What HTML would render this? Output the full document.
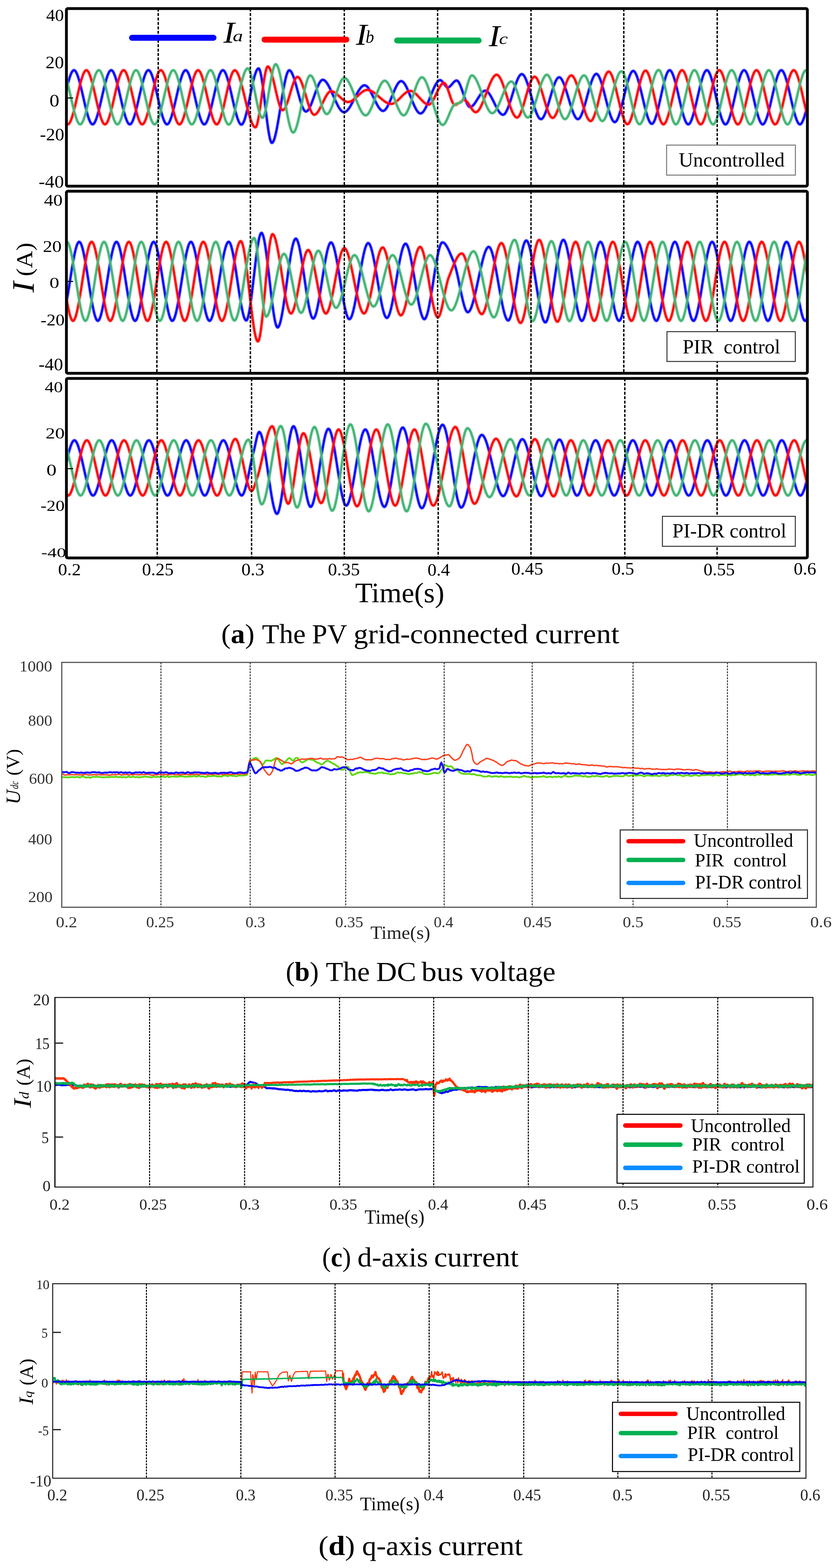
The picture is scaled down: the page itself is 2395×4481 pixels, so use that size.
<!DOCTYPE html>
<html><head><meta charset="utf-8"><title>PV grid-connected current, DC bus voltage, d/q-axis current</title>
<style>html,body{margin:0;padding:0;background:#fff;}svg{display:block;}text{white-space:pre;font-family:'Liberation Serif','Times New Roman',serif;}</style>
</head><body>
<svg xmlns="http://www.w3.org/2000/svg" width="2395" height="4481" viewBox="0 0 2395 4481">
<rect width="2395" height="4481" fill="#fff"/>
<filter id="soft" x="-2%" y="-10%" width="104%" height="120%"><feGaussianBlur stdDeviation="0.9"/></filter>
<clipPath id="ca0"><rect x="192.8" y="27.6" width="2111.7" height="501.4"/></clipPath>
<g clip-path="url(#ca0)"><g filter="url(#soft)">
<path d="M184.8 278 l1.5 -6.5 1.5 -6.6 1.5 -6.4 1.5 -6.3 1.5 -6.1 1.5 -5.9 1.5 -5.7 1.5 -5.4 1.5 -5 1.5 -4.7 1.5 -4.3 1.5 -3.8 1.5 -3.3 1.5 -2.7 1.5 -2.2 1.5 -1.5 1.5 -0.9 1.5 -0.2 1.5 0.6 1.5 1.2 1.5 1.9 1.5 2.5 1.5 3 1.5 3.6 1.5 4.1 1.5 4.4 1.5 4.9 1.5 5.2 1.5 5.6 1.5 5.8 1.5 6 1.5 6.3 1.5 6.3 1.5 6.5 1.5 6.5 1.5 6.6 1.5 6.5 1.5 6.5 1.5 6.4 1.5 6.2 1.5 6 1.5 5.8 1.5 5.5 1.5 5.2 1.5 4.9 1.5 4.4 1.5 4 1.5 3.6 1.5 3 1.5 2.4 1.5 1.9 1.5 1.2 1.5 0.5 1.5 -0.2 1.5 -1 1.5 -1.5 1.5 -2.3 1.5 -2.7 1.5 -3.4 1.5 -3.8 1.5 -4.3 1.5 -4.7 1.5 -5.1 1.5 -5.4 1.5 -5.7 1.5 -5.9 1.5 -6.1 1.5 -6.3 1.5 -6.5 1.5 -6.5 1.5 -6.5 1.5 -6.6 1.5 -6.5 1.5 -6.4 1.5 -6.3 1.5 -6.1 1.5 -5.9 1.5 -5.7 1.5 -5.3 1.5 -5.1 1.5 -4.6 1.5 -4.2 1.5 -3.8 1.5 -3.3 1.5 -2.7 1.5 -2.1 1.5 -1.5 1.5 -0.8 1.5 -0.2 1.5 0.6 1.5 1.3 1.5 2 1.5 2.5 1.5 3.1 1.5 3.6 1.5 4 1.5 4.6 1.5 4.9 1.5 5.2 1.5 5.6 1.5 5.8 1.5 6 1.5 6.3 1.5 6.4 1.5 6.4 1.5 6.6 1.5 6.5 1.5 6.6 1.5 6.4 1.5 6.4 1.5 6.2 1.5 6 1.5 5.8 1.5 5.5 1.5 5.2 1.5 4.8 1.5 4.4 1.5 4 1.5 3.5 1.5 3 1.5 2.4 1.5 1.8 1.5 1.1 1.5 0.5 1.5 -0.3 1.5 -0.9 1.5 -1.7 1.5 -2.2 1.5 -2.9 1.5 -3.3 1.5 -3.9 1.5 -4.3 1.5 -4.7 1.5 -5.1 1.5 -5.4 1.5 -5.7 1.5 -6 1.5 -6.2 1.5 -6.3 1.5 -6.4 1.5 -6.5 1.5 -6.6 1.5 -6.5 1.5 -6.5 1.5 -6.4 1.5 -6.3 1.5 -6.1 1.5 -5.9 1.5 -5.6 1.5 -5.4 1.5 -5 1.5 -4.6 1.5 -4.2 1.5 -3.7 1.5 -3.3 1.5 -2.6 1.5 -2.1 1.5 -1.5 1.5 -0.8 1.5 0 1.5 0.6 1.5 1.3 1.5 2 1.5 2.6 1.5 3.1 1.5 3.6 1.5 4.1 1.5 4.6 1.5 4.9 1.5 5.3 1.5 5.5 1.5 5.9 1.5 6.1 1.5 6.2 1.5 6.4 1.5 6.5 1.5 6.5 1.5 6.6 1.5 6.5 1.5 6.4 1.5 6.4 1.5 6.2 1.5 6 1.5 5.7 1.5 5.5 1.5 5.2 1.5 4.8 1.5 4.4 1.5 3.9 1.5 3.5 1.5 3 1.5 2.3 1.5 1.8 1.5 1.1 1.5 0.4 1.5 -0.3 1.5 -1 1.5 -1.7 1.5 -2.3 1.5 -2.9 1.5 -3.4 1.5 -3.9 1.5 -4.3 1.5 -4.7 1.5 -5.2 1.5 -5.4 1.5 -5.7 1.5 -6 1.5 -6.2 1.5 -6.3 1.5 -6.4 1.5 -6.6 1.5 -6.5 1.5 -6.6 1.5 -6.4 1.5 -6.4 1.5 -6.3 1.5 -6.1 1.5 -5.9 1.5 -5.6 1.5 -5.3 1.5 -5 1.5 -4.6 1.5 -4.2 1.5 -3.7 1.5 -3.2 1.5 -2.6 1.5 -2 1.5 -1.5 1.5 -0.7 1.5 0 1.5 0.7 1.5 1.3 1.5 2.1 1.5 2.6 1.5 3.1 1.5 3.7 1.5 4.1 1.5 4.6 1.5 4.9 1.5 5.3 1.5 5.6 1.5 5.9 1.5 6.1 1.5 6.2 1.5 6.4 1.5 6.5 1.5 6.6 1.5 6.5 1.5 6.5 1.5 6.5 1.5 6.3 1.5 6.2 1.5 6 1.5 5.7 1.5 5.5 1.5 5.1 1.5 4.8 1.5 4.4 1.5 3.9 1.5 3.4 1.5 2.9 1.5 2.4 1.5 1.7 1.5 1 1.5 0.4 1.5 -0.4 1.5 -1 1.5 -1.7 1.5 -2.4 1.5 -2.9 1.5 -3.4 1.5 -3.9 1.5 -4.4 1.5 -4.8 1.5 -5.1 1.5 -5.5 1.5 -5.7 1.5 -6 1.5 -6.2 1.5 -6.3 1.5 -6.5 1.5 -6.5 1.5 -6.5 1.5 -6.6 1.5 -6.5 1.5 -6.4 1.5 -6.2 1.5 -6.1 1.5 -5.9 1.5 -5.6 1.5 -5.3 1.5 -4.9 1.5 -4.6 1.5 -4.1 1.5 -3.7 1.5 -3.1 1.5 -2.6 1.5 -2.1 1.5 -1.3 1.5 -0.7 1.5 0 1.5 0.8 1.5 1.4 1.5 2.1 1.5 2.6 1.5 3.3 1.5 3.7 1.5 4.2 1.5 4.7 1.5 5 1.5 5.4 1.5 5.6 1.5 6 1.5 6.1 1.5 6.4 1.5 6.4 1.5 6.6 1.5 6.6 1.5 6.6 1.5 6.5 1.5 6.5 1.5 6.4 1.5 6.2 1.5 6 1.5 5.8 1.5 5.4 1.5 5.1 1.5 4.8 1.5 4.3 1.5 3.9 1.5 3.4 1.5 2.8 1.5 2.2 1.5 1.6 1.5 1 1.5 0.2 1.5 -0.6 1.5 -1.5 1.5 -2.2 1.5 -3 1.5 -3.6 1.5 -4.3 1.5 -4.8 1.5 -5.3 1.5 -5.8 1.5 -6.1 1.5 -6.5 1.5 -6.8 1.5 -7 1.5 -7.2 1.5 -7.3 1.5 -7.4 1.5 -7.4 1.5 -7.3 1.5 -7.2 1.5 -7.1 1.5 -6.9 1.5 -6.6 1.5 -6.2 1.5 -5.9 1.5 -5.4 1.5 -5 1.5 -4.4 1.5 -3.8 1.5 -3.2 1.5 -2.4 1.5 -1.7 1.5 -0.8 1.5 0.2 1.5 1.9 1.5 3.8 1.5 5.3 1.5 6.7 1.5 8.1 1.5 9.1 1.5 10.1 1.5 10.9 1.5 11.6 1.5 12.1 1.5 12.4 1.5 12.6 1.5 12.6 1.5 12.4 1.5 12.2 1.5 11.7 1.5 11.1 1.5 10.4 1.5 9.4 1.5 8.3 1.5 7.2 1.5 5.7 1.5 4.1 1.5 2.5 1.5 0.6 1.5 -0.8 1.5 -1.8 1.5 -2.8 1.5 -3.7 1.5 -4.6 1.5 -5.3 1.5 -6.1 1.5 -6.7 1.5 -7.2 1.5 -7.8 1.5 -8.2 1.5 -8.5 1.5 -8.9 1.5 -9.1 1.5 -9.2 1.5 -9.4 1.5 -9.4 1.5 -9.3 1.5 -9.2 1.5 -9.1 1.5 -8.8 1.5 -8.5 1.5 -8.1 1.5 -7.7 1.5 -7.1 1.5 -6.6 1.5 -5.9 1.5 -5.2 1.5 -4.4 1.5 -3.5 1.5 -2.6 1.5 -1.6 1.5 -0.6 1.5 0.3 1.5 1 1.5 1.7 1.5 2.2 1.5 2.7 1.5 3.2 1.5 3.6 1.5 4 1.5 4.4 1.5 4.7 1.5 4.9 1.5 5.2 1.5 5.3 1.5 5.4 1.5 5.6 1.5 5.5 1.5 5.6 1.5 5.5 1.5 5.4 1.5 5.3 1.5 5.1 1.5 4.9 1.5 4.6 1.5 4.3 1.5 3.9 1.5 3.5 1.5 3.1 1.5 2.6 1.5 2 1.5 1.5 1.5 0.8 1.5 0.2 1.5 -0.4 1.5 -0.9 1.5 -1.4 1.5 -1.7 1.5 -2.2 1.5 -2.5 1.5 -2.9 1.5 -3.1 1.5 -3.4 1.5 -3.6 1.5 -3.8 1.5 -4 1.5 -4.1 1.5 -4.2 1.5 -4.2 1.5 -4.3 1.5 -4.2 1.5 -4.2 1.5 -4.2 1.5 -4 1.5 -3.9 1.5 -3.7 1.5 -3.5 1.5 -3.2 1.5 -3 1.5 -2.6 1.5 -2.3 1.5 -2 1.5 -1.5 1.5 -1.1 1.5 -0.6 1.5 -0.1 1.5 0.3 1.5 0.6 1.5 0.9 1.5 1.1 1.5 1.5 1.5 1.6 1.5 2 1.5 2.1 1.5 2.3 1.5 2.5 1.5 2.7 1.5 2.8 1.5 3 1.5 3 1.5 3.2 1.5 3.2 1.5 3.4 1.5 3.3 1.5 3.4 1.5 3.4 1.5 3.5 1.5 3.4 1.5 3.3 1.5 3.4 1.5 3.2 1.5 3.2 1.5 3 1.5 3 1.5 2.8 1.5 2.7 1.5 2.5 1.5 2.3 1.5 2.1 1.5 2 1.5 1.6 1.5 1.5 1.5 1.1 1.5 0.9 1.5 0.6 1.5 0.3 1.5 -0.1 1.5 -0.3 1.5 -0.6 1.5 -0.9 1.5 -1.1 1.5 -1.4 1.5 -1.5 1.5 -1.8 1.5 -2 1.5 -2.1 1.5 -2.2 1.5 -2.5 1.5 -2.5 1.5 -2.6 1.5 -2.7 1.5 -2.8 1.5 -2.9 1.5 -2.9 1.5 -2.9 1.5 -3 1.5 -2.9 1.5 -3 1.5 -2.9 1.5 -2.8 1.5 -2.8 1.5 -2.7 1.5 -2.6 1.5 -2.5 1.5 -2.4 1.5 -2.3 1.5 -2 1.5 -2 1.5 -1.7 1.5 -1.5 1.5 -1.3 1.5 -1.1 1.5 -0.8 1.5 -0.6 1.5 -0.3 1.5 0 1.5 0.4 1.5 0.7 1.5 1 1.5 1.2 1.5 1.6 1.5 1.7 1.5 2 1.5 2.2 1.5 2.4 1.5 2.6 1.5 2.7 1.5 2.8 1.5 2.9 1.5 3 1.5 3 1.5 3.1 1.5 3.1 1.5 3.2 1.5 3.1 1.5 3 1.5 3 1.5 3 1.5 2.8 1.5 2.7 1.5 2.6 1.5 2.4 1.5 2.2 1.5 2 1.5 1.8 1.5 1.6 1.5 1.3 1.5 1 1.5 0.7 1.5 0.4 1.5 0.1 1.5 -0.4 1.5 -0.7 1.5 -1.1 1.5 -1.5 1.5 -1.8 1.5 -2.1 1.5 -2.3 1.5 -2.6 1.5 -2.9 1.5 -3 1.5 -3.2 1.5 -3.4 1.5 -3.4 1.5 -3.6 1.5 -3.6 1.5 -3.7 1.5 -3.7 1.5 -3.7 1.5 -3.7 1.5 -3.6 1.5 -3.6 1.5 -3.4 1.5 -3.3 1.5 -3.2 1.5 -3 1.5 -2.8 1.5 -2.6 1.5 -2.3 1.5 -2 1.5 -1.7 1.5 -1.4 1.5 -1.1 1.5 -0.6 1.5 -0.3 1.5 0.2 1.5 0.5 1.5 0.9 1.5 1.3 1.5 1.5 1.5 1.9 1.5 2.2 1.5 2.4 1.5 2.6 1.5 2.9 1.5 3.1 1.5 3.2 1.5 3.3 1.5 3.5 1.5 3.6 1.5 3.7 1.5 3.7 1.5 3.8 1.5 3.8 1.5 3.7 1.5 3.8 1.5 3.6 1.5 3.6 1.5 3.5 1.5 3.4 1.5 3.2 1.5 3.1 1.5 2.9 1.5 2.6 1.5 2.5 1.5 2.2 1.5 1.9 1.5 1.6 1.5 1.2 1.5 1 1.5 0.5 1.5 0.2 1.5 -0.2 1.5 -0.6 1.5 -1 1.5 -1.3 1.5 -1.6 1.5 -2 1.5 -2.2 1.5 -2.4 1.5 -2.7 1.5 -2.9 1.5 -3.1 1.5 -3.2 1.5 -3.4 1.5 -3.5 1.5 -3.6 1.5 -3.7 1.5 -3.8 1.5 -3.8 1.5 -3.8 1.5 -3.8 1.5 -3.8 1.5 -3.7 1.5 -3.6 1.5 -3.6 1.5 -3.4 1.5 -3.4 1.5 -3.1 1.5 -3 1.5 -2.7 1.5 -2.6 1.5 -2.3 1.5 -2 1.5 -1.8 1.5 -1.4 1.5 -1.1 1.5 -0.8 1.5 -0.4 1.5 0.1 1.5 0.6 1.5 1 1.5 1.4 1.5 1.8 1.5 1.9 1.5 2.1 1.5 2.2 1.5 2.1 1.5 2.1 1.5 1.8 1.5 1.6 1.5 1.2 1.5 0.8 1.5 0.2 1.5 -0.2 1.5 -0.6 1.5 -0.9 1.5 -1.2 1.5 -1.4 1.5 -1.6 1.5 -1.7 1.5 -1.7 1.5 -1.8 1.5 -1.7 1.5 -1.7 1.5 -1.5 1.5 -1.3 1.5 -1.1 1.5 -0.9 1.5 -0.5 1.5 -0.1 1.5 0.5 1.5 1.1 1.5 1.7 1.5 2.2 1.5 2.7 1.5 3.1 1.5 3.4 1.5 3.8 1.5 4 1.5 4.2 1.5 4.3 1.5 4.5 1.5 4.4 1.5 4.5 1.5 4.3 1.5 4.3 1.5 4 1.5 3.8 1.5 3.5 1.5 3.1 1.5 2.8 1.5 2.3 1.5 1.7 1.5 1.2 1.5 0.6 1.5 -0.1 1.5 -0.3 1.5 -0.7 1.5 -1 1.5 -1.1 1.5 -1.5 1.5 -1.6 1.5 -1.8 1.5 -1.9 1.5 -2.1 1.5 -2.2 1.5 -2.3 1.5 -2.4 1.5 -2.4 1.5 -2.4 1.5 -2.4 1.5 -2.4 1.5 -2.4 1.5 -2.3 1.5 -2.1 1.5 -2.1 1.5 -1.9 1.5 -1.8 1.5 -1.5 1.5 -1.4 1.5 -1.1 1.5 -0.9 1.5 -0.6 1.5 -0.3 1.5 0.1 1.5 0.3 1.5 0.8 1.5 1 1.5 1.3 1.5 1.5 1.5 1.8 1.5 2.1 1.5 2.2 1.5 2.4 1.5 2.5 1.5 2.7 1.5 2.8 1.5 2.9 1.5 3 1.5 3 1.5 3.1 1.5 3 1.5 3.1 1.5 3 1.5 2.9 1.5 2.9 1.5 2.8 1.5 2.6 1.5 2.5 1.5 2.4 1.5 2.1 1.5 2 1.5 1.7 1.5 1.5 1.5 1.2 1.5 0.9 1.5 0.6 1.5 0.3 1.5 -0.1 1.5 -0.7 1.5 -1.1 1.5 -1.6 1.5 -2.1 1.5 -2.4 1.5 -2.8 1.5 -3.1 1.5 -3.5 1.5 -3.7 1.5 -4 1.5 -4.2 1.5 -4.4 1.5 -4.5 1.5 -4.7 1.5 -4.7 1.5 -4.9 1.5 -4.8 1.5 -4.9 1.5 -4.9 1.5 -4.7 1.5 -4.7 1.5 -4.6 1.5 -4.5 1.5 -4.2 1.5 -4.1 1.5 -3.8 1.5 -3.5 1.5 -3.3 1.5 -2.9 1.5 -2.6 1.5 -2.1 1.5 -1.8 1.5 -1.3 1.5 -0.8 1.5 -0.3 1.5 0.2 1.5 0.9 1.5 1.3 1.5 1.8 1.5 2.3 1.5 2.7 1.5 3 1.5 3.5 1.5 3.8 1.5 4.1 1.5 4.3 1.5 4.6 1.5 4.8 1.5 4.9 1.5 5.1 1.5 5.2 1.5 5.2 1.5 5.3 1.5 5.3 1.5 5.3 1.5 5.3 1.5 5.1 1.5 5 1.5 4.9 1.5 4.7 1.5 4.5 1.5 4.2 1.5 3.9 1.5 3.7 1.5 3.2 1.5 3 1.5 2.5 1.5 2 1.5 1.6 1.5 1.1 1.5 0.5 1.5 0 1.5 -0.6 1.5 -1.1 1.5 -1.7 1.5 -2.1 1.5 -2.6 1.5 -3 1.5 -3.3 1.5 -3.7 1.5 -4 1.5 -4.3 1.5 -4.5 1.5 -4.7 1.5 -4.8 1.5 -5 1.5 -5.1 1.5 -5.2 1.5 -5.1 1.5 -5.2 1.5 -5.1 1.5 -5.1 1.5 -4.9 1.5 -4.8 1.5 -4.7 1.5 -4.4 1.5 -4.1 1.5 -3.9 1.5 -3.6 1.5 -3.2 1.5 -2.8 1.5 -2.4 1.5 -1.9 1.5 -1.5 1.5 -0.9 1.5 -0.4 1.5 0.2 1.5 0.7 1.5 1.3 1.5 1.7 1.5 2.1 1.5 2.6 1.5 2.9 1.5 3.3 1.5 3.6 1.5 3.9 1.5 4.1 1.5 4.4 1.5 4.5 1.5 4.7 1.5 4.8 1.5 4.9 1.5 5 1.5 5 1.5 5 1.5 5 1.5 5 1.5 4.8 1.5 4.7 1.5 4.5 1.5 4.4 1.5 4.1 1.5 3.9 1.5 3.7 1.5 3.3 1.5 2.9 1.5 2.6 1.5 2.2 1.5 1.7 1.5 1.3 1.5 0.8 1.5 0.2 1.5 -0.4 1.5 -0.9 1.5 -1.5 1.5 -2 1.5 -2.5 1.5 -3 1.5 -3.3 1.5 -3.8 1.5 -4 1.5 -4.4 1.5 -4.7 1.5 -4.9 1.5 -5 1.5 -5.3 1.5 -5.4 1.5 -5.4 1.5 -5.5 1.5 -5.6 1.5 -5.5 1.5 -5.4 1.5 -5.4 1.5 -5.3 1.5 -5 1.5 -4.9 1.5 -4.7 1.5 -4.4 1.5 -4 1.5 -3.8 1.5 -3.3 1.5 -3 1.5 -2.5 1.5 -2 1.5 -1.5 1.5 -0.9 1.5 -0.4 1.5 0.3 1.5 0.9 1.5 1.5 1.5 2.1 1.5 2.6 1.5 3.1 1.5 3.6 1.5 3.9 1.5 4.3 1.5 4.6 1.5 5 1.5 5.2 1.5 5.4 1.5 5.5 1.5 5.8 1.5 5.8 1.5 5.9 1.5 5.9 1.5 5.8 1.5 5.9 1.5 5.7 1.5 5.6 1.5 5.5 1.5 5.2 1.5 5 1.5 4.7 1.5 4.4 1.5 4 1.5 3.6 1.5 3.2 1.5 2.7 1.5 2.2 1.5 1.6 1.5 1.1 1.5 0.4 1.5 -0.3 1.5 -0.9 1.5 -1.6 1.5 -2.1 1.5 -2.7 1.5 -3.3 1.5 -3.7 1.5 -4.1 1.5 -4.6 1.5 -4.9 1.5 -5.2 1.5 -5.4 1.5 -5.7 1.5 -5.9 1.5 -6.1 1.5 -6.1 1.5 -6.2 1.5 -6.3 1.5 -6.2 1.5 -6.2 1.5 -6.1 1.5 -5.9 1.5 -5.8 1.5 -5.6 1.5 -5.3 1.5 -5 1.5 -4.7 1.5 -4.3 1.5 -3.9 1.5 -3.4 1.5 -2.9 1.5 -2.4 1.5 -1.9 1.5 -1.1 1.5 -0.6 1.5 0.2 1.5 0.8 1.5 1.5 1.5 2.2 1.5 2.6 1.5 3.3 1.5 3.6 1.5 4.2 1.5 4.5 1.5 5 1.5 5.2 1.5 5.5 1.5 5.8 1.5 6 1.5 6.1 1.5 6.3 1.5 6.3 1.5 6.4 1.5 6.4 1.5 6.3 1.5 6.3 1.5 6.1 1.5 6 1.5 5.8 1.5 5.5 1.5 5.3 1.5 4.9 1.5 4.6 1.5 4.2 1.5 3.7 1.5 3.3 1.5 2.7 1.5 2.1 1.5 1.6 1.5 0.9 1.5 0.2 1.5 -0.6 1.5 -1.3 1.5 -2 1.5 -2.6 1.5 -3.2 1.5 -3.8 1.5 -4.4 1.5 -4.7 1.5 -5.2 1.5 -5.6 1.5 -5.9 1.5 -6.1 1.5 -6.4 1.5 -6.5 1.5 -6.7 1.5 -6.8 1.5 -6.8 1.5 -6.7 1.5 -6.8 1.5 -6.6 1.5 -6.4 1.5 -6.3 1.5 -6 1.5 -5.7 1.5 -5.4 1.5 -5 1.5 -4.5 1.5 -4 1.5 -3.6 1.5 -2.9 1.5 -2.3 1.5 -1.6 1.5 -0.9 1.5 -0.2 1.5 0.6 1.5 1.3 1.5 2 1.5 2.5 1.5 3.1 1.5 3.6 1.5 4 1.5 4.6 1.5 4.9 1.5 5.2 1.5 5.6 1.5 5.8 1.5 6 1.5 6.3 1.5 6.4 1.5 6.4 1.5 6.6 1.5 6.5 1.5 6.6 1.5 6.4 1.5 6.4 1.5 6.2 1.5 6 1.5 5.8 1.5 5.5 1.5 5.2 1.5 4.8 1.5 4.4 1.5 4 1.5 3.5 1.5 3 1.5 2.4 1.5 1.8 1.5 1.1 1.5 0.5 1.5 -0.3 1.5 -0.9 1.5 -1.7 1.5 -2.2 1.5 -2.9 1.5 -3.3 1.5 -3.9 1.5 -4.3 1.5 -4.7 1.5 -5.1 1.5 -5.4 1.5 -5.7 1.5 -6 1.5 -6.2 1.5 -6.3 1.5 -6.4 1.5 -6.5 1.5 -6.6 1.5 -6.5 1.5 -6.5 1.5 -6.4 1.5 -6.3 1.5 -6.1 1.5 -5.9 1.5 -5.6 1.5 -5.4 1.5 -5 1.5 -4.6 1.5 -4.2 1.5 -3.7 1.5 -3.3 1.5 -2.6 1.5 -2.1 1.5 -1.5 1.5 -0.8 1.5 0 1.5 0.6 1.5 1.3 1.5 2 1.5 2.6 1.5 3.1 1.5 3.6 1.5 4.1 1.5 4.6 1.5 4.9 1.5 5.3 1.5 5.5 1.5 5.9 1.5 6.1 1.5 6.2 1.5 6.4 1.5 6.5 1.5 6.5 1.5 6.6 1.5 6.5 1.5 6.4 1.5 6.4 1.5 6.2 1.5 6 1.5 5.7 1.5 5.5 1.5 5.2 1.5 4.8 1.5 4.4 1.5 3.9 1.5 3.5 1.5 3 1.5 2.3 1.5 1.8 1.5 1.1 1.5 0.4 1.5 -0.3 1.5 -1 1.5 -1.7 1.5 -2.3 1.5 -2.9 1.5 -3.4 1.5 -3.9 1.5 -4.3 1.5 -4.7 1.5 -5.2 1.5 -5.4 1.5 -5.7 1.5 -6 1.5 -6.2 1.5 -6.3 1.5 -6.4 1.5 -6.6 1.5 -6.5 1.5 -6.6 1.5 -6.4 1.5 -6.4 1.5 -6.3 1.5 -6.1 1.5 -5.9 1.5 -5.6 1.5 -5.3 1.5 -5 1.5 -4.6 1.5 -4.2 1.5 -3.7 1.5 -3.2 1.5 -2.6 1.5 -2 1.5 -1.5 1.5 -0.7 1.5 0 1.5 0.7 1.5 1.3 1.5 2.1 1.5 2.6 1.5 3.1 1.5 3.7 1.5 4.1 1.5 4.6 1.5 4.9 1.5 5.3 1.5 5.6 1.5 5.9 1.5 6.1 1.5 6.2 1.5 6.4 1.5 6.5 1.5 6.6 1.5 6.5 1.5 6.5 1.5 6.5 1.5 6.3 1.5 6.2 1.5 6 1.5 5.7 1.5 5.5 1.5 5.1 1.5 4.8 1.5 4.4 1.5 3.9 1.5 3.4 1.5 2.9 1.5 2.4 1.5 1.7 1.5 1 1.5 0.4 1.5 -0.4 1.5 -1 1.5 -1.7 1.5 -2.4 1.5 -2.9 1.5 -3.4 1.5 -3.9 1.5 -4.4 1.5 -4.8 1.5 -5.1 1.5 -5.5 1.5 -5.7 1.5 -6 1.5 -6.2 1.5 -6.3 1.5 -6.5 1.5 -6.5 1.5 -6.5 1.5 -6.6 1.5 -6.5 1.5 -6.4 1.5 -6.2 1.5 -6.1 1.5 -5.9 1.5 -5.6 1.5 -5.3 1.5 -4.9 1.5 -4.6 1.5 -4.1 1.5 -3.7 1.5 -3.1 1.5 -2.6 1.5 -2.1 1.5 -1.3 1.5 -0.7 1.5 0 1.5 0.7 1.5 1.5 1.5 2 1.5 2.6 1.5 3.2 1.5 3.7 1.5 4.2 1.5 4.6 1.5 5 1.5 5.3 1.5 5.6 1.5 5.9 1.5 6.1 1.5 6.3 1.5 6.4 1.5 6.4 1.5 6.6 1.5 6.5 1.5 6.6 1.5 6.4 1.5 6.3 1.5 6.2 1.5 6 1.5 5.7 1.5 5.4 1.5 5.2 1.5 4.7 1.5 4.3 1.5 3.9 1.5 3.4 1.5 2.9 1.5 2.3 1.5 1.7 1.5 1 1.5 0.3 1.5 -0.4 1.5 -1.1 1.5 -1.8 1.5 -2.3 1.5 -3 1.5 -3.5 1.5 -3.9 1.5 -4.4 1.5 -4.8 1.5 -5.2 1.5 -5.5 1.5 -5.7 1.5 -6 1.5 -6.2 1.5 -6.4 1.5 -6.4 1.5 -6.5 1.5 -6.6" fill="none" stroke="#0000ff" stroke-width="7.00" stroke-linejoin="round" stroke-linecap="round"/>
<path d="M184.8 344 l1.5 3.4 1.5 2.9 1.5 2.2 1.5 1.7 1.5 1 1.5 0.3 1.5 -0.4 1.5 -1.1 1.5 -1.8 1.5 -2.4 1.5 -3 1.5 -3.4 1.5 -4 1.5 -4.4 1.5 -4.8 1.5 -5.2 1.5 -5.5 1.5 -5.7 1.5 -6 1.5 -6.2 1.5 -6.4 1.5 -6.5 1.5 -6.5 1.5 -6.5 1.5 -6.6 1.5 -6.5 1.5 -6.3 1.5 -6.3 1.5 -6 1.5 -5.9 1.5 -5.6 1.5 -5.2 1.5 -4.9 1.5 -4.6 1.5 -4.1 1.5 -3.6 1.5 -3.1 1.5 -2.6 1.5 -1.9 1.5 -1.3 1.5 -0.6 1.5 0 1.5 0.8 1.5 1.5 1.5 2.1 1.5 2.7 1.5 3.3 1.5 3.7 1.5 4.2 1.5 4.6 1.5 5 1.5 5.4 1.5 5.6 1.5 5.9 1.5 6.1 1.5 6.3 1.5 6.4 1.5 6.5 1.5 6.6 1.5 6.5 1.5 6.5 1.5 6.5 1.5 6.3 1.5 6.1 1.5 6 1.5 5.7 1.5 5.4 1.5 5.1 1.5 4.7 1.5 4.3 1.5 3.9 1.5 3.3 1.5 2.8 1.5 2.3 1.5 1.6 1.5 0.9 1.5 0.3 1.5 -0.5 1.5 -1.1 1.5 -1.9 1.5 -2.4 1.5 -3 1.5 -3.5 1.5 -4 1.5 -4.4 1.5 -4.9 1.5 -5.1 1.5 -5.6 1.5 -5.7 1.5 -6.1 1.5 -6.2 1.5 -6.3 1.5 -6.5 1.5 -6.5 1.5 -6.6 1.5 -6.5 1.5 -6.5 1.5 -6.4 1.5 -6.2 1.5 -6 1.5 -5.9 1.5 -5.5 1.5 -5.3 1.5 -4.9 1.5 -4.5 1.5 -4 1.5 -3.6 1.5 -3.1 1.5 -2.5 1.5 -1.9 1.5 -1.3 1.5 -0.6 1.5 0.2 1.5 0.8 1.5 1.5 1.5 2.2 1.5 2.7 1.5 3.3 1.5 3.8 1.5 4.2 1.5 4.7 1.5 5 1.5 5.3 1.5 5.7 1.5 5.9 1.5 6.1 1.5 6.3 1.5 6.5 1.5 6.5 1.5 6.5 1.5 6.6 1.5 6.5 1.5 6.4 1.5 6.3 1.5 6.1 1.5 6 1.5 5.7 1.5 5.4 1.5 5 1.5 4.7 1.5 4.3 1.5 3.8 1.5 3.3 1.5 2.8 1.5 2.2 1.5 1.6 1.5 0.9 1.5 0.2 1.5 -0.5 1.5 -1.2 1.5 -1.9 1.5 -2.5 1.5 -3 1.5 -3.5 1.5 -4.1 1.5 -4.4 1.5 -4.9 1.5 -5.2 1.5 -5.5 1.5 -5.8 1.5 -6.1 1.5 -6.2 1.5 -6.3 1.5 -6.5 1.5 -6.6 1.5 -6.5 1.5 -6.5 1.5 -6.5 1.5 -6.4 1.5 -6.2 1.5 -6 1.5 -5.8 1.5 -5.6 1.5 -5.2 1.5 -4.9 1.5 -4.4 1.5 -4.1 1.5 -3.5 1.5 -3.1 1.5 -2.4 1.5 -1.9 1.5 -1.2 1.5 -0.6 1.5 0.2 1.5 0.9 1.5 1.6 1.5 2.1 1.5 2.8 1.5 3.3 1.5 3.8 1.5 4.3 1.5 4.7 1.5 5 1.5 5.4 1.5 5.7 1.5 5.9 1.5 6.2 1.5 6.3 1.5 6.4 1.5 6.5 1.5 6.5 1.5 6.6 1.5 6.5 1.5 6.4 1.5 6.3 1.5 6.1 1.5 6 1.5 5.6 1.5 5.4 1.5 5 1.5 4.7 1.5 4.3 1.5 3.7 1.5 3.3 1.5 2.8 1.5 2.1 1.5 1.6 1.5 0.8 1.5 0.2 1.5 -0.6 1.5 -1.3 1.5 -1.9 1.5 -2.5 1.5 -3 1.5 -3.6 1.5 -4 1.5 -4.5 1.5 -4.9 1.5 -5.3 1.5 -5.5 1.5 -5.8 1.5 -6.1 1.5 -6.2 1.5 -6.4 1.5 -6.5 1.5 -6.5 1.5 -6.5 1.5 -6.6 1.5 -6.4 1.5 -6.4 1.5 -6.2 1.5 -6 1.5 -5.8 1.5 -5.5 1.5 -5.2 1.5 -4.9 1.5 -4.4 1.5 -4 1.5 -3.6 1.5 -3 1.5 -2.4 1.5 -1.8 1.5 -1.2 1.5 -0.5 1.5 0.2 1.5 1 1.5 1.6 1.5 2.2 1.5 2.8 1.5 3.4 1.5 3.8 1.5 4.3 1.5 4.7 1.5 5.1 1.5 5.4 1.5 5.7 1.5 5.9 1.5 6.2 1.5 6.3 1.5 6.4 1.5 6.5 1.5 6.6 1.5 6.5 1.5 6.5 1.5 6.4 1.5 6.3 1.5 6.1 1.5 5.9 1.5 5.7 1.5 5.3 1.5 5.1 1.5 4.6 1.5 4.2 1.5 3.8 1.5 3.2 1.5 2.7 1.5 2.1 1.5 1.5 1.5 0.8 1.5 0.2 1.5 -0.7 1.5 -1.4 1.5 -2 1.5 -2.7 1.5 -3.2 1.5 -3.8 1.5 -4.3 1.5 -4.7 1.5 -5.2 1.5 -5.5 1.5 -5.8 1.5 -6 1.5 -6.3 1.5 -6.5 1.5 -6.6 1.5 -6.7 1.5 -6.7 1.5 -6.7 1.5 -6.7 1.5 -6.6 1.5 -6.4 1.5 -6.2 1.5 -6 1.5 -5.8 1.5 -5.4 1.5 -5 1.5 -4.7 1.5 -4.2 1.5 -3.6 1.5 -3.2 1.5 -2.5 1.5 -1.9 1.5 -1.2 1.5 -0.5 1.5 0.2 1.5 0.9 1.5 1.4 1.5 1.9 1.5 2.5 1.5 2.9 1.5 3.4 1.5 3.8 1.5 4.1 1.5 4.6 1.5 4.8 1.5 5.1 1.5 5.4 1.5 5.5 1.5 5.8 1.5 5.9 1.5 6.1 1.5 6.1 1.5 6.2 1.5 6.2 1.5 6.3 1.5 6.1 1.5 6.1 1.5 6 1.5 5.9 1.5 5.7 1.5 5.5 1.5 5.3 1.5 5 1.5 4.7 1.5 4.4 1.5 4 1.5 3.6 1.5 3.2 1.5 2.8 1.5 2.2 1.5 1.8 1.5 1.1 1.5 0.6 1.5 -0.2 1.5 -1.8 1.5 -3.5 1.5 -4.9 1.5 -6.2 1.5 -7.4 1.5 -8.4 1.5 -9.2 1.5 -9.9 1.5 -10.4 1.5 -10.7 1.5 -11 1.5 -11 1.5 -10.9 1.5 -10.7 1.5 -10.2 1.5 -9.6 1.5 -8.9 1.5 -8 1.5 -6.9 1.5 -5.8 1.5 -4.3 1.5 -2.8 1.5 -1.2 1.5 0.3 1.5 1.3 1.5 2 1.5 2.7 1.5 3.5 1.5 4.1 1.5 4.6 1.5 5.1 1.5 5.5 1.5 5.8 1.5 6.2 1.5 6.3 1.5 6.5 1.5 6.6 1.5 6.6 1.5 6.6 1.5 6.5 1.5 6.2 1.5 6.1 1.5 5.7 1.5 5.3 1.5 4.9 1.5 4.4 1.5 3.9 1.5 3.1 1.5 2.5 1.5 1.7 1.5 0.9 1.5 0 1.5 -0.7 1.5 -1.4 1.5 -1.9 1.5 -2.5 1.5 -2.9 1.5 -3.4 1.5 -3.8 1.5 -4.1 1.5 -4.4 1.5 -4.6 1.5 -4.8 1.5 -5 1.5 -5 1.5 -5.1 1.5 -5 1.5 -5 1.5 -4.8 1.5 -4.7 1.5 -4.4 1.5 -4.2 1.5 -3.9 1.5 -3.4 1.5 -3.1 1.5 -2.6 1.5 -2 1.5 -1.5 1.5 -0.8 1.5 -0.2 1.5 0.5 1.5 1.1 1.5 1.6 1.5 2.1 1.5 2.7 1.5 3 1.5 3.4 1.5 3.8 1.5 4.1 1.5 4.4 1.5 4.6 1.5 4.7 1.5 5 1.5 5 1.5 5.1 1.5 5.1 1.5 5.1 1.5 5 1.5 5 1.5 4.8 1.5 4.6 1.5 4.4 1.5 4.2 1.5 3.8 1.5 3.5 1.5 3.2 1.5 2.7 1.5 2.2 1.5 1.7 1.5 1.2 1.5 0.6 1.5 0 1.5 -0.3 1.5 -0.8 1.5 -1.1 1.5 -1.4 1.5 -1.6 1.5 -2 1.5 -2.1 1.5 -2.4 1.5 -2.6 1.5 -2.7 1.5 -2.8 1.5 -3 1.5 -3 1.5 -3.1 1.5 -3.2 1.5 -3.1 1.5 -3.2 1.5 -3.1 1.5 -3 1.5 -3 1.5 -2.8 1.5 -2.7 1.5 -2.6 1.5 -2.3 1.5 -2.2 1.5 -1.9 1.5 -1.6 1.5 -1.4 1.5 -1.1 1.5 -0.7 1.5 -0.4 1.5 0 1.5 0.2 1.5 0.3 1.5 0.5 1.5 0.6 1.5 0.8 1.5 0.8 1.5 1 1.5 1 1.5 1.2 1.5 1.2 1.5 1.2 1.5 1.4 1.5 1.3 1.5 1.4 1.5 1.4 1.5 1.4 1.5 1.4 1.5 1.5 1.5 1.3 1.5 1.4 1.5 1.3 1.5 1.2 1.5 1.2 1.5 1.1 1.5 1 1.5 0.9 1.5 0.9 1.5 0.6 1.5 0.6 1.5 0.4 1.5 0.3 1.5 0.1 1.5 -0.1 1.5 -0.2 1.5 -0.3 1.5 -0.5 1.5 -0.6 1.5 -0.7 1.5 -0.9 1.5 -0.9 1.5 -1 1.5 -1.1 1.5 -1.2 1.5 -1.2 1.5 -1.3 1.5 -1.3 1.5 -1.4 1.5 -1.4 1.5 -1.4 1.5 -1.4 1.5 -1.4 1.5 -1.5 1.5 -1.4 1.5 -1.4 1.5 -1.3 1.5 -1.3 1.5 -1.3 1.5 -1.2 1.5 -1.1 1.5 -1.1 1.5 -1 1.5 -0.8 1.5 -0.8 1.5 -0.7 1.5 -0.5 1.5 -0.5 1.5 -0.2 1.5 -0.2 1.5 0 1.5 0.1 1.5 0.3 1.5 0.3 1.5 0.4 1.5 0.6 1.5 0.6 1.5 0.6 1.5 0.8 1.5 0.8 1.5 1 1.5 0.9 1.5 1 1.5 1.1 1.5 1.1 1.5 1.2 1.5 1.2 1.5 1.2 1.5 1.3 1.5 1.2 1.5 1.3 1.5 1.3 1.5 1.4 1.5 1.3 1.5 1.3 1.5 1.3 1.5 1.3 1.5 1.2 1.5 1.3 1.5 1.2 1.5 1.2 1.5 1.1 1.5 1.1 1.5 1 1.5 1 1.5 1 1.5 0.9 1.5 0.8 1.5 0.7 1.5 0.6 1.5 0.6 1.5 0.5 1.5 0.4 1.5 0.2 1.5 0.2 1.5 0.1 1.5 -0.1 1.5 -0.2 1.5 -0.4 1.5 -0.5 1.5 -0.6 1.5 -0.8 1.5 -0.9 1.5 -1 1.5 -1.1 1.5 -1.1 1.5 -1.3 1.5 -1.3 1.5 -1.4 1.5 -1.4 1.5 -1.5 1.5 -1.5 1.5 -1.5 1.5 -1.5 1.5 -1.6 1.5 -1.5 1.5 -1.5 1.5 -1.5 1.5 -1.5 1.5 -1.4 1.5 -1.3 1.5 -1.3 1.5 -1.3 1.5 -1.1 1.5 -1.1 1.5 -0.9 1.5 -0.9 1.5 -0.7 1.5 -0.6 1.5 -0.5 1.5 -0.3 1.5 -0.2 1.5 0 1.5 0.2 1.5 0.4 1.5 0.5 1.5 0.6 1.5 0.9 1.5 0.9 1.5 1.1 1.5 1.1 1.5 1.3 1.5 1.4 1.5 1.4 1.5 1.5 1.5 1.6 1.5 1.6 1.5 1.6 1.5 1.7 1.5 1.6 1.5 1.7 1.5 1.7 1.5 1.6 1.5 1.6 1.5 1.6 1.5 1.5 1.5 1.5 1.5 1.3 1.5 1.3 1.5 1.2 1.5 1.1 1.5 1 1.5 0.8 1.5 0.7 1.5 0.6 1.5 0.3 1.5 0.3 1.5 0 1.5 -0.4 1.5 -0.7 1.5 -1.2 1.5 -1.4 1.5 -1.8 1.5 -2.1 1.5 -2.3 1.5 -2.5 1.5 -2.7 1.5 -2.9 1.5 -3 1.5 -3.1 1.5 -3.1 1.5 -3.2 1.5 -3.2 1.5 -3.2 1.5 -3.1 1.5 -3 1.5 -3 1.5 -2.7 1.5 -2.6 1.5 -2.4 1.5 -2.1 1.5 -1.9 1.5 -1.6 1.5 -1.2 1.5 -0.9 1.5 -0.5 1.5 -0.1 1.5 0.7 1.5 1.5 1.5 2.1 1.5 2.8 1.5 3.2 1.5 3.7 1.5 4 1.5 4.2 1.5 4.5 1.5 4.5 1.5 4.5 1.5 4.5 1.5 4.3 1.5 4 1.5 3.7 1.5 3.3 1.5 2.8 1.5 2.3 1.5 1.5 1.5 0.8 1.5 0.1 1.5 -0.3 1.5 -0.5 1.5 -0.6 1.5 -0.8 1.5 -1 1.5 -1 1.5 -1.1 1.5 -1.2 1.5 -1.1 1.5 -1.2 1.5 -1.1 1.5 -1 1.5 -0.9 1.5 -0.8 1.5 -0.7 1.5 -0.4 1.5 -0.3 1.5 0.1 1.5 0.4 1.5 0.8 1.5 1.2 1.5 1.4 1.5 1.7 1.5 1.9 1.5 2.1 1.5 2.2 1.5 2.4 1.5 2.4 1.5 2.3 1.5 2.4 1.5 2.3 1.5 2.2 1.5 2 1.5 1.9 1.5 1.6 1.5 1.4 1.5 1 1.5 0.7 1.5 0.3 1.5 -0.1 1.5 -0.5 1.5 -0.9 1.5 -1.2 1.5 -1.6 1.5 -1.8 1.5 -2.2 1.5 -2.4 1.5 -2.6 1.5 -2.9 1.5 -3.1 1.5 -3.2 1.5 -3.5 1.5 -3.6 1.5 -3.7 1.5 -3.8 1.5 -3.9 1.5 -3.9 1.5 -4 1.5 -4 1.5 -4.1 1.5 -4 1.5 -3.9 1.5 -3.9 1.5 -3.9 1.5 -3.7 1.5 -3.6 1.5 -3.5 1.5 -3.3 1.5 -3.2 1.5 -2.9 1.5 -2.8 1.5 -2.5 1.5 -2.2 1.5 -1.9 1.5 -1.7 1.5 -1.3 1.5 -1 1.5 -0.6 1.5 -0.3 1.5 0.2 1.5 0.6 1.5 1.1 1.5 1.5 1.5 1.9 1.5 2.3 1.5 2.6 1.5 2.9 1.5 3.2 1.5 3.5 1.5 3.7 1.5 3.9 1.5 4.2 1.5 4.3 1.5 4.4 1.5 4.5 1.5 4.7 1.5 4.6 1.5 4.8 1.5 4.7 1.5 4.8 1.5 4.6 1.5 4.7 1.5 4.5 1.5 4.4 1.5 4.3 1.5 4.2 1.5 3.9 1.5 3.7 1.5 3.5 1.5 3.2 1.5 2.9 1.5 2.6 1.5 2.3 1.5 1.9 1.5 1.5 1.5 1.1 1.5 0.6 1.5 0.2 1.5 -0.4 1.5 -1 1.5 -1.5 1.5 -2 1.5 -2.5 1.5 -3 1.5 -3.3 1.5 -3.7 1.5 -4.1 1.5 -4.3 1.5 -4.5 1.5 -4.8 1.5 -4.9 1.5 -5.1 1.5 -5.2 1.5 -5.2 1.5 -5.3 1.5 -5.2 1.5 -5.2 1.5 -5.1 1.5 -4.9 1.5 -4.8 1.5 -4.6 1.5 -4.4 1.5 -4 1.5 -3.8 1.5 -3.4 1.5 -3 1.5 -2.6 1.5 -2.1 1.5 -1.6 1.5 -1 1.5 -0.5 1.5 0.2 1.5 0.7 1.5 1.2 1.5 1.8 1.5 2.2 1.5 2.6 1.5 3.1 1.5 3.4 1.5 3.8 1.5 4 1.5 4.3 1.5 4.5 1.5 4.7 1.5 4.9 1.5 5 1.5 5.1 1.5 5.1 1.5 5.1 1.5 5.2 1.5 5 1.5 5 1.5 4.9 1.5 4.7 1.5 4.5 1.5 4.3 1.5 4 1.5 3.7 1.5 3.4 1.5 3 1.5 2.7 1.5 2.2 1.5 1.7 1.5 1.2 1.5 0.7 1.5 0.1 1.5 -0.5 1.5 -1 1.5 -1.5 1.5 -1.9 1.5 -2.4 1.5 -2.8 1.5 -3.2 1.5 -3.5 1.5 -3.8 1.5 -4.1 1.5 -4.3 1.5 -4.6 1.5 -4.7 1.5 -4.8 1.5 -5 1.5 -5 1.5 -5.1 1.5 -5.2 1.5 -5.1 1.5 -5 1.5 -5 1.5 -4.8 1.5 -4.7 1.5 -4.6 1.5 -4.3 1.5 -4.1 1.5 -3.8 1.5 -3.5 1.5 -3.2 1.5 -2.8 1.5 -2.4 1.5 -1.9 1.5 -1.5 1.5 -1 1.5 -0.5 1.5 0.1 1.5 0.7 1.5 1.2 1.5 1.6 1.5 2.2 1.5 2.5 1.5 3 1.5 3.3 1.5 3.7 1.5 4 1.5 4.3 1.5 4.5 1.5 4.7 1.5 4.9 1.5 5 1.5 5.2 1.5 5.2 1.5 5.3 1.5 5.3 1.5 5.3 1.5 5.3 1.5 5.2 1.5 5.1 1.5 5 1.5 4.8 1.5 4.6 1.5 4.3 1.5 4.2 1.5 3.8 1.5 3.5 1.5 3.1 1.5 2.8 1.5 2.3 1.5 1.9 1.5 1.4 1.5 0.9 1.5 0.4 1.5 -0.3 1.5 -0.9 1.5 -1.6 1.5 -2.2 1.5 -2.7 1.5 -3.2 1.5 -3.8 1.5 -4.1 1.5 -4.6 1.5 -4.8 1.5 -5.2 1.5 -5.5 1.5 -5.7 1.5 -5.8 1.5 -6 1.5 -6.1 1.5 -6.2 1.5 -6.2 1.5 -6.1 1.5 -6.1 1.5 -5.9 1.5 -5.8 1.5 -5.6 1.5 -5.4 1.5 -5.1 1.5 -4.8 1.5 -4.4 1.5 -4 1.5 -3.6 1.5 -3.1 1.5 -2.5 1.5 -2 1.5 -1.4 1.5 -0.7 1.5 0 1.5 0.6 1.5 1.3 1.5 2 1.5 2.4 1.5 3.1 1.5 3.5 1.5 3.9 1.5 4.4 1.5 4.7 1.5 5.1 1.5 5.3 1.5 5.6 1.5 5.9 1.5 6 1.5 6.1 1.5 6.2 1.5 6.3 1.5 6.3 1.5 6.3 1.5 6.2 1.5 6.1 1.5 6 1.5 5.8 1.5 5.6 1.5 5.3 1.5 5 1.5 4.7 1.5 4.3 1.5 3.9 1.5 3.5 1.5 2.9 1.5 2.4 1.5 1.9 1.5 1.2 1.5 0.6 1.5 -0.2 1.5 -0.8 1.5 -1.6 1.5 -2.2 1.5 -2.9 1.5 -3.4 1.5 -3.9 1.5 -4.4 1.5 -4.8 1.5 -5.2 1.5 -5.6 1.5 -5.8 1.5 -6.1 1.5 -6.3 1.5 -6.5 1.5 -6.6 1.5 -6.6 1.5 -6.7 1.5 -6.6 1.5 -6.6 1.5 -6.5 1.5 -6.3 1.5 -6.2 1.5 -5.9 1.5 -5.5 1.5 -5.3 1.5 -4.9 1.5 -4.4 1.5 -4 1.5 -3.5 1.5 -2.9 1.5 -2.3 1.5 -1.7 1.5 -1 1.5 -0.2 1.5 0.6 1.5 1.2 1.5 2 1.5 2.6 1.5 3.3 1.5 3.8 1.5 4.2 1.5 4.8 1.5 5.1 1.5 5.6 1.5 5.8 1.5 6.1 1.5 6.4 1.5 6.5 1.5 6.6 1.5 6.8 1.5 6.8 1.5 6.7 1.5 6.7 1.5 6.6 1.5 6.5 1.5 6.3 1.5 6 1.5 5.7 1.5 5.4 1.5 5.1 1.5 4.5 1.5 4.2 1.5 3.5 1.5 3.1 1.5 2.4 1.5 1.7 1.5 1 1.5 0.3 1.5 -0.5 1.5 -1.1 1.5 -1.9 1.5 -2.4 1.5 -3 1.5 -3.5 1.5 -4 1.5 -4.4 1.5 -4.9 1.5 -5.1 1.5 -5.6 1.5 -5.7 1.5 -6.1 1.5 -6.2 1.5 -6.3 1.5 -6.5 1.5 -6.5 1.5 -6.6 1.5 -6.5 1.5 -6.5 1.5 -6.4 1.5 -6.2 1.5 -6 1.5 -5.9 1.5 -5.5 1.5 -5.3 1.5 -4.9 1.5 -4.5 1.5 -4 1.5 -3.6 1.5 -3.1 1.5 -2.5 1.5 -1.9 1.5 -1.3 1.5 -0.6 1.5 0.2 1.5 0.8 1.5 1.5 1.5 2.2 1.5 2.7 1.5 3.3 1.5 3.8 1.5 4.2 1.5 4.7 1.5 5 1.5 5.3 1.5 5.7 1.5 5.9 1.5 6.1 1.5 6.3 1.5 6.5 1.5 6.5 1.5 6.5 1.5 6.6 1.5 6.5 1.5 6.4 1.5 6.3 1.5 6.1 1.5 6 1.5 5.7 1.5 5.4 1.5 5 1.5 4.7 1.5 4.3 1.5 3.8 1.5 3.3 1.5 2.8 1.5 2.2 1.5 1.6 1.5 0.9 1.5 0.2 1.5 -0.5 1.5 -1.2 1.5 -1.9 1.5 -2.5 1.5 -3 1.5 -3.5 1.5 -4.1 1.5 -4.4 1.5 -4.9 1.5 -5.2 1.5 -5.5 1.5 -5.8 1.5 -6.1 1.5 -6.2 1.5 -6.3 1.5 -6.5 1.5 -6.6 1.5 -6.5 1.5 -6.5 1.5 -6.5 1.5 -6.4 1.5 -6.2 1.5 -6 1.5 -5.8 1.5 -5.6 1.5 -5.2 1.5 -4.9 1.5 -4.4 1.5 -4.1 1.5 -3.5 1.5 -3.1 1.5 -2.4 1.5 -1.9 1.5 -1.2 1.5 -0.6 1.5 0.2 1.5 0.9 1.5 1.6 1.5 2.1 1.5 2.8 1.5 3.3 1.5 3.8 1.5 4.3 1.5 4.7 1.5 5 1.5 5.4 1.5 5.7 1.5 5.9 1.5 6.2 1.5 6.3 1.5 6.4 1.5 6.5 1.5 6.5 1.5 6.6 1.5 6.5 1.5 6.4 1.5 6.3 1.5 6.1 1.5 6 1.5 5.6 1.5 5.4 1.5 5 1.5 4.7 1.5 4.3 1.5 3.7 1.5 3.3 1.5 2.8 1.5 2.1 1.5 1.6 1.5 0.8 1.5 0.2 1.5 -0.6 1.5 -1.3 1.5 -1.9 1.5 -2.5 1.5 -3 1.5 -3.6 1.5 -4 1.5 -4.5 1.5 -4.9 1.5 -5.3 1.5 -5.5 1.5 -5.8 1.5 -6.1 1.5 -6.2 1.5 -6.4 1.5 -6.5 1.5 -6.5 1.5 -6.5 1.5 -6.6 1.5 -6.4 1.5 -6.4 1.5 -6.2 1.5 -6 1.5 -5.8 1.5 -5.5 1.5 -5.2 1.5 -4.9 1.5 -4.4 1.5 -4 1.5 -3.6 1.5 -3 1.5 -2.4 1.5 -1.8 1.5 -1.2 1.5 -0.5 1.5 0.2 1.5 1 1.5 1.6 1.5 2.2 1.5 2.8 1.5 3.4 1.5 3.8 1.5 4.3 1.5 4.7 1.5 5.1 1.5 5.4 1.5 5.7 1.5 5.9 1.5 6.2 1.5 6.3 1.5 6.4 1.5 6.5 1.5 6.6 1.5 6.5 1.5 6.5 1.5 6.4 1.5 6.3 1.5 6.1 1.5 5.9 1.5 5.7 1.5 5.3 1.5 5.1 1.5 4.6 1.5 4.2 1.5 3.8 1.5 3.2 1.5 2.7 1.5 2.1 1.5 1.5 1.5 0.8 1.5 0.2 1.5 -0.7 1.5 -1.3 1.5 -1.9 1.5 -2.5 1.5 -3.1 1.5 -3.6 1.5 -4.1 1.5 -4.6 1.5 -4.9 1.5 -5.2 1.5 -5.6 1.5 -5.8 1.5 -6.1 1.5 -6.2 1.5 -6.4 1.5 -6.5 1.5 -6.5 1.5 -6.6 1.5 -6.5 1.5 -6.5 1.5 -6.3 1.5 -6.2 1.5 -6 1.5 -5.8 1.5 -5.5 1.5 -5.2 1.5 -4.8 1.5 -4.4 1.5 -4 1.5 -3.5 1.5 -2.9 1.5 -2.4 1.5 -1.8 1.5 -1.2 1.5 -0.4 1.5 0.3 1.5 1 1.5 1.6 1.5 2.3 1.5 2.8 1.5 3.4 1.5 3.9 1.5 4.3 1.5 4.7 1.5 5.1 1.5 5.5 1.5 5.7 1.5 5.9 1.5 6.2 1.5 6.3 1.5 6.5 1.5 6.5 1.5 6.5 1.5 6.6 1.5 6.5 1.5 6.4 1.5 6.2 1.5 6.1 1.5 5.9 1.5 5.7 1.5 5.3 1.5 5 1.5 4.6 1.5 4.2 1.5 3.7" fill="none" stroke="#ff0000" stroke-width="7.00" stroke-linejoin="round" stroke-linecap="round"/>
<path d="M184.8 212 l1.5 3.9 1.5 4.3 1.5 4.7 1.5 5.1 1.5 5.5 1.5 5.7 1.5 6 1.5 6.1 1.5 6.4 1.5 6.4 1.5 6.5 1.5 6.6 1.5 6.5 1.5 6.5 1.5 6.4 1.5 6.3 1.5 6.1 1.5 5.9 1.5 5.6 1.5 5.3 1.5 5 1.5 4.6 1.5 4.2 1.5 3.7 1.5 3.2 1.5 2.6 1.5 2.1 1.5 1.4 1.5 0.8 1.5 0 1.5 -0.7 1.5 -1.3 1.5 -2 1.5 -2.6 1.5 -3.1 1.5 -3.7 1.5 -4.1 1.5 -4.6 1.5 -4.9 1.5 -5.3 1.5 -5.6 1.5 -5.9 1.5 -6 1.5 -6.3 1.5 -6.4 1.5 -6.5 1.5 -6.5 1.5 -6.6 1.5 -6.5 1.5 -6.4 1.5 -6.4 1.5 -6.2 1.5 -5.9 1.5 -5.8 1.5 -5.5 1.5 -5.1 1.5 -4.8 1.5 -4.4 1.5 -3.9 1.5 -3.5 1.5 -2.9 1.5 -2.3 1.5 -1.7 1.5 -1.1 1.5 -0.4 1.5 0.3 1.5 1.1 1.5 1.7 1.5 2.3 1.5 2.9 1.5 3.4 1.5 3.9 1.5 4.4 1.5 4.8 1.5 5.1 1.5 5.5 1.5 5.7 1.5 6 1.5 6.1 1.5 6.4 1.5 6.4 1.5 6.5 1.5 6.6 1.5 6.5 1.5 6.5 1.5 6.4 1.5 6.3 1.5 6.1 1.5 5.8 1.5 5.6 1.5 5.4 1.5 4.9 1.5 4.6 1.5 4.1 1.5 3.7 1.5 3.2 1.5 2.6 1.5 2 1.5 1.4 1.5 0.7 1.5 0 1.5 -0.7 1.5 -1.4 1.5 -2.1 1.5 -2.6 1.5 -3.2 1.5 -3.7 1.5 -4.1 1.5 -4.6 1.5 -5 1.5 -5.3 1.5 -5.6 1.5 -5.9 1.5 -6 1.5 -6.3 1.5 -6.4 1.5 -6.5 1.5 -6.5 1.5 -6.6 1.5 -6.5 1.5 -6.5 1.5 -6.3 1.5 -6.2 1.5 -5.9 1.5 -5.8 1.5 -5.4 1.5 -5.1 1.5 -4.8 1.5 -4.4 1.5 -3.9 1.5 -3.4 1.5 -2.8 1.5 -2.4 1.5 -1.6 1.5 -1.1 1.5 -0.3 1.5 0.4 1.5 1.1 1.5 1.7 1.5 2.4 1.5 2.9 1.5 3.5 1.5 3.9 1.5 4.4 1.5 4.8 1.5 5.2 1.5 5.4 1.5 5.8 1.5 6 1.5 6.2 1.5 6.3 1.5 6.5 1.5 6.5 1.5 6.5 1.5 6.6 1.5 6.5 1.5 6.4 1.5 6.2 1.5 6.1 1.5 5.8 1.5 5.6 1.5 5.3 1.5 4.9 1.5 4.6 1.5 4.1 1.5 3.6 1.5 3.2 1.5 2.5 1.5 2 1.5 1.4 1.5 0.6 1.5 0 1.5 -0.8 1.5 -1.4 1.5 -2.1 1.5 -2.7 1.5 -3.2 1.5 -3.7 1.5 -4.2 1.5 -4.6 1.5 -5 1.5 -5.3 1.5 -5.7 1.5 -5.9 1.5 -6.1 1.5 -6.2 1.5 -6.4 1.5 -6.5 1.5 -6.6 1.5 -6.5 1.5 -6.5 1.5 -6.5 1.5 -6.3 1.5 -6.2 1.5 -5.9 1.5 -5.7 1.5 -5.5 1.5 -5.1 1.5 -4.7 1.5 -4.3 1.5 -3.9 1.5 -3.4 1.5 -2.8 1.5 -2.3 1.5 -1.6 1.5 -1 1.5 -0.3 1.5 0.4 1.5 1.2 1.5 1.8 1.5 2.4 1.5 2.9 1.5 3.5 1.5 4 1.5 4.4 1.5 4.8 1.5 5.2 1.5 5.5 1.5 5.8 1.5 6 1.5 6.2 1.5 6.3 1.5 6.5 1.5 6.5 1.5 6.6 1.5 6.5 1.5 6.5 1.5 6.4 1.5 6.2 1.5 6.1 1.5 5.8 1.5 5.6 1.5 5.2 1.5 4.9 1.5 4.6 1.5 4.1 1.5 3.6 1.5 3.1 1.5 2.5 1.5 1.9 1.5 1.3 1.5 0.7 1.5 -0.2 1.5 -0.8 1.5 -1.5 1.5 -2.1 1.5 -2.7 1.5 -3.2 1.5 -3.8 1.5 -4.2 1.5 -4.6 1.5 -5.1 1.5 -5.3 1.5 -5.7 1.5 -5.9 1.5 -6.1 1.5 -6.3 1.5 -6.4 1.5 -6.5 1.5 -6.5 1.5 -6.6 1.5 -6.5 1.5 -6.4 1.5 -6.3 1.5 -6.2 1.5 -5.9 1.5 -5.7 1.5 -5.4 1.5 -5.1 1.5 -4.7 1.5 -4.3 1.5 -3.8 1.5 -3.4 1.5 -2.8 1.5 -2.2 1.5 -1.6 1.5 -1 1.5 -0.2 1.5 0.5 1.5 1.3 1.5 1.9 1.5 2.5 1.5 3.1 1.5 3.7 1.5 4.2 1.5 4.6 1.5 5.1 1.5 5.4 1.5 5.7 1.5 6 1.5 6.2 1.5 6.4 1.5 6.6 1.5 6.6 1.5 6.8 1.5 6.7 1.5 6.6 1.5 6.6 1.5 6.5 1.5 6.3 1.5 6.1 1.5 5.8 1.5 5.6 1.5 5.1 1.5 4.8 1.5 4.3 1.5 3.9 1.5 3.3 1.5 2.8 1.5 2.1 1.5 1.5 1.5 0.8 1.5 0 1.5 -0.7 1.5 -1.3 1.5 -2 1.5 -2.6 1.5 -3.1 1.5 -3.7 1.5 -4.1 1.5 -4.6 1.5 -4.9 1.5 -5.3 1.5 -5.6 1.5 -5.9 1.5 -6.1 1.5 -6.3 1.5 -6.4 1.5 -6.6 1.5 -6.6 1.5 -6.6 1.5 -6.6 1.5 -6.6 1.5 -6.5 1.5 -6.3 1.5 -6.2 1.5 -6 1.5 -5.7 1.5 -5.4 1.5 -5 1.5 -4.7 1.5 -4.3 1.5 -3.8 1.5 -3.3 1.5 -2.8 1.5 -2.2 1.5 -1.6 1.5 -0.9 1.5 -0.2 1.5 0.8 1.5 1.7 1.5 2.6 1.5 3.5 1.5 4.3 1.5 4.9 1.5 5.6 1.5 6 1.5 6.6 1.5 6.9 1.5 7.1 1.5 7.4 1.5 7.6 1.5 7.6 1.5 7.6 1.5 7.4 1.5 7.3 1.5 7.1 1.5 6.7 1.5 6.4 1.5 5.8 1.5 5.3 1.5 4.6 1.5 3.9 1.5 3.1 1.5 2.2 1.5 1.3 1.5 0.2 1.5 -1 1.5 -2.4 1.5 -3.5 1.5 -4.5 1.5 -5.6 1.5 -6.3 1.5 -7.1 1.5 -7.7 1.5 -8.2 1.5 -8.6 1.5 -8.9 1.5 -9 1.5 -9 1.5 -9 1.5 -8.9 1.5 -8.5 1.5 -8.1 1.5 -7.7 1.5 -7 1.5 -6.2 1.5 -5.4 1.5 -4.5 1.5 -3.3 1.5 -2.2 1.5 -0.9 1.5 0.4 1.5 1.4 1.5 2.3 1.5 3.2 1.5 4 1.5 4.7 1.5 5.5 1.5 6 1.5 6.6 1.5 7.1 1.5 7.6 1.5 7.9 1.5 8.2 1.5 8.4 1.5 8.6 1.5 8.8 1.5 8.8 1.5 8.7 1.5 8.7 1.5 8.6 1.5 8.3 1.5 8.1 1.5 7.8 1.5 7.4 1.5 6.9 1.5 6.4 1.5 5.8 1.5 5.2 1.5 4.4 1.5 3.7 1.5 2.8 1.5 2 1.5 1 1.5 0 1.5 -1 1.5 -1.7 1.5 -2.6 1.5 -3.3 1.5 -3.9 1.5 -4.6 1.5 -5.1 1.5 -5.6 1.5 -6.1 1.5 -6.4 1.5 -6.8 1.5 -7.1 1.5 -7.2 1.5 -7.4 1.5 -7.5 1.5 -7.6 1.5 -7.5 1.5 -7.4 1.5 -7.4 1.5 -7.1 1.5 -6.9 1.5 -6.6 1.5 -6.2 1.5 -5.8 1.5 -5.3 1.5 -4.8 1.5 -4.2 1.5 -3.6 1.5 -2.8 1.5 -2.1 1.5 -1.3 1.5 -0.4 1.5 0.4 1.5 1 1.5 1.5 1.5 2.1 1.5 2.6 1.5 3.1 1.5 3.5 1.5 3.8 1.5 4.2 1.5 4.4 1.5 4.7 1.5 4.9 1.5 5 1.5 5.2 1.5 5.2 1.5 5.3 1.5 5.2 1.5 5.2 1.5 5.1 1.5 5 1.5 4.7 1.5 4.6 1.5 4.3 1.5 3.9 1.5 3.7 1.5 3.2 1.5 2.8 1.5 2.3 1.5 1.8 1.5 1.2 1.5 0.6 1.5 0 1.5 -0.5 1.5 -1.1 1.5 -1.5 1.5 -2 1.5 -2.4 1.5 -2.8 1.5 -3.1 1.5 -3.4 1.5 -3.6 1.5 -3.9 1.5 -4.2 1.5 -4.3 1.5 -4.4 1.5 -4.5 1.5 -4.6 1.5 -4.7 1.5 -4.6 1.5 -4.6 1.5 -4.6 1.5 -4.5 1.5 -4.3 1.5 -4.2 1.5 -3.9 1.5 -3.8 1.5 -3.5 1.5 -3.1 1.5 -2.9 1.5 -2.5 1.5 -2.1 1.5 -1.6 1.5 -1.2 1.5 -0.7 1.5 -0.2 1.5 0.3 1.5 0.6 1.5 1 1.5 1.3 1.5 1.6 1.5 1.9 1.5 2.2 1.5 2.4 1.5 2.7 1.5 2.8 1.5 3.1 1.5 3.2 1.5 3.4 1.5 3.6 1.5 3.6 1.5 3.7 1.5 3.9 1.5 3.9 1.5 3.9 1.5 3.9 1.5 4 1.5 3.9 1.5 3.9 1.5 3.8 1.5 3.8 1.5 3.7 1.5 3.5 1.5 3.5 1.5 3.3 1.5 3.1 1.5 2.9 1.5 2.7 1.5 2.5 1.5 2.2 1.5 2 1.5 1.7 1.5 1.4 1.5 1.1 1.5 0.7 1.5 0.4 1.5 -0.1 1.5 -0.4 1.5 -0.9 1.5 -1.2 1.5 -1.6 1.5 -2 1.5 -2.3 1.5 -2.5 1.5 -2.8 1.5 -3.1 1.5 -3.3 1.5 -3.4 1.5 -3.6 1.5 -3.8 1.5 -3.9 1.5 -4 1.5 -4 1.5 -4.1 1.5 -4 1.5 -4.1 1.5 -4.1 1.5 -4 1.5 -3.9 1.5 -3.8 1.5 -3.6 1.5 -3.5 1.5 -3.4 1.5 -3.1 1.5 -2.9 1.5 -2.6 1.5 -2.3 1.5 -2.1 1.5 -1.7 1.5 -1.3 1.5 -1 1.5 -0.6 1.5 -0.1 1.5 0.3 1.5 0.8 1.5 1.1 1.5 1.5 1.5 1.9 1.5 2.2 1.5 2.4 1.5 2.8 1.5 3 1.5 3.2 1.5 3.5 1.5 3.6 1.5 3.7 1.5 3.9 1.5 4 1.5 4 1.5 4.1 1.5 4.1 1.5 4.1 1.5 4.1 1.5 4 1.5 4 1.5 3.8 1.5 3.7 1.5 3.6 1.5 3.3 1.5 3.2 1.5 3 1.5 2.7 1.5 2.4 1.5 2.1 1.5 1.7 1.5 1.4 1.5 1.1 1.5 0.6 1.5 0.2 1.5 -0.3 1.5 -0.8 1.5 -1.3 1.5 -1.7 1.5 -2.1 1.5 -2.5 1.5 -2.9 1.5 -3.2 1.5 -3.5 1.5 -3.7 1.5 -3.9 1.5 -4.2 1.5 -4.3 1.5 -4.5 1.5 -4.5 1.5 -4.7 1.5 -4.6 1.5 -4.7 1.5 -4.7 1.5 -4.6 1.5 -4.5 1.5 -4.4 1.5 -4.3 1.5 -4.1 1.5 -3.9 1.5 -3.7 1.5 -3.4 1.5 -3.1 1.5 -2.8 1.5 -2.4 1.5 -2 1.5 -1.6 1.5 -1.2 1.5 -0.6 1.5 -0.2 1.5 0.4 1.5 0.8 1.5 1.3 1.5 1.8 1.5 2.2 1.5 2.5 1.5 2.9 1.5 3.3 1.5 3.6 1.5 3.8 1.5 4.1 1.5 4.3 1.5 4.5 1.5 4.7 1.5 4.8 1.5 5 1.5 5.1 1.5 5.1 1.5 5.1 1.5 5.2 1.5 5.2 1.5 5.1 1.5 5.1 1.5 4.9 1.5 4.9 1.5 4.7 1.5 4.5 1.5 4.3 1.5 4.1 1.5 3.9 1.5 3.6 1.5 3.2 1.5 3 1.5 2.6 1.5 2.2 1.5 1.8 1.5 1.3 1.5 0.9 1.5 0.4 1.5 -0.2 1.5 -0.6 1.5 -1.2 1.5 -1.7 1.5 -2.1 1.5 -2.4 1.5 -2.7 1.5 -3.1 1.5 -3.2 1.5 -3.4 1.5 -3.5 1.5 -3.6 1.5 -3.6 1.5 -3.7 1.5 -3.5 1.5 -3.4 1.5 -3.3 1.5 -3 1.5 -2.8 1.5 -2.5 1.5 -2.1 1.5 -1.7 1.5 -1.3 1.5 -0.8 1.5 -0.6 1.5 -0.6 1.5 -0.4 1.5 -0.4 1.5 -0.4 1.5 -0.3 1.5 -0.4 1.5 -0.4 1.5 -0.5 1.5 -0.5 1.5 -0.7 1.5 -1 1.5 -1.7 1.5 -2.5 1.5 -3.3 1.5 -3.8 1.5 -4.3 1.5 -4.7 1.5 -5.1 1.5 -5.2 1.5 -5.4 1.5 -5.4 1.5 -5.4 1.5 -5.2 1.5 -4.9 1.5 -4.5 1.5 -4.1 1.5 -3.6 1.5 -2.9 1.5 -2.2 1.5 -1.4 1.5 -0.4 1.5 0.2 1.5 0.7 1.5 1 1.5 1.4 1.5 1.8 1.5 2 1.5 2.4 1.5 2.6 1.5 2.9 1.5 3.1 1.5 3.4 1.5 3.5 1.5 3.6 1.5 3.8 1.5 4 1.5 4 1.5 4.1 1.5 4.2 1.5 4.1 1.5 4.2 1.5 4.2 1.5 4.1 1.5 4.1 1.5 4 1.5 3.9 1.5 3.8 1.5 3.6 1.5 3.4 1.5 3.2 1.5 3.1 1.5 2.8 1.5 2.5 1.5 2.2 1.5 2 1.5 1.6 1.5 1.2 1.5 0.9 1.5 0.5 1.5 0.1 1.5 -0.4 1.5 -0.7 1.5 -1.1 1.5 -1.4 1.5 -1.7 1.5 -2 1.5 -2.3 1.5 -2.5 1.5 -2.8 1.5 -3 1.5 -3.1 1.5 -3.3 1.5 -3.4 1.5 -3.5 1.5 -3.7 1.5 -3.7 1.5 -3.7 1.5 -3.7 1.5 -3.8 1.5 -3.7 1.5 -3.7 1.5 -3.5 1.5 -3.5 1.5 -3.4 1.5 -3.3 1.5 -3.1 1.5 -2.8 1.5 -2.7 1.5 -2.5 1.5 -2.2 1.5 -1.9 1.5 -1.6 1.5 -1.3 1.5 -1 1.5 -0.6 1.5 -0.2 1.5 0.3 1.5 0.9 1.5 1.4 1.5 2 1.5 2.4 1.5 2.8 1.5 3.2 1.5 3.6 1.5 3.9 1.5 4.1 1.5 4.4 1.5 4.6 1.5 4.7 1.5 4.8 1.5 4.9 1.5 4.9 1.5 4.9 1.5 4.9 1.5 4.7 1.5 4.7 1.5 4.4 1.5 4.3 1.5 4 1.5 3.7 1.5 3.4 1.5 3 1.5 2.7 1.5 2.1 1.5 1.7 1.5 1.1 1.5 0.6 1.5 0 1.5 -0.5 1.5 -1.1 1.5 -1.6 1.5 -1.9 1.5 -2.5 1.5 -2.8 1.5 -3.1 1.5 -3.5 1.5 -3.8 1.5 -4 1.5 -4.3 1.5 -4.5 1.5 -4.6 1.5 -4.8 1.5 -4.9 1.5 -5 1.5 -5 1.5 -5.1 1.5 -5 1.5 -5.1 1.5 -4.9 1.5 -4.8 1.5 -4.7 1.5 -4.5 1.5 -4.4 1.5 -4.1 1.5 -3.8 1.5 -3.6 1.5 -3.2 1.5 -2.9 1.5 -2.6 1.5 -2.1 1.5 -1.6 1.5 -1.2 1.5 -0.7 1.5 -0.2 1.5 0.5 1.5 1 1.5 1.6 1.5 2.1 1.5 2.6 1.5 3.1 1.5 3.4 1.5 3.9 1.5 4.1 1.5 4.5 1.5 4.7 1.5 5 1.5 5.1 1.5 5.3 1.5 5.5 1.5 5.4 1.5 5.6 1.5 5.5 1.5 5.5 1.5 5.4 1.5 5.3 1.5 5.2 1.5 4.9 1.5 4.8 1.5 4.5 1.5 4.2 1.5 3.8 1.5 3.5 1.5 3.1 1.5 2.6 1.5 2.2 1.5 1.6 1.5 1.1 1.5 0.5 1.5 -0.2 1.5 -0.6 1.5 -1.2 1.5 -1.7 1.5 -2.2 1.5 -2.5 1.5 -3 1.5 -3.3 1.5 -3.6 1.5 -4 1.5 -4.2 1.5 -4.4 1.5 -4.7 1.5 -4.8 1.5 -4.9 1.5 -5.1 1.5 -5.1 1.5 -5.2 1.5 -5.2 1.5 -5.2 1.5 -5.1 1.5 -5 1.5 -4.9 1.5 -4.8 1.5 -4.6 1.5 -4.4 1.5 -4.1 1.5 -3.9 1.5 -3.5 1.5 -3.2 1.5 -2.9 1.5 -2.5 1.5 -2 1.5 -1.5 1.5 -1.1 1.5 -0.5 1.5 0 1.5 0.6 1.5 1.3 1.5 1.7 1.5 2.3 1.5 2.8 1.5 3.2 1.5 3.6 1.5 4 1.5 4.3 1.5 4.6 1.5 4.8 1.5 5.1 1.5 5.2 1.5 5.4 1.5 5.5 1.5 5.6 1.5 5.6 1.5 5.6 1.5 5.5 1.5 5.5 1.5 5.4 1.5 5.2 1.5 5.1 1.5 4.8 1.5 4.5 1.5 4.3 1.5 3.9 1.5 3.6 1.5 3.1 1.5 2.7 1.5 2.2 1.5 1.7 1.5 1.2 1.5 0.5 1.5 0 1.5 -0.7 1.5 -1.3 1.5 -1.8 1.5 -2.3 1.5 -2.9 1.5 -3.2 1.5 -3.7 1.5 -4.1 1.5 -4.4 1.5 -4.7 1.5 -4.9 1.5 -5.2 1.5 -5.4 1.5 -5.6 1.5 -5.7 1.5 -5.8 1.5 -5.8 1.5 -5.9 1.5 -5.8 1.5 -5.8 1.5 -5.8 1.5 -5.5 1.5 -5.5 1.5 -5.2 1.5 -5.1 1.5 -4.7 1.5 -4.5 1.5 -4.1 1.5 -3.8 1.5 -3.3 1.5 -2.9 1.5 -2.5 1.5 -1.9 1.5 -1.4 1.5 -0.8 1.5 -0.2 1.5 0.5 1.5 1.3 1.5 1.9 1.5 2.5 1.5 3.1 1.5 3.6 1.5 4.1 1.5 4.5 1.5 5 1.5 5.3 1.5 5.6 1.5 5.9 1.5 6.1 1.5 6.3 1.5 6.4 1.5 6.5 1.5 6.6 1.5 6.6 1.5 6.5 1.5 6.4 1.5 6.4 1.5 6.1 1.5 5.9 1.5 5.7 1.5 5.3 1.5 5 1.5 4.6 1.5 4.2 1.5 3.7 1.5 3.2 1.5 2.5 1.5 2 1.5 1.3 1.5 0.7 1.5 -0.2 1.5 -0.7 1.5 -1.5 1.5 -2 1.5 -2.6 1.5 -3.1 1.5 -3.6 1.5 -4.1 1.5 -4.5 1.5 -4.8 1.5 -5.1 1.5 -5.5 1.5 -5.7 1.5 -5.9 1.5 -6.1 1.5 -6.2 1.5 -6.3 1.5 -6.4 1.5 -6.4 1.5 -6.4 1.5 -6.3 1.5 -6.2 1.5 -6.1 1.5 -5.9 1.5 -5.7 1.5 -5.5 1.5 -5.1 1.5 -4.8 1.5 -4.5 1.5 -4.1 1.5 -3.6 1.5 -3.1 1.5 -2.6 1.5 -2 1.5 -1.5 1.5 -0.7 1.5 -0.2 1.5 0.7 1.5 1.5 1.5 2.3 1.5 2.9 1.5 3.6 1.5 4.1 1.5 4.7 1.5 5.2 1.5 5.6 1.5 5.9 1.5 6.3 1.5 6.6 1.5 6.7 1.5 7 1.5 7 1.5 7.1 1.5 7.1 1.5 7 1.5 7 1.5 6.8 1.5 6.6 1.5 6.3 1.5 6 1.5 5.7 1.5 5.2 1.5 4.8 1.5 4.2 1.5 3.7 1.5 3 1.5 2.4 1.5 1.6 1.5 0.8 1.5 0 1.5 -0.7 1.5 -1.4 1.5 -2.1 1.5 -2.6 1.5 -3.2 1.5 -3.7 1.5 -4.1 1.5 -4.6 1.5 -5 1.5 -5.3 1.5 -5.6 1.5 -5.9 1.5 -6 1.5 -6.3 1.5 -6.4 1.5 -6.5 1.5 -6.5 1.5 -6.6 1.5 -6.5 1.5 -6.5 1.5 -6.3 1.5 -6.2 1.5 -5.9 1.5 -5.8 1.5 -5.4 1.5 -5.1 1.5 -4.8 1.5 -4.4 1.5 -3.9 1.5 -3.4 1.5 -2.8 1.5 -2.4 1.5 -1.6 1.5 -1.1 1.5 -0.3 1.5 0.4 1.5 1.1 1.5 1.7 1.5 2.4 1.5 2.9 1.5 3.5 1.5 3.9 1.5 4.4 1.5 4.8 1.5 5.2 1.5 5.4 1.5 5.8 1.5 6 1.5 6.2 1.5 6.3 1.5 6.5 1.5 6.5 1.5 6.5 1.5 6.6 1.5 6.5 1.5 6.4 1.5 6.2 1.5 6.1 1.5 5.8 1.5 5.6 1.5 5.3 1.5 4.9 1.5 4.6 1.5 4.1 1.5 3.6 1.5 3.2 1.5 2.5 1.5 2 1.5 1.4 1.5 0.6 1.5 0 1.5 -0.8 1.5 -1.4 1.5 -2.1 1.5 -2.7 1.5 -3.2 1.5 -3.7 1.5 -4.2 1.5 -4.6 1.5 -5 1.5 -5.3 1.5 -5.7 1.5 -5.9 1.5 -6.1 1.5 -6.2 1.5 -6.4 1.5 -6.5 1.5 -6.6 1.5 -6.5 1.5 -6.5 1.5 -6.5 1.5 -6.3 1.5 -6.2 1.5 -5.9 1.5 -5.7 1.5 -5.5 1.5 -5.1 1.5 -4.7 1.5 -4.3 1.5 -3.9 1.5 -3.4 1.5 -2.8 1.5 -2.3 1.5 -1.6 1.5 -1 1.5 -0.3 1.5 0.4 1.5 1.2 1.5 1.8 1.5 2.4 1.5 2.9 1.5 3.5 1.5 4 1.5 4.4 1.5 4.8 1.5 5.2 1.5 5.5 1.5 5.8 1.5 6 1.5 6.2 1.5 6.3 1.5 6.5 1.5 6.5 1.5 6.6 1.5 6.5 1.5 6.5 1.5 6.4 1.5 6.2 1.5 6.1 1.5 5.8 1.5 5.6 1.5 5.2 1.5 4.9 1.5 4.6 1.5 4.1 1.5 3.6 1.5 3.1 1.5 2.5 1.5 1.9 1.5 1.3 1.5 0.7 1.5 -0.2 1.5 -0.8 1.5 -1.5 1.5 -2.1 1.5 -2.7 1.5 -3.2 1.5 -3.8 1.5 -4.2 1.5 -4.6 1.5 -5.1 1.5 -5.3 1.5 -5.7 1.5 -5.9 1.5 -6.1 1.5 -6.3 1.5 -6.4 1.5 -6.5 1.5 -6.5 1.5 -6.6 1.5 -6.5 1.5 -6.4 1.5 -6.3 1.5 -6.2 1.5 -5.9 1.5 -5.7 1.5 -5.4 1.5 -5.1 1.5 -4.7 1.5 -4.3 1.5 -3.8 1.5 -3.4 1.5 -2.8 1.5 -2.2 1.5 -1.6 1.5 -1 1.5 -0.2 1.5 0.5 1.5 1.2 1.5 1.8 1.5 2.4 1.5 3 1.5 3.6 1.5 4 1.5 4.4 1.5 4.9 1.5 5.2 1.5 5.5 1.5 5.8 1.5 6 1.5 6.2 1.5 6.4 1.5 6.4 1.5 6.6 1.5 6.5 1.5 6.5 1.5 6.5 1.5 6.4 1.5 6.2 1.5 6.1 1.5 5.8 1.5 5.5 1.5 5.3 1.5 4.9 1.5 4.5 1.5 4 1.5 3.6 1.5 3 1.5 2.5 1.5 1.9 1.5 1.3 1.5 0.6 1.5 -0.2 1.5 -0.8 1.5 -1.6 1.5 -2.1 1.5 -2.8 1.5 -3.3 1.5 -3.7 1.5 -4.3 1.5 -4.7 1.5 -5 1.5 -5.4 1.5 -5.6 1.5 -6 1.5 -6.1 1.5 -6.3 1.5 -6.4 1.5 -6.5 1.5 -6.6 1.5 -6.5 1.5 -6.5 1.5 -6.4 1.5 -6.3 1.5 -6.2 1.5 -5.9 1.5 -5.7 1.5 -5.4 1.5 -5 1.5 -4.7 1.5 -4.3 1.5 -3.8 1.5 -3.3 1.5 -2.8 1.5 -2.1 1.5 -1.6 1.5 -0.9 1.5 -0.2 1.5 0.6 1.5 1.2 1.5 1.9 1.5 2.4 1.5 3.1 1.5 3.5" fill="none" stroke="#3cb371" stroke-width="7.00" stroke-linejoin="round" stroke-linecap="round"/>
</g></g>
<line x1="452.2" y1="24.6" x2="452.2" y2="532.0" stroke="#000" stroke-width="4" stroke-dasharray="8.5 4.2"/>
<line x1="715.6" y1="24.6" x2="715.6" y2="532.0" stroke="#000" stroke-width="4" stroke-dasharray="8.5 4.2"/>
<line x1="984.0" y1="24.6" x2="984.0" y2="532.0" stroke="#000" stroke-width="4" stroke-dasharray="8.5 4.2"/>
<line x1="1250.7" y1="24.6" x2="1250.7" y2="532.0" stroke="#000" stroke-width="4" stroke-dasharray="8.5 4.2"/>
<line x1="1517.6" y1="24.6" x2="1517.6" y2="532.0" stroke="#000" stroke-width="4" stroke-dasharray="8.5 4.2"/>
<line x1="1782.8" y1="24.6" x2="1782.8" y2="532.0" stroke="#000" stroke-width="4" stroke-dasharray="8.5 4.2"/>
<line x1="2049.8" y1="24.6" x2="2049.8" y2="532.0" stroke="#000" stroke-width="4" stroke-dasharray="8.5 4.2"/>
<line x1="189.8" y1="280.0" x2="209" y2="280.0" stroke="#000" stroke-width="3"/>
<rect x="189.8" y="24.6" width="2117.7" height="507.4" rx="4" fill="none" stroke="#000" stroke-width="8"/>
<clipPath id="ca1"><rect x="192.8" y="549.6" width="2111.7" height="514.2"/></clipPath>
<g clip-path="url(#ca1)"><g filter="url(#soft)">
<path d="M184.8 889.5 l1.5 -6.9 1.5 -7.3 1.5 -7.9 1.5 -8.2 1.5 -8.7 1.5 -8.9 1.5 -9.2 1.5 -9.4 1.5 -9.5 1.5 -9.5 1.5 -9.5 1.5 -9.5 1.5 -9.4 1.5 -9.2 1.5 -8.9 1.5 -8.7 1.5 -8.2 1.5 -7.9 1.5 -7.3 1.5 -6.9 1.5 -6.2 1.5 -5.5 1.5 -4.8 1.5 -4 1.5 -3.2 1.5 -2.2 1.5 -1.3 1.5 -0.3 1.5 0.8 1.5 1.9 1.5 2.7 1.5 3.6 1.5 4.5 1.5 5.2 1.5 5.9 1.5 6.5 1.5 7.1 1.5 7.6 1.5 8.1 1.5 8.5 1.5 8.8 1.5 9.1 1.5 9.3 1.5 9.4 1.5 9.5 1.5 9.6 1.5 9.5 1.5 9.4 1.5 9.3 1.5 9.1 1.5 8.8 1.5 8.4 1.5 8.1 1.5 7.6 1.5 7 1.5 6.5 1.5 5.9 1.5 5.2 1.5 4.3 1.5 3.6 1.5 2.7 1.5 1.7 1.5 0.8 1.5 -0.3 1.5 -1.4 1.5 -2.3 1.5 -3.2 1.5 -4.1 1.5 -4.9 1.5 -5.5 1.5 -6.3 1.5 -6.8 1.5 -7.4 1.5 -7.9 1.5 -8.3 1.5 -8.7 1.5 -8.9 1.5 -9.2 1.5 -9.4 1.5 -9.5 1.5 -9.5 1.5 -9.6 1.5 -9.5 1.5 -9.3 1.5 -9.2 1.5 -8.9 1.5 -8.6 1.5 -8.3 1.5 -7.8 1.5 -7.3 1.5 -6.8 1.5 -6.1 1.5 -5.5 1.5 -4.8 1.5 -4 1.5 -3.1 1.5 -2.1 1.5 -1.3 1.5 -0.1 1.5 0.8 1.5 1.9 1.5 2.8 1.5 3.7 1.5 4.5 1.5 5.2 1.5 6 1.5 6.6 1.5 7.1 1.5 7.7 1.5 8.1 1.5 8.5 1.5 8.8 1.5 9.1 1.5 9.3 1.5 9.4 1.5 9.6 1.5 9.5 1.5 9.6 1.5 9.4 1.5 9.2 1.5 9.1 1.5 8.7 1.5 8.5 1.5 8 1.5 7.6 1.5 7 1.5 6.5 1.5 5.8 1.5 5.1 1.5 4.3 1.5 3.5 1.5 2.6 1.5 1.7 1.5 0.7 1.5 -0.4 1.5 -1.4 1.5 -2.4 1.5 -3.3 1.5 -4.1 1.5 -4.9 1.5 -5.6 1.5 -6.3 1.5 -6.9 1.5 -7.4 1.5 -7.9 1.5 -8.4 1.5 -8.7 1.5 -8.9 1.5 -9.2 1.5 -9.4 1.5 -9.5 1.5 -9.6 1.5 -9.5 1.5 -9.5 1.5 -9.3 1.5 -9.2 1.5 -8.9 1.5 -8.6 1.5 -8.2 1.5 -7.8 1.5 -7.3 1.5 -6.7 1.5 -6.1 1.5 -5.5 1.5 -4.7 1.5 -3.9 1.5 -3 1.5 -2.2 1.5 -1.1 1.5 -0.1 1.5 0.9 1.5 2 1.5 2.8 1.5 3.8 1.5 4.5 1.5 5.3 1.5 6 1.5 6.6 1.5 7.2 1.5 7.7 1.5 8.1 1.5 8.6 1.5 8.8 1.5 9.1 1.5 9.3 1.5 9.5 1.5 9.5 1.5 9.6 1.5 9.5 1.5 9.4 1.5 9.2 1.5 9.1 1.5 8.7 1.5 8.4 1.5 8 1.5 7.5 1.5 7 1.5 6.5 1.5 5.7 1.5 5.1 1.5 4.3 1.5 3.4 1.5 2.6 1.5 1.6 1.5 0.6 1.5 -0.5 1.5 -1.4 1.5 -2.5 1.5 -3.3 1.5 -4.2 1.5 -5 1.5 -5.6 1.5 -6.4 1.5 -6.9 1.5 -7.5 1.5 -7.9 1.5 -8.3 1.5 -8.7 1.5 -9 1.5 -9.3 1.5 -9.4 1.5 -9.5 1.5 -9.5 1.5 -9.6 1.5 -9.4 1.5 -9.4 1.5 -9.1 1.5 -8.9 1.5 -8.5 1.5 -8.2 1.5 -7.8 1.5 -7.2 1.5 -6.7 1.5 -6.1 1.5 -5.4 1.5 -4.7 1.5 -3.8 1.5 -3 1.5 -2.1 1.5 -1 1.5 -0.1 1.5 1 1.5 2 1.5 3 1.5 3.8 1.5 4.6 1.5 5.3 1.5 6 1.5 6.7 1.5 7.2 1.5 7.7 1.5 8.2 1.5 8.5 1.5 8.9 1.5 9.1 1.5 9.4 1.5 9.4 1.5 9.6 1.5 9.5 1.5 9.5 1.5 9.4 1.5 9.3 1.5 9 1.5 8.7 1.5 8.4 1.5 7.9 1.5 7.5 1.5 7 1.5 6.4 1.5 5.7 1.5 5 1.5 4.2 1.5 3.4 1.5 2.5 1.5 1.6 1.5 0.5 1.5 -0.5 1.5 -1.5 1.5 -2.3 1.5 -3.2 1.5 -4.1 1.5 -4.7 1.5 -5.4 1.5 -6.1 1.5 -6.6 1.5 -7.2 1.5 -7.6 1.5 -8 1.5 -8.3 1.5 -8.7 1.5 -8.9 1.5 -9.1 1.5 -9.2 1.5 -9.2 1.5 -9.3 1.5 -9.2 1.5 -9.2 1.5 -9 1.5 -8.8 1.5 -8.5 1.5 -8.2 1.5 -7.8 1.5 -7.4 1.5 -6.9 1.5 -6.4 1.5 -5.8 1.5 -5.1 1.5 -4.4 1.5 -3.7 1.5 -2.8 1.5 -1.9 1.5 -1.1 1.5 0 1.5 1.2 1.5 2.2 1.5 3.3 1.5 4.2 1.5 5.1 1.5 6 1.5 6.6 1.5 7.4 1.5 7.9 1.5 8.5 1.5 8.9 1.5 9.3 1.5 9.6 1.5 9.8 1.5 10 1.5 10.1 1.5 10.1 1.5 10.1 1.5 9.9 1.5 9.7 1.5 9.5 1.5 9.1 1.5 8.7 1.5 8.2 1.5 7.6 1.5 7 1.5 6.3 1.5 5.5 1.5 4.7 1.5 3.7 1.5 2.7 1.5 1.7 1.5 0.5 1.5 -1 1.5 -2.6 1.5 -4.2 1.5 -5.5 1.5 -6.9 1.5 -8 1.5 -9 1.5 -10 1.5 -10.7 1.5 -11.5 1.5 -11.9 1.5 -12.4 1.5 -12.7 1.5 -12.9 1.5 -12.9 1.5 -12.9 1.5 -12.6 1.5 -12.4 1.5 -11.9 1.5 -11.4 1.5 -10.7 1.5 -9.9 1.5 -9 1.5 -7.9 1.5 -6.8 1.5 -5.4 1.5 -4.1 1.5 -2.5 1.5 -0.9 1.5 0.8 1.5 2.5 1.5 3.9 1.5 5.4 1.5 6.6 1.5 7.7 1.5 8.8 1.5 9.8 1.5 10.5 1.5 11.3 1.5 11.9 1.5 12.3 1.5 12.8 1.5 13 1.5 13.2 1.5 13.2 1.5 13.1 1.5 12.9 1.5 12.7 1.5 12.2 1.5 11.8 1.5 11.1 1.5 10.3 1.5 9.5 1.5 8.6 1.5 7.4 1.5 6.3 1.5 5 1.5 3.5 1.5 2 1.5 0.5 1.5 -1 1.5 -2.1 1.5 -3.2 1.5 -4.3 1.5 -5.2 1.5 -6.1 1.5 -6.9 1.5 -7.7 1.5 -8.3 1.5 -8.9 1.5 -9.4 1.5 -9.9 1.5 -10.2 1.5 -10.5 1.5 -10.8 1.5 -10.9 1.5 -11 1.5 -11 1.5 -10.9 1.5 -10.8 1.5 -10.5 1.5 -10.3 1.5 -9.9 1.5 -9.5 1.5 -9 1.5 -8.4 1.5 -7.7 1.5 -7 1.5 -6.2 1.5 -5.4 1.5 -4.3 1.5 -3.4 1.5 -2.3 1.5 -1.1 1.5 0.1 1.5 1.3 1.5 2.5 1.5 3.5 1.5 4.5 1.5 5.4 1.5 6.2 1.5 7 1.5 7.6 1.5 8.3 1.5 8.7 1.5 9.3 1.5 9.6 1.5 9.9 1.5 10.1 1.5 10.3 1.5 10.3 1.5 10.3 1.5 10.3 1.5 10.1 1.5 9.9 1.5 9.6 1.5 9.2 1.5 8.7 1.5 8.2 1.5 7.6 1.5 6.9 1.5 6.2 1.5 5.3 1.5 4.5 1.5 3.4 1.5 2.4 1.5 1.2 1.5 0.1 1.5 -1.1 1.5 -2.1 1.5 -3.1 1.5 -3.9 1.5 -4.8 1.5 -5.6 1.5 -6.3 1.5 -6.9 1.5 -7.5 1.5 -8 1.5 -8.4 1.5 -8.8 1.5 -9.1 1.5 -9.3 1.5 -9.5 1.5 -9.6 1.5 -9.7 1.5 -9.6 1.5 -9.5 1.5 -9.3 1.5 -9.1 1.5 -8.8 1.5 -8.4 1.5 -8 1.5 -7.5 1.5 -6.9 1.5 -6.3 1.5 -5.6 1.5 -4.8 1.5 -3.9 1.5 -3.1 1.5 -2.1 1.5 -1.1 1.5 0.1 1.5 1 1.5 2.1 1.5 2.9 1.5 3.9 1.5 4.6 1.5 5.3 1.5 6.1 1.5 6.6 1.5 7.2 1.5 7.7 1.5 8.1 1.5 8.4 1.5 8.8 1.5 9 1.5 9.2 1.5 9.4 1.5 9.3 1.5 9.4 1.5 9.4 1.5 9.2 1.5 9 1.5 8.8 1.5 8.4 1.5 8.1 1.5 7.7 1.5 7.2 1.5 6.6 1.5 6.1 1.5 5.3 1.5 4.6 1.5 3.9 1.5 2.9 1.5 2.1 1.5 1 1.5 0.1 1.5 -1 1.5 -1.9 1.5 -2.7 1.5 -3.6 1.5 -4.4 1.5 -5.1 1.5 -5.7 1.5 -6.3 1.5 -6.8 1.5 -7.4 1.5 -7.7 1.5 -8.1 1.5 -8.5 1.5 -8.7 1.5 -8.8 1.5 -9 1.5 -9.1 1.5 -9.2 1.5 -9.1 1.5 -9 1.5 -8.8 1.5 -8.7 1.5 -8.4 1.5 -8 1.5 -7.7 1.5 -7.3 1.5 -6.8 1.5 -6.2 1.5 -5.7 1.5 -4.9 1.5 -4.3 1.5 -3.5 1.5 -2.6 1.5 -1.8 1.5 -0.8 1.5 0.1 1.5 1.2 1.5 2 1.5 2.9 1.5 3.8 1.5 4.5 1.5 5.1 1.5 5.8 1.5 6.4 1.5 6.9 1.5 7.4 1.5 7.7 1.5 8.2 1.5 8.4 1.5 8.6 1.5 8.8 1.5 9 1.5 9 1.5 9 1.5 9 1.5 8.8 1.5 8.7 1.5 8.5 1.5 8.2 1.5 7.9 1.5 7.5 1.5 7 1.5 6.5 1.5 6 1.5 5.3 1.5 4.7 1.5 3.9 1.5 3.2 1.5 2.3 1.5 1.4 1.5 0.4 1.5 -0.6 1.5 -1.5 1.5 -2.4 1.5 -3.2 1.5 -4 1.5 -4.8 1.5 -5.4 1.5 -6 1.5 -6.5 1.5 -7.1 1.5 -7.5 1.5 -7.8 1.5 -8.2 1.5 -8.5 1.5 -8.7 1.5 -8.8 1.5 -8.9 1.5 -9 1.5 -8.9 1.5 -8.9 1.5 -8.7 1.5 -8.6 1.5 -8.3 1.5 -8 1.5 -7.7 1.5 -7.2 1.5 -6.8 1.5 -6.2 1.5 -5.7 1.5 -5 1.5 -4.3 1.5 -3.5 1.5 -2.8 1.5 -1.8 1.5 -1 1.5 0 1.5 1.1 1.5 1.9 1.5 2.8 1.5 3.6 1.5 4.3 1.5 5.1 1.5 5.7 1.5 6.3 1.5 6.8 1.5 7.2 1.5 7.7 1.5 8.1 1.5 8.4 1.5 8.6 1.5 8.7 1.5 9 1.5 9 1.5 9 1.5 9 1.5 8.9 1.5 8.8 1.5 8.5 1.5 8.3 1.5 8 1.5 7.6 1.5 7.2 1.5 6.7 1.5 6.2 1.5 5.6 1.5 4.9 1.5 4.2 1.5 3.4 1.5 2.7 1.5 1.7 1.5 0.8 1.5 -0.1 1.5 -1.3 1.5 -2.3 1.5 -3.2 1.5 -4 1.5 -4.9 1.5 -5.7 1.5 -6.3 1.5 -6.9 1.5 -7.5 1.5 -8 1.5 -8.4 1.5 -8.7 1.5 -9.1 1.5 -9.3 1.5 -9.4 1.5 -9.5 1.5 -9.6 1.5 -9.6 1.5 -9.4 1.5 -9.3 1.5 -9.1 1.5 -8.8 1.5 -8.4 1.5 -8 1.5 -7.5 1.5 -7 1.5 -6.3 1.5 -5.7 1.5 -5 1.5 -4.1 1.5 -3.3 1.5 -2.3 1.5 -1.3 1.5 -0.3 1.5 0.3 1.5 0.7 1.5 1 1.5 1.3 1.5 1.7 1.5 1.9 1.5 2.2 1.5 2.4 1.5 2.7 1.5 2.8 1.5 3 1.5 3.2 1.5 3.3 1.5 3.4 1.5 3.5 1.5 3.5 1.5 3.6 1.5 3.6 1.5 3.6 1.5 3.6 1.5 3.5 1.5 3.5 1.5 4.2 1.5 4.7 1.5 5.3 1.5 5.7 1.5 6.2 1.5 6.5 1.5 6.8 1.5 7 1.5 7.2 1.5 7.3 1.5 7.3 1.5 7.3 1.5 7.3 1.5 7.1 1.5 6.9 1.5 6.6 1.5 6.3 1.5 5.9 1.5 5.4 1.5 5 1.5 4.4 1.5 3.7 1.5 3 1.5 2.3 1.5 1.5 1.5 0.6 1.5 -0.3 1.5 -0.9 1.5 -1.6 1.5 -2.1 1.5 -2.8 1.5 -3.2 1.5 -3.8 1.5 -4.2 1.5 -4.7 1.5 -5 1.5 -5.4 1.5 -5.7 1.5 -6 1.5 -6.3 1.5 -6.5 1.5 -6.6 1.5 -6.8 1.5 -6.9 1.5 -7 1.5 -7 1.5 -7 1.5 -7 1.5 -6.9 1.5 -6.8 1.5 -6.7 1.5 -6.5 1.5 -6.3 1.5 -6.1 1.5 -5.8 1.5 -5.4 1.5 -5.2 1.5 -4.7 1.5 -4.3 1.5 -3.9 1.5 -3.3 1.5 -2.9 1.5 -2.3 1.5 -1.6 1.5 -1.1 1.5 -0.4 1.5 0.4 1.5 1.3 1.5 2.1 1.5 2.8 1.5 3.6 1.5 4.3 1.5 4.9 1.5 5.5 1.5 6 1.5 6.5 1.5 6.9 1.5 7.3 1.5 7.6 1.5 7.9 1.5 8.1 1.5 8.3 1.5 8.5 1.5 8.5 1.5 8.5 1.5 8.5 1.5 8.5 1.5 8.3 1.5 8.1 1.5 8 1.5 7.6 1.5 7.3 1.5 7 1.5 6.6 1.5 6 1.5 5.6 1.5 5 1.5 4.3 1.5 3.7 1.5 3 1.5 2.2 1.5 1.4 1.5 0.5 1.5 -0.5 1.5 -1.6 1.5 -2.6 1.5 -3.6 1.5 -4.5 1.5 -5.3 1.5 -6 1.5 -6.8 1.5 -7.4 1.5 -7.9 1.5 -8.4 1.5 -8.9 1.5 -9.2 1.5 -9.5 1.5 -9.7 1.5 -9.9 1.5 -9.9 1.5 -10 1.5 -9.9 1.5 -9.8 1.5 -9.7 1.5 -9.3 1.5 -9.1 1.5 -8.6 1.5 -8.3 1.5 -7.6 1.5 -7.1 1.5 -6.5 1.5 -5.7 1.5 -4.9 1.5 -4.1 1.5 -3.1 1.5 -2.2 1.5 -1.1 1.5 0 1.5 1.1 1.5 2.1 1.5 2.9 1.5 3.8 1.5 4.6 1.5 5.4 1.5 6 1.5 6.7 1.5 7.2 1.5 7.7 1.5 8.2 1.5 8.6 1.5 8.9 1.5 9.1 1.5 9.4 1.5 9.6 1.5 9.6 1.5 9.6 1.5 9.7 1.5 9.6 1.5 9.4 1.5 9.2 1.5 9 1.5 8.6 1.5 8.3 1.5 7.9 1.5 7.3 1.5 6.9 1.5 6.2 1.5 5.5 1.5 4.8 1.5 4.1 1.5 3.1 1.5 2.3 1.5 1.4 1.5 0.3 1.5 -0.8 1.5 -2 1.5 -3 1.5 -3.9 1.5 -4.9 1.5 -5.7 1.5 -6.5 1.5 -7.2 1.5 -7.8 1.5 -8.3 1.5 -8.9 1.5 -9.2 1.5 -9.6 1.5 -9.9 1.5 -10.1 1.5 -10.2 1.5 -10.3 1.5 -10.3 1.5 -10.3 1.5 -10.1 1.5 -9.8 1.5 -9.6 1.5 -9.2 1.5 -8.9 1.5 -8.3 1.5 -7.7 1.5 -7.2 1.5 -6.4 1.5 -5.7 1.5 -4.8 1.5 -3.9 1.5 -2.9 1.5 -1.8 1.5 -0.8 1.5 0.4 1.5 1.5 1.5 2.5 1.5 3.4 1.5 4.3 1.5 5.1 1.5 5.8 1.5 6.5 1.5 7.2 1.5 7.7 1.5 8.2 1.5 8.6 1.5 9 1.5 9.3 1.5 9.5 1.5 9.7 1.5 9.9 1.5 9.8 1.5 9.9 1.5 9.7 1.5 9.7 1.5 9.4 1.5 9.1 1.5 8.8 1.5 8.4 1.5 8 1.5 7.4 1.5 6.8 1.5 6.2 1.5 5.5 1.5 4.6 1.5 3.9 1.5 2.9 1.5 1.9 1.5 0.9 1.5 -0.1 1.5 -1.3 1.5 -2.1 1.5 -3.1 1.5 -4 1.5 -4.8 1.5 -5.5 1.5 -6.1 1.5 -6.8 1.5 -7.3 1.5 -7.8 1.5 -8.3 1.5 -8.6 1.5 -8.9 1.5 -9.2 1.5 -9.3 1.5 -9.5 1.5 -9.6 1.5 -9.5 1.5 -9.5 1.5 -9.4 1.5 -9.2 1.5 -8.9 1.5 -8.7 1.5 -8.3 1.5 -7.9 1.5 -7.4 1.5 -6.8 1.5 -6.3 1.5 -5.5 1.5 -4.9 1.5 -4.1 1.5 -3.2 1.5 -2.3 1.5 -1.4 1.5 -0.3 1.5 0.8 1.5 1.7 1.5 2.7 1.5 3.6 1.5 4.3 1.5 5.2 1.5 5.9 1.5 6.5 1.5 7 1.5 7.6 1.5 8.1 1.5 8.4 1.5 8.8 1.5 9.1 1.5 9.3 1.5 9.4 1.5 9.5 1.5 9.6 1.5 9.5 1.5 9.4 1.5 9.3 1.5 9.1 1.5 8.8 1.5 8.5 1.5 8.1 1.5 7.6 1.5 7.1 1.5 6.5 1.5 5.9 1.5 5.2 1.5 4.5 1.5 3.6 1.5 2.7 1.5 1.9 1.5 0.8 1.5 -0.3 1.5 -1.3 1.5 -2.2 1.5 -3.2 1.5 -4 1.5 -4.8 1.5 -5.5 1.5 -6.2 1.5 -6.9 1.5 -7.3 1.5 -7.9 1.5 -8.2 1.5 -8.7 1.5 -8.9 1.5 -9.2 1.5 -9.4 1.5 -9.5 1.5 -9.5 1.5 -9.5 1.5 -9.5 1.5 -9.4 1.5 -9.2 1.5 -8.9 1.5 -8.7 1.5 -8.2 1.5 -7.9 1.5 -7.3 1.5 -6.9 1.5 -6.2 1.5 -5.5 1.5 -4.8 1.5 -4 1.5 -3.2 1.5 -2.2 1.5 -1.3 1.5 -0.3 1.5 0.8 1.5 1.9 1.5 2.7 1.5 3.6 1.5 4.5 1.5 5.2 1.5 5.9 1.5 6.5 1.5 7.1 1.5 7.6 1.5 8.1 1.5 8.5 1.5 8.8 1.5 9.1 1.5 9.3 1.5 9.4 1.5 9.5 1.5 9.6 1.5 9.5 1.5 9.4 1.5 9.3 1.5 9.1 1.5 8.8 1.5 8.4 1.5 8.1 1.5 7.6 1.5 7 1.5 6.5 1.5 5.9 1.5 5.2 1.5 4.3 1.5 3.6 1.5 2.7 1.5 1.7 1.5 0.8 1.5 -0.3 1.5 -1.4 1.5 -2.3 1.5 -3.2 1.5 -4.1 1.5 -4.9 1.5 -5.5 1.5 -6.3 1.5 -6.8 1.5 -7.4 1.5 -7.9 1.5 -8.3 1.5 -8.7 1.5 -8.9 1.5 -9.2 1.5 -9.4 1.5 -9.5 1.5 -9.5 1.5 -9.6 1.5 -9.5 1.5 -9.3 1.5 -9.2 1.5 -8.9 1.5 -8.6 1.5 -8.3 1.5 -7.8 1.5 -7.3 1.5 -6.8 1.5 -6.1 1.5 -5.5 1.5 -4.8 1.5 -4 1.5 -3.1 1.5 -2.1 1.5 -1.3 1.5 -0.1 1.5 0.8 1.5 1.9 1.5 2.8 1.5 3.7 1.5 4.5 1.5 5.2 1.5 6 1.5 6.6 1.5 7.1 1.5 7.7 1.5 8.1 1.5 8.5 1.5 8.8 1.5 9.1 1.5 9.3 1.5 9.4 1.5 9.6 1.5 9.5 1.5 9.6 1.5 9.4 1.5 9.2 1.5 9.1 1.5 8.7 1.5 8.5 1.5 8 1.5 7.6 1.5 7 1.5 6.5 1.5 5.8 1.5 5.1 1.5 4.3 1.5 3.5 1.5 2.6 1.5 1.7 1.5 0.7 1.5 -0.4 1.5 -1.4 1.5 -2.4 1.5 -3.3 1.5 -4.1 1.5 -4.9 1.5 -5.6 1.5 -6.3 1.5 -6.9 1.5 -7.4 1.5 -7.9 1.5 -8.4 1.5 -8.7 1.5 -8.9 1.5 -9.2 1.5 -9.4 1.5 -9.5 1.5 -9.6 1.5 -9.5 1.5 -9.5 1.5 -9.3 1.5 -9.2 1.5 -8.9 1.5 -8.6 1.5 -8.2 1.5 -7.8 1.5 -7.3 1.5 -6.7 1.5 -6.1 1.5 -5.5 1.5 -4.7 1.5 -3.9 1.5 -3 1.5 -2.2 1.5 -1.1 1.5 -0.1 1.5 0.9 1.5 2 1.5 2.8 1.5 3.8 1.5 4.5 1.5 5.3 1.5 6 1.5 6.6 1.5 7.2 1.5 7.7 1.5 8.1 1.5 8.6 1.5 8.8 1.5 9.1 1.5 9.3 1.5 9.5 1.5 9.5 1.5 9.6 1.5 9.5 1.5 9.4 1.5 9.2 1.5 9.1 1.5 8.7 1.5 8.4 1.5 8 1.5 7.5 1.5 7 1.5 6.5 1.5 5.7 1.5 5.1 1.5 4.3 1.5 3.4 1.5 2.6 1.5 1.6 1.5 0.6 1.5 -0.5 1.5 -1.4 1.5 -2.5 1.5 -3.3 1.5 -4.2 1.5 -5 1.5 -5.6 1.5 -6.4 1.5 -6.9 1.5 -7.5 1.5 -7.9 1.5 -8.3 1.5 -8.7 1.5 -9 1.5 -9.3 1.5 -9.4 1.5 -9.5 1.5 -9.5 1.5 -9.6 1.5 -9.4 1.5 -9.4 1.5 -9.1 1.5 -8.9 1.5 -8.5 1.5 -8.2 1.5 -7.8 1.5 -7.2 1.5 -6.7 1.5 -6.1 1.5 -5.4 1.5 -4.7 1.5 -3.8 1.5 -3 1.5 -2.1 1.5 -1 1.5 -0.1 1.5 1 1.5 2 1.5 3 1.5 3.8 1.5 4.6 1.5 5.3 1.5 6 1.5 6.7 1.5 7.2 1.5 7.7 1.5 8.2 1.5 8.5 1.5 8.9 1.5 9.1 1.5 9.4 1.5 9.4 1.5 9.6 1.5 9.5 1.5 9.5 1.5 9.4 1.5 9.3 1.5 9 1.5 8.7 1.5 8.4 1.5 7.9 1.5 7.5 1.5 7 1.5 6.4 1.5 5.7 1.5 5 1.5 4.2 1.5 3.4 1.5 2.5 1.5 1.6 1.5 0.5 1.5 -0.5 1.5 -1.6 1.5 -2.5 1.5 -3.4 1.5 -4.2 1.5 -5 1.5 -5.7 1.5 -6.4 1.5 -7 1.5 -7.5 1.5 -7.9 1.5 -8.4 1.5 -8.7 1.5 -9 1.5 -9.3 1.5 -9.4 1.5 -9.5 1.5 -9.5 1.5 -9.6 1.5 -9.4 1.5 -9.4 1.5 -9.1 1.5 -8.9 1.5 -8.5 1.5 -8.2 1.5 -7.7 1.5 -7.2 1.5 -6.7 1.5 -6 1.5 -5.3 1.5 -4.6 1.5 -3.8 1.5 -3 1.5 -2 1.5 -1 1.5 0.1 1.5 1 1.5 2.1 1.5 3 1.5 3.8 1.5 4.7 1.5 5.4 1.5 6.1 1.5 6.7 1.5 7.2 1.5 7.8 1.5 8.2 1.5 8.5 1.5 8.9 1.5 9.1 1.5 9.4 1.5 9.4 1.5 9.6 1.5 9.5 1.5 9.5 1.5 9.4 1.5 9.3 1.5 9 1.5 8.7 1.5 8.3 1.5 7.9 1.5 7.5 1.5 6.9 1.5 6.4 1.5 5.6 1.5 5 1.5 4.2 1.5 3.3 1.5 2.5 1.5 1.4 1.5 0.5 1.5 -0.6 1.5 -1.6 1.5 -2.6 1.5 -3.4 1.5 -4.3 1.5 -5.1 1.5 -5.7 1.5 -6.5" fill="none" stroke="#0000ff" stroke-width="7.00" stroke-linejoin="round" stroke-linecap="round"/>
<path d="M184.8 821.4 l1.5 9.3 1.5 9.3 1.5 9 1.5 8.7 1.5 8.3 1.5 7.9 1.5 7.5 1.5 6.9 1.5 6.3 1.5 5.7 1.5 4.9 1.5 4.2 1.5 3.3 1.5 2.4 1.5 1.5 1.5 0.4 1.5 -0.6 1.5 -1.7 1.5 -2.5 1.5 -3.5 1.5 -4.3 1.5 -5.1 1.5 -5.8 1.5 -6.4 1.5 -7 1.5 -7.6 1.5 -8 1.5 -8.4 1.5 -8.7 1.5 -9.1 1.5 -9.2 1.5 -9.4 1.5 -9.5 1.5 -9.6 1.5 -9.5 1.5 -9.5 1.5 -9.3 1.5 -9.1 1.5 -8.8 1.5 -8.5 1.5 -8.2 1.5 -7.7 1.5 -7.1 1.5 -6.6 1.5 -6 1.5 -5.3 1.5 -4.5 1.5 -3.7 1.5 -2.9 1.5 -1.9 1.5 -0.9 1.5 0.1 1.5 1.2 1.5 2.1 1.5 3.1 1.5 3.9 1.5 4.7 1.5 5.5 1.5 6.1 1.5 6.8 1.5 7.3 1.5 7.8 1.5 8.2 1.5 8.6 1.5 8.9 1.5 9.2 1.5 9.3 1.5 9.5 1.5 9.5 1.5 9.6 1.5 9.5 1.5 9.4 1.5 9.2 1.5 8.9 1.5 8.7 1.5 8.3 1.5 7.9 1.5 7.4 1.5 6.9 1.5 6.3 1.5 5.6 1.5 4.9 1.5 4.1 1.5 3.3 1.5 2.3 1.5 1.4 1.5 0.4 1.5 -0.7 1.5 -1.7 1.5 -2.6 1.5 -3.6 1.5 -4.3 1.5 -5.2 1.5 -5.8 1.5 -6.5 1.5 -7 1.5 -7.6 1.5 -8 1.5 -8.4 1.5 -8.8 1.5 -9.1 1.5 -9.2 1.5 -9.5 1.5 -9.5 1.5 -9.5 1.5 -9.6 1.5 -9.4 1.5 -9.3 1.5 -9.1 1.5 -8.8 1.5 -8.5 1.5 -8.1 1.5 -7.6 1.5 -7.2 1.5 -6.5 1.5 -6 1.5 -5.2 1.5 -4.5 1.5 -3.7 1.5 -2.7 1.5 -1.9 1.5 -0.8 1.5 0.2 1.5 1.2 1.5 2.2 1.5 3.1 1.5 4 1.5 4.8 1.5 5.5 1.5 6.2 1.5 6.7 1.5 7.4 1.5 7.8 1.5 8.3 1.5 8.6 1.5 8.9 1.5 9.2 1.5 9.3 1.5 9.5 1.5 9.6 1.5 9.5 1.5 9.5 1.5 9.4 1.5 9.2 1.5 8.9 1.5 8.7 1.5 8.3 1.5 7.8 1.5 7.4 1.5 6.9 1.5 6.2 1.5 5.6 1.5 4.8 1.5 4.1 1.5 3.2 1.5 2.3 1.5 1.3 1.5 0.3 1.5 -0.8 1.5 -1.8 1.5 -2.7 1.5 -3.5 1.5 -4.5 1.5 -5.1 1.5 -5.9 1.5 -6.5 1.5 -7.1 1.5 -7.6 1.5 -8.1 1.5 -8.4 1.5 -8.8 1.5 -9.1 1.5 -9.3 1.5 -9.4 1.5 -9.5 1.5 -9.6 1.5 -9.5 1.5 -9.4 1.5 -9.3 1.5 -9.1 1.5 -8.8 1.5 -8.5 1.5 -8 1.5 -7.6 1.5 -7.1 1.5 -6.6 1.5 -5.8 1.5 -5.2 1.5 -4.5 1.5 -3.6 1.5 -2.7 1.5 -1.8 1.5 -0.8 1.5 0.3 1.5 1.3 1.5 2.3 1.5 3.2 1.5 4 1.5 4.8 1.5 5.6 1.5 6.2 1.5 6.8 1.5 7.4 1.5 7.8 1.5 8.3 1.5 8.7 1.5 8.9 1.5 9.2 1.5 9.4 1.5 9.5 1.5 9.5 1.5 9.6 1.5 9.4 1.5 9.4 1.5 9.2 1.5 8.9 1.5 8.6 1.5 8.3 1.5 7.8 1.5 7.4 1.5 6.8 1.5 6.2 1.5 5.5 1.5 4.8 1.5 4 1.5 3.1 1.5 2.3 1.5 1.2 1.5 0.3 1.5 -0.9 1.5 -1.8 1.5 -2.8 1.5 -3.6 1.5 -4.5 1.5 -5.2 1.5 -5.9 1.5 -6.6 1.5 -7.1 1.5 -7.6 1.5 -8.1 1.5 -8.5 1.5 -8.8 1.5 -9.1 1.5 -9.3 1.5 -9.4 1.5 -9.6 1.5 -9.5 1.5 -9.5 1.5 -9.5 1.5 -9.2 1.5 -9.1 1.5 -8.8 1.5 -8.4 1.5 -8 1.5 -7.6 1.5 -7.1 1.5 -6.5 1.5 -5.8 1.5 -5.2 1.5 -4.3 1.5 -3.6 1.5 -2.6 1.5 -1.8 1.5 -0.7 1.5 0.4 1.5 1.3 1.5 2.4 1.5 3.2 1.5 4.1 1.5 4.9 1.5 5.6 1.5 6.2 1.5 6.9 1.5 7.4 1.5 7.9 1.5 8.3 1.5 8.7 1.5 8.9 1.5 9.2 1.5 9.4 1.5 9.5 1.5 9.5 1.5 9.6 1.5 9.5 1.5 9.3 1.5 9.2 1.5 8.9 1.5 8.6 1.5 8.2 1.5 7.9 1.5 7.3 1.5 6.7 1.5 6.2 1.5 5.4 1.5 4.8 1.5 3.9 1.5 3.1 1.5 2.2 1.5 1.2 1.5 0.1 1.5 -0.9 1.5 -1.8 1.5 -2.8 1.5 -3.7 1.5 -4.5 1.5 -5.2 1.5 -5.9 1.5 -6.5 1.5 -7.1 1.5 -7.6 1.5 -8.1 1.5 -8.5 1.5 -8.7 1.5 -9.1 1.5 -9.3 1.5 -9.4 1.5 -9.5 1.5 -9.5 1.5 -9.6 1.5 -9.4 1.5 -9.3 1.5 -9.1 1.5 -8.8 1.5 -8.5 1.5 -8.1 1.5 -7.6 1.5 -7.2 1.5 -6.6 1.5 -6 1.5 -5.3 1.5 -4.5 1.5 -3.8 1.5 -2.9 1.5 -2 1.5 -1 1.5 0.1 1.5 1.6 1.5 3.1 1.5 4.4 1.5 5.7 1.5 6.8 1.5 7.9 1.5 8.9 1.5 9.7 1.5 10.5 1.5 11.2 1.5 11.8 1.5 12.2 1.5 12.6 1.5 12.8 1.5 13.1 1.5 13.1 1.5 13.2 1.5 13 1.5 12.8 1.5 12.4 1.5 12.1 1.5 11.6 1.5 10.9 1.5 10.3 1.5 9.5 1.5 8.5 1.5 7.6 1.5 6.4 1.5 5.3 1.5 4 1.5 2.6 1.5 1.1 1.5 -0.7 1.5 -3 1.5 -5 1.5 -6.9 1.5 -8.6 1.5 -10.2 1.5 -11.5 1.5 -12.8 1.5 -13.8 1.5 -14.7 1.5 -15.4 1.5 -15.9 1.5 -16.3 1.5 -16.4 1.5 -16.5 1.5 -16.4 1.5 -16 1.5 -15.6 1.5 -14.9 1.5 -14 1.5 -13.1 1.5 -11.9 1.5 -10.6 1.5 -9 1.5 -7.4 1.5 -5.5 1.5 -3.5 1.5 -1.3 1.5 0.5 1.5 1.5 1.5 2.5 1.5 3.4 1.5 4.3 1.5 5 1.5 5.8 1.5 6.5 1.5 7.1 1.5 7.6 1.5 8.1 1.5 8.5 1.5 8.8 1.5 9.2 1.5 9.4 1.5 9.5 1.5 9.7 1.5 9.7 1.5 9.6 1.5 9.6 1.5 9.4 1.5 9.2 1.5 9 1.5 8.6 1.5 8.2 1.5 7.8 1.5 7.2 1.5 6.6 1.5 6 1.5 5.3 1.5 4.4 1.5 3.7 1.5 2.7 1.5 1.8 1.5 0.8 1.5 -0.3 1.5 -1.3 1.5 -2.2 1.5 -3 1.5 -3.8 1.5 -4.5 1.5 -5.2 1.5 -5.8 1.5 -6.3 1.5 -6.8 1.5 -7.2 1.5 -7.6 1.5 -7.8 1.5 -8 1.5 -8.3 1.5 -8.3 1.5 -8.3 1.5 -8.3 1.5 -8.2 1.5 -8.1 1.5 -7.8 1.5 -7.6 1.5 -7.2 1.5 -6.8 1.5 -6.4 1.5 -5.8 1.5 -5.2 1.5 -4.6 1.5 -3.9 1.5 -3 1.5 -2.3 1.5 -1.3 1.5 -0.4 1.5 0.6 1.5 1.5 1.5 2.3 1.5 3.1 1.5 3.8 1.5 4.4 1.5 5.1 1.5 5.6 1.5 6.1 1.5 6.5 1.5 7 1.5 7.2 1.5 7.5 1.5 7.8 1.5 7.9 1.5 8 1.5 8 1.5 8 1.5 8 1.5 7.8 1.5 7.7 1.5 7.4 1.5 7.1 1.5 6.8 1.5 6.4 1.5 5.9 1.5 5.4 1.5 4.8 1.5 4.2 1.5 3.6 1.5 2.7 1.5 2 1.5 1.1 1.5 0.3 1.5 -0.7 1.5 -1.5 1.5 -2.4 1.5 -3 1.5 -3.8 1.5 -4.4 1.5 -5 1.5 -5.5 1.5 -6 1.5 -6.4 1.5 -6.8 1.5 -7.1 1.5 -7.4 1.5 -7.7 1.5 -7.8 1.5 -7.9 1.5 -8 1.5 -8 1.5 -7.9 1.5 -7.9 1.5 -7.7 1.5 -7.5 1.5 -7.3 1.5 -7 1.5 -6.6 1.5 -6.3 1.5 -5.8 1.5 -5.2 1.5 -4.7 1.5 -4.1 1.5 -3.5 1.5 -2.7 1.5 -2 1.5 -1.1 1.5 -0.3 1.5 0.6 1.5 1.3 1.5 1.9 1.5 2.7 1.5 3.3 1.5 3.8 1.5 4.4 1.5 4.9 1.5 5.3 1.5 5.7 1.5 6.1 1.5 6.4 1.5 6.7 1.5 6.9 1.5 7.2 1.5 7.2 1.5 7.4 1.5 7.5 1.5 7.4 1.5 7.5 1.5 7.4 1.5 7.3 1.5 7.1 1.5 7 1.5 6.7 1.5 6.4 1.5 6.2 1.5 5.8 1.5 5.3 1.5 5 1.5 4.4 1.5 3.9 1.5 3.4 1.5 2.7 1.5 2.1 1.5 1.4 1.5 0.7 1.5 -0.2 1.5 -1 1.5 -1.8 1.5 -2.6 1.5 -3.3 1.5 -3.9 1.5 -4.6 1.5 -5.1 1.5 -5.6 1.5 -6.1 1.5 -6.5 1.5 -6.9 1.5 -7.2 1.5 -7.4 1.5 -7.6 1.5 -7.8 1.5 -7.9 1.5 -7.9 1.5 -8 1.5 -7.9 1.5 -7.8 1.5 -7.7 1.5 -7.5 1.5 -7.2 1.5 -7 1.5 -6.6 1.5 -6.2 1.5 -5.7 1.5 -5.3 1.5 -4.7 1.5 -4.1 1.5 -3.5 1.5 -2.8 1.5 -2 1.5 -1.2 1.5 -0.4 1.5 0.5 1.5 1.5 1.5 2.3 1.5 3.1 1.5 3.9 1.5 4.5 1.5 5.2 1.5 5.8 1.5 6.3 1.5 6.7 1.5 7.1 1.5 7.5 1.5 7.8 1.5 8.1 1.5 8.2 1.5 8.3 1.5 8.4 1.5 8.5 1.5 8.3 1.5 8.3 1.5 8.1 1.5 8 1.5 7.6 1.5 7.3 1.5 7 1.5 6.5 1.5 6 1.5 5.4 1.5 4.9 1.5 4.2 1.5 3.4 1.5 2.7 1.5 1.9 1.5 1 1.5 0 1.5 -0.8 1.5 -1.6 1.5 -2.4 1.5 -3.1 1.5 -3.7 1.5 -4.3 1.5 -4.9 1.5 -5.5 1.5 -5.8 1.5 -6.3 1.5 -6.7 1.5 -7 1.5 -7.3 1.5 -7.6 1.5 -7.7 1.5 -7.8 1.5 -7.9 1.5 -8 1.5 -8 1.5 -7.9 1.5 -7.9 1.5 -7.7 1.5 -7.5 1.5 -7.2 1.5 -7 1.5 -6.6 1.5 -6.3 1.5 -5.8 1.5 -5.4 1.5 -4.8 1.5 -4.2 1.5 -3.7 1.5 -3 1.5 -2.2 1.5 -1.5 1.5 -0.8 1.5 0.2 1.5 1.2 1.5 2.2 1.5 3 1.5 3.8 1.5 4.6 1.5 5.4 1.5 5.9 1.5 6.5 1.5 7.1 1.5 7.5 1.5 7.9 1.5 8.2 1.5 8.5 1.5 8.6 1.5 8.9 1.5 8.9 1.5 8.9 1.5 8.9 1.5 8.7 1.5 8.6 1.5 8.4 1.5 8.1 1.5 7.7 1.5 7.3 1.5 6.8 1.5 6.3 1.5 5.6 1.5 5 1.5 4.3 1.5 3.4 1.5 2.7 1.5 1.7 1.5 0.7 1.5 -0.4 1.5 -1.5 1.5 -2.6 1.5 -3.6 1.5 -4.4 1.5 -5.2 1.5 -5.9 1.5 -6.3 1.5 -6.9 1.5 -7.1 1.5 -7.4 1.5 -7.5 1.5 -7.6 1.5 -7.4 1.5 -7.3 1.5 -7 1.5 -6.6 1.5 -6.1 1.5 -5.5 1.5 -4.8 1.5 -4 1.5 -3.8 1.5 -3.8 1.5 -3.9 1.5 -3.9 1.5 -3.8 1.5 -3.8 1.5 -3.8 1.5 -3.8 1.5 -3.6 1.5 -3.6 1.5 -3.4 1.5 -3.3 1.5 -3.2 1.5 -3 1.5 -2.8 1.5 -2.6 1.5 -2.4 1.5 -2.1 1.5 -1.9 1.5 -1.7 1.5 -1.3 1.5 -1 1.5 -0.7 1.5 -0.4 1.5 0.1 1.5 0.7 1.5 1.4 1.5 2 1.5 2.5 1.5 3.1 1.5 3.7 1.5 4 1.5 4.5 1.5 5 1.5 5.2 1.5 5.6 1.5 5.9 1.5 6.1 1.5 6.3 1.5 6.5 1.5 6.6 1.5 6.7 1.5 6.8 1.5 6.8 1.5 6.8 1.5 6.7 1.5 6.7 1.5 6.5 1.5 6.4 1.5 6.1 1.5 5.9 1.5 5.7 1.5 5.3 1.5 5 1.5 4.6 1.5 4.2 1.5 3.7 1.5 3.2 1.5 2.7 1.5 2.1 1.5 1.5 1.5 0.8 1.5 0.2 1.5 -0.7 1.5 -1.4 1.5 -2.3 1.5 -2.9 1.5 -3.6 1.5 -4.2 1.5 -4.8 1.5 -5.3 1.5 -5.9 1.5 -6.2 1.5 -6.7 1.5 -7 1.5 -7.2 1.5 -7.6 1.5 -7.7 1.5 -8 1.5 -8 1.5 -8.1 1.5 -8.1 1.5 -8.1 1.5 -8 1.5 -8 1.5 -7.7 1.5 -7.6 1.5 -7.2 1.5 -7 1.5 -6.7 1.5 -6.2 1.5 -5.9 1.5 -5.3 1.5 -4.8 1.5 -4.2 1.5 -3.6 1.5 -2.9 1.5 -2.3 1.5 -1.4 1.5 -0.7 1.5 0.3 1.5 1.2 1.5 2.2 1.5 3 1.5 3.9 1.5 4.7 1.5 5.4 1.5 6 1.5 6.6 1.5 7.1 1.5 7.7 1.5 8 1.5 8.5 1.5 8.7 1.5 9 1.5 9.2 1.5 9.3 1.5 9.5 1.5 9.4 1.5 9.4 1.5 9.3 1.5 9.2 1.5 9 1.5 8.7 1.5 8.4 1.5 8 1.5 7.5 1.5 7.1 1.5 6.6 1.5 5.9 1.5 5.3 1.5 4.5 1.5 3.8 1.5 3 1.5 2 1.5 1.1 1.5 0.1 1.5 -1 1.5 -2 1.5 -3 1.5 -3.9 1.5 -4.8 1.5 -5.6 1.5 -6.2 1.5 -7 1.5 -7.5 1.5 -8.1 1.5 -8.5 1.5 -9 1.5 -9.2 1.5 -9.6 1.5 -9.8 1.5 -9.9 1.5 -10 1.5 -10.1 1.5 -9.9 1.5 -9.9 1.5 -9.8 1.5 -9.5 1.5 -9.2 1.5 -8.8 1.5 -8.4 1.5 -7.9 1.5 -7.4 1.5 -6.8 1.5 -6.1 1.5 -5.3 1.5 -4.6 1.5 -3.7 1.5 -2.7 1.5 -1.8 1.5 -0.7 1.5 0.4 1.5 1.6 1.5 2.5 1.5 3.6 1.5 4.5 1.5 5.3 1.5 6 1.5 6.8 1.5 7.4 1.5 8 1.5 8.5 1.5 8.9 1.5 9.3 1.5 9.6 1.5 9.9 1.5 10 1.5 10.1 1.5 10.1 1.5 10.1 1.5 10 1.5 9.8 1.5 9.6 1.5 9.3 1.5 8.9 1.5 8.4 1.5 8 1.5 7.4 1.5 6.7 1.5 6 1.5 5.3 1.5 4.4 1.5 3.5 1.5 2.5 1.5 1.4 1.5 0.4 1.5 -0.8 1.5 -1.8 1.5 -2.9 1.5 -3.7 1.5 -4.7 1.5 -5.4 1.5 -6.1 1.5 -6.8 1.5 -7.5 1.5 -7.9 1.5 -8.4 1.5 -8.9 1.5 -9.1 1.5 -9.5 1.5 -9.6 1.5 -9.8 1.5 -9.9 1.5 -9.8 1.5 -9.9 1.5 -9.6 1.5 -9.6 1.5 -9.2 1.5 -9 1.5 -8.5 1.5 -8.1 1.5 -7.6 1.5 -7 1.5 -6.4 1.5 -5.6 1.5 -4.9 1.5 -4.1 1.5 -3.1 1.5 -2.1 1.5 -1.2 1.5 0 1.5 1.1 1.5 2 1.5 2.9 1.5 3.8 1.5 4.7 1.5 5.3 1.5 6.1 1.5 6.6 1.5 7.3 1.5 7.7 1.5 8.2 1.5 8.5 1.5 8.9 1.5 9.1 1.5 9.4 1.5 9.4 1.5 9.6 1.5 9.5 1.5 9.5 1.5 9.4 1.5 9.3 1.5 9 1.5 8.7 1.5 8.3 1.5 8 1.5 7.5 1.5 6.9 1.5 6.4 1.5 5.7 1.5 5 1.5 4.2 1.5 3.4 1.5 2.5 1.5 1.5 1.5 0.5 1.5 -0.6 1.5 -1.5 1.5 -2.5 1.5 -3.5 1.5 -4.2 1.5 -5 1.5 -5.8 1.5 -6.4 1.5 -6.9 1.5 -7.5 1.5 -8 1.5 -8.4 1.5 -8.7 1.5 -9 1.5 -9.3 1.5 -9.4 1.5 -9.5 1.5 -9.6 1.5 -9.5 1.5 -9.5 1.5 -9.3 1.5 -9.1 1.5 -8.9 1.5 -8.5 1.5 -8.1 1.5 -7.8 1.5 -7.2 1.5 -6.6 1.5 -6 1.5 -5.4 1.5 -4.5 1.5 -3.8 1.5 -2.9 1.5 -2 1.5 -1 1.5 0.1 1.5 1.1 1.5 2.1 1.5 3 1.5 3.8 1.5 4.7 1.5 5.4 1.5 6.1 1.5 6.7 1.5 7.3 1.5 7.7 1.5 8.2 1.5 8.6 1.5 8.9 1.5 9.2 1.5 9.3 1.5 9.5 1.5 9.5 1.5 9.6 1.5 9.5 1.5 9.3 1.5 9.3 1.5 9 1.5 8.7 1.5 8.3 1.5 7.9 1.5 7.5 1.5 6.9 1.5 6.3 1.5 5.7 1.5 4.9 1.5 4.2 1.5 3.3 1.5 2.4 1.5 1.5 1.5 0.4 1.5 -0.6 1.5 -1.7 1.5 -2.5 1.5 -3.5 1.5 -4.3 1.5 -5.1 1.5 -5.8 1.5 -6.4 1.5 -7 1.5 -7.6 1.5 -8 1.5 -8.4 1.5 -8.7 1.5 -9.1 1.5 -9.2 1.5 -9.4 1.5 -9.5 1.5 -9.6 1.5 -9.5 1.5 -9.5 1.5 -9.3 1.5 -9.1 1.5 -8.8 1.5 -8.5 1.5 -8.2 1.5 -7.7 1.5 -7.1 1.5 -6.6 1.5 -6 1.5 -5.3 1.5 -4.5 1.5 -3.7 1.5 -2.9 1.5 -1.9 1.5 -0.9 1.5 0.1 1.5 1.2 1.5 2.1 1.5 3.1 1.5 3.9 1.5 4.7 1.5 5.5 1.5 6.1 1.5 6.8 1.5 7.3 1.5 7.8 1.5 8.2 1.5 8.6 1.5 8.9 1.5 9.2 1.5 9.3 1.5 9.5 1.5 9.5 1.5 9.6 1.5 9.5 1.5 9.4 1.5 9.2 1.5 8.9 1.5 8.7 1.5 8.3 1.5 7.9 1.5 7.4 1.5 6.9 1.5 6.3 1.5 5.6 1.5 4.9 1.5 4.1 1.5 3.3 1.5 2.3 1.5 1.4 1.5 0.4 1.5 -0.7 1.5 -1.7 1.5 -2.6 1.5 -3.6 1.5 -4.3 1.5 -5.2 1.5 -5.8 1.5 -6.5 1.5 -7 1.5 -7.6 1.5 -8 1.5 -8.4 1.5 -8.8 1.5 -9.1 1.5 -9.2 1.5 -9.5 1.5 -9.5 1.5 -9.5 1.5 -9.6 1.5 -9.4 1.5 -9.3 1.5 -9.1 1.5 -8.8 1.5 -8.5 1.5 -8.1 1.5 -7.6 1.5 -7.2 1.5 -6.5 1.5 -6 1.5 -5.2 1.5 -4.5 1.5 -3.7 1.5 -2.7 1.5 -1.9 1.5 -0.8 1.5 0.2 1.5 1.2 1.5 2.2 1.5 3.1 1.5 4 1.5 4.8 1.5 5.5 1.5 6.2 1.5 6.7 1.5 7.4 1.5 7.8 1.5 8.3 1.5 8.6 1.5 8.9 1.5 9.2 1.5 9.3 1.5 9.5 1.5 9.6 1.5 9.5 1.5 9.5 1.5 9.4 1.5 9.2 1.5 8.9 1.5 8.7 1.5 8.3 1.5 7.8 1.5 7.4 1.5 6.9 1.5 6.2 1.5 5.6 1.5 4.8 1.5 4.1 1.5 3.2 1.5 2.3 1.5 1.3 1.5 0.3 1.5 -0.8 1.5 -1.8 1.5 -2.7 1.5 -3.5 1.5 -4.5 1.5 -5.1 1.5 -5.9 1.5 -6.5 1.5 -7.1 1.5 -7.6 1.5 -8.1 1.5 -8.4 1.5 -8.8 1.5 -9.1 1.5 -9.3 1.5 -9.4 1.5 -9.5 1.5 -9.6 1.5 -9.5 1.5 -9.4 1.5 -9.3 1.5 -9.1 1.5 -8.8 1.5 -8.5 1.5 -8 1.5 -7.6 1.5 -7.1 1.5 -6.6 1.5 -5.8 1.5 -5.2 1.5 -4.5 1.5 -3.6 1.5 -2.7 1.5 -1.8 1.5 -0.8 1.5 0.3 1.5 1.3 1.5 2.3 1.5 3.2 1.5 4 1.5 4.8 1.5 5.6 1.5 6.2 1.5 6.8 1.5 7.4 1.5 7.8 1.5 8.3 1.5 8.7 1.5 8.9 1.5 9.2 1.5 9.4 1.5 9.5 1.5 9.5 1.5 9.6 1.5 9.4 1.5 9.4 1.5 9.2 1.5 8.9 1.5 8.6 1.5 8.3 1.5 7.8 1.5 7.4 1.5 6.8 1.5 6.2 1.5 5.5 1.5 4.8 1.5 4 1.5 3.1 1.5 2.3 1.5 1.2 1.5 0.3 1.5 -0.9 1.5 -1.8 1.5 -2.8 1.5 -3.6 1.5 -4.5 1.5 -5.2 1.5 -5.9 1.5 -6.6 1.5 -7.1 1.5 -7.6 1.5 -8.1 1.5 -8.5 1.5 -8.8 1.5 -9.1 1.5 -9.3 1.5 -9.4 1.5 -9.6 1.5 -9.5 1.5 -9.5 1.5 -9.5 1.5 -9.2 1.5 -9.1 1.5 -8.8 1.5 -8.4 1.5 -8 1.5 -7.6 1.5 -7.1 1.5 -6.5 1.5 -5.8 1.5 -5.2 1.5 -4.3 1.5 -3.6 1.5 -2.6 1.5 -1.8 1.5 -0.7 1.5 0.4 1.5 1.3 1.5 2.4 1.5 3.2 1.5 4.1 1.5 4.9 1.5 5.6 1.5 6.2 1.5 6.9 1.5 7.4 1.5 7.9 1.5 8.3 1.5 8.7 1.5 8.9 1.5 9.2 1.5 9.4 1.5 9.5 1.5 9.5 1.5 9.6 1.5 9.5 1.5 9.3 1.5 9.2 1.5 8.9 1.5 8.6 1.5 8.2 1.5 7.9 1.5 7.3 1.5 6.7 1.5 6.2 1.5 5.4 1.5 4.8 1.5 3.9 1.5 3.1 1.5 2.2 1.5 1.2 1.5 0.1 1.5 -0.9 1.5 -1.9 1.5 -2.8 1.5 -3.7 1.5 -4.5 1.5 -5.3 1.5 -5.9 1.5 -6.6 1.5 -7.2 1.5 -7.6 1.5 -8.2 1.5 -8.5 1.5 -8.8 1.5 -9.1 1.5 -9.3 1.5 -9.5 1.5 -9.5 1.5 -9.5 1.5 -9.6 1.5 -9.4 1.5 -9.2 1.5 -9.1 1.5 -8.7 1.5 -8.5 1.5 -8 1.5 -7.5 1.5 -7 1.5 -6.5 1.5 -5.8 1.5 -5.1 1.5 -4.3 1.5 -3.5 1.5 -2.6 1.5 -1.6 1.5 -0.7 1.5 0.4 1.5 1.5 1.5 2.4 1.5 3.3 1.5 4.1 1.5 4.9 1.5 5.7 1.5 6.3 1.5 6.9 1.5 7.4 1.5 7.9 1.5 8.4 1.5 8.6 1.5 9 1.5 9.2 1.5 9.4 1.5 9.5 1.5 9.6 1.5 9.5 1.5 9.5" fill="none" stroke="#ff0000" stroke-width="7.00" stroke-linejoin="round" stroke-linecap="round"/>
<path d="M184.8 699.3 l1.5 -3.5 1.5 -2.5 1.5 -1.7 1.5 -0.6 1.5 0.4 1.5 1.5 1.5 2.4 1.5 3.3 1.5 4.2 1.5 4.9 1.5 5.7 1.5 6.3 1.5 6.9 1.5 7.5 1.5 7.9 1.5 8.3 1.5 8.7 1.5 9 1.5 9.3 1.5 9.3 1.5 9.5 1.5 9.6 1.5 9.5 1.5 9.5 1.5 9.3 1.5 9.2 1.5 8.9 1.5 8.6 1.5 8.2 1.5 7.7 1.5 7.3 1.5 6.7 1.5 6.1 1.5 5.4 1.5 4.7 1.5 3.8 1.5 3 1.5 2.1 1.5 1.1 1.5 0.1 1.5 -1 1.5 -2 1.5 -2.9 1.5 -3.8 1.5 -4.5 1.5 -5.4 1.5 -6 1.5 -6.6 1.5 -7.2 1.5 -7.8 1.5 -8.1 1.5 -8.5 1.5 -8.9 1.5 -9.1 1.5 -9.3 1.5 -9.5 1.5 -9.5 1.5 -9.6 1.5 -9.5 1.5 -9.4 1.5 -9.3 1.5 -9 1.5 -8.7 1.5 -8.4 1.5 -8 1.5 -7.5 1.5 -6.9 1.5 -6.4 1.5 -5.8 1.5 -5 1.5 -4.2 1.5 -3.5 1.5 -2.5 1.5 -1.5 1.5 -0.6 1.5 0.5 1.5 1.5 1.5 2.5 1.5 3.4 1.5 4.2 1.5 5 1.5 5.7 1.5 6.4 1.5 6.9 1.5 7.5 1.5 8 1.5 8.3 1.5 8.7 1.5 9 1.5 9.3 1.5 9.4 1.5 9.5 1.5 9.5 1.5 9.6 1.5 9.4 1.5 9.4 1.5 9.1 1.5 8.9 1.5 8.5 1.5 8.2 1.5 7.7 1.5 7.3 1.5 6.6 1.5 6.1 1.5 5.3 1.5 4.7 1.5 3.8 1.5 2.9 1.5 2 1.5 1.1 1.5 0 1.5 -1.1 1.5 -2 1.5 -3 1.5 -3.8 1.5 -4.7 1.5 -5.4 1.5 -6 1.5 -6.7 1.5 -7.2 1.5 -7.8 1.5 -8.2 1.5 -8.5 1.5 -8.9 1.5 -9.1 1.5 -9.4 1.5 -9.4 1.5 -9.6 1.5 -9.5 1.5 -9.5 1.5 -9.4 1.5 -9.3 1.5 -9 1.5 -8.7 1.5 -8.3 1.5 -8 1.5 -7.4 1.5 -7 1.5 -6.3 1.5 -5.7 1.5 -5 1.5 -4.2 1.5 -3.4 1.5 -2.4 1.5 -1.5 1.5 -0.5 1.5 0.6 1.5 1.6 1.5 2.5 1.5 3.4 1.5 4.3 1.5 5.1 1.5 5.7 1.5 6.4 1.5 7 1.5 7.5 1.5 8 1.5 8.4 1.5 8.7 1.5 9 1.5 9.3 1.5 9.4 1.5 9.5 1.5 9.6 1.5 9.5 1.5 9.5 1.5 9.3 1.5 9.1 1.5 8.8 1.5 8.6 1.5 8.1 1.5 7.7 1.5 7.2 1.5 6.6 1.5 6.1 1.5 5.3 1.5 4.5 1.5 3.8 1.5 2.9 1.5 1.9 1.5 1 1.5 -0.1 1.5 -1.1 1.5 -2.1 1.5 -3 1.5 -3.9 1.5 -4.7 1.5 -5.4 1.5 -6.1 1.5 -6.8 1.5 -7.2 1.5 -7.8 1.5 -8.2 1.5 -8.6 1.5 -8.9 1.5 -9.2 1.5 -9.3 1.5 -9.5 1.5 -9.5 1.5 -9.6 1.5 -9.5 1.5 -9.4 1.5 -9.2 1.5 -9 1.5 -8.6 1.5 -8.4 1.5 -7.9 1.5 -7.4 1.5 -6.9 1.5 -6.3 1.5 -5.7 1.5 -4.9 1.5 -4.1 1.5 -3.3 1.5 -2.4 1.5 -1.5 1.5 -0.4 1.5 0.7 1.5 1.6 1.5 2.6 1.5 3.5 1.5 4.3 1.5 5.1 1.5 5.8 1.5 6.5 1.5 7 1.5 7.5 1.5 8 1.5 8.5 1.5 8.7 1.5 9.1 1.5 9.2 1.5 9.4 1.5 9.6 1.5 9.5 1.5 9.5 1.5 9.5 1.5 9.3 1.5 9.1 1.5 8.8 1.5 8.5 1.5 8.2 1.5 7.6 1.5 7.2 1.5 6.6 1.5 5.9 1.5 5.3 1.5 4.5 1.5 3.7 1.5 2.8 1.5 1.9 1.5 0.9 1.5 -0.1 1.5 -1.2 1.5 -2.2 1.5 -3.1 1.5 -3.9 1.5 -4.8 1.5 -5.4 1.5 -6.2 1.5 -6.7 1.5 -7.3 1.5 -7.9 1.5 -8.2 1.5 -8.6 1.5 -8.9 1.5 -9.2 1.5 -9.3 1.5 -9.5 1.5 -9.6 1.5 -9.5 1.5 -9.5 1.5 -9.4 1.5 -9.2 1.5 -8.9 1.5 -8.7 1.5 -8.3 1.5 -7.9 1.5 -7.4 1.5 -6.9 1.5 -6.2 1.5 -5.6 1.5 -4.9 1.5 -4.1 1.5 -3.2 1.5 -2.4 1.5 -1.3 1.5 -0.4 1.5 0.7 1.5 1.7 1.5 2.6 1.5 3.5 1.5 4.4 1.5 5 1.5 5.8 1.5 6.4 1.5 7 1.5 7.5 1.5 7.9 1.5 8.3 1.5 8.7 1.5 9 1.5 9.1 1.5 9.4 1.5 9.4 1.5 9.5 1.5 9.4 1.5 9.4 1.5 9.2 1.5 9 1.5 8.8 1.5 8.4 1.5 8.1 1.5 7.6 1.5 7.1 1.5 6.6 1.5 6 1.5 5.2 1.5 4.6 1.5 3.7 1.5 2.9 1.5 2 1.5 1 1.5 0 1.5 -1 1.5 -2 1.5 -2.8 1.5 -3.6 1.5 -4.4 1.5 -5.1 1.5 -5.7 1.5 -6.3 1.5 -6.9 1.5 -7.4 1.5 -7.9 1.5 -8.2 1.5 -8.5 1.5 -8.9 1.5 -9 1.5 -9.2 1.5 -9.4 1.5 -9.4 1.5 -9.4 1.5 -9.4 1.5 -9.3 1.5 -9.1 1.5 -9 1.5 -8.7 1.5 -8.4 1.5 -8 1.5 -7.6 1.5 -7.1 1.5 -6.6 1.5 -6 1.5 -5.4 1.5 -4.8 1.5 -3.9 1.5 -3.2 1.5 -2.4 1.5 -1.4 1.5 -0.5 1.5 1.2 1.5 3.6 1.5 5.7 1.5 7.6 1.5 9.3 1.5 10.7 1.5 12 1.5 12.9 1.5 13.8 1.5 14.2 1.5 14.6 1.5 14.7 1.5 14.6 1.5 14.3 1.5 13.7 1.5 12.8 1.5 11.9 1.5 10.6 1.5 9.2 1.5 7.5 1.5 5.6 1.5 3.4 1.5 1.1 1.5 -0.5 1.5 -1.4 1.5 -2.2 1.5 -3 1.5 -3.7 1.5 -4.4 1.5 -4.9 1.5 -5.5 1.5 -6 1.5 -6.5 1.5 -6.8 1.5 -7.1 1.5 -7.4 1.5 -7.6 1.5 -7.8 1.5 -7.9 1.5 -7.9 1.5 -8 1.5 -7.8 1.5 -7.8 1.5 -7.6 1.5 -7.3 1.5 -7.1 1.5 -6.8 1.5 -6.3 1.5 -5.9 1.5 -5.4 1.5 -4.8 1.5 -4.3 1.5 -3.5 1.5 -2.9 1.5 -2 1.5 -1.3 1.5 -0.3 1.5 0.6 1.5 1.5 1.5 2.3 1.5 3 1.5 3.8 1.5 4.4 1.5 5 1.5 5.6 1.5 6 1.5 6.5 1.5 6.8 1.5 7.1 1.5 7.3 1.5 7.6 1.5 7.7 1.5 7.7 1.5 7.7 1.5 7.8 1.5 7.6 1.5 7.4 1.5 7.2 1.5 6.9 1.5 6.6 1.5 6.2 1.5 5.8 1.5 5.2 1.5 4.7 1.5 4 1.5 3.4 1.5 2.6 1.5 1.8 1.5 1 1.5 0 1.5 -0.9 1.5 -1.9 1.5 -2.7 1.5 -3.5 1.5 -4.2 1.5 -4.9 1.5 -5.4 1.5 -6.1 1.5 -6.5 1.5 -6.9 1.5 -7.3 1.5 -7.6 1.5 -7.8 1.5 -8 1.5 -8.1 1.5 -8.1 1.5 -8.2 1.5 -8.1 1.5 -7.9 1.5 -7.8 1.5 -7.5 1.5 -7.2 1.5 -6.8 1.5 -6.4 1.5 -5.9 1.5 -5.3 1.5 -4.7 1.5 -4 1.5 -3.3 1.5 -2.5 1.5 -1.6 1.5 -0.7 1.5 0.3 1.5 1 1.5 1.9 1.5 2.5 1.5 3.2 1.5 3.8 1.5 4.4 1.5 4.8 1.5 5.4 1.5 5.7 1.5 6.1 1.5 6.4 1.5 6.7 1.5 6.9 1.5 7 1.5 7.2 1.5 7.2 1.5 7.2 1.5 7.2 1.5 7.1 1.5 6.9 1.5 6.8 1.5 6.5 1.5 6.2 1.5 5.9 1.5 5.4 1.5 5.1 1.5 4.5 1.5 4 1.5 3.4 1.5 2.8 1.5 2 1.5 1.4 1.5 0.5 1.5 -0.3 1.5 -0.9 1.5 -1.7 1.5 -2.2 1.5 -2.8 1.5 -3.4 1.5 -3.8 1.5 -4.3 1.5 -4.7 1.5 -5.1 1.5 -5.4 1.5 -5.6 1.5 -5.9 1.5 -6.1 1.5 -6.3 1.5 -6.3 1.5 -6.5 1.5 -6.4 1.5 -6.5 1.5 -6.3 1.5 -6.3 1.5 -6.2 1.5 -5.9 1.5 -5.8 1.5 -5.4 1.5 -5.2 1.5 -4.8 1.5 -4.4 1.5 -3.9 1.5 -3.5 1.5 -3 1.5 -2.4 1.5 -1.8 1.5 -1.1 1.5 -0.5 1.5 0.2 1.5 0.9 1.5 1.5 1.5 2 1.5 2.6 1.5 3 1.5 3.5 1.5 3.9 1.5 4.3 1.5 4.6 1.5 5 1.5 5.2 1.5 5.4 1.5 5.6 1.5 5.8 1.5 5.9 1.5 6 1.5 6.1 1.5 6 1.5 6.1 1.5 5.9 1.5 5.9 1.5 5.7 1.5 5.6 1.5 5.4 1.5 5.1 1.5 4.8 1.5 4.6 1.5 4.1 1.5 3.8 1.5 3.3 1.5 2.9 1.5 2.4 1.5 1.9 1.5 1.2 1.5 0.7 1.5 0 1.5 -0.6 1.5 -1.2 1.5 -1.9 1.5 -2.3 1.5 -2.9 1.5 -3.4 1.5 -3.7 1.5 -4.2 1.5 -4.5 1.5 -4.9 1.5 -5.1 1.5 -5.4 1.5 -5.6 1.5 -5.7 1.5 -5.9 1.5 -6 1.5 -6 1.5 -6.1 1.5 -6.1 1.5 -6 1.5 -5.9 1.5 -5.8 1.5 -5.7 1.5 -5.4 1.5 -5.3 1.5 -4.9 1.5 -4.6 1.5 -4.3 1.5 -3.9 1.5 -3.5 1.5 -3.1 1.5 -2.5 1.5 -2 1.5 -1.4 1.5 -0.9 1.5 -0.2 1.5 0.5 1.5 1.1 1.5 1.6 1.5 2.2 1.5 2.8 1.5 3.2 1.5 3.6 1.5 4.1 1.5 4.4 1.5 4.7 1.5 5 1.5 5.3 1.5 5.5 1.5 5.6 1.5 5.8 1.5 5.9 1.5 5.9 1.5 6 1.5 5.9 1.5 5.9 1.5 5.8 1.5 5.7 1.5 5.5 1.5 5.3 1.5 5.1 1.5 4.8 1.5 4.5 1.5 4.1 1.5 3.7 1.5 3.3 1.5 2.8 1.5 2.4 1.5 1.8 1.5 1.2 1.5 0.5 1.5 0 1.5 -0.7 1.5 -1.4 1.5 -1.9 1.5 -2.4 1.5 -2.9 1.5 -3.4 1.5 -3.8 1.5 -4.2 1.5 -4.5 1.5 -4.9 1.5 -5.1 1.5 -5.4 1.5 -5.5 1.5 -5.7 1.5 -5.8 1.5 -6 1.5 -5.9 1.5 -6 1.5 -5.9 1.5 -5.9 1.5 -5.7 1.5 -5.6 1.5 -5.5 1.5 -5.2 1.5 -5 1.5 -4.6 1.5 -4.4 1.5 -3.9 1.5 -3.6 1.5 -3.1 1.5 -2.6 1.5 -2.2 1.5 -1.5 1.5 -1 1.5 -0.3 1.5 0.3 1.5 0.8 1.5 1.4 1.5 1.8 1.5 2.3 1.5 2.7 1.5 3.1 1.5 3.5 1.5 3.9 1.5 4.2 1.5 4.4 1.5 4.8 1.5 4.9 1.5 5.2 1.5 5.3 1.5 5.5 1.5 5.6 1.5 5.8 1.5 5.7 1.5 5.9 1.5 5.8 1.5 5.8 1.5 5.8 1.5 5.6 1.5 5.6 1.5 5.5 1.5 5.3 1.5 5.1 1.5 4.8 1.5 4.7 1.5 4.4 1.5 4 1.5 3.8 1.5 3.4 1.5 3 1.5 2.5 1.5 2.2 1.5 1.7 1.5 1.1 1.5 0.7 1.5 0.1 1.5 -0.5 1.5 -1 1.5 -1.5 1.5 -1.9 1.5 -2.5 1.5 -2.8 1.5 -3.3 1.5 -3.6 1.5 -3.9 1.5 -4.3 1.5 -4.6 1.5 -4.8 1.5 -5 1.5 -5.3 1.5 -5.5 1.5 -5.6 1.5 -5.7 1.5 -5.8 1.5 -5.9 1.5 -6 1.5 -6 1.5 -6 1.5 -5.9 1.5 -5.9 1.5 -5.8 1.5 -5.7 1.5 -5.6 1.5 -5.4 1.5 -5.2 1.5 -5 1.5 -4.7 1.5 -4.5 1.5 -4.1 1.5 -3.9 1.5 -3.5 1.5 -3.1 1.5 -2.7 1.5 -2.3 1.5 -1.8 1.5 -1.3 1.5 -0.8 1.5 -0.3 1.5 0.4 1.5 1.1 1.5 1.7 1.5 2.4 1.5 3 1.5 3.6 1.5 4.1 1.5 4.6 1.5 5 1.5 5.4 1.5 5.8 1.5 6.1 1.5 6.4 1.5 6.6 1.5 6.9 1.5 7 1.5 7.2 1.5 7.2 1.5 7.3 1.5 7.3 1.5 7.3 1.5 7.3 1.5 7.1 1.5 7 1.5 6.8 1.5 6.6 1.5 6.3 1.5 6 1.5 5.7 1.5 5.3 1.5 4.9 1.5 4.5 1.5 3.9 1.5 3.4 1.5 2.9 1.5 2.2 1.5 1.6 1.5 0.9 1.5 0.2 1.5 -0.7 1.5 -1.4 1.5 -2.2 1.5 -2.9 1.5 -3.6 1.5 -4.2 1.5 -4.8 1.5 -5.3 1.5 -5.8 1.5 -6.3 1.5 -6.7 1.5 -7 1.5 -7.4 1.5 -7.6 1.5 -7.9 1.5 -8.1 1.5 -8.2 1.5 -8.4 1.5 -8.4 1.5 -8.4 1.5 -8.4 1.5 -8.3 1.5 -8.2 1.5 -8.1 1.5 -7.9 1.5 -7.6 1.5 -7.4 1.5 -7 1.5 -6.6 1.5 -6.3 1.5 -5.8 1.5 -5.3 1.5 -4.7 1.5 -4.2 1.5 -3.5 1.5 -2.9 1.5 -2.1 1.5 -1.4 1.5 -0.6 1.5 0.4 1.5 1.4 1.5 2.6 1.5 3.5 1.5 4.4 1.5 5.3 1.5 6.1 1.5 6.7 1.5 7.4 1.5 8 1.5 8.5 1.5 9 1.5 9.3 1.5 9.6 1.5 9.8 1.5 10 1.5 10.1 1.5 10.2 1.5 10.1 1.5 9.9 1.5 9.8 1.5 9.6 1.5 9.2 1.5 8.9 1.5 8.4 1.5 7.9 1.5 7.3 1.5 6.6 1.5 5.9 1.5 5.1 1.5 4.3 1.5 3.3 1.5 2.3 1.5 1.3 1.5 0.1 1.5 -0.9 1.5 -1.9 1.5 -2.9 1.5 -3.7 1.5 -4.5 1.5 -5.3 1.5 -5.9 1.5 -6.6 1.5 -7.1 1.5 -7.7 1.5 -8 1.5 -8.5 1.5 -8.8 1.5 -9.1 1.5 -9.3 1.5 -9.5 1.5 -9.5 1.5 -9.6 1.5 -9.5 1.5 -9.5 1.5 -9.3 1.5 -9.1 1.5 -8.8 1.5 -8.5 1.5 -8.1 1.5 -7.7 1.5 -7.2 1.5 -6.6 1.5 -6 1.5 -5.3 1.5 -4.5 1.5 -3.8 1.5 -2.9 1.5 -2 1.5 -1 1.5 0.1 1.5 1.1 1.5 2.3 1.5 3.2 1.5 4.1 1.5 5 1.5 5.8 1.5 6.5 1.5 7.2 1.5 7.7 1.5 8.3 1.5 8.7 1.5 9.1 1.5 9.4 1.5 9.7 1.5 9.8 1.5 10 1.5 10 1.5 9.9 1.5 9.9 1.5 9.7 1.5 9.5 1.5 9.2 1.5 8.8 1.5 8.4 1.5 7.9 1.5 7.3 1.5 6.7 1.5 6 1.5 5.2 1.5 4.4 1.5 3.5 1.5 2.5 1.5 1.4 1.5 0.4 1.5 -0.8 1.5 -1.7 1.5 -2.7 1.5 -3.6 1.5 -4.5 1.5 -5.2 1.5 -5.9 1.5 -6.5 1.5 -7.2 1.5 -7.6 1.5 -8.2 1.5 -8.5 1.5 -8.8 1.5 -9.2 1.5 -9.3 1.5 -9.5 1.5 -9.6 1.5 -9.6 1.5 -9.6 1.5 -9.5 1.5 -9.3 1.5 -9.2 1.5 -8.8 1.5 -8.5 1.5 -8.1 1.5 -7.7 1.5 -7.1 1.5 -6.5 1.5 -5.9 1.5 -5.1 1.5 -4.4 1.5 -3.6 1.5 -2.7 1.5 -1.7 1.5 -0.7 1.5 0.4 1.5 1.4 1.5 2.3 1.5 3.3 1.5 4.1 1.5 4.9 1.5 5.6 1.5 6.3 1.5 6.9 1.5 7.4 1.5 7.9 1.5 8.3 1.5 8.7 1.5 8.9 1.5 9.2 1.5 9.4 1.5 9.5 1.5 9.6 1.5 9.5 1.5 9.5 1.5 9.3 1.5 9.2 1.5 8.9 1.5 8.6 1.5 8.2 1.5 7.8 1.5 7.3 1.5 6.8 1.5 6.1 1.5 5.5 1.5 4.7 1.5 3.9 1.5 3.1 1.5 2.1 1.5 1.2 1.5 0.1 1.5 -0.9 1.5 -1.9 1.5 -2.9 1.5 -3.7 1.5 -4.5 1.5 -5.3 1.5 -6 1.5 -6.6 1.5 -7.1 1.5 -7.7 1.5 -8.2 1.5 -8.5 1.5 -8.8 1.5 -9.1 1.5 -9.3 1.5 -9.5 1.5 -9.5 1.5 -9.6 1.5 -9.5 1.5 -9.4 1.5 -9.2 1.5 -9.1 1.5 -8.7 1.5 -8.4 1.5 -8 1.5 -7.6 1.5 -7 1.5 -6.4 1.5 -5.8 1.5 -5.1 1.5 -4.3 1.5 -3.5 1.5 -2.5 1.5 -1.7 1.5 -0.6 1.5 0.4 1.5 1.5 1.5 2.4 1.5 3.3 1.5 4.2 1.5 4.9 1.5 5.7 1.5 6.3 1.5 6.9 1.5 7.5 1.5 7.9 1.5 8.3 1.5 8.7 1.5 9 1.5 9.3 1.5 9.3 1.5 9.5 1.5 9.6 1.5 9.5 1.5 9.5 1.5 9.3 1.5 9.2 1.5 8.9 1.5 8.6 1.5 8.2 1.5 7.7 1.5 7.3 1.5 6.7 1.5 6.1 1.5 5.4 1.5 4.7 1.5 3.8 1.5 3 1.5 2.1 1.5 1.1 1.5 0.1 1.5 -1 1.5 -2 1.5 -2.9 1.5 -3.8 1.5 -4.5 1.5 -5.4 1.5 -6 1.5 -6.6 1.5 -7.2 1.5 -7.8 1.5 -8.1 1.5 -8.5 1.5 -8.9 1.5 -9.1 1.5 -9.3 1.5 -9.5 1.5 -9.5 1.5 -9.6 1.5 -9.5 1.5 -9.4 1.5 -9.3 1.5 -9 1.5 -8.7 1.5 -8.4 1.5 -8 1.5 -7.5 1.5 -6.9 1.5 -6.4 1.5 -5.8 1.5 -5 1.5 -4.2 1.5 -3.5 1.5 -2.5 1.5 -1.5 1.5 -0.6 1.5 0.5 1.5 1.5 1.5 2.5 1.5 3.4 1.5 4.2 1.5 5 1.5 5.7 1.5 6.4 1.5 6.9 1.5 7.5 1.5 8 1.5 8.3 1.5 8.7 1.5 9 1.5 9.3 1.5 9.4 1.5 9.5 1.5 9.5 1.5 9.6 1.5 9.4 1.5 9.4 1.5 9.1 1.5 8.9 1.5 8.5 1.5 8.2 1.5 7.7 1.5 7.3 1.5 6.6 1.5 6.1 1.5 5.3 1.5 4.7 1.5 3.8 1.5 2.9 1.5 2 1.5 1.1 1.5 0 1.5 -1.1 1.5 -2 1.5 -3 1.5 -3.8 1.5 -4.7 1.5 -5.4 1.5 -6 1.5 -6.7 1.5 -7.2 1.5 -7.8 1.5 -8.2 1.5 -8.5 1.5 -8.9 1.5 -9.1 1.5 -9.4 1.5 -9.4 1.5 -9.6 1.5 -9.5 1.5 -9.5 1.5 -9.4 1.5 -9.3 1.5 -9 1.5 -8.7 1.5 -8.3 1.5 -8 1.5 -7.4 1.5 -7 1.5 -6.3 1.5 -5.7 1.5 -5 1.5 -4.2 1.5 -3.4 1.5 -2.4 1.5 -1.5 1.5 -0.5 1.5 0.6 1.5 1.6 1.5 2.5 1.5 3.4 1.5 4.3 1.5 5.1 1.5 5.7 1.5 6.4 1.5 7 1.5 7.5 1.5 8 1.5 8.4 1.5 8.7 1.5 9 1.5 9.3 1.5 9.4 1.5 9.5 1.5 9.6 1.5 9.5 1.5 9.5 1.5 9.3 1.5 9.1 1.5 8.8 1.5 8.6 1.5 8.1 1.5 7.7 1.5 7.2 1.5 6.6 1.5 6.1 1.5 5.3 1.5 4.5 1.5 3.8 1.5 2.9 1.5 1.9 1.5 1 1.5 -0.1 1.5 -1.1 1.5 -2.1 1.5 -3 1.5 -3.9 1.5 -4.7 1.5 -5.4 1.5 -6.1 1.5 -6.8 1.5 -7.2 1.5 -7.8 1.5 -8.2 1.5 -8.6 1.5 -8.9 1.5 -9.2 1.5 -9.3 1.5 -9.5 1.5 -9.5 1.5 -9.6 1.5 -9.5 1.5 -9.4 1.5 -9.2 1.5 -9 1.5 -8.6 1.5 -8.4 1.5 -7.9 1.5 -7.4 1.5 -6.9 1.5 -6.3 1.5 -5.7 1.5 -4.9 1.5 -4.1 1.5 -3.3 1.5 -2.4 1.5 -1.5 1.5 -0.4 1.5 0.7 1.5 1.6 1.5 2.6 1.5 3.5 1.5 4.3 1.5 5.1 1.5 5.8 1.5 6.5 1.5 7 1.5 7.5 1.5 8 1.5 8.5 1.5 8.7 1.5 9.1 1.5 9.2 1.5 9.4 1.5 9.6 1.5 9.5 1.5 9.5 1.5 9.5 1.5 9.3 1.5 9.1 1.5 8.8 1.5 8.5 1.5 8.2 1.5 7.6 1.5 7.2 1.5 6.6 1.5 5.9 1.5 5.3 1.5 4.5 1.5 3.7 1.5 2.8 1.5 1.9 1.5 0.9 1.5 -0.1 1.5 -1.2 1.5 -2.2 1.5 -3.1 1.5 -3.9 1.5 -4.8 1.5 -5.4 1.5 -6.2 1.5 -6.7 1.5 -7.3 1.5 -7.9 1.5 -8.2 1.5 -8.6 1.5 -8.9 1.5 -9.2 1.5 -9.3 1.5 -9.5 1.5 -9.6 1.5 -9.5 1.5 -9.5 1.5 -9.4 1.5 -9.2 1.5 -8.9 1.5 -8.7 1.5 -8.3 1.5 -7.9 1.5 -7.4 1.5 -6.9 1.5 -6.2 1.5 -5.6 1.5 -4.9 1.5 -4.1 1.5 -3.2 1.5 -2.4 1.5 -1.3 1.5 -0.4 1.5 0.7 1.5 1.8 1.5 2.6 1.5 3.6 1.5 4.3 1.5 5.2 1.5 5.8 1.5 6.5 1.5 7.1 1.5 7.6 1.5 8 1.5 8.4 1.5 8.8 1.5 9.1 1.5 9.2 1.5 9.5 1.5 9.5 1.5 9.5 1.5 9.6 1.5 9.4 1.5 9.3 1.5 9.1 1.5 8.8 1.5 8.5 1.5 8.1 1.5 7.6 1.5 7.1 1.5 6.6 1.5 5.9 1.5 5.2 1.5 4.5 1.5 3.6 1.5 2.8 1.5 1.8 1.5 0.9 1.5 -0.3 1.5 -1.2 1.5 -2.3 1.5 -3.1 1.5 -4 1.5 -4.8 1.5 -5.5 1.5 -6.2 1.5 -6.8 1.5 -7.4 1.5 -7.8 1.5 -8.3 1.5 -8.6 1.5 -8.9 1.5 -9.2 1.5 -9.4 1.5 -9.4 1.5 -9.6 1.5 -9.5 1.5 -9.5 1.5 -9.4 1.5 -9.2 1.5 -8.9 1.5 -8.7 1.5 -8.3 1.5 -7.8 1.5 -7.4 1.5 -6.8 1.5 -6.2 1.5 -5.6 1.5 -4.8 1.5 -4" fill="none" stroke="#3cb371" stroke-width="7.00" stroke-linejoin="round" stroke-linecap="round"/>
</g></g>
<line x1="448.4" y1="546.6" x2="448.4" y2="1066.8" stroke="#000" stroke-width="4" stroke-dasharray="8.5 4.2"/>
<line x1="715.6" y1="546.6" x2="715.6" y2="1066.8" stroke="#000" stroke-width="4" stroke-dasharray="8.5 4.2"/>
<line x1="984.0" y1="546.6" x2="984.0" y2="1066.8" stroke="#000" stroke-width="4" stroke-dasharray="8.5 4.2"/>
<line x1="1250.7" y1="546.6" x2="1250.7" y2="1066.8" stroke="#000" stroke-width="4" stroke-dasharray="8.5 4.2"/>
<line x1="1517.6" y1="546.6" x2="1517.6" y2="1066.8" stroke="#000" stroke-width="4" stroke-dasharray="8.5 4.2"/>
<line x1="1782.8" y1="546.6" x2="1782.8" y2="1066.8" stroke="#000" stroke-width="4" stroke-dasharray="8.5 4.2"/>
<line x1="2049.8" y1="546.6" x2="2049.8" y2="1066.8" stroke="#000" stroke-width="4" stroke-dasharray="8.5 4.2"/>
<line x1="189.8" y1="804.3" x2="209" y2="804.3" stroke="#000" stroke-width="3"/>
<rect x="189.8" y="546.6" width="2117.7" height="520.2" rx="4" fill="none" stroke="#000" stroke-width="8"/>
<clipPath id="ca2"><rect x="192.8" y="1084.4" width="2111.7" height="507.1"/></clipPath>
<g clip-path="url(#ca2)"><g filter="url(#soft)">
<path d="M184.8 1343 l1.5 -6.7 1.5 -6.7 1.5 -6.6 1.5 -6.5 1.5 -6.4 1.5 -6.2 1.5 -6.1 1.5 -5.7 1.5 -5.4 1.5 -5.1 1.5 -4.7 1.5 -4.3 1.5 -3.8 1.5 -3.3 1.5 -2.7 1.5 -2.2 1.5 -1.5 1.5 -0.8 1.5 0 1.5 0.6 1.5 1.4 1.5 2 1.5 2.6 1.5 3.2 1.5 3.7 1.5 4.2 1.5 4.6 1.5 5 1.5 5.4 1.5 5.7 1.5 5.9 1.5 6.2 1.5 6.4 1.5 6.5 1.5 6.6 1.5 6.7 1.5 6.7 1.5 6.6 1.5 6.6 1.5 6.5 1.5 6.3 1.5 6.1 1.5 5.9 1.5 5.5 1.5 5.3 1.5 4.9 1.5 4.5 1.5 4 1.5 3.5 1.5 3 1.5 2.5 1.5 1.8 1.5 1.1 1.5 0.4 1.5 -0.3 1.5 -1.1 1.5 -1.7 1.5 -2.3 1.5 -2.9 1.5 -3.5 1.5 -4 1.5 -4.4 1.5 -4.8 1.5 -5.2 1.5 -5.6 1.5 -5.8 1.5 -6.1 1.5 -6.3 1.5 -6.4 1.5 -6.6 1.5 -6.7 1.5 -6.6 1.5 -6.7 1.5 -6.6 1.5 -6.6 1.5 -6.3 1.5 -6.3 1.5 -5.9 1.5 -5.8 1.5 -5.4 1.5 -5.1 1.5 -4.6 1.5 -4.3 1.5 -3.8 1.5 -3.2 1.5 -2.7 1.5 -2.1 1.5 -1.4 1.5 -0.8 1.5 0 1.5 0.7 1.5 1.4 1.5 2 1.5 2.7 1.5 3.2 1.5 3.7 1.5 4.3 1.5 4.6 1.5 5.1 1.5 5.4 1.5 5.7 1.5 5.9 1.5 6.2 1.5 6.4 1.5 6.5 1.5 6.7 1.5 6.6 1.5 6.7 1.5 6.6 1.5 6.6 1.5 6.5 1.5 6.3 1.5 6.1 1.5 5.8 1.5 5.6 1.5 5.2 1.5 4.9 1.5 4.5 1.5 4 1.5 3.5 1.5 2.9 1.5 2.4 1.5 1.7 1.5 1.1 1.5 0.4 1.5 -0.4 1.5 -1.1 1.5 -1.7 1.5 -2.4 1.5 -2.9 1.5 -3.5 1.5 -4 1.5 -4.5 1.5 -4.9 1.5 -5.2 1.5 -5.6 1.5 -5.8 1.5 -6.1 1.5 -6.3 1.5 -6.5 1.5 -6.6 1.5 -6.6 1.5 -6.7 1.5 -6.6 1.5 -6.7 1.5 -6.5 1.5 -6.4 1.5 -6.2 1.5 -5.9 1.5 -5.7 1.5 -5.4 1.5 -5.1 1.5 -4.6 1.5 -4.3 1.5 -3.7 1.5 -3.2 1.5 -2.7 1.5 -2 1.5 -1.4 1.5 -0.7 1.5 0 1.5 0.8 1.5 1.4 1.5 2.1 1.5 2.7 1.5 3.2 1.5 3.8 1.5 4.3 1.5 4.6 1.5 5.1 1.5 5.4 1.5 5.8 1.5 5.9 1.5 6.3 1.5 6.3 1.5 6.6 1.5 6.6 1.5 6.7 1.5 6.6 1.5 6.7 1.5 6.6 1.5 6.4 1.5 6.3 1.5 6.1 1.5 5.8 1.5 5.6 1.5 5.2 1.5 4.8 1.5 4.4 1.5 4 1.5 3.5 1.5 2.9 1.5 2.3 1.5 1.7 1.5 1.1 1.5 0.3 1.5 -0.4 1.5 -1.1 1.5 -1.8 1.5 -2.5 1.5 -3 1.5 -3.5 1.5 -4 1.5 -4.5 1.5 -4.9 1.5 -5.3 1.5 -5.5 1.5 -5.9 1.5 -6.1 1.5 -6.3 1.5 -6.5 1.5 -6.6 1.5 -6.6 1.5 -6.7 1.5 -6.7 1.5 -6.6 1.5 -6.5 1.5 -6.4 1.5 -6.2 1.5 -5.9 1.5 -5.7 1.5 -5.4 1.5 -5 1.5 -4.6 1.5 -4.2 1.5 -3.7 1.5 -3.2 1.5 -2.6 1.5 -2 1.5 -1.4 1.5 -0.6 1.5 0 1.5 0.8 1.5 1.5 1.5 2.2 1.5 2.7 1.5 3.3 1.5 3.8 1.5 4.3 1.5 4.7 1.5 5.1 1.5 5.4 1.5 5.7 1.5 6.1 1.5 6.2 1.5 6.4 1.5 6.5 1.5 6.6 1.5 6.7 1.5 6.7 1.5 6.6 1.5 6.6 1.5 6.4 1.5 6.3 1.5 6.1 1.5 5.8 1.5 5.5 1.5 5.2 1.5 4.8 1.5 4.4 1.5 4 1.5 3.4 1.5 2.9 1.5 2.3 1.5 1.6 1.5 1 1.5 0.3 1.5 -0.5 1.5 -1.1 1.5 -1.9 1.5 -2.4 1.5 -3.1 1.5 -3.5 1.5 -4.1 1.5 -4.5 1.5 -4.9 1.5 -5.3 1.5 -5.6 1.5 -5.9 1.5 -6.2 1.5 -6.3 1.5 -6.5 1.5 -6.5 1.5 -6.7 1.5 -6.7 1.5 -6.6 1.5 -6.6 1.5 -6.5 1.5 -6.4 1.5 -6.2 1.5 -5.9 1.5 -5.7 1.5 -5.3 1.5 -5 1.5 -4.6 1.5 -4.2 1.5 -3.7 1.5 -3.1 1.5 -2.6 1.5 -1.9 1.5 -1.3 1.5 -0.7 1.5 0.2 1.5 0.8 1.5 1.6 1.5 2.3 1.5 2.8 1.5 3.4 1.5 3.9 1.5 4.5 1.5 4.8 1.5 5.3 1.5 5.6 1.5 5.8 1.5 6.2 1.5 6.4 1.5 6.5 1.5 6.6 1.5 6.8 1.5 6.8 1.5 6.7 1.5 6.7 1.5 6.6 1.5 6.5 1.5 6.3 1.5 6 1.5 5.8 1.5 5.5 1.5 5.1 1.5 4.7 1.5 4.2 1.5 3.7 1.5 3.2 1.5 2.6 1.5 2 1.5 1.3 1.5 0.6 1.5 -0.3 1.5 -1.1 1.5 -2 1.5 -2.8 1.5 -3.6 1.5 -4.2 1.5 -4.8 1.5 -5.4 1.5 -5.8 1.5 -6.3 1.5 -6.5 1.5 -6.9 1.5 -7.1 1.5 -7.2 1.5 -7.4 1.5 -7.3 1.5 -7.3 1.5 -7.2 1.5 -7 1.5 -6.8 1.5 -6.5 1.5 -6.1 1.5 -5.7 1.5 -5.7 1.5 -6.4 1.5 -6.9 1.5 -7 1.5 -6.9 1.5 -6.5 1.5 -5.9 1.5 -4.8 1.5 -3.7 1.5 -2.1 1.5 -0.3 1.5 1 1.5 2.1 1.5 3.2 1.5 4.1 1.5 5.1 1.5 5.9 1.5 6.7 1.5 7.4 1.5 8 1.5 8.5 1.5 9 1.5 9.5 1.5 9.7 1.5 10 1.5 10.3 1.5 10.3 1.5 10.3 1.5 10.4 1.5 10.2 1.5 10.1 1.5 9.8 1.5 9.5 1.5 9.1 1.5 8.7 1.5 8.1 1.5 7.5 1.5 6.8 1.5 6.1 1.5 5.2 1.5 4.4 1.5 3.4 1.5 2.3 1.5 1.2 1.5 0 1.5 -1.4 1.5 -2.8 1.5 -4.1 1.5 -5.2 1.5 -6.4 1.5 -7.3 1.5 -8.2 1.5 -9.1 1.5 -9.7 1.5 -10.3 1.5 -10.9 1.5 -11.2 1.5 -11.6 1.5 -11.8 1.5 -11.9 1.5 -12 1.5 -11.8 1.5 -11.7 1.5 -11.5 1.5 -11 1.5 -10.7 1.5 -10 1.5 -9.4 1.5 -8.7 1.5 -7.8 1.5 -6.9 1.5 -5.9 1.5 -4.7 1.5 -3.5 1.5 -2.2 1.5 -0.7 1.5 0.6 1.5 1.9 1.5 3 1.5 4 1.5 5.1 1.5 5.9 1.5 6.7 1.5 7.5 1.5 8.2 1.5 8.7 1.5 9.3 1.5 9.6 1.5 10 1.5 10.3 1.5 10.5 1.5 10.5 1.5 10.6 1.5 10.5 1.5 10.4 1.5 10.2 1.5 9.9 1.5 9.6 1.5 9.1 1.5 8.5 1.5 7.9 1.5 7.3 1.5 6.5 1.5 5.6 1.5 4.7 1.5 3.7 1.5 2.7 1.5 1.4 1.5 0.2 1.5 -0.9 1.5 -2 1.5 -3 1.5 -4 1.5 -4.8 1.5 -5.6 1.5 -6.4 1.5 -7 1.5 -7.6 1.5 -8.1 1.5 -8.6 1.5 -9 1.5 -9.2 1.5 -9.6 1.5 -9.7 1.5 -9.8 1.5 -9.9 1.5 -9.8 1.5 -9.8 1.5 -9.5 1.5 -9.4 1.5 -9.1 1.5 -8.6 1.5 -8.3 1.5 -7.7 1.5 -7.2 1.5 -6.5 1.5 -5.9 1.5 -5 1.5 -4.2 1.5 -3.3 1.5 -2.3 1.5 -1.2 1.5 -0.1 1.5 1 1.5 2.1 1.5 3 1.5 4 1.5 4.8 1.5 5.6 1.5 6.3 1.5 6.9 1.5 7.6 1.5 8 1.5 8.5 1.5 8.9 1.5 9.1 1.5 9.4 1.5 9.6 1.5 9.7 1.5 9.7 1.5 9.7 1.5 9.6 1.5 9.4 1.5 9.2 1.5 8.9 1.5 8.5 1.5 8.1 1.5 7.6 1.5 7 1.5 6.3 1.5 5.7 1.5 4.8 1.5 4.1 1.5 3.1 1.5 2.1 1.5 1.1 1.5 0 1.5 -1 1.5 -1.9 1.5 -2.8 1.5 -3.5 1.5 -4.3 1.5 -5 1.5 -5.6 1.5 -6.2 1.5 -6.7 1.5 -7.2 1.5 -7.6 1.5 -8 1.5 -8.2 1.5 -8.6 1.5 -8.7 1.5 -8.9 1.5 -8.9 1.5 -9 1.5 -9 1.5 -8.9 1.5 -8.7 1.5 -8.6 1.5 -8.4 1.5 -8 1.5 -7.7 1.5 -7.3 1.5 -6.9 1.5 -6.3 1.5 -5.8 1.5 -5.1 1.5 -4.5 1.5 -3.8 1.5 -2.9 1.5 -2.1 1.5 -1.3 1.5 -0.3 1.5 0.7 1.5 1.6 1.5 2.6 1.5 3.3 1.5 4.2 1.5 4.8 1.5 5.5 1.5 6.2 1.5 6.6 1.5 7.2 1.5 7.6 1.5 8 1.5 8.4 1.5 8.6 1.5 8.8 1.5 9 1.5 9.1 1.5 9.2 1.5 9.1 1.5 9.1 1.5 9 1.5 8.8 1.5 8.6 1.5 8.3 1.5 7.9 1.5 7.6 1.5 7.1 1.5 6.6 1.5 6 1.5 5.5 1.5 4.7 1.5 4.1 1.5 3.2 1.5 2.4 1.5 1.5 1.5 0.6 1.5 -0.5 1.5 -1.5 1.5 -2.5 1.5 -3.4 1.5 -4.3 1.5 -5.1 1.5 -5.8 1.5 -6.5 1.5 -7.1 1.5 -7.6 1.5 -8.1 1.5 -8.6 1.5 -8.9 1.5 -9.1 1.5 -9.4 1.5 -9.6 1.5 -9.7 1.5 -9.7 1.5 -9.7 1.5 -9.6 1.5 -9.4 1.5 -9.2 1.5 -9 1.5 -8.6 1.5 -8.2 1.5 -7.7 1.5 -7.2 1.5 -6.6 1.5 -6 1.5 -5.2 1.5 -4.5 1.5 -3.6 1.5 -2.7 1.5 -1.7 1.5 -0.7 1.5 0.4 1.5 1.4 1.5 2.3 1.5 3.2 1.5 4 1.5 4.8 1.5 5.5 1.5 6.1 1.5 6.8 1.5 7.3 1.5 7.7 1.5 8.2 1.5 8.6 1.5 8.8 1.5 9.1 1.5 9.3 1.5 9.4 1.5 9.5 1.5 9.6 1.5 9.4 1.5 9.4 1.5 9.2 1.5 9 1.5 8.8 1.5 8.4 1.5 8 1.5 7.6 1.5 7.1 1.5 6.5 1.5 5.9 1.5 5.2 1.5 4.5 1.5 3.7 1.5 2.9 1.5 1.9 1.5 1 1.5 0 1.5 -0.9 1.5 -1.8 1.5 -2.5 1.5 -3.3 1.5 -4 1.5 -4.7 1.5 -5.2 1.5 -5.9 1.5 -6.3 1.5 -6.8 1.5 -7.3 1.5 -7.6 1.5 -8 1.5 -8.2 1.5 -8.5 1.5 -8.7 1.5 -8.8 1.5 -9 1.5 -9 1.5 -9 1.5 -9 1.5 -8.9 1.5 -8.8 1.5 -8.6 1.5 -8.4 1.5 -8.2 1.5 -7.8 1.5 -7.5 1.5 -7 1.5 -6.7 1.5 -6.1 1.5 -5.6 1.5 -5.1 1.5 -4.3 1.5 -3.8 1.5 -3 1.5 -2.2 1.5 -1.4 1.5 -0.6 1.5 0.4 1.5 1.5 1.5 2.5 1.5 3.5 1.5 4.3 1.5 5.2 1.5 6 1.5 6.6 1.5 7.3 1.5 7.8 1.5 8.3 1.5 8.8 1.5 9.1 1.5 9.5 1.5 9.7 1.5 9.9 1.5 10 1.5 10 1.5 10 1.5 10 1.5 9.8 1.5 9.6 1.5 9.4 1.5 9 1.5 8.6 1.5 8.1 1.5 7.6 1.5 7 1.5 6.4 1.5 5.6 1.5 4.9 1.5 4 1.5 3.1 1.5 2.1 1.5 1.1 1.5 0 1.5 -0.8 1.5 -1.6 1.5 -2.2 1.5 -2.9 1.5 -3.6 1.5 -4.1 1.5 -4.6 1.5 -5.2 1.5 -5.6 1.5 -6 1.5 -6.4 1.5 -6.7 1.5 -7 1.5 -7.3 1.5 -7.5 1.5 -7.6 1.5 -7.8 1.5 -7.9 1.5 -7.9 1.5 -7.9 1.5 -7.9 1.5 -7.8 1.5 -7.7 1.5 -7.5 1.5 -7.3 1.5 -7.1 1.5 -6.8 1.5 -6.5 1.5 -6.1 1.5 -5.8 1.5 -5.2 1.5 -4.8 1.5 -4.3 1.5 -3.7 1.5 -3.1 1.5 -2.4 1.5 -1.7 1.5 -1 1.5 -0.3 1.5 0.4 1.5 1.1 1.5 1.6 1.5 2.1 1.5 2.7 1.5 3.1 1.5 3.5 1.5 4 1.5 4.3 1.5 4.7 1.5 5 1.5 5.3 1.5 5.5 1.5 5.8 1.5 6 1.5 6.1 1.5 6.2 1.5 6.4 1.5 6.4 1.5 6.4 1.5 6.5 1.5 6.4 1.5 6.4 1.5 6.3 1.5 6.1 1.5 6 1.5 5.8 1.5 5.6 1.5 5.4 1.5 5.1 1.5 4.8 1.5 4.4 1.5 4.1 1.5 3.6 1.5 3.3 1.5 2.7 1.5 2.3 1.5 1.7 1.5 1.2 1.5 0.6 1.5 0 1.5 -0.7 1.5 -1.4 1.5 -2 1.5 -2.7 1.5 -3.1 1.5 -3.7 1.5 -4.1 1.5 -4.5 1.5 -5 1.5 -5.3 1.5 -5.6 1.5 -5.9 1.5 -6.1 1.5 -6.3 1.5 -6.4 1.5 -6.6 1.5 -6.6 1.5 -6.6 1.5 -6.7 1.5 -6.6 1.5 -6.5 1.5 -6.4 1.5 -6.2 1.5 -6 1.5 -5.8 1.5 -5.5 1.5 -5.1 1.5 -4.8 1.5 -4.4 1.5 -4 1.5 -3.4 1.5 -3 1.5 -2.3 1.5 -1.8 1.5 -1.1 1.5 -0.5 1.5 0.3 1.5 1 1.5 1.6 1.5 2.3 1.5 2.9 1.5 3.5 1.5 4 1.5 4.4 1.5 4.8 1.5 5.3 1.5 5.6 1.5 5.8 1.5 6.2 1.5 6.3 1.5 6.5 1.5 6.7 1.5 6.7 1.5 6.8 1.5 6.8 1.5 6.8 1.5 6.6 1.5 6.6 1.5 6.4 1.5 6.2 1.5 5.9 1.5 5.6 1.5 5.3 1.5 5 1.5 4.5 1.5 4 1.5 3.6 1.5 3 1.5 2.4 1.5 1.8 1.5 1.2 1.5 0.4 1.5 -0.3 1.5 -1.1 1.5 -1.9 1.5 -2.4 1.5 -3.2 1.5 -3.6 1.5 -4.2 1.5 -4.7 1.5 -5.2 1.5 -5.5 1.5 -5.9 1.5 -6.1 1.5 -6.4 1.5 -6.7 1.5 -6.7 1.5 -6.9 1.5 -7 1.5 -7 1.5 -6.9 1.5 -6.9 1.5 -6.7 1.5 -6.6 1.5 -6.4 1.5 -6.1 1.5 -5.9 1.5 -5.4 1.5 -5.1 1.5 -4.6 1.5 -4.2 1.5 -3.6 1.5 -3 1.5 -2.4 1.5 -1.7 1.5 -1 1.5 -0.3 1.5 0.6 1.5 1.4 1.5 2.1 1.5 2.9 1.5 3.4 1.5 4.1 1.5 4.6 1.5 5.1 1.5 5.5 1.5 6 1.5 6.2 1.5 6.5 1.5 6.8 1.5 7 1.5 7.1 1.5 7.1 1.5 7.2 1.5 7.1 1.5 7.1 1.5 7 1.5 6.8 1.5 6.5 1.5 6.2 1.5 6 1.5 5.5 1.5 5.1 1.5 4.6 1.5 4.1 1.5 3.4 1.5 2.9 1.5 2.1 1.5 1.4 1.5 0.6 1.5 -0.2 1.5 -1 1.5 -1.6 1.5 -2.3 1.5 -2.8 1.5 -3.4 1.5 -3.9 1.5 -4.4 1.5 -4.8 1.5 -5.1 1.5 -5.5 1.5 -5.8 1.5 -6.1 1.5 -6.2 1.5 -6.5 1.5 -6.5 1.5 -6.7 1.5 -6.6 1.5 -6.7 1.5 -6.6 1.5 -6.6 1.5 -6.4 1.5 -6.2 1.5 -6.1 1.5 -5.7 1.5 -5.5 1.5 -5.1 1.5 -4.7 1.5 -4.4 1.5 -3.8 1.5 -3.3 1.5 -2.8 1.5 -2.2 1.5 -1.5 1.5 -0.8 1.5 -0.2 1.5 0.7 1.5 1.3 1.5 1.9 1.5 2.6 1.5 3.1 1.5 3.7 1.5 4.2 1.5 4.6 1.5 5 1.5 5.3 1.5 5.7 1.5 5.9 1.5 6.2 1.5 6.4 1.5 6.5 1.5 6.6 1.5 6.6 1.5 6.7 1.5 6.7 1.5 6.5 1.5 6.5 1.5 6.3 1.5 6.2 1.5 5.9 1.5 5.6 1.5 5.3 1.5 4.9 1.5 4.5 1.5 4.1 1.5 3.5 1.5 3.1 1.5 2.4 1.5 1.9 1.5 1.1 1.5 0.5 1.5 -0.3 1.5 -1 1.5 -1.6 1.5 -2.3 1.5 -2.9 1.5 -3.4 1.5 -4 1.5 -4.4 1.5 -4.8 1.5 -5.2 1.5 -5.5 1.5 -5.8 1.5 -6.1 1.5 -6.3 1.5 -6.4 1.5 -6.6 1.5 -6.6 1.5 -6.7 1.5 -6.7 1.5 -6.6 1.5 -6.5 1.5 -6.4 1.5 -6.2 1.5 -6.1 1.5 -5.7 1.5 -5.4 1.5 -5.1 1.5 -4.7 1.5 -4.3 1.5 -3.8 1.5 -3.3 1.5 -2.7 1.5 -2.2 1.5 -1.5 1.5 -0.8 1.5 0 1.5 0.6 1.5 1.4 1.5 2 1.5 2.6 1.5 3.2 1.5 3.7 1.5 4.2 1.5 4.6 1.5 5 1.5 5.4 1.5 5.7 1.5 5.9 1.5 6.2 1.5 6.4 1.5 6.5 1.5 6.6 1.5 6.7 1.5 6.7 1.5 6.6 1.5 6.6 1.5 6.5 1.5 6.3 1.5 6.1 1.5 5.9 1.5 5.5 1.5 5.3 1.5 4.9 1.5 4.5 1.5 4 1.5 3.5 1.5 3 1.5 2.5 1.5 1.8 1.5 1.1 1.5 0.4 1.5 -0.3 1.5 -1.1 1.5 -1.7 1.5 -2.3 1.5 -2.9 1.5 -3.5 1.5 -4 1.5 -4.4 1.5 -4.8 1.5 -5.2 1.5 -5.6 1.5 -5.8 1.5 -6.1 1.5 -6.3 1.5 -6.4 1.5 -6.6 1.5 -6.7 1.5 -6.6 1.5 -6.7 1.5 -6.6 1.5 -6.6 1.5 -6.3 1.5 -6.3 1.5 -5.9 1.5 -5.8 1.5 -5.4 1.5 -5.1 1.5 -4.6 1.5 -4.3 1.5 -3.8 1.5 -3.2 1.5 -2.7 1.5 -2.1 1.5 -1.4 1.5 -0.8 1.5 0 1.5 0.7 1.5 1.4 1.5 2 1.5 2.7 1.5 3.2 1.5 3.7 1.5 4.3 1.5 4.6 1.5 5.1 1.5 5.4 1.5 5.7 1.5 5.9 1.5 6.2 1.5 6.4 1.5 6.5 1.5 6.7 1.5 6.6 1.5 6.7 1.5 6.6 1.5 6.6 1.5 6.5 1.5 6.3 1.5 6.1 1.5 5.8 1.5 5.6 1.5 5.2 1.5 4.9 1.5 4.5 1.5 4 1.5 3.5 1.5 2.9 1.5 2.4 1.5 1.7 1.5 1.1 1.5 0.4 1.5 -0.4 1.5 -1.1 1.5 -1.7 1.5 -2.4 1.5 -2.9 1.5 -3.5 1.5 -4 1.5 -4.5 1.5 -4.9 1.5 -5.2 1.5 -5.6 1.5 -5.8 1.5 -6.1 1.5 -6.3 1.5 -6.5 1.5 -6.6 1.5 -6.6 1.5 -6.7 1.5 -6.6 1.5 -6.7 1.5 -6.5 1.5 -6.4 1.5 -6.2 1.5 -5.9 1.5 -5.7 1.5 -5.4 1.5 -5.1 1.5 -4.6 1.5 -4.3 1.5 -3.7 1.5 -3.2 1.5 -2.7 1.5 -2 1.5 -1.4 1.5 -0.7 1.5 0 1.5 0.8 1.5 1.4 1.5 2.1 1.5 2.7 1.5 3.2 1.5 3.8 1.5 4.3 1.5 4.6 1.5 5.1 1.5 5.4 1.5 5.8 1.5 5.9 1.5 6.3 1.5 6.3 1.5 6.6 1.5 6.6 1.5 6.7 1.5 6.6 1.5 6.7 1.5 6.6 1.5 6.4 1.5 6.3 1.5 6.1 1.5 5.8 1.5 5.6 1.5 5.2 1.5 4.8 1.5 4.4 1.5 4 1.5 3.5 1.5 2.9 1.5 2.3 1.5 1.7 1.5 1.1 1.5 0.3 1.5 -0.4 1.5 -1.1 1.5 -1.8 1.5 -2.5 1.5 -3 1.5 -3.5 1.5 -4 1.5 -4.5 1.5 -4.9 1.5 -5.3 1.5 -5.5 1.5 -5.9 1.5 -6.1 1.5 -6.3 1.5 -6.5 1.5 -6.6 1.5 -6.6 1.5 -6.7 1.5 -6.7 1.5 -6.6 1.5 -6.5 1.5 -6.4 1.5 -6.2 1.5 -5.9 1.5 -5.7 1.5 -5.4 1.5 -5 1.5 -4.6 1.5 -4.2 1.5 -3.7 1.5 -3.2 1.5 -2.6 1.5 -2 1.5 -1.4 1.5 -0.6 1.5 0 1.5 0.8 1.5 1.5 1.5 2.2 1.5 2.7 1.5 3.3 1.5 3.8 1.5 4.3 1.5 4.7 1.5 5.1 1.5 5.4 1.5 5.7 1.5 6.1 1.5 6.2 1.5 6.4 1.5 6.5 1.5 6.6 1.5 6.7 1.5 6.7 1.5 6.6 1.5 6.6 1.5 6.4 1.5 6.3 1.5 6.1 1.5 5.8 1.5 5.5 1.5 5.2 1.5 4.8 1.5 4.4 1.5 4 1.5 3.4 1.5 2.9 1.5 2.3 1.5 1.6 1.5 1 1.5 0.3 1.5 -0.5 1.5 -1.1 1.5 -1.9 1.5 -2.4 1.5 -3.1 1.5 -3.5 1.5 -4.1 1.5 -4.5 1.5 -4.9 1.5 -5.3 1.5 -5.6 1.5 -5.9 1.5 -6.2 1.5 -6.3 1.5 -6.5 1.5 -6.5 1.5 -6.7 1.5 -6.7 1.5 -6.6 1.5 -6.6 1.5 -6.5 1.5 -6.4 1.5 -6.2 1.5 -5.9 1.5 -5.7 1.5 -5.3 1.5 -5 1.5 -4.6 1.5 -4.2 1.5 -3.7 1.5 -3.1 1.5 -2.6 1.5 -1.9 1.5 -1.3 1.5 -0.7 1.5 0.2 1.5 0.8 1.5 1.5 1.5 2.2 1.5 2.8 1.5 3.3 1.5 3.8 1.5 4.4 1.5 4.7 1.5 5.1 1.5 5.5 1.5 5.7 1.5 6.1 1.5 6.2 1.5 6.4 1.5 6.6 1.5 6.6 1.5 6.7 1.5 6.6 1.5 6.7 1.5 6.5 1.5 6.5 1.5 6.2 1.5 6.1 1.5 5.8 1.5 5.5 1.5 5.1 1.5 4.8 1.5 4.4 1.5 3.9 1.5 3.4 1.5 2.8 1.5 2.3 1.5 1.6 1.5 1 1.5 0.2 1.5 -0.5 1.5 -1.2 1.5 -1.9 1.5 -2.5 1.5 -3.1 1.5 -3.6 1.5 -4.1 1.5 -4.5 1.5 -5 1.5 -5.3 1.5 -5.6 1.5 -5.9 1.5 -6.2 1.5 -6.3 1.5 -6.5 1.5 -6.6 1.5 -6.6" fill="none" stroke="#0000ff" stroke-width="7.00" stroke-linejoin="round" stroke-linecap="round"/>
<path d="M184.8 1401.1 l1.5 3.9 1.5 3.4 1.5 2.8 1.5 2.2 1.5 1.6 1.5 1 1.5 0.2 1.5 -0.5 1.5 -1.3 1.5 -1.9 1.5 -2.5 1.5 -3.1 1.5 -3.6 1.5 -4.1 1.5 -4.5 1.5 -5 1.5 -5.3 1.5 -5.6 1.5 -6 1.5 -6.1 1.5 -6.3 1.5 -6.5 1.5 -6.6 1.5 -6.7 1.5 -6.7 1.5 -6.6 1.5 -6.6 1.5 -6.5 1.5 -6.4 1.5 -6.1 1.5 -5.9 1.5 -5.7 1.5 -5.3 1.5 -5 1.5 -4.5 1.5 -4.1 1.5 -3.7 1.5 -3.1 1.5 -2.5 1.5 -1.9 1.5 -1.2 1.5 -0.6 1.5 0.2 1.5 0.9 1.5 1.6 1.5 2.2 1.5 2.9 1.5 3.3 1.5 3.9 1.5 4.4 1.5 4.7 1.5 5.2 1.5 5.5 1.5 5.8 1.5 6 1.5 6.3 1.5 6.4 1.5 6.5 1.5 6.7 1.5 6.6 1.5 6.7 1.5 6.7 1.5 6.5 1.5 6.4 1.5 6.3 1.5 6 1.5 5.8 1.5 5.5 1.5 5.1 1.5 4.7 1.5 4.4 1.5 3.8 1.5 3.4 1.5 2.8 1.5 2.2 1.5 1.5 1.5 0.9 1.5 0.2 1.5 -0.6 1.5 -1.3 1.5 -1.9 1.5 -2.6 1.5 -3.1 1.5 -3.6 1.5 -4.2 1.5 -4.6 1.5 -4.9 1.5 -5.4 1.5 -5.6 1.5 -6 1.5 -6.1 1.5 -6.4 1.5 -6.5 1.5 -6.6 1.5 -6.6 1.5 -6.7 1.5 -6.7 1.5 -6.6 1.5 -6.4 1.5 -6.4 1.5 -6.1 1.5 -5.9 1.5 -5.6 1.5 -5.3 1.5 -5 1.5 -4.5 1.5 -4.1 1.5 -3.6 1.5 -3 1.5 -2.5 1.5 -1.9 1.5 -1.2 1.5 -0.5 1.5 0.3 1.5 0.9 1.5 1.6 1.5 2.3 1.5 2.9 1.5 3.4 1.5 3.9 1.5 4.4 1.5 4.8 1.5 5.1 1.5 5.6 1.5 5.8 1.5 6 1.5 6.3 1.5 6.4 1.5 6.6 1.5 6.6 1.5 6.7 1.5 6.7 1.5 6.6 1.5 6.5 1.5 6.4 1.5 6.3 1.5 6 1.5 5.7 1.5 5.5 1.5 5.1 1.5 4.7 1.5 4.3 1.5 3.9 1.5 3.3 1.5 2.7 1.5 2.2 1.5 1.5 1.5 0.8 1.5 0.2 1.5 -0.7 1.5 -1.3 1.5 -2 1.5 -2.6 1.5 -3.1 1.5 -3.7 1.5 -4.2 1.5 -4.6 1.5 -5 1.5 -5.3 1.5 -5.7 1.5 -6 1.5 -6.1 1.5 -6.4 1.5 -6.5 1.5 -6.6 1.5 -6.7 1.5 -6.7 1.5 -6.6 1.5 -6.6 1.5 -6.5 1.5 -6.3 1.5 -6.1 1.5 -5.9 1.5 -5.6 1.5 -5.3 1.5 -4.9 1.5 -4.5 1.5 -4 1.5 -3.6 1.5 -3 1.5 -2.5 1.5 -1.8 1.5 -1.1 1.5 -0.5 1.5 0.3 1.5 1 1.5 1.7 1.5 2.3 1.5 2.9 1.5 3.4 1.5 4 1.5 4.4 1.5 4.8 1.5 5.2 1.5 5.5 1.5 5.9 1.5 6 1.5 6.3 1.5 6.5 1.5 6.5 1.5 6.7 1.5 6.6 1.5 6.7 1.5 6.6 1.5 6.6 1.5 6.4 1.5 6.2 1.5 6 1.5 5.7 1.5 5.5 1.5 5 1.5 4.7 1.5 4.3 1.5 3.8 1.5 3.3 1.5 2.7 1.5 2.1 1.5 1.5 1.5 0.8 1.5 0 1.5 -0.6 1.5 -1.4 1.5 -2 1.5 -2.7 1.5 -3.1 1.5 -3.8 1.5 -4.2 1.5 -4.6 1.5 -5 1.5 -5.4 1.5 -5.7 1.5 -6 1.5 -6.2 1.5 -6.3 1.5 -6.5 1.5 -6.7 1.5 -6.6 1.5 -6.7 1.5 -6.7 1.5 -6.5 1.5 -6.5 1.5 -6.3 1.5 -6.1 1.5 -5.9 1.5 -5.6 1.5 -5.2 1.5 -4.9 1.5 -4.5 1.5 -4 1.5 -3.5 1.5 -3 1.5 -2.4 1.5 -1.8 1.5 -1.1 1.5 -0.4 1.5 0.3 1.5 1.1 1.5 1.7 1.5 2.4 1.5 2.9 1.5 3.5 1.5 3.9 1.5 4.5 1.5 4.8 1.5 5.3 1.5 5.5 1.5 5.9 1.5 6 1.5 6.3 1.5 6.5 1.5 6.6 1.5 6.6 1.5 6.7 1.5 6.7 1.5 6.6 1.5 6.5 1.5 6.4 1.5 6.2 1.5 6 1.5 5.7 1.5 5.4 1.5 5.1 1.5 4.6 1.5 4.3 1.5 3.7 1.5 3.3 1.5 2.7 1.5 2 1.5 1.5 1.5 0.7 1.5 0 1.5 -0.8 1.5 -1.5 1.5 -2.2 1.5 -2.9 1.5 -3.4 1.5 -4 1.5 -4.5 1.5 -5 1.5 -5.4 1.5 -5.8 1.5 -6 1.5 -6.4 1.5 -6.5 1.5 -6.8 1.5 -6.9 1.5 -6.9 1.5 -7 1.5 -7 1.5 -7 1.5 -6.8 1.5 -6.7 1.5 -6.5 1.5 -6.3 1.5 -5.9 1.5 -5.7 1.5 -5.2 1.5 -4.8 1.5 -4.4 1.5 -3.8 1.5 -3.2 1.5 -2.7 1.5 -1.9 1.5 -1.3 1.5 -0.5 1.5 0.3 1.5 1.3 1.5 2 1.5 2.8 1.5 3.5 1.5 4.1 1.5 4.7 1.5 5.2 1.5 5.7 1.5 6 1.5 6.5 1.5 6.7 1.5 6.9 1.5 7 1.5 7.2 1.5 7.2 1.5 7.2 1.5 7.1 1.5 6.9 1.5 6.8 1.5 6.5 1.5 6.1 1.5 5.8 1.5 5.4 1.5 4.8 1.5 4.3 1.5 3.7 1.5 2.9 1.5 2.3 1.5 1.4 1.5 0.6 1.5 -0.5 1.5 -1.5 1.5 -2.5 1.5 -3.3 1.5 -3.9 1.5 -4.3 1.5 -4.7 1.5 -4.8 1.5 -4.8 1.5 -4.6 1.5 -4.2 1.5 -4.5 1.5 -4.9 1.5 -5.3 1.5 -5.7 1.5 -6 1.5 -6.3 1.5 -6.4 1.5 -6.7 1.5 -6.8 1.5 -6.9 1.5 -6.9 1.5 -6.9 1.5 -6.9 1.5 -6.7 1.5 -6.7 1.5 -6.4 1.5 -6.2 1.5 -6 1.5 -5.6 1.5 -5.2 1.5 -4.8 1.5 -4.4 1.5 -3.9 1.5 -3.3 1.5 -2.7 1.5 -2 1.5 -1.4 1.5 -0.7 1.5 0.3 1.5 1.6 1.5 2.9 1.5 4 1.5 5.1 1.5 6.2 1.5 7 1.5 7.8 1.5 8.5 1.5 9.2 1.5 9.6 1.5 10.1 1.5 10.5 1.5 10.6 1.5 10.9 1.5 10.9 1.5 10.8 1.5 10.7 1.5 10.5 1.5 10.2 1.5 9.7 1.5 9.3 1.5 8.7 1.5 7.9 1.5 7.2 1.5 6.3 1.5 5.3 1.5 4.3 1.5 3.1 1.5 1.9 1.5 0.5 1.5 -0.9 1.5 -2.2 1.5 -3.5 1.5 -4.5 1.5 -5.6 1.5 -6.5 1.5 -7.4 1.5 -8.1 1.5 -8.7 1.5 -9.2 1.5 -9.7 1.5 -10 1.5 -10.3 1.5 -10.4 1.5 -10.4 1.5 -10.4 1.5 -10.2 1.5 -9.9 1.5 -9.6 1.5 -9.1 1.5 -8.5 1.5 -7.9 1.5 -7.2 1.5 -6.3 1.5 -5.3 1.5 -4.3 1.5 -3.1 1.5 -1.9 1.5 -0.5 1.5 0.7 1.5 1.6 1.5 2.5 1.5 3.4 1.5 4.1 1.5 4.9 1.5 5.6 1.5 6.1 1.5 6.7 1.5 7.2 1.5 7.6 1.5 8 1.5 8.2 1.5 8.5 1.5 8.7 1.5 8.7 1.5 8.9 1.5 8.8 1.5 8.7 1.5 8.6 1.5 8.5 1.5 8.1 1.5 7.9 1.5 7.4 1.5 7.1 1.5 6.5 1.5 5.9 1.5 5.4 1.5 4.6 1.5 3.9 1.5 3.1 1.5 2.3 1.5 1.3 1.5 0.3 1.5 -0.8 1.5 -1.9 1.5 -2.8 1.5 -3.8 1.5 -4.6 1.5 -5.5 1.5 -6.1 1.5 -6.8 1.5 -7.4 1.5 -7.9 1.5 -8.3 1.5 -8.7 1.5 -9 1.5 -9.3 1.5 -9.4 1.5 -9.5 1.5 -9.5 1.5 -9.5 1.5 -9.4 1.5 -9.2 1.5 -8.9 1.5 -8.6 1.5 -8.3 1.5 -7.7 1.5 -7.3 1.5 -6.6 1.5 -6 1.5 -5.2 1.5 -4.4 1.5 -3.5 1.5 -2.6 1.5 -1.6 1.5 -0.5 1.5 0.6 1.5 1.6 1.5 2.5 1.5 3.4 1.5 4.3 1.5 5 1.5 5.7 1.5 6.3 1.5 6.9 1.5 7.5 1.5 7.9 1.5 8.2 1.5 8.7 1.5 8.9 1.5 9.1 1.5 9.2 1.5 9.4 1.5 9.3 1.5 9.4 1.5 9.2 1.5 9.1 1.5 8.9 1.5 8.7 1.5 8.2 1.5 7.9 1.5 7.5 1.5 6.9 1.5 6.3 1.5 5.7 1.5 5 1.5 4.3 1.5 3.4 1.5 2.5 1.5 1.6 1.5 0.6 1.5 -0.4 1.5 -1.4 1.5 -2.2 1.5 -3 1.5 -3.8 1.5 -4.5 1.5 -5.2 1.5 -5.7 1.5 -6.4 1.5 -6.8 1.5 -7.3 1.5 -7.6 1.5 -8 1.5 -8.3 1.5 -8.6 1.5 -8.7 1.5 -8.8 1.5 -9 1.5 -8.9 1.5 -8.9 1.5 -8.9 1.5 -8.7 1.5 -8.5 1.5 -8.3 1.5 -8 1.5 -7.6 1.5 -7.3 1.5 -6.8 1.5 -6.3 1.5 -5.7 1.5 -5.1 1.5 -4.5 1.5 -3.7 1.5 -3 1.5 -2.2 1.5 -1.2 1.5 -0.4 1.5 0.6 1.5 1.6 1.5 2.5 1.5 3.3 1.5 4.1 1.5 4.9 1.5 5.5 1.5 6.1 1.5 6.7 1.5 7.2 1.5 7.6 1.5 8 1.5 8.3 1.5 8.6 1.5 8.9 1.5 8.9 1.5 9.1 1.5 9.1 1.5 9.1 1.5 9.1 1.5 8.9 1.5 8.7 1.5 8.5 1.5 8.2 1.5 7.8 1.5 7.4 1.5 7 1.5 6.4 1.5 5.9 1.5 5.2 1.5 4.5 1.5 3.7 1.5 3 1.5 2 1.5 1.2 1.5 0.1 1.5 -0.7 1.5 -1.7 1.5 -2.5 1.5 -3.3 1.5 -4.1 1.5 -4.7 1.5 -5.4 1.5 -5.9 1.5 -6.5 1.5 -7 1.5 -7.3 1.5 -7.8 1.5 -8.1 1.5 -8.3 1.5 -8.5 1.5 -8.7 1.5 -8.8 1.5 -8.9 1.5 -8.9 1.5 -8.8 1.5 -8.7 1.5 -8.6 1.5 -8.3 1.5 -8.1 1.5 -7.8 1.5 -7.5 1.5 -7 1.5 -6.5 1.5 -6 1.5 -5.5 1.5 -4.8 1.5 -4.2 1.5 -3.4 1.5 -2.6 1.5 -1.8 1.5 -0.9 1.5 0 1.5 1.1 1.5 1.9 1.5 2.8 1.5 3.7 1.5 4.4 1.5 5.1 1.5 5.8 1.5 6.3 1.5 6.9 1.5 7.4 1.5 7.7 1.5 8.2 1.5 8.4 1.5 8.7 1.5 8.9 1.5 9.1 1.5 9.1 1.5 9.1 1.5 9.1 1.5 9 1.5 8.8 1.5 8.6 1.5 8.4 1.5 8.1 1.5 7.6 1.5 7.3 1.5 6.7 1.5 6.2 1.5 5.6 1.5 4.9 1.5 4.3 1.5 3.4 1.5 2.6 1.5 1.7 1.5 0.8 1.5 -0.2 1.5 -0.9 1.5 -1.6 1.5 -2.3 1.5 -2.9 1.5 -3.5 1.5 -4 1.5 -4.6 1.5 -5 1.5 -5.5 1.5 -5.9 1.5 -6.2 1.5 -6.6 1.5 -6.9 1.5 -7.2 1.5 -7.4 1.5 -7.6 1.5 -7.7 1.5 -7.9 1.5 -7.9 1.5 -8 1.5 -8 1.5 -8 1.5 -7.9 1.5 -7.9 1.5 -7.7 1.5 -7.5 1.5 -7.3 1.5 -7.1 1.5 -6.8 1.5 -6.5 1.5 -6.1 1.5 -5.8 1.5 -5.3 1.5 -4.9 1.5 -4.4 1.5 -3.9 1.5 -3.3 1.5 -2.6 1.5 -2.1 1.5 -1.4 1.5 -0.6 1.5 0.1 1.5 1 1.5 2 1.5 2.8 1.5 3.7 1.5 4.3 1.5 5.1 1.5 5.7 1.5 6.3 1.5 6.8 1.5 7.3 1.5 7.7 1.5 8 1.5 8.4 1.5 8.6 1.5 8.8 1.5 8.9 1.5 9.1 1.5 9 1.5 9.1 1.5 8.9 1.5 8.9 1.5 8.6 1.5 8.4 1.5 8.1 1.5 7.7 1.5 7.4 1.5 6.8 1.5 6.4 1.5 5.8 1.5 5.1 1.5 4.5 1.5 3.7 1.5 3 1.5 2 1.5 1.2 1.5 0.3 1.5 -0.5 1.5 -1.1 1.5 -1.7 1.5 -2.3 1.5 -2.8 1.5 -3.2 1.5 -3.8 1.5 -4.1 1.5 -4.6 1.5 -4.9 1.5 -5.2 1.5 -5.5 1.5 -5.8 1.5 -6.1 1.5 -6.2 1.5 -6.4 1.5 -6.6 1.5 -6.6 1.5 -6.7 1.5 -6.8 1.5 -6.8 1.5 -6.7 1.5 -6.7 1.5 -6.7 1.5 -6.5 1.5 -6.3 1.5 -6.2 1.5 -5.9 1.5 -5.7 1.5 -5.4 1.5 -5.1 1.5 -4.8 1.5 -4.4 1.5 -4 1.5 -3.5 1.5 -3.1 1.5 -2.6 1.5 -2 1.5 -1.5 1.5 -0.9 1.5 -0.2 1.5 0.4 1.5 1 1.5 1.7 1.5 2.1 1.5 2.7 1.5 3.2 1.5 3.6 1.5 4 1.5 4.5 1.5 4.7 1.5 5.1 1.5 5.4 1.5 5.6 1.5 5.8 1.5 6 1.5 6.2 1.5 6.2 1.5 6.3 1.5 6.4 1.5 6.4 1.5 6.3 1.5 6.3 1.5 6.2 1.5 6.1 1.5 5.9 1.5 5.7 1.5 5.5 1.5 5.2 1.5 4.9 1.5 4.6 1.5 4.3 1.5 3.8 1.5 3.4 1.5 2.9 1.5 2.4 1.5 1.9 1.5 1.3 1.5 0.7 1.5 0 1.5 -0.6 1.5 -1.5 1.5 -2.1 1.5 -2.7 1.5 -3.3 1.5 -3.8 1.5 -4.4 1.5 -4.8 1.5 -5.3 1.5 -5.6 1.5 -5.9 1.5 -6.2 1.5 -6.4 1.5 -6.6 1.5 -6.8 1.5 -6.9 1.5 -6.9 1.5 -6.9 1.5 -6.9 1.5 -6.9 1.5 -6.7 1.5 -6.5 1.5 -6.3 1.5 -6.1 1.5 -5.8 1.5 -5.4 1.5 -5.1 1.5 -4.6 1.5 -4.1 1.5 -3.6 1.5 -3.1 1.5 -2.4 1.5 -1.8 1.5 -1.1 1.5 -0.3 1.5 0.4 1.5 1.2 1.5 1.8 1.5 2.5 1.5 3.1 1.5 3.7 1.5 4.1 1.5 4.7 1.5 5 1.5 5.4 1.5 5.8 1.5 6.1 1.5 6.3 1.5 6.5 1.5 6.7 1.5 6.8 1.5 6.8 1.5 6.9 1.5 6.9 1.5 6.8 1.5 6.8 1.5 6.5 1.5 6.4 1.5 6.2 1.5 5.9 1.5 5.6 1.5 5.2 1.5 4.8 1.5 4.3 1.5 3.9 1.5 3.3 1.5 2.7 1.5 2.1 1.5 1.5 1.5 0.7 1.5 0 1.5 -0.9 1.5 -1.7 1.5 -2.4 1.5 -3.2 1.5 -3.8 1.5 -4.3 1.5 -5 1.5 -5.3 1.5 -5.9 1.5 -6.2 1.5 -6.5 1.5 -6.7 1.5 -7 1.5 -7.2 1.5 -7.2 1.5 -7.3 1.5 -7.3 1.5 -7.2 1.5 -7.2 1.5 -6.9 1.5 -6.8 1.5 -6.4 1.5 -6.2 1.5 -5.7 1.5 -5.3 1.5 -4.9 1.5 -4.3 1.5 -3.6 1.5 -3.1 1.5 -2.3 1.5 -1.6 1.5 -0.7 1.5 0 1.5 0.9 1.5 1.5 1.5 2.1 1.5 2.8 1.5 3.3 1.5 3.8 1.5 4.3 1.5 4.7 1.5 5.1 1.5 5.4 1.5 5.8 1.5 6 1.5 6.2 1.5 6.4 1.5 6.6 1.5 6.6 1.5 6.7 1.5 6.6 1.5 6.7 1.5 6.5 1.5 6.5 1.5 6.2 1.5 6.1 1.5 5.8 1.5 5.5 1.5 5.2 1.5 4.8 1.5 4.4 1.5 3.9 1.5 3.5 1.5 2.8 1.5 2.3 1.5 1.7 1.5 0.9 1.5 0.3 1.5 -0.5 1.5 -1.2 1.5 -1.8 1.5 -2.5 1.5 -3 1.5 -3.6 1.5 -4.1 1.5 -4.5 1.5 -5 1.5 -5.2 1.5 -5.7 1.5 -5.9 1.5 -6.1 1.5 -6.3 1.5 -6.5 1.5 -6.6 1.5 -6.6 1.5 -6.7 1.5 -6.7 1.5 -6.6 1.5 -6.5 1.5 -6.3 1.5 -6.2 1.5 -5.9 1.5 -5.7 1.5 -5.3 1.5 -5 1.5 -4.6 1.5 -4.2 1.5 -3.6 1.5 -3.2 1.5 -2.5 1.5 -2 1.5 -1.3 1.5 -0.6 1.5 0.2 1.5 0.8 1.5 1.6 1.5 2.2 1.5 2.8 1.5 3.3 1.5 3.8 1.5 4.4 1.5 4.7 1.5 5.1 1.5 5.5 1.5 5.8 1.5 6 1.5 6.2 1.5 6.5 1.5 6.5 1.5 6.6 1.5 6.7 1.5 6.7 1.5 6.6 1.5 6.6 1.5 6.4 1.5 6.3 1.5 6 1.5 5.8 1.5 5.5 1.5 5.2 1.5 4.7 1.5 4.4 1.5 3.9 1.5 3.4 1.5 2.8 1.5 2.2 1.5 1.6 1.5 1 1.5 0.2 1.5 -0.5 1.5 -1.3 1.5 -1.9 1.5 -2.5 1.5 -3.1 1.5 -3.6 1.5 -4.1 1.5 -4.5 1.5 -5 1.5 -5.3 1.5 -5.6 1.5 -6 1.5 -6.1 1.5 -6.3 1.5 -6.5 1.5 -6.6 1.5 -6.7 1.5 -6.7 1.5 -6.6 1.5 -6.6 1.5 -6.5 1.5 -6.4 1.5 -6.1 1.5 -5.9 1.5 -5.7 1.5 -5.3 1.5 -5 1.5 -4.5 1.5 -4.1 1.5 -3.7 1.5 -3.1 1.5 -2.5 1.5 -1.9 1.5 -1.2 1.5 -0.6 1.5 0.2 1.5 0.9 1.5 1.6 1.5 2.2 1.5 2.9 1.5 3.3 1.5 3.9 1.5 4.4 1.5 4.7 1.5 5.2 1.5 5.5 1.5 5.8 1.5 6 1.5 6.3 1.5 6.4 1.5 6.5 1.5 6.7 1.5 6.6 1.5 6.7 1.5 6.7 1.5 6.5 1.5 6.4 1.5 6.3 1.5 6 1.5 5.8 1.5 5.5 1.5 5.1 1.5 4.7 1.5 4.4 1.5 3.8 1.5 3.4 1.5 2.8 1.5 2.2 1.5 1.5 1.5 0.9 1.5 0.2 1.5 -0.6 1.5 -1.3 1.5 -1.9 1.5 -2.6 1.5 -3.1 1.5 -3.6 1.5 -4.2 1.5 -4.6 1.5 -4.9 1.5 -5.4 1.5 -5.6 1.5 -6 1.5 -6.1 1.5 -6.4 1.5 -6.5 1.5 -6.6 1.5 -6.6 1.5 -6.7 1.5 -6.7 1.5 -6.6 1.5 -6.4 1.5 -6.4 1.5 -6.1 1.5 -5.9 1.5 -5.6 1.5 -5.3 1.5 -5 1.5 -4.5 1.5 -4.1 1.5 -3.6 1.5 -3 1.5 -2.5 1.5 -1.9 1.5 -1.2 1.5 -0.5 1.5 0.3 1.5 0.9 1.5 1.6 1.5 2.3 1.5 2.9 1.5 3.4 1.5 3.9 1.5 4.4 1.5 4.8 1.5 5.1 1.5 5.6 1.5 5.8 1.5 6 1.5 6.3 1.5 6.4 1.5 6.6 1.5 6.6 1.5 6.7 1.5 6.7 1.5 6.6 1.5 6.5 1.5 6.4 1.5 6.3 1.5 6 1.5 5.7 1.5 5.5 1.5 5.1 1.5 4.7 1.5 4.3 1.5 3.9 1.5 3.3 1.5 2.7 1.5 2.2 1.5 1.5 1.5 0.8 1.5 0.2 1.5 -0.7 1.5 -1.3 1.5 -2 1.5 -2.6 1.5 -3.1 1.5 -3.7 1.5 -4.2 1.5 -4.6 1.5 -5 1.5 -5.3 1.5 -5.7 1.5 -6 1.5 -6.1 1.5 -6.4 1.5 -6.5 1.5 -6.6 1.5 -6.7 1.5 -6.7 1.5 -6.6 1.5 -6.6 1.5 -6.5 1.5 -6.3 1.5 -6.1 1.5 -5.9 1.5 -5.6 1.5 -5.3 1.5 -4.9 1.5 -4.5 1.5 -4 1.5 -3.6 1.5 -3 1.5 -2.5 1.5 -1.8 1.5 -1.1 1.5 -0.5 1.5 0.3 1.5 1 1.5 1.7 1.5 2.3 1.5 2.9 1.5 3.4 1.5 4 1.5 4.4 1.5 4.8 1.5 5.2 1.5 5.5 1.5 5.9 1.5 6 1.5 6.3 1.5 6.5 1.5 6.5 1.5 6.7 1.5 6.6 1.5 6.7 1.5 6.6 1.5 6.6 1.5 6.4 1.5 6.2 1.5 6 1.5 5.7 1.5 5.5 1.5 5 1.5 4.7 1.5 4.3 1.5 3.8 1.5 3.3 1.5 2.7 1.5 2.1 1.5 1.5 1.5 0.8 1.5 0 1.5 -0.6 1.5 -1.4 1.5 -2 1.5 -2.7 1.5 -3.1 1.5 -3.8 1.5 -4.2 1.5 -4.6 1.5 -5 1.5 -5.4 1.5 -5.7 1.5 -6 1.5 -6.2 1.5 -6.3 1.5 -6.5 1.5 -6.7 1.5 -6.6 1.5 -6.7 1.5 -6.7 1.5 -6.5 1.5 -6.5 1.5 -6.3 1.5 -6.1 1.5 -5.9 1.5 -5.6 1.5 -5.2 1.5 -4.9 1.5 -4.5 1.5 -4 1.5 -3.5 1.5 -3 1.5 -2.4 1.5 -1.8 1.5 -1.1 1.5 -0.4 1.5 0.3 1.5 1.1 1.5 1.7 1.5 2.4 1.5 2.9 1.5 3.5 1.5 3.9 1.5 4.5 1.5 4.8 1.5 5.3 1.5 5.5 1.5 5.9 1.5 6 1.5 6.3 1.5 6.5 1.5 6.6 1.5 6.6 1.5 6.7 1.5 6.7 1.5 6.6 1.5 6.5 1.5 6.4 1.5 6.2 1.5 6 1.5 5.7 1.5 5.4 1.5 5.1 1.5 4.6 1.5 4.3 1.5 3.7 1.5 3.3 1.5 2.7 1.5 2 1.5 1.5 1.5 0.7 1.5 0 1.5 -0.7 1.5 -1.4 1.5 -2.1 1.5 -2.7 1.5 -3.2 1.5 -3.7 1.5 -4.3 1.5 -4.6 1.5 -5.1 1.5 -5.4 1.5 -5.7 1.5 -6 1.5 -6.2 1.5 -6.4 1.5 -6.5 1.5 -6.6 1.5 -6.7 1.5 -6.6 1.5 -6.7 1.5 -6.6 1.5 -6.4 1.5 -6.3 1.5 -6.1 1.5 -5.9 1.5 -5.5 1.5 -5.3 1.5 -4.8 1.5 -4.5 1.5 -3.9 1.5 -3.5 1.5 -3 1.5 -2.3 1.5 -1.8 1.5 -1 1.5 -0.4 1.5 0.4 1.5 1.1 1.5 1.7 1.5 2.4 1.5 3 1.5 3.5 1.5 4 1.5 4.5 1.5 4.9 1.5 5.2 1.5 5.6 1.5 5.9 1.5 6.1 1.5 6.3 1.5 6.4 1.5 6.6 1.5 6.7 1.5 6.6 1.5 6.7 1.5 6.6 1.5 6.5 1.5 6.4 1.5 6.2 1.5 6 1.5 5.7 1.5 5.4 1.5 5 1.5 4.6 1.5 4.2" fill="none" stroke="#ff0000" stroke-width="7.00" stroke-linejoin="round" stroke-linecap="round"/>
<path d="M184.8 1266.9 l1.5 3.5 1.5 4 1.5 4.5 1.5 4.9 1.5 5.2 1.5 5.6 1.5 5.9 1.5 6.1 1.5 6.3 1.5 6.5 1.5 6.5 1.5 6.7 1.5 6.7 1.5 6.6 1.5 6.7 1.5 6.5 1.5 6.3 1.5 6.2 1.5 6 1.5 5.7 1.5 5.4 1.5 5 1.5 4.6 1.5 4.2 1.5 3.8 1.5 3.1 1.5 2.7 1.5 2 1.5 1.4 1.5 0.6 1.5 0 1.5 -0.8 1.5 -1.5 1.5 -2.1 1.5 -2.7 1.5 -3.3 1.5 -3.8 1.5 -4.3 1.5 -4.7 1.5 -5 1.5 -5.5 1.5 -5.7 1.5 -6 1.5 -6.2 1.5 -6.4 1.5 -6.6 1.5 -6.6 1.5 -6.7 1.5 -6.6 1.5 -6.7 1.5 -6.5 1.5 -6.5 1.5 -6.3 1.5 -6 1.5 -5.9 1.5 -5.5 1.5 -5.2 1.5 -4.8 1.5 -4.4 1.5 -4 1.5 -3.4 1.5 -2.9 1.5 -2.3 1.5 -1.7 1.5 -1 1.5 -0.3 1.5 0.5 1.5 1.1 1.5 1.8 1.5 2.5 1.5 3 1.5 3.6 1.5 4 1.5 4.5 1.5 4.9 1.5 5.3 1.5 5.6 1.5 5.9 1.5 6.1 1.5 6.3 1.5 6.5 1.5 6.6 1.5 6.6 1.5 6.7 1.5 6.7 1.5 6.6 1.5 6.5 1.5 6.4 1.5 6.1 1.5 6 1.5 5.7 1.5 5.3 1.5 5 1.5 4.6 1.5 4.2 1.5 3.7 1.5 3.1 1.5 2.6 1.5 2 1.5 1.3 1.5 0.7 1.5 -0.2 1.5 -0.8 1.5 -1.5 1.5 -2.2 1.5 -2.7 1.5 -3.3 1.5 -3.9 1.5 -4.3 1.5 -4.7 1.5 -5.1 1.5 -5.5 1.5 -5.7 1.5 -6 1.5 -6.3 1.5 -6.4 1.5 -6.5 1.5 -6.6 1.5 -6.7 1.5 -6.7 1.5 -6.6 1.5 -6.6 1.5 -6.4 1.5 -6.3 1.5 -6 1.5 -5.8 1.5 -5.6 1.5 -5.1 1.5 -4.8 1.5 -4.4 1.5 -3.9 1.5 -3.4 1.5 -2.9 1.5 -2.3 1.5 -1.6 1.5 -0.9 1.5 -0.3 1.5 0.5 1.5 1.2 1.5 1.9 1.5 2.5 1.5 3 1.5 3.6 1.5 4.1 1.5 4.5 1.5 5 1.5 5.3 1.5 5.6 1.5 5.9 1.5 6.1 1.5 6.4 1.5 6.4 1.5 6.6 1.5 6.7 1.5 6.7 1.5 6.6 1.5 6.6 1.5 6.5 1.5 6.4 1.5 6.1 1.5 6 1.5 5.6 1.5 5.4 1.5 4.9 1.5 4.6 1.5 4.2 1.5 3.6 1.5 3.1 1.5 2.6 1.5 1.9 1.5 1.3 1.5 0.6 1.5 -0.2 1.5 -0.9 1.5 -1.5 1.5 -2.2 1.5 -2.8 1.5 -3.4 1.5 -3.8 1.5 -4.4 1.5 -4.7 1.5 -5.1 1.5 -5.5 1.5 -5.8 1.5 -6 1.5 -6.3 1.5 -6.4 1.5 -6.5 1.5 -6.7 1.5 -6.7 1.5 -6.6 1.5 -6.7 1.5 -6.5 1.5 -6.4 1.5 -6.3 1.5 -6 1.5 -5.8 1.5 -5.5 1.5 -5.2 1.5 -4.7 1.5 -4.4 1.5 -3.9 1.5 -3.3 1.5 -2.9 1.5 -2.2 1.5 -1.6 1.5 -0.9 1.5 -0.2 1.5 0.6 1.5 1.2 1.5 1.9 1.5 2.5 1.5 3.1 1.5 3.7 1.5 4.1 1.5 4.5 1.5 5 1.5 5.3 1.5 5.7 1.5 5.9 1.5 6.1 1.5 6.4 1.5 6.5 1.5 6.6 1.5 6.6 1.5 6.7 1.5 6.7 1.5 6.6 1.5 6.5 1.5 6.3 1.5 6.1 1.5 6 1.5 5.6 1.5 5.3 1.5 5 1.5 4.5 1.5 4.1 1.5 3.6 1.5 3.1 1.5 2.5 1.5 1.9 1.5 1.3 1.5 0.5 1.5 -0.2 1.5 -1 1.5 -1.6 1.5 -2.2 1.5 -2.8 1.5 -3.4 1.5 -3.9 1.5 -4.4 1.5 -4.7 1.5 -5.2 1.5 -5.5 1.5 -5.8 1.5 -6 1.5 -6.3 1.5 -6.4 1.5 -6.6 1.5 -6.6 1.5 -6.7 1.5 -6.7 1.5 -6.6 1.5 -6.5 1.5 -6.5 1.5 -6.2 1.5 -6 1.5 -5.8 1.5 -5.5 1.5 -5.1 1.5 -4.7 1.5 -4.4 1.5 -3.8 1.5 -3.3 1.5 -2.8 1.5 -2.2 1.5 -1.6 1.5 -0.8 1.5 -0.2 1.5 0.6 1.5 1.4 1.5 2 1.5 2.6 1.5 3.2 1.5 3.7 1.5 4.2 1.5 4.7 1.5 5.1 1.5 5.4 1.5 5.8 1.5 6 1.5 6.3 1.5 6.5 1.5 6.5 1.5 6.7 1.5 6.8 1.5 6.7 1.5 6.7 1.5 6.7 1.5 6.5 1.5 6.3 1.5 6.2 1.5 5.9 1.5 5.5 1.5 5.3 1.5 4.8 1.5 4.5 1.5 3.9 1.5 3.4 1.5 2.9 1.5 2.3 1.5 1.6 1.5 0.9 1.5 0.2 1.5 -0.6 1.5 -1.2 1.5 -1.8 1.5 -2.5 1.5 -3 1.5 -3.5 1.5 -4 1.5 -4.4 1.5 -4.8 1.5 -5.2 1.5 -5.5 1.5 -5.7 1.5 -6 1.5 -6.2 1.5 -6.4 1.5 -6.4 1.5 -6.6 1.5 -6.5 1.5 -6.6 1.5 -6.6 1.5 -6.4 1.5 -6.3 1.5 -6.2 1.5 -6 1.5 -5.7 1.5 -5.4 1.5 -5.2 1.5 -4.7 1.5 -4.4 1.5 -3.9 1.5 -3.5 1.5 -2.9 1.5 -2.4 1.5 -1.7 1.5 -1.1 1.5 -0.5 1.5 0.6 1.5 2.3 1.5 3.7 1.5 5 1.5 6.3 1.5 7.3 1.5 8.2 1.5 9.1 1.5 9.7 1.5 10.2 1.5 10.6 1.5 10.8 1.5 11 1.5 10.9 1.5 10.8 1.5 10.4 1.5 10.1 1.5 9.4 1.5 8.8 1.5 7.9 1.5 6.9 1.5 5.7 1.5 4.6 1.5 3.1 1.5 1.6 1.5 0.1 1.5 -1.1 1.5 -1.9 1.5 -2.8 1.5 -3.7 1.5 -4.4 1.5 -5.1 1.5 -5.8 1.5 -6.4 1.5 -6.9 1.5 -7.4 1.5 -7.8 1.5 -8.2 1.5 -8.5 1.5 -8.7 1.5 -9 1.5 -9.1 1.5 -9.2 1.5 -9.3 1.5 -9.2 1.5 -9.2 1.5 -9 1.5 -8.8 1.5 -8.6 1.5 -8.3 1.5 -7.9 1.5 -7.5 1.5 -7 1.5 -6.6 1.5 -5.9 1.5 -5.3 1.5 -4.6 1.5 -3.9 1.5 -3 1.5 -2.2 1.5 -1.3 1.5 -0.3 1.5 1 1.5 2.4 1.5 3.5 1.5 4.8 1.5 5.8 1.5 6.7 1.5 7.7 1.5 8.4 1.5 9.1 1.5 9.7 1.5 10.2 1.5 10.6 1.5 10.9 1.5 11.1 1.5 11.3 1.5 11.2 1.5 11.2 1.5 11.1 1.5 10.8 1.5 10.4 1.5 10 1.5 9.5 1.5 8.9 1.5 8.1 1.5 7.3 1.5 6.4 1.5 5.4 1.5 4.2 1.5 3.1 1.5 1.8 1.5 0.5 1.5 -0.9 1.5 -2 1.5 -3.1 1.5 -4.2 1.5 -5.1 1.5 -5.9 1.5 -6.7 1.5 -7.5 1.5 -8 1.5 -8.7 1.5 -9.1 1.5 -9.5 1.5 -9.9 1.5 -10.1 1.5 -10.3 1.5 -10.4 1.5 -10.5 1.5 -10.3 1.5 -10.3 1.5 -10.1 1.5 -9.7 1.5 -9.5 1.5 -9 1.5 -8.5 1.5 -7.9 1.5 -7.2 1.5 -6.6 1.5 -5.7 1.5 -4.8 1.5 -3.9 1.5 -2.8 1.5 -1.8 1.5 -0.5 1.5 0.7 1.5 1.9 1.5 2.9 1.5 4 1.5 4.9 1.5 5.8 1.5 6.6 1.5 7.4 1.5 8 1.5 8.5 1.5 9.1 1.5 9.5 1.5 9.9 1.5 10.2 1.5 10.4 1.5 10.5 1.5 10.6 1.5 10.5 1.5 10.5 1.5 10.4 1.5 10.1 1.5 9.8 1.5 9.4 1.5 9 1.5 8.5 1.5 7.8 1.5 7.2 1.5 6.5 1.5 5.6 1.5 4.8 1.5 3.8 1.5 2.7 1.5 1.6 1.5 0.5 1.5 -0.8 1.5 -1.9 1.5 -3 1.5 -4 1.5 -5 1.5 -5.8 1.5 -6.7 1.5 -7.3 1.5 -8 1.5 -8.6 1.5 -9.2 1.5 -9.5 1.5 -9.9 1.5 -10.3 1.5 -10.4 1.5 -10.6 1.5 -10.7 1.5 -10.7 1.5 -10.7 1.5 -10.5 1.5 -10.3 1.5 -10 1.5 -9.7 1.5 -9.3 1.5 -8.7 1.5 -8.3 1.5 -7.6 1.5 -6.8 1.5 -6.2 1.5 -5.2 1.5 -4.4 1.5 -3.3 1.5 -2.3 1.5 -1.2 1.5 0.1 1.5 1.2 1.5 2.3 1.5 3.4 1.5 4.4 1.5 5.3 1.5 6.1 1.5 6.9 1.5 7.6 1.5 8.2 1.5 8.8 1.5 9.3 1.5 9.6 1.5 10.1 1.5 10.2 1.5 10.5 1.5 10.7 1.5 10.7 1.5 10.7 1.5 10.6 1.5 10.4 1.5 10.3 1.5 9.9 1.5 9.6 1.5 9.2 1.5 8.7 1.5 8.1 1.5 7.4 1.5 6.8 1.5 5.9 1.5 5.1 1.5 4.2 1.5 3.2 1.5 2.1 1.5 1 1.5 -0.1 1.5 -1.3 1.5 -2.3 1.5 -3.3 1.5 -4.2 1.5 -5 1.5 -5.8 1.5 -6.6 1.5 -7.1 1.5 -7.8 1.5 -8.3 1.5 -8.8 1.5 -9.1 1.5 -9.6 1.5 -9.8 1.5 -10 1.5 -10.1 1.5 -10.3 1.5 -10.3 1.5 -10.2 1.5 -10.2 1.5 -10 1.5 -9.8 1.5 -9.5 1.5 -9.1 1.5 -8.8 1.5 -8.2 1.5 -7.8 1.5 -7.1 1.5 -6.5 1.5 -5.7 1.5 -5 1.5 -4.1 1.5 -3.2 1.5 -2.3 1.5 -1.2 1.5 -0.1 1.5 1 1.5 2.1 1.5 3.1 1.5 4 1.5 4.9 1.5 5.7 1.5 6.5 1.5 7.1 1.5 7.8 1.5 8.3 1.5 8.8 1.5 9.3 1.5 9.5 1.5 9.9 1.5 10.1 1.5 10.3 1.5 10.4 1.5 10.4 1.5 10.3 1.5 10.3 1.5 10.1 1.5 9.9 1.5 9.6 1.5 9.3 1.5 8.8 1.5 8.4 1.5 7.8 1.5 7.1 1.5 6.6 1.5 5.7 1.5 5 1.5 4.1 1.5 3.1 1.5 2.2 1.5 1.1 1.5 -0.1 1.5 -1.1 1.5 -2.1 1.5 -3.1 1.5 -4 1.5 -4.9 1.5 -5.6 1.5 -6.4 1.5 -7 1.5 -7.6 1.5 -8.2 1.5 -8.6 1.5 -9 1.5 -9.4 1.5 -9.7 1.5 -9.9 1.5 -10.1 1.5 -10.2 1.5 -10.3 1.5 -10.2 1.5 -10.1 1.5 -10.1 1.5 -9.8 1.5 -9.6 1.5 -9.2 1.5 -8.9 1.5 -8.5 1.5 -7.9 1.5 -7.4 1.5 -6.7 1.5 -6.1 1.5 -5.3 1.5 -4.6 1.5 -3.6 1.5 -2.8 1.5 -1.7 1.5 -0.7 1.5 0.3 1.5 0.9 1.5 1.6 1.5 2.2 1.5 2.7 1.5 3.4 1.5 3.8 1.5 4.3 1.5 4.8 1.5 5.2 1.5 5.6 1.5 6 1.5 6.3 1.5 6.6 1.5 6.9 1.5 7.1 1.5 7.3 1.5 7.5 1.5 7.6 1.5 7.8 1.5 7.8 1.5 7.9 1.5 7.9 1.5 7.8 1.5 7.9 1.5 7.7 1.5 7.7 1.5 7.5 1.5 7.3 1.5 7.2 1.5 6.9 1.5 6.6 1.5 6.4 1.5 6 1.5 5.6 1.5 5.3 1.5 4.9 1.5 4.4 1.5 3.9 1.5 3.4 1.5 2.8 1.5 2.3 1.5 1.6 1.5 1.1 1.5 0.3 1.5 -0.5 1.5 -1.7 1.5 -2.5 1.5 -3.6 1.5 -4.3 1.5 -5.2 1.5 -5.9 1.5 -6.6 1.5 -7.2 1.5 -7.7 1.5 -8.2 1.5 -8.6 1.5 -8.9 1.5 -9.2 1.5 -9.5 1.5 -9.5 1.5 -9.7 1.5 -9.7 1.5 -9.6 1.5 -9.5 1.5 -9.4 1.5 -9.1 1.5 -8.8 1.5 -8.4 1.5 -8 1.5 -7.6 1.5 -6.9 1.5 -6.3 1.5 -5.6 1.5 -4.9 1.5 -4 1.5 -3.2 1.5 -2.2 1.5 -1.2 1.5 -0.1 1.5 0.6 1.5 1.2 1.5 1.8 1.5 2.4 1.5 3 1.5 3.4 1.5 4 1.5 4.3 1.5 4.8 1.5 5.1 1.5 5.5 1.5 5.8 1.5 6.1 1.5 6.3 1.5 6.5 1.5 6.7 1.5 6.8 1.5 7 1.5 7 1.5 7.1 1.5 7.1 1.5 7.1 1.5 7 1.5 7 1.5 6.8 1.5 6.7 1.5 6.5 1.5 6.3 1.5 6 1.5 5.7 1.5 5.5 1.5 5.1 1.5 4.7 1.5 4.3 1.5 3.9 1.5 3.3 1.5 2.9 1.5 2.4 1.5 1.7 1.5 1.2 1.5 0.5 1.5 -0.2 1.5 -0.7 1.5 -1.3 1.5 -1.9 1.5 -2.3 1.5 -2.9 1.5 -3.2 1.5 -3.7 1.5 -4.1 1.5 -4.4 1.5 -4.8 1.5 -5 1.5 -5.3 1.5 -5.5 1.5 -5.7 1.5 -5.9 1.5 -6 1.5 -6.1 1.5 -6.2 1.5 -6.2 1.5 -6.2 1.5 -6.2 1.5 -6.2 1.5 -6 1.5 -6 1.5 -5.7 1.5 -5.7 1.5 -5.4 1.5 -5.1 1.5 -4.9 1.5 -4.6 1.5 -4.2 1.5 -3.9 1.5 -3.5 1.5 -3 1.5 -2.6 1.5 -2.1 1.5 -1.5 1.5 -1.1 1.5 -0.4 1.5 0.2 1.5 1 1.5 1.5 1.5 2.2 1.5 2.8 1.5 3.3 1.5 3.9 1.5 4.2 1.5 4.7 1.5 5.1 1.5 5.4 1.5 5.7 1.5 6 1.5 6.2 1.5 6.4 1.5 6.4 1.5 6.6 1.5 6.7 1.5 6.6 1.5 6.7 1.5 6.5 1.5 6.5 1.5 6.3 1.5 6.1 1.5 5.9 1.5 5.6 1.5 5.3 1.5 5 1.5 4.5 1.5 4.2 1.5 3.6 1.5 3.2 1.5 2.6 1.5 2 1.5 1.3 1.5 0.7 1.5 0 1.5 -0.8 1.5 -1.5 1.5 -2.2 1.5 -2.7 1.5 -3.4 1.5 -3.9 1.5 -4.4 1.5 -4.9 1.5 -5.2 1.5 -5.6 1.5 -6 1.5 -6.1 1.5 -6.5 1.5 -6.6 1.5 -6.7 1.5 -6.8 1.5 -6.9 1.5 -6.8 1.5 -6.9 1.5 -6.7 1.5 -6.6 1.5 -6.4 1.5 -6.2 1.5 -6 1.5 -5.6 1.5 -5.3 1.5 -4.9 1.5 -4.4 1.5 -3.9 1.5 -3.4 1.5 -2.9 1.5 -2.2 1.5 -1.5 1.5 -0.9 1.5 0 1.5 0.6 1.5 1.5 1.5 2 1.5 2.7 1.5 3.3 1.5 3.9 1.5 4.3 1.5 4.8 1.5 5.2 1.5 5.6 1.5 5.9 1.5 6.1 1.5 6.4 1.5 6.6 1.5 6.7 1.5 6.8 1.5 6.9 1.5 6.8 1.5 6.9 1.5 6.7 1.5 6.6 1.5 6.5 1.5 6.2 1.5 6 1.5 5.7 1.5 5.3 1.5 4.9 1.5 4.5 1.5 4 1.5 3.5 1.5 2.9 1.5 2.3 1.5 1.7 1.5 0.9 1.5 0.2 1.5 -0.7 1.5 -1.5 1.5 -2.3 1.5 -3 1.5 -3.7 1.5 -4.3 1.5 -4.9 1.5 -5.3 1.5 -5.8 1.5 -6.2 1.5 -6.5 1.5 -6.8 1.5 -7 1.5 -7.2 1.5 -7.3 1.5 -7.3 1.5 -7.3 1.5 -7.3 1.5 -7.1 1.5 -7 1.5 -6.7 1.5 -6.4 1.5 -6.1 1.5 -5.7 1.5 -5.3 1.5 -4.7 1.5 -4.1 1.5 -3.6 1.5 -2.8 1.5 -2.1 1.5 -1.3 1.5 -0.5 1.5 0.4 1.5 1 1.5 1.8 1.5 2.3 1.5 3 1.5 3.5 1.5 3.9 1.5 4.5 1.5 4.8 1.5 5.3 1.5 5.5 1.5 5.9 1.5 6.1 1.5 6.3 1.5 6.4 1.5 6.6 1.5 6.7 1.5 6.6 1.5 6.7 1.5 6.6 1.5 6.5 1.5 6.4 1.5 6.2 1.5 6 1.5 5.7 1.5 5.4 1.5 5.1 1.5 4.6 1.5 4.3 1.5 3.7 1.5 3.2 1.5 2.7 1.5 2.1 1.5 1.4 1.5 0.7 1.5 0 1.5 -0.7 1.5 -1.5 1.5 -2 1.5 -2.7 1.5 -3.3 1.5 -3.7 1.5 -4.3 1.5 -4.6 1.5 -5.1 1.5 -5.4 1.5 -5.7 1.5 -6 1.5 -6.2 1.5 -6.4 1.5 -6.5 1.5 -6.6 1.5 -6.7 1.5 -6.7 1.5 -6.6 1.5 -6.6 1.5 -6.5 1.5 -6.3 1.5 -6 1.5 -5.9 1.5 -5.5 1.5 -5.3 1.5 -4.8 1.5 -4.5 1.5 -3.9 1.5 -3.5 1.5 -2.9 1.5 -2.4 1.5 -1.7 1.5 -1.1 1.5 -0.3 1.5 0.4 1.5 1.1 1.5 1.8 1.5 2.4 1.5 3 1.5 3.5 1.5 4 1.5 4.5 1.5 4.9 1.5 5.2 1.5 5.6 1.5 5.9 1.5 6.1 1.5 6.3 1.5 6.5 1.5 6.5 1.5 6.7 1.5 6.7 1.5 6.6 1.5 6.7 1.5 6.5 1.5 6.3 1.5 6.2 1.5 6 1.5 5.7 1.5 5.4 1.5 5 1.5 4.6 1.5 4.2 1.5 3.8 1.5 3.1 1.5 2.7 1.5 2 1.5 1.4 1.5 0.6 1.5 0 1.5 -0.8 1.5 -1.5 1.5 -2.1 1.5 -2.7 1.5 -3.3 1.5 -3.8 1.5 -4.3 1.5 -4.7 1.5 -5 1.5 -5.5 1.5 -5.7 1.5 -6 1.5 -6.2 1.5 -6.4 1.5 -6.6 1.5 -6.6 1.5 -6.7 1.5 -6.6 1.5 -6.7 1.5 -6.5 1.5 -6.5 1.5 -6.3 1.5 -6 1.5 -5.9 1.5 -5.5 1.5 -5.2 1.5 -4.8 1.5 -4.4 1.5 -4 1.5 -3.4 1.5 -2.9 1.5 -2.3 1.5 -1.7 1.5 -1 1.5 -0.3 1.5 0.5 1.5 1.1 1.5 1.8 1.5 2.5 1.5 3 1.5 3.6 1.5 4 1.5 4.5 1.5 4.9 1.5 5.3 1.5 5.6 1.5 5.9 1.5 6.1 1.5 6.3 1.5 6.5 1.5 6.6 1.5 6.6 1.5 6.7 1.5 6.7 1.5 6.6 1.5 6.5 1.5 6.4 1.5 6.1 1.5 6 1.5 5.7 1.5 5.3 1.5 5 1.5 4.6 1.5 4.2 1.5 3.7 1.5 3.1 1.5 2.6 1.5 2 1.5 1.3 1.5 0.7 1.5 -0.2 1.5 -0.8 1.5 -1.5 1.5 -2.2 1.5 -2.7 1.5 -3.3 1.5 -3.9 1.5 -4.3 1.5 -4.7 1.5 -5.1 1.5 -5.5 1.5 -5.7 1.5 -6 1.5 -6.3 1.5 -6.4 1.5 -6.5 1.5 -6.6 1.5 -6.7 1.5 -6.7 1.5 -6.6 1.5 -6.6 1.5 -6.4 1.5 -6.3 1.5 -6 1.5 -5.8 1.5 -5.6 1.5 -5.1 1.5 -4.8 1.5 -4.4 1.5 -3.9 1.5 -3.4 1.5 -2.9 1.5 -2.3 1.5 -1.6 1.5 -0.9 1.5 -0.3 1.5 0.5 1.5 1.2 1.5 1.9 1.5 2.5 1.5 3 1.5 3.6 1.5 4.1 1.5 4.5 1.5 5 1.5 5.3 1.5 5.6 1.5 5.9 1.5 6.1 1.5 6.4 1.5 6.4 1.5 6.6 1.5 6.7 1.5 6.7 1.5 6.6 1.5 6.6 1.5 6.5 1.5 6.4 1.5 6.1 1.5 6 1.5 5.6 1.5 5.4 1.5 4.9 1.5 4.6 1.5 4.2 1.5 3.6 1.5 3.1 1.5 2.6 1.5 1.9 1.5 1.3 1.5 0.6 1.5 -0.2 1.5 -0.9 1.5 -1.5 1.5 -2.2 1.5 -2.8 1.5 -3.4 1.5 -3.8 1.5 -4.4 1.5 -4.7 1.5 -5.1 1.5 -5.5 1.5 -5.8 1.5 -6 1.5 -6.3 1.5 -6.4 1.5 -6.5 1.5 -6.7 1.5 -6.7 1.5 -6.6 1.5 -6.7 1.5 -6.5 1.5 -6.4 1.5 -6.3 1.5 -6 1.5 -5.8 1.5 -5.5 1.5 -5.2 1.5 -4.7 1.5 -4.4 1.5 -3.9 1.5 -3.3 1.5 -2.9 1.5 -2.2 1.5 -1.6 1.5 -0.9 1.5 -0.2 1.5 0.6 1.5 1.2 1.5 1.9 1.5 2.5 1.5 3.1 1.5 3.7 1.5 4.1 1.5 4.5 1.5 5 1.5 5.3 1.5 5.7 1.5 5.9 1.5 6.1 1.5 6.4 1.5 6.5 1.5 6.6 1.5 6.6 1.5 6.7 1.5 6.7 1.5 6.6 1.5 6.5 1.5 6.3 1.5 6.1 1.5 6 1.5 5.6 1.5 5.3 1.5 5 1.5 4.5 1.5 4.1 1.5 3.6 1.5 3.1 1.5 2.5 1.5 1.9 1.5 1.3 1.5 0.5 1.5 -0.2 1.5 -1 1.5 -1.6 1.5 -2.2 1.5 -2.8 1.5 -3.4 1.5 -3.9 1.5 -4.4 1.5 -4.7 1.5 -5.2 1.5 -5.5 1.5 -5.8 1.5 -6 1.5 -6.3 1.5 -6.4 1.5 -6.6 1.5 -6.6 1.5 -6.7 1.5 -6.7 1.5 -6.6 1.5 -6.5 1.5 -6.5 1.5 -6.2 1.5 -6 1.5 -5.8 1.5 -5.5 1.5 -5.1 1.5 -4.7 1.5 -4.4 1.5 -3.8 1.5 -3.3 1.5 -2.8 1.5 -2.2 1.5 -1.6 1.5 -0.8 1.5 -0.2 1.5 0.6 1.5 1.3 1.5 2 1.5 2.5 1.5 3.2 1.5 3.6 1.5 4.2 1.5 4.6 1.5 5 1.5 5.3 1.5 5.7 1.5 5.9 1.5 6.2 1.5 6.3 1.5 6.5 1.5 6.6 1.5 6.7 1.5 6.7 1.5 6.6 1.5 6.6 1.5 6.5 1.5 6.3 1.5 6.1 1.5 5.9 1.5 5.7 1.5 5.2 1.5 5 1.5 4.5 1.5 4.1 1.5 3.6 1.5 3 1.5 2.5 1.5 1.8 1.5 1.2 1.5 0.5 1.5 -0.3 1.5 -0.9 1.5 -1.7 1.5 -2.3 1.5 -2.8 1.5 -3.5 1.5 -3.9 1.5 -4.4 1.5 -4.8 1.5 -5.2 1.5 -5.5 1.5 -5.8 1.5 -6.1 1.5 -6.2 1.5 -6.5 1.5 -6.5 1.5 -6.7 1.5 -6.6 1.5 -6.7 1.5 -6.6 1.5 -6.6 1.5 -6.4 1.5 -6.2 1.5 -6 1.5 -5.8 1.5 -5.4 1.5 -5.1 1.5 -4.7 1.5 -4.3 1.5 -3.8 1.5 -3.3 1.5 -2.8 1.5 -2.1 1.5 -1.5 1.5 -0.9 1.5 0 1.5 0.6 1.5 1.3 1.5 2 1.5 2.6 1.5 3.2" fill="none" stroke="#3cb371" stroke-width="7.00" stroke-linejoin="round" stroke-linecap="round"/>
</g></g>
<line x1="449.4" y1="1081.4" x2="449.4" y2="1594.5" stroke="#000" stroke-width="4" stroke-dasharray="8.5 4.2"/>
<line x1="719.0" y1="1081.4" x2="719.0" y2="1594.5" stroke="#000" stroke-width="4" stroke-dasharray="8.5 4.2"/>
<line x1="984.0" y1="1081.4" x2="984.0" y2="1594.5" stroke="#000" stroke-width="4" stroke-dasharray="8.5 4.2"/>
<line x1="1252.4" y1="1081.4" x2="1252.4" y2="1594.5" stroke="#000" stroke-width="4" stroke-dasharray="8.5 4.2"/>
<line x1="1517.5" y1="1081.4" x2="1517.5" y2="1594.5" stroke="#000" stroke-width="4" stroke-dasharray="8.5 4.2"/>
<line x1="1785.7" y1="1081.4" x2="1785.7" y2="1594.5" stroke="#000" stroke-width="4" stroke-dasharray="8.5 4.2"/>
<line x1="2049.5" y1="1081.4" x2="2049.5" y2="1594.5" stroke="#000" stroke-width="4" stroke-dasharray="8.5 4.2"/>
<line x1="189.8" y1="1339.3" x2="209" y2="1339.3" stroke="#000" stroke-width="3"/>
<rect x="189.8" y="1081.4" width="2117.7" height="513.1" rx="4" fill="none" stroke="#000" stroke-width="8"/>
<line x1="377.3" y1="107.9" x2="610.2" y2="107.9" stroke="#0000ff" stroke-width="17" stroke-linecap="round"/>
<line x1="756.1" y1="113.3" x2="989.8" y2="113.3" stroke="#ff0000" stroke-width="17" stroke-linecap="round"/>
<line x1="1134.9" y1="115.7" x2="1368.1" y2="115.7" stroke="#00b050" stroke-width="17" stroke-linecap="round"/>
<text transform="translate(638.62,122.30) scale(1.1172,1)" font-size="86.02" fill="#000"><tspan font-style="italic">I</tspan></text>
<text transform="translate(665.25,117.93) scale(1.2346,1)" font-size="47.29" fill="#000"><tspan font-style="italic">a</tspan></text>
<text transform="translate(1016.92,128.40) scale(1.1172,1)" font-size="86.02" fill="#000"><tspan font-style="italic">I</tspan></text>
<text transform="translate(1044.93,121.79) scale(0.9502,1)" font-size="50.76" fill="#000"><tspan font-style="italic">b</tspan></text>
<text transform="translate(1396.92,132.30) scale(1.1172,1)" font-size="86.02" fill="#000"><tspan font-style="italic">I</tspan></text>
<text transform="translate(1426.32,125.75) scale(1.2338,1)" font-size="45.42" fill="#000"><tspan font-style="italic">c</tspan></text>
<rect x="1905.1" y="414.7" width="368.1" height="85.7" fill="#fff" stroke="#777" stroke-width="2.8"/>
<text transform="translate(1939.65,476.03) scale(1.0012,1)" font-size="57.30" fill="#000">Uncontrolled</text>
<rect x="1906.2" y="947.8" width="366.8" height="85.2" fill="#fff" stroke="#333" stroke-width="2.8"/>
<text transform="translate(1951.09,1009.73) scale(1.0030,1)" font-size="56.87" fill="#000">PIR  control</text>
<rect x="1893.2" y="1475.6" width="379.8" height="85.6" fill="#fff" stroke="#333" stroke-width="2.8"/>
<text transform="translate(1921.58,1535.74) scale(1.0166,1)" font-size="56.30" fill="#000">PI-DR control</text>
<text transform="translate(131.99,60.30) scale(1.0214,1)" font-size="49.51" fill="#000">40</text>
<text transform="translate(130.23,194.50) scale(1.0427,1)" font-size="50.25" fill="#000">20</text>
<text transform="translate(141.55,303.50) scale(1.1281,1)" font-size="49.66" fill="#000">0</text>
<text transform="translate(114.09,400.99) scale(1.0213,1)" font-size="51.13" fill="#000">-20</text>
<text transform="translate(110.62,536.20) scale(1.0852,1)" font-size="49.80" fill="#000">-40</text>
<text transform="translate(125.63,587.53) scale(1.1275,1)" font-size="47.29" fill="#000">40</text>
<text transform="translate(122.38,719.53) scale(1.1331,1)" font-size="47.29" fill="#000">20</text>
<text transform="translate(141.55,822.55) scale(1.2457,1)" font-size="44.78" fill="#000">0</text>
<text transform="translate(116.11,930.23) scale(1.0875,1)" font-size="47.29" fill="#000">-20</text>
<text transform="translate(110.27,1057.99) scale(1.0216,1)" font-size="51.43" fill="#000">-40</text>
<text transform="translate(127.96,1121.05) scale(1.1501,1)" font-size="45.07" fill="#000">40</text>
<text transform="translate(130.13,1253.15) scale(1.2090,1)" font-size="45.22" fill="#000">20</text>
<text transform="translate(132.79,1359.23) scale(1.2192,1)" font-size="47.29" fill="#000">0</text>
<text transform="translate(116.11,1459.55) scale(1.1373,1)" font-size="45.22" fill="#000">-20</text>
<text transform="translate(117.84,1591.62) scale(1.3880,1)" font-size="38.42" fill="#000">-40</text>
<text transform="translate(166.09,1643.75) scale(1.0601,1)" font-size="49.12" fill="#000">0.2</text>
<text transform="translate(406.11,1644.33) scale(1.0303,1)" font-size="50.00" fill="#000">0.25</text>
<text transform="translate(689.88,1644.33) scale(1.0483,1)" font-size="50.00" fill="#000">0.3</text>
<text transform="translate(937.29,1644.33) scale(1.0422,1)" font-size="50.00" fill="#000">0.35</text>
<text transform="translate(1222.03,1645.12) scale(0.9961,1)" font-size="51.18" fill="#000">0.4</text>
<text transform="translate(1461.29,1642.31) scale(1.0125,1)" font-size="51.47" fill="#000">0.45</text>
<text transform="translate(1748.32,1642.31) scale(0.9968,1)" font-size="51.47" fill="#000">0.5</text>
<text transform="translate(2010.83,1644.33) scale(1.0195,1)" font-size="50.00" fill="#000">0.55</text>
<text transform="translate(2268.41,1642.31) scale(1.0015,1)" font-size="51.47" fill="#000">0.6</text>
<text transform="translate(1014.94,1721.44) scale(1.0244,1)" font-size="79.52" fill="#000">Time(s)</text>
<text transform="translate(95.60,835.88) rotate(-90) scale(1.0739,1)" font-size="88.01" fill="#000"><tspan font-style="italic">I</tspan></text>
<text transform="translate(92.11,789.39) rotate(-90) scale(1.0452,1)" font-size="66.07" fill="#000"><tspan>(A)</tspan></text>
<text transform="translate(632.27,1838.00) scale(1.0326,1)" font-size="79.00" fill="#000"><tspan>(</tspan><tspan font-weight="bold">a</tspan><tspan>)</tspan></text>
<text transform="translate(748.76,1838.00) scale(1.0180,1)" font-size="79.00" fill="#000">The</text>
<text transform="translate(891.54,1838.00) scale(0.9959,1)" font-size="79.00" fill="#000">PV</text>
<text transform="translate(1010.40,1838.00) scale(1.0525,1)" font-size="79.00" fill="#000">grid-connected</text>
<text transform="translate(1529.59,1838.00) scale(1.0753,1)" font-size="79.00" fill="#000">current</text>
<clipPath id="cb"><rect x="177.5" y="1894.0" width="2154.5" height="697.7"/></clipPath>
<g clip-path="url(#cb)">
<path d="M176.5 2221.9 l2.5 -1 2.5 0.1 2.5 0 2.5 0.5 2.5 -0.2 2.5 -0.1 2.5 0.5 2.5 -0.3 2.5 0.1 2.5 -0.6 2.5 -0.1 2.5 -0.6 2.5 0.8 2.5 0.1 2.5 0.1 2.5 -0.8 2.5 -0.2 2.5 0.2 2.5 0.3 2.5 0.9 2.5 0.6 2.5 -1.5 2.5 -1.9 2.5 -0.7 2.5 1.4 2.5 1.3 2.5 0.2 2.5 1.5 2.5 -0.8 2.5 -0.4 2.5 0 2.5 1 2.5 0.7 2.5 -1.6 2.5 -1.3 2.5 -0.3 2.5 0.3 2.5 0.3 2.5 -0.5 2.5 -0.1 2.5 0.1 2.5 0.4 2.5 0.1 2.5 0.5 2.5 -0.2 2.5 0.3 2.5 0.5 2.5 0.5 2.5 -0.9 2.5 -0.1 2.5 -0.5 2.5 1 2.5 -1 2.5 0.8 2.5 -0.5 2.5 -0.1 2.5 -0.8 2.5 0.1 2.5 0.9 2.5 -0.5 2.5 -0.7 2.5 0 2.5 0.3 2.5 0.8 2.5 0.3 2.5 -0.7 2.5 0 2.5 0.3 2.5 0.8 2.5 -0.7 2.5 -0.3 2.5 0.4 2.5 1 2.5 -0.7 2.5 -1 2.5 -0.7 2.5 0 2.5 1.3 2.5 0.2 2.5 -0.7 2.5 -1.2 2.5 0.4 2.5 1.3 2.5 0.4 2.5 -0.6 2.5 -0.1 2.5 0.6 2.5 0.5 2.5 -0.1 2.5 -0.4 2.5 -0.7 2.5 0.5 2.5 -1.3 2.5 0.1 2.5 -0.7 2.5 0.5 2.5 0.3 2.5 -0.4 2.5 1.3 2.5 -0.3 2.5 0.8 2.5 0.2 2.5 0.3 2.5 -1 2.5 -1.6 2.5 0.8 2.5 0.4 2.5 0.5 2.5 -1 2.5 -0.1 2.5 0.9 2.5 -0.1 2.5 0.1 2.5 -0.9 2.5 0.2 2.5 -0.6 2.5 0.8 2.5 0.6 2.5 -0.3 2.5 -1.9 2.5 -0.6 2.5 2.4 2.5 0.9 2.5 -1.2 2.5 -1.2 2.5 0.1 2.5 0.4 2.5 -0.6 2.5 0.8 2.5 0.1 2.5 0.3 2.5 -0.4 2.5 -0.3 2.5 -0.4 2.5 -0.5 2.5 0.5 2.5 -0.5 2.5 -0.2 2.5 0.9 2.5 0.6 2.5 0.6 2.5 -0.6 2.5 -0.3 2.5 -0.1 2.5 -0.1 2.5 0.4 2.5 -0.6 2.5 0.2 2.5 -0.5 2.5 0 2.5 -1.1 2.5 0.1 2.5 1.6 2.5 -0.3 2.5 0.3 2.5 -2.2 2.5 0.6 2.5 0.4 2.5 1.1 2.5 -0.4 2.5 -0.4 2.5 0.5 2.5 0.7 2.5 1 2.5 -0.3 2.5 -0.8 2.5 -1.3 2.5 -0.2 2.5 0.3 2.5 0.1 2.5 0.1 2.5 -1.2 2.5 0.5 2.5 -0.5 2.5 0.3 2.5 -0.2 2.5 1.1 2.5 0.9 2.5 -0.3 2.5 -1.4 2.5 1.4 2.5 0.3 2.5 -0.1 2.5 -2.3 2.5 -0.5 2.5 -0.3 2.5 0.5 2.5 -0.4 2.5 1.7 2.5 0.4 2.5 -1.4 2.5 -0.8 2.5 -1.6 2.5 2.2 2.5 0.1 2.5 1.2 2.5 -1.4 2.5 1 2.5 0.8 2.5 -0.1 2.5 -0.9 2.5 -1.7 2.5 0.6 2.5 -1.1 2.5 1.5 2.5 -0.6 2.5 0.5 2.5 -0.9 2.5 0.1 2.5 0 2.5 -1.1 2.5 -0.9 2.5 -7.7 2.5 -16 2.5 -11.2 2.5 -3.2 2.5 -2.9 2.5 -2.6 2.5 -1.4 2.5 -1.7 2.5 -0.7 2.5 -1 2.5 1.1 2.5 1.7 2.5 3.8 2.5 3.1 2.5 3.7 2.5 2.7 2.5 2.9 2.5 0.8 2.5 -3.6 2.5 -4 2.5 -3.5 2.5 -1.1 2.5 0.4 2.5 -0.1 2.5 0.6 2.5 0 2.5 0.3 2.5 0 2.5 -2.4 2.5 -0.5 2.5 -2.2 2.5 -1.4 2.5 -1.6 2.5 0.3 2.5 3 2.5 2.7 2.5 4 2.5 3.7 2.5 2.5 2.5 1.4 2.5 -1.1 2.5 -1.9 2.5 -2.9 2.5 -2.3 2.5 -2.6 2.5 -3.1 2.5 -1.7 2.5 -1.7 2.5 0.9 2.5 2 2.5 2.8 2.5 2 2.5 -1.3 2.5 -2.2 2.5 -3.8 2.5 -1.1 2.5 0.6 2.5 0.8 2.5 4.4 2.5 1.8 2.5 3.4 2.5 0.6 2.5 1.6 2.5 -0.4 2.5 -2.1 2.5 -1.3 2.5 -1.1 2.5 -2.3 2.5 -1.5 2.5 -0.8 2.5 0.6 2.5 0.3 2.5 0.9 2.5 -0.3 2.5 0.8 2.5 0.8 2.5 2.3 2.5 1.2 2.5 2.2 2.5 0.8 2.5 1.4 2.5 0.3 2.5 1.5 2.5 1.7 2.5 0.9 2.5 -0.7 2.5 -2.2 2.5 -2 2.5 -2.4 2.5 -2.1 2.5 -1.7 2.5 0.5 2.5 0.3 2.5 1.7 2.5 1.4 2.5 1.4 2.5 2.2 2.5 0.7 2.5 1.4 2.5 0.7 2.5 2.2 2.5 1.4 2.5 2 2.5 1 2.5 3.9 2.5 2.3 2.5 2.7 2.5 0 2.5 0.3 2.5 -0.4 2.5 -1.8 2.5 -2.6 2.5 -2.3 2.5 -1.7 2.5 0 2.5 2 2.5 6.1 2.5 7.6 2.5 5.3 2.5 3.4 2.5 -1.1 2.5 -0.5 2.5 -0.9 2.5 -2.1 2.5 -0.8 2.5 -2.2 2.5 1.2 2.5 -1.4 2.5 -0.1 2.5 -0.7 2.5 0.9 2.5 0 2.5 -0.8 2.5 -0.8 2.5 0.4 2.5 0.6 2.5 -0.5 2.5 0.3 2.5 0.7 2.5 2 2.5 -0.3 2.5 0.9 2.5 -0.3 2.5 1.1 2.5 -0.5 2.5 0.9 2.5 -0.2 2.5 -0.9 2.5 -1.1 2.5 -1.2 2.5 0.6 2.5 0.2 2.5 -0.9 2.5 -0.3 2.5 0.3 2.5 2.5 2.5 -0.6 2.5 -0.1 2.5 0.3 2.5 0.9 2.5 0.1 2.5 0 2.5 1.6 2.5 0.4 2.5 -0.2 2.5 -0.9 2.5 0.8 2.5 -1 2.5 -0.3 2.5 -2.1 2.5 -0.8 2.5 -1.2 2.5 0.9 2.5 0.3 2.5 -0.4 2.5 0 2.5 0.5 2.5 1 2.5 0.2 2.5 0.1 2.5 -0.2 2.5 0.9 2.5 0.7 2.5 0.8 2.5 0.4 2.5 -1.1 2.5 -0.1 2.5 -1.3 2.5 1.4 2.5 -1.4 2.5 -0.1 2.5 -1.3 2.5 0.6 2.5 -0.1 2.5 -1.3 2.5 -1.6 2.5 -0.1 2.5 0.3 2.5 1.7 2.5 -0.5 2.5 2.1 2.5 1.4 2.5 0.9 2.5 0.4 2.5 -0.1 2.5 0.5 2.5 -0.5 2.5 -0.5 2.5 0 2.5 -0.5 2.5 -0.8 2.5 -0.5 2.5 -1.3 2.5 -0.1 2.5 -0.4 2.5 1.4 2.5 -0.1 2.5 1 2.5 -1.5 2.5 -1.8 2.5 -4 2.5 -2.7 2.5 -2.8 2.5 -4.3 2.5 -5.4 2.5 -1.3 2.5 0.3 2.5 1.4 2.5 1.3 2.5 1.1 2.5 -0.3 2.5 -0.8 2.5 0.1 2.5 1.5 2.5 3 2.5 2.3 2.5 1 2.5 0.3 2.5 1.1 2.5 1.7 2.5 2 2.5 2.2 2.5 3 2.5 0.9 2.5 1.4 2.5 0.5 2.5 0.6 2.5 0.6 2.5 -0.3 2.5 0.1 2.5 -0.4 2.5 -0.1 2.5 0.4 2.5 0 2.5 0.4 2.5 0.7 2.5 -0.1 2.5 0.2 2.5 -0.8 2.5 1 2.5 0.7 2.5 1.4 2.5 0.4 2.5 0.3 2.5 -0.2 2.5 0.1 2.5 0.2 2.5 1.3 2.5 0.7 2.5 1.5 2.5 -0.4 2.5 0.6 2.5 -0.5 2.5 0.1 2.5 -0.9 2.5 -1.3 2.5 0.3 2.5 1.3 2.5 1 2.5 0.1 2.5 -0.8 2.5 0.3 2.5 -1.2 2.5 0.4 2.5 -0.2 2.5 0.6 2.5 1.2 2.5 -0.8 2.5 0.3 2.5 -1.9 2.5 1.5 2.5 0.2 2.5 1.1 2.5 -0.2 2.5 0.7 2.5 -1.2 2.5 -0.7 2.5 0.9 2.5 0 2.5 -0.2 2.5 -1.1 2.5 1.3 2.5 0.6 2.5 0.6 2.5 -1.2 2.5 0.5 2.5 -0.2 2.5 -0.3 2.5 0.4 2.5 1 2.5 0.5 2.5 -0.9 2.5 -0.5 2.5 -0.5 2.5 -1.2 2.5 -1.6 2.5 0.5 2.5 0.8 2.5 1.2 2.5 0.5 2.5 -0.4 2.5 -0.1 2.5 1 2.5 1.4 2.5 0.3 2.5 -1.2 2.5 -0.1 2.5 -1.2 2.5 0.4 2.5 -0.6 2.5 1.2 2.5 -0.2 2.5 -0.6 2.5 -0.6 2.5 0.5 2.5 -0.1 2.5 -0.4 2.5 -1.2 2.5 -0.2 2.5 0.8 2.5 1.3 2.5 1.3 2.5 -0.4 2.5 -0.9 2.5 -0.3 2.5 -0.6 2.5 0.5 2.5 0.5 2.5 1 2.5 -0.9 2.5 -0.6 2.5 -0.7 2.5 1.4 2.5 0 2.5 -1 2.5 -0.8 2.5 0.9 2.5 1.6 2.5 0.2 2.5 -1.1 2.5 -1.6 2.5 -1.6 2.5 -0.8 2.5 1.1 2.5 1.2 2.5 1.1 2.5 -0.1 2.5 0.4 2.5 -0.6 2.5 -0.3 2.5 -0.1 2.5 -0.4 2.5 -1.2 2.5 -1.2 2.5 0.6 2.5 -0.2 2.5 0.4 2.5 -0.3 2.5 1 2.5 -0.7 2.5 -0.1 2.5 0.5 2.5 1.6 2.5 0.4 2.5 -0.6 2.5 -1.3 2.5 0.2 2.5 2 2.5 0.8 2.5 -0.3 2.5 0 2.5 -0.3 2.5 -0.4 2.5 -2 2.5 -0.3 2.5 1.5 2.5 -0.1 2.5 0.3 2.5 -2.2 2.5 0.9 2.5 0.5 2.5 0.7 2.5 0.3 2.5 -0.1 2.5 0.4 2.5 0.6 2.5 0 2.5 -0.5 2.5 -1.4 2.5 -1 2.5 0.4 2.5 0.2 2.5 2.1 2.5 0.8 2.5 0 2.5 -1.8 2.5 -0.1 2.5 -1 2.5 -0.1 2.5 -0.5 2.5 0.5 2.5 0 2.5 -0.8 2.5 0.9 2.5 0.4 2.5 0.4 2.5 -0.1 2.5 -0.1 2.5 0.4 2.5 -0.8 2.5 -0.9 2.5 -1.7 2.5 -0.6 2.5 0.5 2.5 1.7 2.5 1 2.5 0 2.5 -1.3 2.5 -0.4 2.5 0.1 2.5 0.2 2.5 -0.5 2.5 -0.1 2.5 0.9 2.5 -0.4 2.5 0.1 2.5 -1.9 2.5 1.4 2.5 -0.3 2.5 0 2.5 -0.1 2.5 1.5 2.5 1.3 2.5 0.6 2.5 -1.1 2.5 -1.4 2.5 -0.4 2.5 -0.3 2.5 0.4 2.5 0.2 2.5 0.4 2.5 0.5 2.5 0.1 2.5 -0.8 2.5 0.7 2.5 -1.1 2.5 0.8 2.5 -1 2.5 1.4 2.5 -0.2 2.5 1.5 2.5 -1.4 2.5 -0.4 2.5 -0.4 2.5 -1.2 2.5 -0.4 2.5 0.1 2.5 1.9 2.5 1.2 2.5 -0.8 2.5 0 2.5 -1 2.5 -0.7 2.5 -1.3 2.5 0.1 2.5 0.4 2.5 0.6 2.5 -1.8 2.5 -0.8 2.5 0 2.5 2.3 2.5 0.8 2.5 -0.3 2.5 -1.5 2.5 1.5 2.5 -0.1 2.5 2.3 2.5 -0.3 2.5 0.8 2.5 -1.4 2.5 -0.8 2.5 -0.9 2.5 0.5 2.5 -0.1 2.5 1 2.5 0.3 2.5 1.1 2.5 -0.6 2.5 0 2.5 -1.5 2.5 -0.3 2.5 -1 2.5 -0.2 2.5 1.1 2.5 0.9 2.5 1.3 2.5 -0.6 2.5 -0.4 2.5 -1.1 2.5 -0.7 2.5 0.1 2.5 0.4 2.5 0 2.5 0.1 2.5 -1.2 2.5 0.5 2.5 -0.7 2.5 0.7 2.5 -0.6 2.5 0.9 2.5 0.7 2.5 1.3 2.5 -0.5 2.5 -1.2 2.5 -0.9 2.5 -0.8 2.5 1 2.5 0.9 2.5 0.9 2.5 -0.7 2.5 -0.9 2.5 -0.1 2.5 -0.6 2.5 0.3 2.5 0 2.5 0.5 2.5 -0.3 2.5 -0.1 2.5 -0.2 2.5 -0.2 2.5 0.3 2.5 0.6 2.5 1.5 2.5 -1.1 2.5 -1.2 2.5 -0.5 2.5 1.1 2.5 0.6 2.5 -1.4 2.5 -0.7 2.5 -0.6 2.5 0.7 2.5 -1.3 2.5 0.8 2.5 -1 2.5 1.1 2.5 1 2.5 1.1 2.5 0.6 2.5 -1.3 2.5 -0.4 2.5 -1.4 2.5 1 2.5 0.4 2.5 1.9 2.5 -1.4 2.5 -0.1 2.5 -1 2.5 1.6 2.5 1.2 2.5 -0.5 2.5 -1.5 2.5 -2.2 2.5 1.2 2.5 0.6 2.5 0.6 2.5 -0.9 2.5 -1.5 2.5 -0.6 2.5 0.5 2.5 1.8 2.5 1.1 2.5 -1.2 2.5 0.1 2.5 0.9 2.5 -0.1 2.5 -0.4 2.5 -1.4 2.5 1 2.5 -0.1 2.5 0.2 2.5 -0.8 2.5 0 2.5 -0.3 2.5 0.4 2.5 -0.1 2.5 0.8 2.5 -0.3 2.5 -0.2 2.5 0.2 2.5 0.2 2.5 0 2.5 -0.1 2.5 0.3 2.5 0.1 2.5 -0.4 2.5 -0.9 2.5 0.2 2.5 0.6 2.5 1.1 2.5 -1.2 2.5 -0.7 2.5 -0.9 2.5 0.8 2.5 -0.1 2.5 -0.2 2.5 0.9 2.5 -0.2 2.5 1.2 2.5 -0.4 2.5 0.8 2.5 0.2 2.5 -1.3 2.5 -0.8 2.5 -2 2.5 0.6 2.5 0.4 2.5 1.8 2.5 1 2.5 -0.7 2.5 -0.4 2.5 -0.7 2.5 0.9 2.5 0.8 2.5 -0.3 2.5 1.4 2.5 -0.9 2.5 -0.1 2.5 -1.9 2.5 0.4 2.5 0.6" fill="none" stroke="#5fd80f" stroke-width="5.00" stroke-linejoin="round" stroke-linecap="round"/>
<path d="M176.5 2213.7 l2.5 -1.1 2.5 1 2.5 0.6 2.5 0.9 2.5 -0.4 2.5 -0.4 2.5 -0.1 2.5 0.1 2.5 -0.3 2.5 0.1 2.5 -0.7 2.5 0.3 2.5 0.1 2.5 0.6 2.5 -0.5 2.5 0.1 2.5 -0.6 2.5 0.6 2.5 0.1 2.5 0.5 2.5 -0.2 2.5 -0.5 2.5 0.2 2.5 0.6 2.5 -0.2 2.5 -1 2.5 -1.5 2.5 1 2.5 0.8 2.5 1 2.5 0 2.5 0 2.5 -0.3 2.5 -0.4 2.5 0.3 2.5 -0.6 2.5 -0.1 2.5 -0.3 2.5 1.2 2.5 -0.1 2.5 -0.5 2.5 -1 2.5 0.7 2.5 0.3 2.5 0.8 2.5 -1.1 2.5 0.5 2.5 -0.1 2.5 0.2 2.5 -0.4 2.5 0 2.5 0.7 2.5 0.3 2.5 0.5 2.5 0 2.5 -0.5 2.5 -1.3 2.5 0.2 2.5 0 2.5 0.3 2.5 -0.4 2.5 0.4 2.5 -0.4 2.5 -0.6 2.5 -1.2 2.5 0.9 2.5 0.7 2.5 1.6 2.5 -0.5 2.5 -0.4 2.5 -0.4 2.5 0 2.5 -0.2 2.5 -0.6 2.5 0.7 2.5 0.7 2.5 0.5 2.5 -0.8 2.5 -0.4 2.5 0.1 2.5 0.1 2.5 0 2.5 -0.4 2.5 -0.4 2.5 0.4 2.5 0.5 2.5 0 2.5 0.5 2.5 -0.7 2.5 0.4 2.5 -0.9 2.5 0.1 2.5 0 2.5 0.2 2.5 -0.2 2.5 -0.3 2.5 -0.2 2.5 -0.4 2.5 0.2 2.5 0.5 2.5 1 2.5 0.4 2.5 0.8 2.5 -0.3 2.5 -0.4 2.5 -0.3 2.5 -0.5 2.5 0.5 2.5 -1.1 2.5 0.5 2.5 -1.2 2.5 0.8 2.5 -0.2 2.5 0.4 2.5 0.3 2.5 0.3 2.5 0.5 2.5 -1 2.5 -0.4 2.5 -0.1 2.5 0.6 2.5 0.3 2.5 -0.2 2.5 -0.5 2.5 -0.6 2.5 -0.2 2.5 -0.1 2.5 0.2 2.5 0.8 2.5 0.8 2.5 -0.3 2.5 -0.1 2.5 -0.7 2.5 1.2 2.5 -0.3 2.5 0.4 2.5 -1.3 2.5 -0.3 2.5 -0.1 2.5 0.2 2.5 0.4 2.5 -0.7 2.5 0.4 2.5 -0.5 2.5 1.3 2.5 -0.4 2.5 0.8 2.5 -1.3 2.5 0.3 2.5 -0.8 2.5 0.4 2.5 -0.2 2.5 0.2 2.5 0.3 2.5 0.3 2.5 0.3 2.5 -0.1 2.5 -0.9 2.5 -0.6 2.5 -0.1 2.5 -0.3 2.5 0.6 2.5 0 2.5 0.7 2.5 0.1 2.5 0.4 2.5 0.1 2.5 -0.8 2.5 -0.1 2.5 0 2.5 0 2.5 0.3 2.5 0 2.5 -0.4 2.5 -0.4 2.5 -0.8 2.5 1.3 2.5 0.2 2.5 0.1 2.5 -0.9 2.5 -0.3 2.5 0.4 2.5 0.9 2.5 0.3 2.5 -0.1 2.5 -0.4 2.5 -1.1 2.5 0.2 2.5 0.1 2.5 0.7 2.5 -0.4 2.5 -0.2 2.5 0.9 2.5 0.3 2.5 -0.7 2.5 -0.2 2.5 -0.9 2.5 0.6 2.5 -0.8 2.5 1.1 2.5 -0.6 2.5 0.8 2.5 -0.3 2.5 -0.4 2.5 -1.4 2.5 -0.2 2.5 1.2 2.5 0.8 2.5 0.1 2.5 -0.6 2.5 -0.4 2.5 -2 2.5 -11.9 2.5 -17.3 2.5 -8.2 2.5 0.1 2.5 -0.3 2.5 0.2 2.5 -0.4 2.5 0.3 2.5 -1.8 2.5 0.1 2.5 0.9 2.5 1.5 2.5 0.2 2.5 1.8 2.5 1.9 2.5 3.3 2.5 6.2 2.5 6.8 2.5 4.9 2.5 3.1 2.5 3.8 2.5 2.8 2.5 3.8 2.5 1.9 2.5 1.8 2.5 -1.1 2.5 -2.4 2.5 -4.2 2.5 -4.8 2.5 -6.8 2.5 -11.2 2.5 -9.8 2.5 -4.6 2.5 -2.1 2.5 -0.6 2.5 0.2 2.5 1.9 2.5 1.7 2.5 2 2.5 1.2 2.5 1.6 2.5 1.9 2.5 1.2 2.5 0.7 2.5 -0.7 2.5 0 2.5 0.3 2.5 1.3 2.5 0.7 2.5 1.5 2.5 -0.8 2.5 -1.3 2.5 -2.4 2.5 -1.8 2.5 -1.7 2.5 -1.2 2.5 -0.7 2.5 -1 2.5 -0.4 2.5 -0.6 2.5 -1 2.5 -0.6 2.5 -0.6 2.5 0.8 2.5 0 2.5 -0.2 2.5 -0.1 2.5 0.1 2.5 -0.5 2.5 -0.6 2.5 -0.6 2.5 0.1 2.5 -0.4 2.5 -0.4 2.5 0.8 2.5 0.4 2.5 1.4 2.5 -0.4 2.5 0.4 2.5 -1.1 2.5 0.3 2.5 -0.9 2.5 -0.8 2.5 -0.5 2.5 0.8 2.5 1.4 2.5 0.6 2.5 -0.1 2.5 -1 2.5 0.4 2.5 0.3 2.5 0.2 2.5 -0.7 2.5 -0.9 2.5 0.8 2.5 0.2 2.5 0.3 2.5 -0.4 2.5 0 2.5 -0.1 2.5 -1.4 2.5 -2.7 2.5 -2.1 2.5 0.4 2.5 1.2 2.5 -0.2 2.5 -0.2 2.5 -0.7 2.5 0.9 2.5 1.3 2.5 0.8 2.5 2 2.5 0.7 2.5 1.5 2.5 0.7 2.5 0.6 2.5 -0.8 2.5 -0.6 2.5 0.1 2.5 0.3 2.5 -0.2 2.5 -1.3 2.5 -0.5 2.5 -0.4 2.5 -0.5 2.5 -0.3 2.5 -1.3 2.5 -0.8 2.5 -1.3 2.5 1 2.5 1 2.5 2 2.5 0.6 2.5 1.7 2.5 0.9 2.5 0.4 2.5 0 2.5 0.1 2.5 -0.4 2.5 0.2 2.5 -0.3 2.5 0.6 2.5 -1.1 2.5 -0.8 2.5 -1.4 2.5 -0.3 2.5 -0.9 2.5 0.1 2.5 -0.3 2.5 0.4 2.5 0.7 2.5 0 2.5 0.7 2.5 -0.8 2.5 0.2 2.5 0 2.5 1.3 2.5 1.4 2.5 -0.4 2.5 0 2.5 -0.3 2.5 1 2.5 -0.4 2.5 -0.3 2.5 -1.5 2.5 -0.5 2.5 -0.9 2.5 0.3 2.5 -0.6 2.5 -0.3 2.5 -0.1 2.5 1.3 2.5 0.8 2.5 0.3 2.5 -0.4 2.5 0.9 2.5 0.6 2.5 1.3 2.5 0 2.5 -0.3 2.5 -0.9 2.5 -0.6 2.5 -0.3 2.5 0.4 2.5 0.3 2.5 -0.5 2.5 -0.4 2.5 -0.7 2.5 -0.3 2.5 -0.9 2.5 -0.3 2.5 0 2.5 -0.8 2.5 0.3 2.5 0.8 2.5 0.2 2.5 0.8 2.5 0.6 2.5 1.4 2.5 0.2 2.5 -0.1 2.5 0 2.5 -0.2 2.5 0.5 2.5 -0.6 2.5 -0.2 2.5 -1 2.5 -0.2 2.5 -0.8 2.5 -1.1 2.5 -0.4 2.5 0 2.5 0.6 2.5 0.2 2.5 1.7 2.5 0 2.5 0.7 2.5 -1.4 2.5 -1 2.5 -1.3 2.5 -2.1 2.5 -1.2 2.5 -1.5 2.5 -1.2 2.5 -1 2.5 -1.6 2.5 0.9 2.5 -1 2.5 0.1 2.5 -0.8 2.5 1.6 2.5 2.7 2.5 3.1 2.5 2.7 2.5 2.2 2.5 2.1 2.5 1.8 2.5 -0.5 2.5 -0.6 2.5 -1.7 2.5 -0.8 2.5 -1.4 2.5 -2.8 2.5 -3.7 2.5 -5.2 2.5 -5.8 2.5 -5.5 2.5 -4.3 2.5 -4.5 2.5 -4.6 2.5 -3.5 2.5 -0.2 2.5 1.8 2.5 3.3 2.5 3.5 2.5 8.1 2.5 10.4 2.5 16.6 2.5 4.6 2.5 4.5 2.5 1.5 2.5 2.1 2.5 0.3 2.5 -1.4 2.5 -2.3 2.5 -2.6 2.5 -1.4 2.5 -1.4 2.5 -1.3 2.5 -1.3 2.5 -1.6 2.5 -1.7 2.5 -1.5 2.5 -0.6 2.5 0.2 2.5 1.2 2.5 0.9 2.5 0.6 2.5 1 2.5 0.9 2.5 1.2 2.5 0.7 2.5 1.9 2.5 1 2.5 1.3 2.5 1.7 2.5 2.6 2.5 1.6 2.5 1 2.5 1.6 2.5 0.5 2.5 0.2 2.5 -1.5 2.5 -1.9 2.5 -2.3 2.5 -2.6 2.5 -1.8 2.5 -1.7 2.5 -0.5 2.5 -0.9 2.5 -0.6 2.5 -1.5 2.5 0.5 2.5 0.5 2.5 0.8 2.5 -0.4 2.5 0.1 2.5 1.3 2.5 1.8 2.5 1.5 2.5 2 2.5 1.7 2.5 1.7 2.5 0.7 2.5 0.8 2.5 1.5 2.5 1 2.5 0 2.5 0.7 2.5 0 2.5 0.9 2.5 -0.6 2.5 -0.8 2.5 -1 2.5 -1 2.5 -0.3 2.5 -1 2.5 -1.2 2.5 -0.9 2.5 -0.8 2.5 -0.4 2.5 -1 2.5 0.3 2.5 -0.2 2.5 0.6 2.5 -0.1 2.5 0.6 2.5 1 2.5 0.1 2.5 -0.7 2.5 -0.7 2.5 -0.4 2.5 0.8 2.5 -0.4 2.5 0 2.5 -0.4 2.5 0 2.5 -0.4 2.5 -0.1 2.5 0.3 2.5 1.2 2.5 0.2 2.5 -0.2 2.5 -0.2 2.5 0.3 2.5 0.8 2.5 0 2.5 -0.2 2.5 -0.1 2.5 0.4 2.5 -0.2 2.5 -0.5 2.5 -1.2 2.5 0.1 2.5 -0.3 2.5 0.7 2.5 0 2.5 0.5 2.5 0.2 2.5 0.5 2.5 0.4 2.5 0 2.5 -0.5 2.5 0.6 2.5 1 2.5 0.6 2.5 -0.1 2.5 -1 2.5 -0.2 2.5 -0.1 2.5 1.4 2.5 0.4 2.5 0 2.5 0.3 2.5 -0.2 2.5 0.8 2.5 -0.2 2.5 0.8 2.5 0 2.5 1 2.5 -0.2 2.5 0 2.5 -1 2.5 0.3 2.5 -0.2 2.5 0.9 2.5 0.6 2.5 0 2.5 -0.8 2.5 0.2 2.5 1.1 2.5 -0.1 2.5 -0.1 2.5 0.2 2.5 0.9 2.5 0.4 2.5 -0.7 2.5 0.7 2.5 0.1 2.5 1.7 2.5 0.6 2.5 0 2.5 -1.1 2.5 -0.6 2.5 0.2 2.5 0.5 2.5 -0.6 2.5 0.9 2.5 0.2 2.5 0 2.5 -0.7 2.5 -0.2 2.5 0.8 2.5 0.2 2.5 0.2 2.5 0.4 2.5 0 2.5 0.9 2.5 0.4 2.5 0.3 2.5 -0.4 2.5 -0.3 2.5 0.7 2.5 0.4 2.5 0.1 2.5 -0.2 2.5 0.3 2.5 0.3 2.5 -0.1 2.5 -0.2 2.5 -0.1 2.5 0.1 2.5 0.4 2.5 0.3 2.5 0.4 2.5 -0.2 2.5 -0.4 2.5 0.9 2.5 0.7 2.5 0 2.5 -0.9 2.5 0.5 2.5 1.2 2.5 0.5 2.5 -0.2 2.5 -1.1 2.5 0.1 2.5 -0.1 2.5 0 2.5 -0.2 2.5 0.1 2.5 1.3 2.5 0.2 2.5 -0.1 2.5 0.3 2.5 0.2 2.5 -0.6 2.5 -0.6 2.5 0.1 2.5 1.1 2.5 0.2 2.5 -0.1 2.5 0.5 2.5 -0.2 2.5 0.5 2.5 -0.6 2.5 0.5 2.5 0 2.5 0 2.5 -0.3 2.5 -0.7 2.5 -0.2 2.5 -0.1 2.5 0.6 2.5 0.1 2.5 -0.1 2.5 0.6 2.5 0.7 2.5 -0.7 2.5 -0.5 2.5 -0.9 2.5 -0.1 2.5 0.2 2.5 0.1 2.5 0.9 2.5 -0.4 2.5 0.7 2.5 0.7 2.5 0.5 2.5 -0.1 2.5 -0.5 2.5 -0.1 2.5 -0.5 2.5 0.1 2.5 -0.2 2.5 0.5 2.5 0.4 2.5 0.5 2.5 0.4 2.5 0.8 2.5 -0.9 2.5 -0.3 2.5 -1.1 2.5 1 2.5 0 2.5 0.8 2.5 0.8 2.5 1 2.5 0.6 2.5 0.5 2.5 0 2.5 1.1 2.5 0.7 2.5 0.9 2.5 0 2.5 -0.1 2.5 -0.5 2.5 0.2 2.5 -0.5 2.5 0.8 2.5 -0.4 2.5 1.2 2.5 0.5 2.5 -0.1 2.5 -0.9 2.5 -0.8 2.5 0.3 2.5 1 2.5 0.3 2.5 -0.9 2.5 -0.4 2.5 -0.4 2.5 0 2.5 -0.7 2.5 0.3 2.5 0.2 2.5 0.4 2.5 0.2 2.5 0.1 2.5 -1.5 2.5 -1.2 2.5 -0.2 2.5 0.9 2.5 1.5 2.5 -0.1 2.5 -0.1 2.5 -0.5 2.5 0.4 2.5 0 2.5 -0.3 2.5 -0.9 2.5 -0.3 2.5 0.3 2.5 -0.1 2.5 0.7 2.5 -0.3 2.5 0.9 2.5 0 2.5 -0.1 2.5 -1.2 2.5 -0.8 2.5 -0.5 2.5 1.2 2.5 -0.1 2.5 0 2.5 -0.6 2.5 1 2.5 -0.3 2.5 -0.5 2.5 -0.3 2.5 -0.3 2.5 0.7 2.5 -0.5 2.5 0.2 2.5 -0.3 2.5 -0.2 2.5 0.7 2.5 0.3 2.5 1 2.5 -0.1 2.5 -0.2 2.5 -0.8 2.5 -0.1 2.5 0.4 2.5 -0.6 2.5 0.3 2.5 -0.7 2.5 0.8 2.5 -0.1 2.5 0.5 2.5 0.1 2.5 -0.3 2.5 -0.3 2.5 -0.1 2.5 0.1 2.5 -0.1 2.5 0.4 2.5 0.1 2.5 0 2.5 -0.9 2.5 -0.1 2.5 -0.9 2.5 0.8 2.5 -0.3 2.5 1.3 2.5 0.9 2.5 0.2 2.5 0 2.5 -1.1 2.5 -0.1 2.5 -0.9 2.5 0.1 2.5 0.8 2.5 0.5 2.5 -0.9 2.5 -1 2.5 -0.2 2.5 1.1 2.5 0.6 2.5 0.2 2.5 -0.1 2.5 -0.2 2.5 -0.2 2.5 -0.5 2.5 -0.7 2.5 0.2 2.5 0.3 2.5 1.1 2.5 -0.7 2.5 -0.5 2.5 0 2.5 0.6 2.5 0.9 2.5 -0.8 2.5 0 2.5 -0.8 2.5 0.4 2.5 -0.2 2.5 0.4 2.5 0.4 2.5 0.4" fill="none" stroke="#ff4422" stroke-width="4.00" stroke-linejoin="round" stroke-linecap="round"/>
<path d="M176.5 2207.4 l2.5 -1.3 2.5 1.1 2.5 -0.3 2.5 -0.7 2.5 0.1 2.5 -0.3 2.5 2.7 2.5 0.3 2.5 0.2 2.5 -1.8 2.5 -0.5 2.5 -0.3 2.5 -0.1 2.5 0.6 2.5 0.5 2.5 0.7 2.5 -0.4 2.5 0.2 2.5 0.3 2.5 0.4 2.5 -0.3 2.5 -0.9 2.5 0.1 2.5 1.2 2.5 0 2.5 -0.4 2.5 -0.5 2.5 -0.3 2.5 0 2.5 -0.1 2.5 0.8 2.5 0.2 2.5 -0.1 2.5 -1.7 2.5 0.4 2.5 -0.8 2.5 0.6 2.5 -0.4 2.5 0.9 2.5 0.6 2.5 -0.6 2.5 -0.4 2.5 0.2 2.5 1.3 2.5 0.4 2.5 0.1 2.5 -0.1 2.5 -0.5 2.5 -0.6 2.5 -0.2 2.5 0.4 2.5 0.3 2.5 -0.7 2.5 -0.1 2.5 -1.2 2.5 0.8 2.5 0.1 2.5 0.5 2.5 -0.4 2.5 -0.7 2.5 1.2 2.5 -1 2.5 0 2.5 0 2.5 1.6 2.5 -0.6 2.5 -0.6 2.5 -0.5 2.5 0.9 2.5 1 2.5 -0.7 2.5 0.5 2.5 -1.4 2.5 1.3 2.5 -0.1 2.5 0.3 2.5 -1.6 2.5 0.9 2.5 0.6 2.5 1.3 2.5 -0.3 2.5 -0.2 2.5 -0.7 2.5 -1 2.5 -0.6 2.5 1 2.5 -0.3 2.5 0.1 2.5 -0.9 2.5 0.9 2.5 0.6 2.5 -0.5 2.5 -1 2.5 -0.3 2.5 1.3 2.5 1.3 2.5 0.1 2.5 -0.8 2.5 -0.2 2.5 -0.3 2.5 0.6 2.5 -0.5 2.5 0.2 2.5 -0.5 2.5 0.7 2.5 0 2.5 1.4 2.5 0.5 2.5 0.7 2.5 -2.4 2.5 -0.9 2.5 -1.1 2.5 1.3 2.5 -1 2.5 0.9 2.5 0.3 2.5 0.5 2.5 -1.1 2.5 -1 2.5 0.7 2.5 0.9 2.5 1.5 2.5 -0.2 2.5 0.1 2.5 -1 2.5 1 2.5 0 2.5 0.7 2.5 -1.5 2.5 -0.5 2.5 -1.1 2.5 1.3 2.5 0.5 2.5 0.2 2.5 -1 2.5 -0.1 2.5 -0.2 2.5 -0.2 2.5 0 2.5 1.6 2.5 0.4 2.5 -0.6 2.5 -1.8 2.5 -0.6 2.5 0.6 2.5 1 2.5 0.7 2.5 -0.1 2.5 -0.4 2.5 0.1 2.5 -1 2.5 -0.3 2.5 0 2.5 0.4 2.5 0 2.5 -0.5 2.5 0.2 2.5 0.7 2.5 0.2 2.5 0.1 2.5 0 2.5 0.6 2.5 0.9 2.5 -1.5 2.5 0.1 2.5 -1.1 2.5 1.2 2.5 -0.1 2.5 0.9 2.5 0.4 2.5 -0.3 2.5 0.2 2.5 -0.6 2.5 -0.2 2.5 -0.4 2.5 -0.1 2.5 1.1 2.5 0.2 2.5 1.4 2.5 -1.2 2.5 -0.7 2.5 -1 2.5 0.4 2.5 -0.1 2.5 0.1 2.5 -0.4 2.5 1.1 2.5 -0.5 2.5 0.5 2.5 -1.1 2.5 -0.2 2.5 -0.9 2.5 -0.3 2.5 0.6 2.5 0.9 2.5 0.7 2.5 0.2 2.5 0.4 2.5 0 2.5 -0.2 2.5 -1 2.5 -1 2.5 0.3 2.5 -0.7 2.5 1.1 2.5 -0.4 2.5 1.5 2.5 -0.4 2.5 -0.4 2.5 -0.4 2.5 -0.3 2.5 -0.7 2.5 -7.7 2.5 -14.7 2.5 -5.3 2.5 3.6 2.5 6.3 2.5 4.4 2.5 6.5 2.5 5 2.5 4.4 2.5 0.3 2.5 -2.2 2.5 -2.8 2.5 -3 2.5 -1.4 2.5 -1.9 2.5 -2.2 2.5 -2.1 2.5 -1.5 2.5 -0.3 2.5 0.6 2.5 -0.8 2.5 0.2 2.5 0.1 2.5 0 2.5 -0.7 2.5 -0.4 2.5 0.4 2.5 1.6 2.5 0.6 2.5 0.3 2.5 -0.8 2.5 0.4 2.5 2.4 2.5 1.4 2.5 1.3 2.5 0.3 2.5 1.1 2.5 1.8 2.5 -0.3 2.5 -0.1 2.5 -2.2 2.5 -0.7 2.5 -2.3 2.5 -0.3 2.5 -1 2.5 0.6 2.5 -1.4 2.5 -0.3 2.5 0.2 2.5 1 2.5 0.8 2.5 0.6 2.5 1.5 2.5 1.9 2.5 1.9 2.5 1 2.5 -0.2 2.5 -0.6 2.5 -0.5 2.5 -0.9 2.5 -1.7 2.5 -1.6 2.5 -0.3 2.5 -1 2.5 -1.2 2.5 -1.5 2.5 0.7 2.5 -0.6 2.5 1.1 2.5 1 2.5 1.7 2.5 1.8 2.5 0.9 2.5 1.3 2.5 0.2 2.5 -0.4 2.5 0.2 2.5 0.5 2.5 -0.5 2.5 0 2.5 -2.4 2.5 -0.5 2.5 -2.4 2.5 -2.2 2.5 -1.6 2.5 0 2.5 0.9 2.5 0.3 2.5 1.1 2.5 1.4 2.5 0.9 2.5 0.5 2.5 1.5 2.5 1.1 2.5 0.9 2.5 0.2 2.5 0.1 2.5 -1.3 2.5 -1.7 2.5 -0.4 2.5 0.7 2.5 0.5 2.5 -0.1 2.5 -1.1 2.5 -0.5 2.5 -1.1 2.5 -0.7 2.5 -1.5 2.5 -1.1 2.5 -0.6 2.5 -0.2 2.5 0.2 2.5 0.9 2.5 1.3 2.5 3 2.5 1.4 2.5 1 2.5 0 2.5 0.6 2.5 0.5 2.5 0.2 2.5 -1.1 2.5 -2.2 2.5 -1.3 2.5 -1.2 2.5 1.1 2.5 -1.6 2.5 -0.7 2.5 0.2 2.5 0.4 2.5 1.6 2.5 1 2.5 1.8 2.5 1 2.5 0.5 2.5 1.3 2.5 0.2 2.5 0.5 2.5 -0.2 2.5 1.2 2.5 -1 2.5 -1 2.5 -0.9 2.5 -0.3 2.5 0.3 2.5 -1 2.5 -0.1 2.5 -1.7 2.5 -1.1 2.5 -2.7 2.5 -0.5 2.5 0.7 2.5 1.2 2.5 0.7 2.5 -0.6 2.5 1.7 2.5 1.6 2.5 1.2 2.5 1.1 2.5 1 2.5 1.6 2.5 -0.3 2.5 0.7 2.5 -0.5 2.5 -0.4 2.5 -2.1 2.5 -1.5 2.5 -0.6 2.5 -1.1 2.5 -0.3 2.5 -1 2.5 0.4 2.5 -0.4 2.5 -0.2 2.5 -1.2 2.5 0.5 2.5 1.5 2.5 2.2 2.5 1.3 2.5 0.4 2.5 0.7 2.5 0 2.5 1.3 2.5 0.4 2.5 -0.1 2.5 -1.9 2.5 -1.1 2.5 0 2.5 -0.2 2.5 -1.5 2.5 -1.1 2.5 -0.4 2.5 0.3 2.5 -0.6 2.5 -0.1 2.5 0.1 2.5 0.7 2.5 0 2.5 1.6 2.5 0.9 2.5 2.6 2.5 -0.9 2.5 1.1 2.5 -0.1 2.5 1.1 2.5 -0.3 2.5 -0.6 2.5 -0.3 2.5 -1.6 2.5 -1.6 2.5 -0.9 2.5 -0.2 2.5 -0.8 2.5 -0.8 2.5 -0.3 2.5 1.1 2.5 0.2 2.5 -0.2 2.5 -0.9 2.5 -2.4 2.5 -10.6 2.5 -4.9 2.5 6.1 2.5 7.6 2.5 13.1 2.5 1.3 2.5 -2.6 2.5 -5.4 2.5 -1.8 2.5 0.6 2.5 1.8 2.5 1.6 2.5 0.5 2.5 0.7 2.5 0.1 2.5 -0.3 2.5 -0.3 2.5 -1.1 2.5 -1 2.5 -1.5 2.5 0.5 2.5 0.5 2.5 1 2.5 0 2.5 0.5 2.5 1 2.5 1 2.5 1.5 2.5 0.5 2.5 -0.2 2.5 -0.7 2.5 -0.8 2.5 0.8 2.5 0.9 2.5 -0.5 2.5 -1.3 2.5 -2.8 2.5 0 2.5 0.1 2.5 0.8 2.5 0.6 2.5 -0.4 2.5 1 2.5 0.1 2.5 0.7 2.5 1.1 2.5 1 2.5 0.3 2.5 -0.9 2.5 0 2.5 0.9 2.5 0.3 2.5 -0.4 2.5 0.1 2.5 0.7 2.5 0.7 2.5 0.3 2.5 1.1 2.5 0.4 2.5 0.3 2.5 -0.3 2.5 0.1 2.5 0.1 2.5 -1.1 2.5 -0.2 2.5 -0.2 2.5 1.6 2.5 -0.4 2.5 0.4 2.5 -0.6 2.5 0.9 2.5 -0.1 2.5 -0.3 2.5 -0.6 2.5 -0.3 2.5 0.3 2.5 -0.2 2.5 0.4 2.5 1 2.5 -0.2 2.5 -0.1 2.5 -1.1 2.5 0.6 2.5 -0.6 2.5 -0.3 2.5 -0.3 2.5 0.9 2.5 0.4 2.5 -0.3 2.5 -0.7 2.5 0.3 2.5 1.1 2.5 0.6 2.5 -0.1 2.5 -0.5 2.5 -0.7 2.5 -0.2 2.5 -0.4 2.5 0.7 2.5 0.2 2.5 -0.5 2.5 0.4 2.5 0.9 2.5 0.6 2.5 -0.4 2.5 -0.7 2.5 0.5 2.5 -0.9 2.5 0.7 2.5 -0.6 2.5 1.4 2.5 -0.8 2.5 0.1 2.5 -0.7 2.5 0.4 2.5 -0.2 2.5 -0.1 2.5 -0.7 2.5 -0.5 2.5 0.9 2.5 0.6 2.5 0.9 2.5 -0.1 2.5 -0.8 2.5 0 2.5 0.3 2.5 1.1 2.5 -1.1 2.5 -2.6 2.5 -1.1 2.5 1.7 2.5 1.5 2.5 0.5 2.5 -0.3 2.5 -0.2 2.5 0.3 2.5 0.1 2.5 0.7 2.5 0.1 2.5 -0.7 2.5 0 2.5 -0.4 2.5 1 2.5 1.1 2.5 -0.2 2.5 -1.8 2.5 -1.5 2.5 0.6 2.5 1.7 2.5 0.8 2.5 -0.6 2.5 -1 2.5 0.1 2.5 -0.1 2.5 1 2.5 -0.8 2.5 1 2.5 -0.2 2.5 0.5 2.5 0 2.5 -0.8 2.5 -0.3 2.5 -0.4 2.5 0.7 2.5 0.5 2.5 -0.1 2.5 -0.6 2.5 -1 2.5 0 2.5 0.8 2.5 -0.1 2.5 0.8 2.5 -0.2 2.5 0.3 2.5 -1.3 2.5 0 2.5 0.5 2.5 -0.3 2.5 0.5 2.5 0.5 2.5 1.1 2.5 -0.3 2.5 0.4 2.5 0.4 2.5 -0.7 2.5 -1.2 2.5 -0.7 2.5 0.4 2.5 -1.3 2.5 0.5 2.5 -0.2 2.5 1.3 2.5 -0.5 2.5 0.8 2.5 -0.2 2.5 -0.4 2.5 -0.1 2.5 0.9 2.5 0.2 2.5 0.4 2.5 -0.5 2.5 -0.2 2.5 0.1 2.5 -0.5 2.5 0.8 2.5 -1.1 2.5 0.7 2.5 -1.2 2.5 -0.1 2.5 0.3 2.5 0.7 2.5 0.5 2.5 -0.8 2.5 0.1 2.5 -0.7 2.5 -0.4 2.5 -0.3 2.5 0.3 2.5 0.2 2.5 0.1 2.5 0.3 2.5 0.3 2.5 0.9 2.5 0.6 2.5 0.7 2.5 -0.9 2.5 -0.7 2.5 -1.4 2.5 -0.2 2.5 -0.8 2.5 0.4 2.5 0.6 2.5 1.9 2.5 0.8 2.5 -0.8 2.5 -0.6 2.5 -0.9 2.5 0.9 2.5 -0.3 2.5 0.8 2.5 0.9 2.5 0.6 2.5 0.7 2.5 -1.2 2.5 -0.7 2.5 -0.5 2.5 0.8 2.5 -0.1 2.5 -0.7 2.5 -1.6 2.5 0.2 2.5 0.4 2.5 0.7 2.5 -0.2 2.5 -1.2 2.5 0.3 2.5 0.7 2.5 1 2.5 0 2.5 -1.1 2.5 0.6 2.5 -0.2 2.5 0.6 2.5 -0.5 2.5 -1.1 2.5 0 2.5 -0.4 2.5 1.3 2.5 0.7 2.5 0.3 2.5 -1.1 2.5 -0.9 2.5 -0.1 2.5 1 2.5 -0.5 2.5 -0.9 2.5 0.2 2.5 0.8 2.5 0.9 2.5 -1.2 2.5 0.7 2.5 -1.5 2.5 0.7 2.5 0.2 2.5 1.4 2.5 0.3 2.5 -1.7 2.5 0.8 2.5 -0.8 2.5 0.8 2.5 -0.7 2.5 0.2 2.5 0.3 2.5 -0.8 2.5 0.2 2.5 -0.5 2.5 0.5 2.5 0.6 2.5 0.5 2.5 0.1 2.5 -0.6 2.5 -0.7 2.5 0 2.5 0.7 2.5 0.1 2.5 0.4 2.5 -0.5 2.5 -0.3 2.5 0.2 2.5 -0.5 2.5 0.5 2.5 0.3 2.5 0 2.5 -0.1 2.5 -1.6 2.5 0.3 2.5 -0.7 2.5 0.6 2.5 0 2.5 0.8 2.5 1 2.5 0.4 2.5 0.3 2.5 -0.8 2.5 -0.3 2.5 -0.8 2.5 -0.9 2.5 0.1 2.5 1.3 2.5 1.2 2.5 -0.3 2.5 0 2.5 -0.5 2.5 -0.1 2.5 -1.5 2.5 -0.3 2.5 0.2 2.5 1.7 2.5 0.4 2.5 -0.5 2.5 -1.3 2.5 0 2.5 -0.4 2.5 0.4 2.5 0.4 2.5 1.1 2.5 0.2 2.5 -1 2.5 -1.1 2.5 0.3 2.5 1.3 2.5 0 2.5 -0.5 2.5 -0.6 2.5 1.1 2.5 -0.1 2.5 -0.2 2.5 -0.2 2.5 -0.1 2.5 0.2 2.5 -1 2.5 -1.7 2.5 -0.4 2.5 0.1 2.5 1.7 2.5 0.7 2.5 1 2.5 -0.3 2.5 -0.4 2.5 0.5 2.5 -0.2 2.5 0.4 2.5 -0.3 2.5 0.5 2.5 0.3 2.5 -0.8 2.5 0.3 2.5 -1.2 2.5 0 2.5 -1.1 2.5 0.7 2.5 -0.1 2.5 0.5 2.5 -0.8 2.5 1 2.5 0.9 2.5 0.7 2.5 0.3 2.5 -0.7 2.5 1 2.5 -0.8 2.5 -1.2 2.5 -0.3 2.5 -0.2 2.5 0.3 2.5 -1.1 2.5 -0.8 2.5 0.4 2.5 -0.2 2.5 1.5 2.5 0.5 2.5 -0.4 2.5 -1.5 2.5 -0.7 2.5 -0.2 2.5 0.7 2.5 0.3 2.5 0.6 2.5 -0.3 2.5 0.3 2.5 1.1 2.5 1 2.5 -0.3 2.5 -0.3 2.5 -1.1 2.5 0.1 2.5 -0.9 2.5 0.7 2.5 -0.9 2.5 0 2.5 -0.4 2.5 0.9 2.5 -0.3 2.5 -0.3 2.5 -0.2 2.5 0.8 2.5 -0.2 2.5 0 2.5 -0.3 2.5 1.2 2.5 0.2" fill="none" stroke="#1a10ff" stroke-width="5.50" stroke-linejoin="round" stroke-linecap="round"/>
</g>
<line x1="460.0" y1="1893.0" x2="460.0" y2="2592.7" stroke="#222" stroke-width="2.6" stroke-dasharray="5.5 3"/>
<line x1="715.0" y1="1893.0" x2="715.0" y2="2592.7" stroke="#222" stroke-width="2.6" stroke-dasharray="5.5 3"/>
<line x1="988.0" y1="1893.0" x2="988.0" y2="2592.7" stroke="#222" stroke-width="2.6" stroke-dasharray="5.5 3"/>
<line x1="1269.4" y1="1893.0" x2="1269.4" y2="2592.7" stroke="#222" stroke-width="2.6" stroke-dasharray="5.5 3"/>
<line x1="1521.0" y1="1893.0" x2="1521.0" y2="2592.7" stroke="#222" stroke-width="2.6" stroke-dasharray="5.5 3"/>
<line x1="1809.2" y1="1893.0" x2="1809.2" y2="2592.7" stroke="#222" stroke-width="2.6" stroke-dasharray="5.5 3"/>
<line x1="2079.0" y1="1893.0" x2="2079.0" y2="2592.7" stroke="#222" stroke-width="2.6" stroke-dasharray="5.5 3"/>
<rect x="176.5" y="1893.0" width="2156.5" height="699.7" fill="none" stroke="#555" stroke-width="3.3"/>
<rect x="1772.5" y="2371.8" width="535.2" height="195.7" fill="#fff" stroke="#222" stroke-width="2.8"/>
<line x1="1796.4" y1="2404.1" x2="1952.5" y2="2404.1" stroke="#ff0000" stroke-width="12.5" stroke-linecap="round"/>
<line x1="1796.4" y1="2457.6" x2="1952.5" y2="2457.6" stroke="#00b050" stroke-width="12.5" stroke-linecap="round"/>
<line x1="1796.4" y1="2523.2" x2="1952.5" y2="2523.2" stroke="#0a8cff" stroke-width="12.5" stroke-linecap="round"/>
<text transform="translate(1982.52,2420.06) scale(0.9901,1)" font-size="54.45" fill="#000">Uncontrolled</text>
<text transform="translate(1985.68,2476.17) scale(1.0075,1)" font-size="53.46" fill="#000">PIR  control</text>
<text transform="translate(1986.19,2538.56) scale(0.9892,1)" font-size="54.31" fill="#000">PI-DR control</text>
<text transform="translate(55.54,1918.67) scale(1.0817,1)" font-size="43.30" fill="#333">1000</text>
<text transform="translate(80.21,2073.67) scale(1.0619,1)" font-size="43.30" fill="#333">800</text>
<text transform="translate(82.70,2239.87) scale(1.0669,1)" font-size="43.30" fill="#333">600</text>
<text transform="translate(80.38,2413.07) scale(1.0593,1)" font-size="43.30" fill="#333">400</text>
<text transform="translate(80.49,2577.87) scale(1.0718,1)" font-size="43.30" fill="#333">200</text>
<text transform="translate(159.71,2649.91) scale(1.1077,1)" font-size="43.97" fill="#333">0.2</text>
<text transform="translate(417.83,2649.91) scale(1.0343,1)" font-size="43.97" fill="#333">0.25</text>
<text transform="translate(701.75,2649.91) scale(1.0253,1)" font-size="43.97" fill="#333">0.3</text>
<text transform="translate(958.02,2649.91) scale(1.0411,1)" font-size="43.97" fill="#333">0.35</text>
<text transform="translate(1239.76,2649.91) scale(1.0168,1)" font-size="43.97" fill="#333">0.4</text>
<text transform="translate(1495.80,2649.91) scale(1.0520,1)" font-size="43.97" fill="#333">0.45</text>
<text transform="translate(1779.77,2649.91) scale(1.0757,1)" font-size="43.97" fill="#333">0.5</text>
<text transform="translate(2037.81,2649.91) scale(1.0506,1)" font-size="43.97" fill="#333">0.55</text>
<text transform="translate(2315.81,2649.91) scale(1.1128,1)" font-size="43.97" fill="#333">0.6</text>
<text transform="translate(1058.69,2683.10) scale(1.0399,1)" font-size="52.50" fill="#222">Time(s)</text>
<text transform="translate(56.93,2298.87) rotate(-90) scale(1.0173,1)" font-size="56.53" fill="#000"><tspan font-style="italic">U</tspan></text>
<text transform="translate(51.99,2254.71) rotate(-90) scale(0.7679,1)" font-size="31.00" fill="#000"><tspan font-style="italic">dc</tspan></text>
<text transform="translate(54.93,2216.58) rotate(-90) scale(1.0384,1)" font-size="52.83" fill="#000"><tspan>(V)</tspan></text>
<text transform="translate(816.65,2803.00) scale(0.9778,1)" font-size="79.00" fill="#000"><tspan>(</tspan><tspan font-weight="bold">b</tspan><tspan>)</tspan></text>
<text transform="translate(931.15,2803.00) scale(1.0230,1)" font-size="79.00" fill="#000">The</text>
<text transform="translate(1074.82,2803.00) scale(1.0453,1)" font-size="79.00" fill="#000">DC</text>
<text transform="translate(1204.40,2803.00) scale(1.0943,1)" font-size="79.00" fill="#000">bus</text>
<text transform="translate(1344.30,2803.00) scale(1.0470,1)" font-size="79.00" fill="#000">voltage</text>
<clipPath id="cc"><rect x="157.9" y="2851.6" width="2164.5" height="539.7"/></clipPath>
<g clip-path="url(#cc)">
<path d="M156.9 3100.6 l2 0.6 2 -0.6 2 -0.6 2 -0.5 2 0.8 2 -0.6 2 0.3 2 0.1 2 1.3 2 0.1 2 0.1 2 -1.2 2 0.8 2 -0.9 2 1.1 2 -1 2 0.4 2 -0.7 2 -0.1 2 0.6 2 0.2 2 1 2 -0.8 2 0.2 2 -0.8 2 1.2 2 -0.7 2 0.4 2 -0.1 2 0.4 2 0.7 2 0.1 2 1.2 2 0.1 2 -0.3 2 -0.6 2 -0.3 2 0.9 2 0.8 2 -0.1 2 -0.4 2 -0.5 2 0 2 0.2 2 0.2 2 1.1 2 -0.1 2 -0.1 2 -0.6 2 -0.2 2 0 2 -0.2 2 0.7 2 -0.4 2 0.6 2 -0.5 2 0.6 2 -0.2 2 0.4 2 0.4 2 -0.3 2 -0.3 2 -0.3 2 -0.4 2 0.5 2 -0.5 2 -0.1 2 0.4 2 0.2 2 0.1 2 -0.1 2 -0.1 2 0.9 2 -1.1 2 0.1 2 -1.1 2 -0.5 2 -0.3 2 0.7 2 1.1 2 1.3 2 -0.3 2 0.1 2 -1.3 2 0.4 2 -1 2 -0.3 2 -0.3 2 0.1 2 0.6 2 0 2 1 2 0.1 2 0.3 2 0 2 0.1 2 0 2 -0.5 2 -0.3 2 0.5 2 0.3 2 0.2 2 -0.1 2 -0.5 2 0 2 -0.8 2 0.7 2 -0.1 2 0.6 2 -0.3 2 0 2 -0.2 2 0.2 2 0.1 2 -0.3 2 -0.3 2 -0.7 2 1 2 -0.2 2 0.7 2 0.2 2 1 2 0 2 -0.7 2 -0.4 2 0.6 2 -0.3 2 -0.3 2 -0.2 2 0.1 2 0.3 2 -0.2 2 -0.6 2 -0.7 2 -1.3 2 0.4 2 0.9 2 0.6 2 0.6 2 -0.1 2 0.4 2 -0.5 2 -0.4 2 -0.3 2 -0.1 2 0 2 0.5 2 0.5 2 -0.3 2 0.1 2 -0.6 2 0.2 2 -0.2 2 0.3 2 0 2 0 2 -0.2 2 -0.2 2 -0.2 2 0.6 2 0.2 2 0.9 2 -0.3 2 -1.2 2 -0.9 2 0.6 2 1.2 2 0 2 -1 2 0.5 2 0.6 2 0.6 2 -0.4 2 0.2 2 0.1 2 -0.7 2 -0.3 2 -0.2 2 0.4 2 0 2 0 2 -1.2 2 0.4 2 0.4 2 1.1 2 -0.8 2 -0.3 2 -0.5 2 0.3 2 -0.2 2 0.4 2 -0.5 2 -0.2 2 0.6 2 0.9 2 0.5 2 -0.4 2 -0.9 2 0.1 2 0.6 2 -0.3 2 0.2 2 -1.5 2 0.5 2 -0.3 2 0.3 2 -0.4 2 -0.1 2 0.9 2 0.4 2 0.5 2 -0.7 2 0.9 2 -0.5 2 0.4 2 -0.4 2 0.1 2 0.6 2 0.6 2 0.1 2 -0.8 2 -1.3 2 -0.5 2 0 2 0.5 2 0.2 2 0 2 0.3 2 -0.5 2 -0.4 2 0.2 2 0.9 2 0.2 2 0.1 2 -0.6 2 0.1 2 -1.3 2 0.6 2 0.1 2 1.2 2 -0.1 2 0.1 2 -0.4 2 0.2 2 -0.1 2 -0.1 2 -0.4 2 0.4 2 0.4 2 0.7 2 -0.3 2 0.1 2 -1 2 0.3 2 -0.5 2 1 2 0 2 -0.2 2 -0.5 2 -0.1 2 0.1 2 -0.4 2 -0.5 2 1.2 2 0.2 2 0.8 2 -1.6 2 -0.5 2 -0.4 2 0.4 2 0.7 2 -2 2 -1.3 2 -1.3 2 -1.6 2 -1.4 2 -2.6 2 -1.1 2 -1.9 2 0.6 2 0.4 2 0.6 2 0.5 2 0.6 2 0.7 2 0 2 1 2 1.1 2 1.4 2 2 2 1.1 2 1 2 -0.2 2 0.1 2 0.4 2 -0.1 2 1.6 2 0.5 2 1.3 2 0 2 1.4 2 1.8 2 0.8 2 0 2 -0.4 2 0 2 0 2 0.3 2 -0.1 2 0.6 2 -0.5 2 0.9 2 -0.7 2 0.5 2 -0.2 2 0.9 2 0 2 0.4 2 0.5 2 0.4 2 0.3 2 -0.2 2 0.3 2 0.3 2 -0.3 2 0.7 2 0 2 0.1 2 0.5 2 0.1 2 0.4 2 -0.7 2 0 2 0.3 2 0.6 2 0.8 2 -0.3 2 0 2 0.2 2 0.8 2 0.5 2 0.3 2 0.3 2 0.1 2 -0.5 2 0.6 2 0.4 2 -0.2 2 -0.4 2 -0.8 2 0.9 2 0.1 2 0.5 2 -0.5 2 -0.9 2 0.5 2 0.2 2 0.7 2 0.1 2 -0.2 2 0 2 -0.4 2 -0.2 2 1.3 2 0.3 2 0.5 2 -0.5 2 -1.1 2 0.2 2 -0.2 2 0.9 2 0.3 2 -0.8 2 0.3 2 0.1 2 -0.1 2 -0.7 2 -0.5 2 0.7 2 0.3 2 0.1 2 0 2 -0.4 2 -0.3 2 -0.7 2 -0.4 2 -1 2 0.9 2 0.6 2 1.7 2 -1.1 2 -0.2 2 -0.7 2 0.4 2 0.3 2 -0.2 2 -0.2 2 -1.2 2 -0.6 2 0.9 2 1.2 2 0.8 2 -1 2 -0.5 2 -0.9 2 0.3 2 0 2 0.5 2 0.5 2 -0.4 2 0.1 2 -1.3 2 0.8 2 -0.5 2 0.5 2 -0.5 2 0.8 2 0 2 -0.3 2 -1.1 2 0.1 2 -0.2 2 0.2 2 -0.1 2 0.6 2 -0.1 2 0.2 2 0.4 2 -0.3 2 0.2 2 0.1 2 0.4 2 -0.4 2 -1.4 2 0.3 2 -0.4 2 0.7 2 -0.6 2 -0.2 2 -0.3 2 0 2 0.1 2 0 2 -0.2 2 0.2 2 0.2 2 -0.5 2 0.1 2 -0.5 2 0.4 2 -0.6 2 -0.1 2 0.1 2 0.7 2 -0.2 2 0.7 2 -0.5 2 0.7 2 0 2 -0.2 2 0.1 2 0.5 2 0.3 2 -0.3 2 -0.9 2 0.2 2 -0.3 2 -0.2 2 0.2 2 0.4 2 0.2 2 0.3 2 0.1 2 0.2 2 -0.9 2 0.3 2 0.2 2 -0.6 2 -1.2 2 -0.8 2 1.3 2 0.9 2 0 2 -0.3 2 -0.2 2 -0.5 2 0.2 2 -0.5 2 0.6 2 -0.3 2 -0.4 2 -0.5 2 0 2 0.5 2 0.3 2 0.4 2 -0.3 2 -0.4 2 -0.6 2 0.1 2 0.4 2 0.5 2 0.3 2 0.4 2 -0.2 2 -0.3 2 -0.1 2 -0.3 2 0.1 2 -0.9 2 0.2 2 -0.3 2 0.5 2 0.7 2 1 2 0.3 2 -0.8 2 -0.7 2 -0.3 2 -0.3 2 -0.4 2 -0.2 2 0 2 0.5 2 -0.1 2 0 2 -0.3 2 -0.1 2 -0.3 2 -0.6 2 0.4 2 0.6 2 0.4 2 -0.4 2 -0.5 2 0.2 2 -0.4 2 0.2 2 -0.9 2 0.4 2 0 2 2.3 2 0.5 2 2 2 0.1 2 2.1 2 0.6 2 0.9 2 0.7 2 0.8 2 1.1 2 0.6 2 0.3 2 -0.5 2 -0.9 2 -0.2 2 -0.5 2 -1 2 -1.5 2 0 2 1.1 2 -0.2 2 -2 2 -1.3 2 -0.3 2 0.3 2 -0.7 2 -1.3 2 -0.4 2 -0.6 2 0.2 2 -0.3 2 0.5 2 -0.3 2 -0.3 2 -1.6 2 0.2 2 0 2 0.5 2 -1.6 2 -0.8 2 -0.2 2 1.6 2 0.2 2 0.1 2 -0.7 2 0 2 -0.9 2 -0.9 2 -1.3 2 0.2 2 -0.1 2 0.3 2 -0.5 2 0 2 -0.6 2 1 2 -0.4 2 1.1 2 -0.4 2 -0.5 2 -0.8 2 -0.7 2 -0.3 2 -0.4 2 -0.2 2 0.9 2 -0.5 2 0.1 2 0.1 2 0.4 2 -0.1 2 -0.2 2 -0.2 2 0.5 2 -0.9 2 1.1 2 0 2 1.3 2 -0.2 2 -0.4 2 0.8 2 -0.9 2 0.7 2 -0.8 2 0.9 2 -0.2 2 -0.7 2 -0.5 2 -1 2 0.4 2 -0.3 2 1.6 2 -0.1 2 0 2 -1 2 -0.3 2 0 2 0.5 2 -0.3 2 0.1 2 -0.8 2 0.4 2 0.1 2 0.1 2 -0.2 2 -0.1 2 0.8 2 0.5 2 -0.1 2 -0.7 2 -1.1 2 0.3 2 0.9 2 0.8 2 0.3 2 -0.8 2 -0.3 2 -0.1 2 -0.2 2 0.3 2 -0.5 2 0.5 2 0.4 2 -0.6 2 -0.2 2 -1.6 2 -0.1 2 -0.1 2 0.7 2 0.3 2 0.2 2 -0.1 2 -0.8 2 0 2 0.4 2 0.3 2 -0.4 2 0.5 2 0.9 2 0.8 2 -0.5 2 -0.3 2 -0.7 2 0 2 -0.2 2 0.1 2 -0.3 2 0.1 2 0.5 2 -0.4 2 1.1 2 -0.8 2 0.2 2 -0.6 2 0.1 2 -0.1 2 -0.3 2 -0.9 2 0 2 -0.4 2 1.1 2 0.4 2 0.7 2 0.7 2 0.3 2 0.2 2 -0.6 2 -0.2 2 -0.8 2 0 2 0.1 2 0.8 2 -0.6 2 -0.8 2 0.1 2 0.8 2 0.7 2 -1.1 2 -0.8 2 -0.5 2 0.3 2 0.5 2 0.1 2 0.5 2 0 2 0.2 2 0.2 2 0.1 2 -0.7 2 0.2 2 0 2 0.7 2 -0.4 2 -0.8 2 0.1 2 -0.4 2 0.2 2 0.3 2 0.1 2 0.6 2 -0.1 2 0.8 2 -0.9 2 -0.7 2 -0.3 2 0.4 2 -1 2 -0.2 2 0.4 2 1.6 2 0 2 -0.2 2 -0.3 2 -0.1 2 0 2 0 2 0.2 2 -0.2 2 0.3 2 0.2 2 0.7 2 -1.5 2 -0.3 2 -0.4 2 0.7 2 0.2 2 -0.6 2 0.9 2 0 2 0.4 2 0 2 0.1 2 0.3 2 -1.1 2 0 2 0.5 2 0.9 2 -0.7 2 0 2 0.2 2 0.9 2 -0.8 2 -1.2 2 -0.7 2 -0.1 2 0.7 2 0.6 2 -0.1 2 -0.7 2 -0.4 2 -0.3 2 1.2 2 -0.3 2 0.7 2 -0.2 2 0.1 2 0.2 2 -0.4 2 0.1 2 -0.8 2 0.1 2 0.7 2 -0.3 2 0.2 2 -0.5 2 0.4 2 -0.3 2 0.1 2 0.3 2 0.3 2 -0.3 2 0.8 2 0 2 0.2 2 -1.6 2 -0.4 2 0.1 2 1.1 2 0.3 2 0.9 2 -0.3 2 0 2 -0.9 2 -0.1 2 0.3 2 0.1 2 0.1 2 -0.8 2 0.2 2 0.3 2 0.1 2 -0.6 2 -0.1 2 -0.3 2 0.4 2 -0.1 2 0.4 2 -0.8 2 0.7 2 0.2 2 1.7 2 0.3 2 -0.7 2 -1 2 -0.9 2 0.7 2 0.1 2 -0.3 2 0.1 2 -0.2 2 0.2 2 0 2 0.3 2 0.2 2 -0.5 2 -0.5 2 -0.6 2 0 2 0.5 2 0.2 2 0.3 2 0.2 2 0.1 2 -0.4 2 -0.2 2 -0.2 2 -0.1 2 0.7 2 -0.7 2 0.4 2 -1.3 2 0.6 2 0.2 2 0.5 2 0.8 2 -0.7 2 0 2 -0.8 2 0.4 2 -0.1 2 0.1 2 0.1 2 0.5 2 0.2 2 0 2 -0.6 2 -0.3 2 -0.6 2 -0.3 2 0.3 2 -0.2 2 0.6 2 -0.1 2 0.3 2 -0.4 2 0.4 2 0.5 2 0.3 2 0.5 2 0.8 2 -0.6 2 -0.4 2 -1.2 2 0 2 -0.6 2 0.8 2 0.4 2 0 2 0.2 2 0.4 2 0.1 2 0.2 2 0 2 -0.2 2 -1.2 2 -0.3 2 0.3 2 0.9 2 0.5 2 0 2 -0.9 2 0.1 2 -0.1 2 0.1 2 -0.9 2 0.1 2 0.5 2 0.9 2 -0.6 2 0.6 2 -1.1 2 0.5 2 -0.2 2 1.1 2 -0.4 2 -0.2 2 0 2 0.7 2 -0.6 2 0.1 2 -0.9 2 0.4 2 -1.1 2 0.5 2 -0.2 2 0.6 2 -0.3 2 0.2 2 0.3 2 0.6 2 0.1 2 -0.4 2 -0.3 2 -0.4 2 -0.1 2 0.5 2 1 2 0.6 2 -0.4 2 -1 2 -1.1 2 -0.7 2 0.7 2 0.6 2 0.2 2 -0.6 2 0.8 2 1 2 0.2 2 -0.9 2 -0.5 2 -0.7 2 -0.4 2 0.4 2 0.4 2 0.6 2 0.6 2 0.4 2 0 2 -0.8 2 -0.8 2 0.6 2 0.4 2 1 2 -1 2 -1 2 0.1 2 -0.8 2 0.7 2 -0.8 2 1 2 0.4 2 0.5 2 -0.9 2 0 2 -1.1 2 1.2 2 -0.6 2 0.3 2 -0.5 2 -0.4 2 0.5 2 0.6 2 0.9 2 0 2 0 2 -0.1 2 0.9 2 -0.2 2 -0.5 2 -1 2 -0.5 2 0.1 2 0.1 2 0.6 2 0.4 2 0.1 2 -0.1 2 -0.6 2 -0.3 2 -1.2 2 0 2 0 2 2.1 2 -0.2 2 0.2 2 -1.2 2 -0.1 2 0.1 2 0.1 2 0.1 2 -1.1 2 0 2 0 2 1.2 2 -0.1 2 0.8 2 -0.4 2 0.8 2 0.1 2 0.7 2 -0.6 2 -0.7 2 -1.2 2 -0.2 2 0.5 2 0.3 2 1.3 2 -0.2 2 0.5 2 -1 2 -0.5 2 0.3 2 0.2 2 0.9 2 -0.8 2 -0.3 2 -0.4 2 0.9 2 -0.6 2 0.3 2 0.1 2 0.4 2 -0.7 2 0.1 2 0.2 2 0.8 2 -0.2 2 0.4 2 -0.6 2 -1.2 2 -0.1 2 -0.2 2 1.1 2 -0.5 2 1 2 -0.4 2 0.6 2 -0.2 2 0 2 -0.2 2 -0.4 2 -0.4" fill="none" stroke="#0000ff" stroke-width="6.00" stroke-linejoin="round" stroke-linecap="round"/>
<path d="M156.9 3081.6 l2 -0.1 2 0.3 2 0.1 2 0.2 2 -0.2 2 -0.1 2 -0.1 2 0.4 2 0.3 2 -0.4 2 -0.4 2 0.1 2 1 2 1.6 2 1.4 2 2.6 2 1.7 2 2.2 2 2.1 2 2 2 2.5 2 1.8 2 1.8 2 2.6 2 2.4 2 0 2 3.2 2 -1.1 2 0.5 2 -1.9 2 1.3 2 -0.4 2 -0.9 2 -1.7 2 0.7 2 -1.9 2 -1 2 2.9 2 -3.5 2 5.1 2 -1.5 2 -7.4 2 5.5 2 -3.9 2 2.5 2 -0.2" fill="none" stroke="#ff3300" stroke-width="7.00" stroke-linejoin="round" stroke-linecap="round"/>
<path d="M248.9 3103.7 l2 -5.3 2 4.6 2 -0.1 2 3.2 2 -5.6 2 5 2 -4.8 2 2 2 -1.4 2 6 2 -2.3 2 4.8 2 -4.6 2 0.5 2 0 2 -3.8 2 1.4 2 3.7 2 -4.6 2 1.5 2 -0.5 2 1.6 2 -2.5 2 0.5 2 1 2 -0.3 2 -2.5 2 4.5 2 -5.7 2 0.3 2 -0.3 2 5.9 2 -3.5 2 -1.6 2 -0.4 2 4 2 -3.8 2 -0.6 2 4.9 2 -4.7 2 2.3 2 0.8 2 -1.2 2 1 2 3.7 2 -4.9 2 -1.9 2 -1.5 2 4.2 2 -0.4 2 1.6 2 -1.9 2 0 2 -0.7 2 0.6 2 1.7 2 -1.4 2 1.2 2 4.7 2 -3.7 2 -5.3 2 8.6 2 -3.6 2 -3.4 2 4.8 2 -2.3 2 -1.7 2 0 2 -1 2 2.7 2 2.7 2 -3.7 2 2 2 3.7 2 -8 2 3.8 2 -1.4 2 -2 2 0.1 2 2.6 2 1.1 2 -2.5 2 1.5 2 1.8 2 -1.1 2 1.4 2 -1 2 0 2 3.5 2 -3.1 2 -1.3 2 1.5 2 -4.3 2 1.6 2 2.9 2 -0.4 2 2.3 2 -4 2 -3.8 2 8.8 2 -2.2 2 -5.6 2 6.3 2 -3.5 2 -4.8 2 3.7 2 -0.3 2 5.5 2 -6.2 2 1.4 2 -0.1 2 -0.3 2 -1.4 2 3 2 2.2 2 -1.2 2 -4 2 -0.6 2 3.3 2 -2.2 2 0.2 2 -2.7 2 9.4 2 -2.7 2 -4.9 2 4.9 2 1.1 2 -9.7 2 4.8 2 0.4 2 2.7 2 -2.1 2 -0.2 2 0.4 2 5 2 0.7 2 -6.9 2 -1.1 2 9.4 2 -9.5 2 1 2 1.6 2 1.1 2 1.5 2 -1.7 2 -3.3 2 3.6 2 -0.7 2 4.2 2 -4.9 2 -3.5 2 0.8 2 6.5 2 -5.2 2 -4.1 2 4 2 1.5 2 3.1 2 -5.8 2 4.4 2 0.3 2 -3.9 2 1.4 2 5 2 -0.1 2 -2.3 2 -1.3 2 2.1 2 -3.4 2 0.1 2 -2 2 2.3 2 -0.2 2 7.4 2 -7.7 2 3.8 2 0.1 2 -4 2 3.6 2 -8.7 2 5.9 2 1.9 2 -8.4 2 3.2 2 5.7 2 -3.4 2 -2.2 2 1.9 2 -0.5 2 3.3 2 -0.7 2 -1.9 2 -1 2 1.6 2 3.6 2 -2.6 2 0.8 2 -2.1 2 -3 2 1.5 2 3.6 2 -1.5 2 -2.6 2 -1.9 2 4.5 2 -1.1 2 -0.1 2 0.1 2 1.6 2 0 2 1.7 2 -0.1 2 1 2 -1.3 2 -3 2 0.7 2 1.4 2 -2.1 2 2.3 2 1.5 2 -5.1 2 -2.5 2 7.7 2 -3 2 1.9" fill="none" stroke="#ff3300" stroke-width="9.00" stroke-linejoin="round" stroke-linecap="round"/>
<path d="M698.9 3104 l2 -4.8 2 11.8 2 -2.1 2 -3.4 2 -0.9 2 1.9 2 -1.2 2 -0.4 2 -3.4 2 9.6 2 -5.3 2 0.5 2 0.1 2 -9.8 2 11.5 2 -3.4 2 0.1 2 1.5 2 -4.2 2 7.3 2 -6.2 2 -0.8 2 0.2 2 4 2 2.4 2 -5.4 2 -3.6 2 4.3 2 -9.5" fill="none" stroke="#ff3300" stroke-width="6.00" stroke-linejoin="round" stroke-linecap="round"/>
<path d="M756.9 3094.8 l2 0.7 2 -0.4 2 -0.3 2 0 2 0.2 2 0.1 2 -0.4 2 0.2 2 0.3 2 -0.8 2 -0.3 2 -0.1 2 -0.1 2 0.1 2 -0.1 2 -0.2 2 0.4 2 -1 2 0.3 2 1 2 -0.4 2 -0.2 2 -0.1 2 0.3 2 -0.5 2 -0.2 2 -0.5 2 0.3 2 -0.3 2 0 2 -0.1 2 0.1 2 -0.1 2 0.2 2 -0.7 2 0.3 2 0.5 2 -0.6 2 0.3 2 -0.1 2 -0.1 2 -0.2 2 -0.7 2 0.2 2 -0.1 2 -0.4 2 0.3 2 -0.4 2 -0.2 2 0.5 2 -0.1 2 -0.3 2 -0.1 2 0 2 0 2 -0.1 2 0 2 -0.2 2 0.2 2 0 2 -0.2 2 -0.3 2 -0.1 2 0.2 2 -0.2 2 -0.1 2 -0.8 2 -0.1 2 0.8 2 0 2 0.2 2 -0.3 2 -0.2 2 -0.1 2 -0.6 2 0.7 2 -0.6 2 0.3 2 -0.2 2 0 2 0.1 2 -0.5 2 -0.1 2 -0.2 2 0.1 2 0.5 2 -0.6 2 0.3 2 -0.1 2 -0.1 2 -0.1 2 -0.6 2 0.3 2 0.3 2 -0.8 2 0.2 2 -0.3 2 0.2 2 -0.5 2 0.8 2 -0.7 2 -0.4 2 0.9 2 -0.3 2 -0.2 2 -0.1 2 -0.4 2 0 2 0.2 2 0 2 -0.1 2 -0.3 2 -0.3 2 0.1 2 0.3 2 0 2 -0.6 2 -0.1 2 0.4 2 -0.2 2 -0.1 2 -0.7 2 0.2 2 -0.1 2 0.1 2 -0.6 2 0.8 2 -0.4 2 0 2 -0.6 2 0.3 2 0.3 2 -0.9 2 0.5 2 0 2 -0.5 2 0.4 2 -0.3 2 0.4 2 -0.2 2 -0.1 2 0.5 2 -0.4 2 0.1 2 -0.7 2 0.1 2 0.4 2 0 2 -0.3 2 0.3 2 -0.6 2 0.4 2 -0.5 2 0.5 2 -0.3 2 -0.1 2 0.2 2 0.5 2 -0.8 2 0.1 2 0.4 2 -0.4 2 0.6 2 -0.5 2 0 2 0 2 0.4 2 -0.3 2 -0.1 2 -0.1 2 -0.5 2 0.1 2 0.7 2 -0.2 2 -0.1 2 0 2 -0.4 2 0.3 2 -0.4 2 0.4 2 -0.4 2 0.1 2 0.2 2 -0.2 2 0.2 2 0 2 -0.1 2 0.3 2 -0.9 2 0 2 0.6 2 0.1 2 0.3 2 -0.4 2 0 2 -0.5 2 0.5 2 0.6 2 0 2 1.2 2 1.8 2 1.6 2 -3.3 2 5.4 2 1.5 2 0.4" fill="none" stroke="#ff3300" stroke-width="6.00" stroke-linejoin="round" stroke-linecap="round"/>
<path d="M1168.9 3093.2 l2 1 2 0.4 2 -2.9 2 2.9 2 -1.3 2 -1.4 2 2.4 2 2.6 2 -5.9 2 -0.3 2 0 2 7.3 2 -4.4 2 0.4 2 -1.4 2 -0.2 2 -2.2 2 4.5 2 0.2 2 -4.4 2 1.9 2 0.6 2 1.5 2 0.6 2 1.8 2 0.5 2 -0.6 2 0.6 2 -5 2 1.3 2 3.4 2 -1.6 2 -0.5 2 -4 2 19.2 2 21.6 2 -15.6 2 -16 2 -2.5 2 -4 2 2.2 2 -0.5 2 -0.6 2 -4.1 2 -0.7 2 -1.7 2 3.4 2 0.4 2 -3.9 2 1.1 2 -0.6 2 -1.2 2 -3 2 2.7 2 1 2 -3 2 0.5 2 -3.3 2 5.4 2 -0.6 2 2 2 2.1 2 2.1 2 3.1 2 2.3 2 2.6 2 2.7 2 2.7 2 3.2 2 -2.4 2 2.7 2 -0.2 2 0.1 2 -0.7 2 4.4 2 -1.1 2 1 2 2.4 2 -1.2 2 2.3 2 0.6 2 2.1 2 1.1 2 -2.8 2 2.4 2 -1.6 2 0.2 2 -0.7 2 1.4 2 -3.2 2 2.2 2 1.3 2 -2.5 2 3.7 2 -4.8 2 1.5 2 -1.4 2 -0.4 2 -1 2 0.8 2 0.8 2 -1.6 2 3.1 2 1.1 2 -6.1 2 4.5 2 -1.4 2 0 2 4.4 2 -2.7 2 -2 2 -0.4 2 -5.2 2 6.2 2 -3.5" fill="none" stroke="#ff3300" stroke-width="6.50" stroke-linejoin="round" stroke-linecap="round"/>
<path d="M1398.9 3113.4 l2 1.9 2 -0.4 2 1.7 2 2.1 2 -2.5 2 0.4 2 -3.5 2 1.3 2 0.4 2 -5.1 2 7.5 2 -6.3 2 -1.5 2 6.2 2 0.9 2 -6.5 2 0 2 8 2 -6.8 2 -4.9 2 2.8 2 5.6 2 -3.2 2 0 2 0.8 2 -1.4 2 -2.5 2 -3 2 4.3 2 -3.7 2 2.1 2 3.8 2 -2.9 2 -1.3 2 -0.2 2 1.3 2 0.2 2 -5.2 2 3.1 2 3.2 2 -2.4 2 -3.6 2 0 2 -3.4 2 2.7 2 5.1 2 -4 2 -1.9 2 0.4 2 0.8 2 -0.2 2 -0.8 2 -1.2 2 3 2 1.8 2 -4.9 2 0.1 2 3.9 2 -6 2 2 2 0.4 2 1.3 2 -1 2 -1.4 2 2.7 2 -3.4 2 -1.2 2 -0.7 2 6.3 2 -5.6 2 4.9 2 0.5 2 0.3 2 -2.2 2 -0.8 2 1.4 2 -1.5 2 -1.6 2 5.7 2 -4.8 2 6.1 2 -2.9 2 -2.2 2 2 2 1.8 2 -5.9 2 1 2 -0.3 2 2.8 2 0.5 2 -0.8 2 -1.8 2 0.5 2 3.9 2 -0.2 2 -2.2 2 -3.3 2 4.4 2 -0.7 2 -0.1 2 3.4 2 -2.1 2 -4.1 2 0 2 5.4 2 -2.7 2 1.5 2 -2.2 2 -2 2 2.9 2 3 2 -2.8 2 -3.3 2 1.8 2 -0.4 2 1.6 2 1.9 2 2.2 2 -4 2 -1.5 2 1.2 2 -0.1 2 -1.1 2 1.1 2 -0.1 2 -2.7 2 4 2 -2.1 2 -1.5 2 3.5 2 -2.3 2 5.2 2 -3 2 -0.9 2 -1.9 2 0.8 2 2.9 2 -3.6 2 3.4 2 -6.7 2 5.4 2 1.4 2 -1.1 2 -0.8 2 2.3 2 -4.3 2 -0.3 2 2.5 2 2.6 2 -1.8 2 -1.5 2 1.2 2 0.3 2 -3.9 2 -3.7 2 4.2 2 -1.1 2 2.1 2 -1.4 2 0.7 2 3.1 2 -0.8 2 -0.3 2 4 2 -5 2 0.2 2 3.9 2 -5.6 2 -1.2 2 6.9 2 -2.3 2 0.6 2 0.1 2 0.7 2 -3.3 2 1 2 -2.5 2 3 2 0.2 2 -1.6 2 2.6 2 5.4 2 -9.7 2 4.7 2 0.3 2 0.3 2 -4.4 2 4.7 2 -1.3 2 -1.8 2 -0.5 2 1.4 2 1.6 2 -0.1 2 3.4 2 -6.3 2 2.3 2 -2.5 2 2.9 2 -1.5 2 -1.7 2 -1.8 2 1.3 2 2.4 2 3 2 -1.7 2 -4.7 2 1.7 2 1.2 2 -0.4 2 0.5 2 1.6 2 -1.4 2 -2.1 2 -3 2 3.8 2 -3.3 2 3.7 2 1.1 2 -4 2 2.8 2 -0.5 2 5.4 2 -3.5 2 -5.7 2 5.6 2 -0.1 2 -1.5 2 -0.4 2 2.3 2 0.2 2 -0.6 2 -3.4 2 1.7 2 -3.1 2 0.1 2 2.3 2 -1.2 2 1.5 2 7 2 -4.8 2 -3.4 2 -3 2 3.1 2 -1.4 2 -1.9 2 7.1 2 -3 2 2.3 2 6.4 2 -6.8 2 -0.4 2 0.5 2 -1.4 2 -1.4 2 1.5 2 3.3 2 -3.5 2 -2.6 2 0.3 2 0.5 2 2.5 2 1.2 2 0 2 1.7 2 -3.3 2 2.5 2 -1.2 2 0.9 2 -6.2 2 7.6 2 -6.8 2 1 2 4.7 2 -2.9 2 5.3 2 -3.9 2 -2.9 2 2.9 2 -1.3 2 4.7 2 0.2 2 -2.1 2 -2.8 2 1.2 2 2.3 2 -4.5 2 0 2 4.1 2 -0.3 2 -2.4 2 -0.1 2 -4.1 2 7.7 2 -3.2 2 -3.2 2 0.7 2 0.6 2 6.4 2 -2.5 2 -5 2 7.9 2 -1.3 2 -5.9 2 -4 2 9 2 -3.9 2 1.2 2 -1 2 4.4 2 0.6 2 -1.7 2 -2.4 2 1 2 0.9 2 -5.4 2 7 2 -3.9 2 1.5 2 -0.4 2 2 2 0.4 2 2.8 2 -6.4 2 -1.3 2 2.6 2 -2 2 3.8 2 -4.2 2 2.4 2 2 2 0.2 2 -2 2 3 2 -0.3 2 -7.5 2 5.2 2 -0.5 2 -1.2 2 -0.8 2 1.7 2 0.8 2 -0.2 2 2.7 2 -0.9 2 -4 2 -0.4 2 4 2 -3.9 2 2.2 2 0.8 2 1.4 2 -1.3 2 2.3 2 -4.8 2 2.9 2 -3.4 2 2.2 2 -0.2 2 -2.6 2 -4.2 2 8.9 2 -1.5 2 -0.5 2 -2.2 2 1 2 2 2 -1.1 2 2.8 2 -2.6 2 -2.4 2 3.6 2 -3.1 2 2.1 2 -5.1 2 3.7 2 2.3 2 -3.1 2 1.6 2 1.6 2 -1.4 2 4.4 2 -5.2 2 0.2 2 0.1 2 -4.6 2 1.1 2 5.2 2 -2.2 2 4.4 2 -3.7 2 -0.3 2 3.1 2 -1.9 2 3.3 2 -6.7 2 3.8 2 0.6 2 -0.3 2 1.5 2 -0.3 2 -2.5 2 -1.5 2 3.9 2 -2.4 2 2.4 2 1 2 -2.9 2 -2.8 2 1.6 2 2.7 2 -2.6 2 3.6 2 -2.9 2 0.3 2 -2 2 1.4 2 3 2 -3.6 2 0 2 -1.2 2 4 2 -5.9 2 2.2 2 4 2 1.3 2 -4.2 2 3.1 2 -7.6 2 7 2 -1.2 2 -3.9 2 -1.4 2 3.3 2 1.9 2 0.3 2 -0.7 2 1.7 2 -0.1 2 -5.4 2 2.6 2 -0.4 2 4 2 -3.9 2 3.8 2 -2.3 2 5.8 2 -6.2 2 0.2 2 -0.3 2 0.6 2 5.9 2 -7.6 2 -0.9 2 1.7 2 2.3 2 -4.3 2 4.6 2 -0.1 2 -2.4 2 -0.2 2 -1.4" fill="none" stroke="#ff3300" stroke-width="9.00" stroke-linejoin="round" stroke-linecap="round"/>
<path d="M156.9 3096.2 l2 0.2 2 -1 2 0.6 2 0.3 2 0.2 2 -0.3 2 0.4 2 -0.5 2 0.1 2 -0.1 2 -0.6 2 0.1 2 0.6 2 -0.5 2 1.1 2 0 2 0.4 2 -1.2 2 1 2 -1.7 2 0.1 2 0.7 2 0.1 2 -1.6 2 -0.1 2 1.9 2 0.2 2 3.3 2 0.6 2 1.2 2 1.3 2 1.3 2 -1.2 2 1.4 2 -1.8 2 0.3 2 -0.5 2 1.5 2 -0.7 2 -1 2 3.4 2 -2.8 2 0.3 2 0.6 2 1.6 2 -2.3 2 1 2 -0.7 2 -1.9 2 2.8 2 0.2 2 -1.5 2 0.3 2 -1.8 2 0 2 1.3 2 1.3 2 -1.4 2 1 2 0.8 2 -1.1 2 0.6 2 1 2 -3.2 2 2.4 2 -3.2 2 2.8 2 -0.3 2 -0.9 2 -0.6 2 1.2 2 -0.4 2 0.6 2 -1.2 2 1.8 2 -1.9 2 0.8 2 -0.1 2 2 2 -3.3 2 1.3 2 1.9 2 -2.2 2 -0.7 2 1.8 2 -0.6 2 1.3 2 -2.1 2 1.3 2 0.6 2 0.4 2 -2.5 2 3 2 -2.8 2 -0.7 2 0.7 2 1.3 2 -0.6 2 0.9 2 0.1 2 -0.2 2 -0.7 2 2.5 2 -4.9 2 0.6 2 1.5 2 -0.9 2 -1.6 2 2.1 2 0.1 2 -2 2 3.9 2 0.6 2 -0.1 2 -2.1 2 0.8 2 -1.5 2 1.5 2 -1 2 1.3 2 -0.9 2 1.6 2 -0.2 2 0.5 2 -3.4 2 -0.3 2 2.7 2 -1.2 2 1.2 2 -0.1 2 -0.2 2 0.9 2 -0.4 2 -0.1 2 -1.7 2 3.2 2 -1.9 2 1.1 2 -0.9 2 1.1 2 -1.3 2 0.1 2 -0.1 2 -1.1 2 0.2 2 0.5 2 0.1 2 -1.1 2 4 2 -4 2 0.8 2 3.3 2 -3.7 2 1.7 2 -0.1 2 -1 2 -1.5 2 -0.2 2 1.9 2 0.5 2 -3.1 2 2.8 2 -1 2 1.9 2 -0.9 2 -1.2 2 0.5 2 0.6 2 1.5 2 2.1 2 -3.3 2 -0.2 2 0.7 2 -0.8 2 0.8 2 -0.3 2 -0.5 2 -0.9 2 1.1 2 0.9 2 -1 2 1.7 2 -0.7 2 -1.2 2 2.2 2 -3.4 2 2.7 2 0.8 2 -2.5 2 0.2 2 1.3 2 0.5 2 -1.1 2 -0.3 2 0.8 2 -0.7 2 -1.8 2 1.2 2 0.2 2 -1.8 2 2.3 2 -1.3 2 1.7 2 -2.6 2 0.6 2 -0.6 2 3.3 2 0 2 0.2 2 0 2 -0.7 2 0 2 -3.1 2 2.4 2 -1 2 0.3 2 -1.1 2 3 2 -1.4 2 -1.9 2 2.4 2 -0.8 2 -1.1 2 0.8 2 -0.5 2 -1.9 2 0.9 2 2.5 2 -0.3 2 -0.1 2 -1.7 2 0.7 2 0.8 2 0.7 2 -1.8 2 -0.3 2 2.7 2 -1.3 2 -0.6 2 -0.4 2 0.1 2 2.7 2 -0.7 2 -1.7 2 -1 2 3.5 2 -0.1 2 -0.5 2 -0.4 2 -3.3 2 0.8 2 2.2 2 -1 2 0.6 2 -0.9 2 -0.2 2 1.5 2 -1.2 2 0.5 2 0.3 2 0 2 1.1 2 0.2 2 -3.2 2 1.3 2 -0.5 2 1.7 2 -2.2 2 2.2 2 -0.1 2 -0.2" fill="none" stroke="#00b050" stroke-width="7.00" stroke-linejoin="round" stroke-linecap="round"/>
<path d="M698.9 3103.9 l2 -2.3 2 -0.2 2 -0.7 2 0.4 2 0.2 2 -0.8 2 0.3 2 0.2 2 -0.2 2 0.6 2 -0.4 2 0.1 2 -0.4 2 0.8 2 -0.5 2 0.2 2 -0.2 2 -0.6 2 0.1 2 0.1 2 0.5 2 -0.3 2 0.3 2 0 2 0 2 0.2 2 -0.2 2 -0.6 2 0.3 2 0.7 2 -0.9 2 0.7 2 0.1 2 -0.7 2 0.2 2 -0.5 2 0.6 2 -0.5 2 -0.2 2 0.2 2 0 2 -0.1 2 0.2 2 -0.1 2 -0.2 2 0.5 2 0.4 2 -0.7 2 -0.3 2 -0.1 2 0.4 2 -0.3 2 0.1 2 -0.6 2 0.2 2 0 2 0.6 2 -0.4 2 -0.7 2 0.8 2 0.2 2 0 2 -1.2 2 0.8 2 0.2 2 -0.1 2 -0.3 2 -0.5 2 0.4 2 0 2 0.2 2 0 2 -0.3 2 0.3 2 -0.6 2 0.1 2 0.2 2 0.1 2 -0.3 2 0.5 2 -0.3 2 -0.4 2 0.2 2 -0.3 2 0 2 -0.2 2 0.8 2 -0.2 2 -0.7 2 0.7 2 0 2 -0.5 2 0.3 2 0.5 2 -0.7 2 0.1 2 0.1 2 -0.6 2 -0.1 2 -0.1 2 0.4 2 0.2 2 -0.5 2 -0.2 2 0.4 2 -0.2 2 0.3 2 -0.2 2 -0.1 2 0 2 0 2 -0.3 2 -0.1 2 0.8 2 0.4 2 -0.6 2 -0.9 2 0.5 2 0.3 2 -0.8 2 0.3 2 0 2 -0.2 2 0 2 0.5 2 -0.5 2 0.1 2 0.5 2 -0.8 2 -0.3 2 0.7 2 0.4 2 -0.6 2 0 2 -0.5 2 0.1 2 0.7 2 -0.1 2 -0.2 2 -0.4 2 -0.2 2 0 2 -0.1 2 0.5 2 -0.4 2 0 2 0.4 2 -0.1 2 -0.2 2 0.1 2 -0.2 2 -0.6 2 0.6 2 -0.2 2 0 2 0.2 2 -0.3 2 0.5 2 -0.5 2 0.1 2 0 2 -0.1 2 0.2 2 0 2 -0.1 2 -0.4 2 -0.1 2 0.1 2 0.1 2 -0.6 2 0.3 2 -0.1 2 0.1 2 -0.1 2 0.5 2 -0.2 2 0.2 2 -0.7 2 0.1 2 0.1 2 0.6 2 0.1 2 -1 2 1.2 2 1.6 2 -1.7 2 1.2 2 1.8 2 0.1 2 -1.3 2 3.4 2 -0.3 2 -0.4 2 -2.3 2 1.3 2 1.8 2 -1 2 0.4 2 -1.3 2 2.1 2 -2.1 2 1.4 2 -0.7 2 -1.6 2 3 2 -3.3 2 0.6 2 1.1 2 -1.9 2 -0.5 2 2.1 2 -0.4 2 0.2 2 0.9 2 2.1 2 -3.2 2 3.4 2 -2.6 2 -0.4 2 -3.2 2 1.4 2 2.2 2 0.3 2 -1.6 2 1.3 2 0.7 2 -1.7 2 -1.3 2 0.8 2 0.8 2 0.7 2 0.6 2 -2.1 2 1.2 2 -0.4 2 0.4 2 1.3 2 0.2 2 -2.1 2 -0.2 2 -0.1 2 0.2 2 0.2 2 0.3 2 -0.4 2 -0.7 2 -0.1 2 1.4 2 2.9 2 -2.3 2 0.1 2 -0.3 2 -0.6 2 2.6 2 -2.8 2 -0.8 2 -0.3 2 1.7 2 -1.4 2 0.1 2 0 2 -0.5 2 1.8 2 -2.3 2 4.8 2 -6.1 2 1.7 2 1.7 2 0.5 2 3.9" fill="none" stroke="#00b050" stroke-width="6.00" stroke-linejoin="round" stroke-linecap="round"/>
<path d="M1238.9 3105.4 l2 11.3 2 0.6 2 0.1 2 0.4 2 0.1 2 0 2 0.2 2 0.6 2 -0.4 2 -0.2 2 -0.2 2 -1.1 2 -0.2 2 -1.3 2 -0.3 2 -0.4 2 -0.8 2 -0.4 2 -0.1 2 -1.5 2 -0.8 2 0 2 -1.6 2 0.6 2 0.7 2 -0.7 2 0.3 2 -0.1 2 0.5 2 -0.4 2 -0.2 2 -2.2 2 1.8 2 0.8 2 -0.6 2 -0.4 2 1.1 2 -1.2 2 0.4 2 0.7 2 -0.9 2 0.5 2 -0.1 2 -0.9 2 0.5 2 0.1 2 -0.2 2 1.3 2 -0.9 2 -0.4 2 -0.6 2 0.8 2 1.3 2 -1.3 2 0.9 2 -0.3 2 -0.8 2 -0.3 2 1.2 2 -1.9 2 1.9 2 -1.5 2 1.8 2 -1.1 2 0.3 2 1 2 -1.8 2 0.9 2 -0.3 2 0.7 2 0.2 2 -0.4 2 -0.1 2 -0.5 2 0.9 2 -0.8 2 0.4 2 0 2 -1.5 2 0.2 2 1.3 2 -0.3 2 1.1 2 -3.8 2 2.5 2 0.8 2 -1.1 2 0.5 2 -0.8 2 -0.2 2 0.8 2 -2.3 2 -1.1 2 2.6 2 -0.5 2 -0.1 2 0.1 2 0.2 2 -1.2 2 0.8 2 -0.3 2 -1.6 2 0.9 2 0.3 2 -1.2 2 1.7 2 -1.4 2 0.9 2 0.6 2 -3.1 2 0 2 1.8 2 -0.9 2 0.6 2 1.1 2 -2.3 2 1.2 2 -1.2 2 -0.5 2 1 2 -0.4 2 0.7 2 -0.9 2 0.5 2 -0.5 2 -2.4 2 1.3 2 -0.1 2 1.1 2 -2.1 2 1.1 2 -0.7 2 -1.5 2 1.5 2 0.7 2 -1.1 2 1.3 2 -0.5 2 -0.1 2 -0.8 2 0.3 2 0.7 2 -0.5 2 -1.3 2 1.1 2 0.6 2 0.8 2 -0.3 2 -1.9 2 1.7 2 -2.3 2 0.9 2 -0.1 2 2.4 2 -0.9 2 -0.4 2 -0.9 2 1.9 2 -1.5 2 0.7 2 0.6 2 -1.4 2 0.9 2 -2.6 2 2.6 2 -2.3 2 2.1 2 -0.1 2 0.2 2 1.9 2 -5 2 3.1 2 -0.9 2 1.2 2 -0.5 2 -0.2 2 -0.6 2 -0.2 2 1.1 2 -2 2 2.7 2 -1.7 2 1.1 2 -1.7 2 1.7 2 -0.7 2 1 2 0.5 2 -1.8 2 0.6 2 0.2 2 1.3 2 -2.9 2 2 2 -0.7 2 -1.2 2 0.9 2 -0.4 2 1.9 2 -2.2 2 2.1 2 -1.5 2 1.2 2 -2.6 2 1 2 1 2 -1.1 2 -0.7 2 1.7 2 0.8 2 -0.8 2 -0.3 2 0.7 2 -0.9 2 1.4 2 0.2 2 -2.5 2 2.4 2 -0.3 2 -0.5 2 0.5 2 0.8 2 0.5 2 -0.3 2 -2 2 1.7 2 -3.2 2 2.7 2 -0.2 2 0.3 2 -2 2 2.5 2 -0.2 2 -1.1 2 -1.7 2 1.8 2 -1.2 2 -0.8 2 0.9 2 3.3 2 -4.1 2 1.2 2 0.5 2 0.8 2 -2 2 0 2 2 2 -0.7 2 1 2 -2.5 2 1.1 2 1.1 2 -0.9 2 -1.3 2 1.3 2 -2.1 2 1.2 2 1.6 2 0.1 2 -0.5 2 0.3 2 -2.3 2 0.9 2 1.8 2 1.4 2 -2 2 -1.5 2 -0.1 2 2.4 2 -0.1 2 -2.5 2 1.4 2 1.4 2 0 2 -2.1 2 0.4 2 0.7 2 -1.7 2 -0.6 2 1 2 2.1 2 -0.1 2 -0.7 2 -1.8 2 -0.9 2 1 2 1.2 2 1.1 2 -2.1 2 1 2 -2 2 -0.4 2 2.3 2 -1.3 2 0.2 2 -1.4 2 3.4 2 -2.9 2 2 2 -1.7 2 1.2 2 1.9 2 -1.2 2 -0.1 2 0.8 2 -0.4 2 1 2 -3.1 2 3.1 2 -1.5 2 -1.2 2 1.8 2 0 2 -0.6 2 0.9 2 -2.4 2 -0.3 2 1.1 2 1.9 2 -0.6 2 -0.6 2 -0.7 2 0.7 2 1.3 2 -1.9 2 0 2 1.1 2 0.2 2 -0.5 2 1.4 2 -1.3 2 -1.3 2 -1.4 2 3.8 2 -1.5 2 0.5 2 0.2 2 1 2 -0.4 2 0 2 -0.8 2 -0.6 2 0.6 2 -1.2 2 1.3 2 0.8 2 -0.4 2 -0.6 2 -1.2 2 0 2 0.2 2 0.4 2 0.9 2 0.1 2 0.1 2 0.4 2 -2.2 2 0.9 2 0.8 2 0.3 2 -1.6 2 -0.1 2 2.1 2 -0.5 2 -0.3 2 -0.8 2 -0.8 2 1.1 2 0.4 2 0.2 2 0.4 2 -0.9 2 1.3 2 -1.8 2 0.8 2 -0.3 2 -2.1 2 0.6 2 0.8 2 0.8 2 0.2 2 1 2 -1.4 2 -0.4 2 0.8 2 -1.8 2 1.2 2 -0.9 2 1.2 2 -0.9 2 0.3 2 2.6 2 -0.9 2 1.6 2 -2.6 2 -0.4 2 -0.7 2 0.8 2 -1.9 2 2.1 2 -0.8 2 -0.8 2 -0.6 2 1.1 2 0.5 2 0.4 2 -1.8 2 1.8 2 0.4 2 2.2 2 -2.1 2 0.6 2 -1.8 2 0.8 2 -0.8 2 -0.2 2 1.5 2 -0.8 2 1.9 2 -1.6 2 0.5 2 -1.9 2 0.2 2 1.9 2 -1.5 2 2.2 2 -2.3 2 -0.1 2 3.2 2 -4.2 2 1.4 2 1.2 2 0.1 2 -2 2 3.8 2 -3 2 -1.7 2 3.2 2 -1.6 2 0.7 2 0.8 2 -1.9 2 0.2 2 0.7 2 1.1 2 -2.5 2 3.2 2 -1.3 2 -1.7 2 1.3 2 0.7 2 0.7 2 -0.4 2 0.3 2 -1.5 2 1 2 -3.9 2 4.3 2 -1.2 2 1.8 2 -2.5 2 0.1 2 0.7 2 0.8 2 -0.5 2 0.8 2 -1.1 2 1.1 2 2.1 2 -1.8 2 -0.8 2 -2.4 2 2.5 2 0.5 2 -1.5 2 1.4 2 -3.7 2 1.7 2 -0.3 2 1.7 2 -1.5 2 -0.2 2 2.8 2 -3.4 2 2.3 2 0.7 2 -1.6 2 -0.7 2 0.8 2 -0.5 2 -0.2 2 1.2 2 -0.3 2 3.7 2 -2.2 2 -1.3 2 0.5 2 1.3 2 -0.6 2 -1.3 2 -1 2 3 2 -2.1 2 0.3 2 1.3 2 -1.3 2 1.3 2 -1.9 2 0.6 2 -0.5 2 2.7 2 -4.2 2 1.5 2 -0.8 2 0.1 2 -0.6 2 0.5 2 2.4 2 0.3 2 -2.5 2 -0.7 2 0.9 2 2.5 2 -2 2 -2.5 2 3.6 2 -1.2 2 0.9 2 -0.2 2 -2.1 2 2.8 2 -0.4 2 -1.6 2 -1.9 2 1.3 2 0 2 2.2 2 -1.5 2 0.1 2 0.6 2 -0.6 2 1" fill="none" stroke="#00b050" stroke-width="7.00" stroke-linejoin="round" stroke-linecap="round"/>
</g>
<line x1="427.5" y1="2850.6" x2="427.5" y2="3392.3" stroke="#000" stroke-width="3" stroke-dasharray="5.8 2.9"/>
<line x1="699.0" y1="2850.6" x2="699.0" y2="3392.3" stroke="#000" stroke-width="3" stroke-dasharray="5.8 2.9"/>
<line x1="970.4" y1="2850.6" x2="970.4" y2="3392.3" stroke="#000" stroke-width="3" stroke-dasharray="5.8 2.9"/>
<line x1="1239.5" y1="2850.6" x2="1239.5" y2="3392.3" stroke="#000" stroke-width="3" stroke-dasharray="5.8 2.9"/>
<line x1="1510.0" y1="2850.6" x2="1510.0" y2="3392.3" stroke="#000" stroke-width="3" stroke-dasharray="5.8 2.9"/>
<line x1="1780.6" y1="2850.6" x2="1780.6" y2="3392.3" stroke="#000" stroke-width="3" stroke-dasharray="5.8 2.9"/>
<line x1="2051.3" y1="2850.6" x2="2051.3" y2="3392.3" stroke="#000" stroke-width="3" stroke-dasharray="5.8 2.9"/>
<line x1="156.9" y1="2981.0" x2="180.5" y2="2981.0" stroke="#222" stroke-width="3.5"/>
<line x1="156.9" y1="3249.5" x2="180.5" y2="3249.5" stroke="#222" stroke-width="3.5"/>
<rect x="156.9" y="2850.6" width="2166.5" height="541.7" fill="none" stroke="#222" stroke-width="3.0"/>
<line x1="156.9" y1="2850.6" x2="156.9" y2="3392.3" stroke="#222" stroke-width="3.8"/>
<rect x="1763.5" y="3184.5" width="535" height="196.9" fill="#fff" stroke="#000" stroke-width="2.9"/>
<line x1="1787.3" y1="3216.4" x2="1944.3" y2="3216.4" stroke="#ff0000" stroke-width="13" stroke-linecap="round"/>
<line x1="1787.3" y1="3271.2" x2="1944.3" y2="3271.2" stroke="#00b050" stroke-width="13" stroke-linecap="round"/>
<line x1="1787.3" y1="3337.4" x2="1944.3" y2="3337.4" stroke="#0a8cff" stroke-width="13" stroke-linecap="round"/>
<text transform="translate(1974.22,3235.05) scale(0.9844,1)" font-size="55.02" fill="#000">Uncontrolled</text>
<text transform="translate(1977.67,3288.17) scale(1.0168,1)" font-size="53.32" fill="#000">PIR  control</text>
<text transform="translate(1978.18,3351.16) scale(1.0053,1)" font-size="53.74" fill="#000">PI-DR control</text>
<text transform="translate(94.87,2872.54) scale(1.0169,1)" font-size="45.96" fill="#222">20</text>
<text transform="translate(100.43,2998.44) scale(0.8880,1)" font-size="46.42" fill="#222">15</text>
<text transform="translate(103.02,3119.64) scale(0.9729,1)" font-size="45.96" fill="#222">10</text>
<text transform="translate(118.61,3267.43) scale(0.8990,1)" font-size="46.88" fill="#222">5</text>
<text transform="translate(121.72,3404.25) scale(1.0074,1)" font-size="45.37" fill="#222">0</text>
<text transform="translate(141.40,3457.10) scale(1.0221,1)" font-size="45.29" fill="#222">0.2</text>
<text transform="translate(398.36,3457.10) scale(0.9895,1)" font-size="45.29" fill="#222">0.25</text>
<text transform="translate(684.31,3457.10) scale(1.0161,1)" font-size="45.29" fill="#222">0.3</text>
<text transform="translate(941.74,3457.10) scale(0.9975,1)" font-size="45.29" fill="#222">0.35</text>
<text transform="translate(1223.31,3457.10) scale(1.0203,1)" font-size="45.29" fill="#222">0.4</text>
<text transform="translate(1481.41,3457.10) scale(1.0199,1)" font-size="45.29" fill="#222">0.45</text>
<text transform="translate(1766.81,3457.10) scale(1.0198,1)" font-size="45.29" fill="#222">0.5</text>
<text transform="translate(2023.31,3457.10) scale(1.0199,1)" font-size="45.29" fill="#222">0.55</text>
<text transform="translate(2305.01,3457.10) scale(1.0784,1)" font-size="45.29" fill="#222">0.6</text>
<text transform="translate(1041.99,3496.95) scale(0.9761,1)" font-size="56.03" fill="#111">Time(s)</text>
<text transform="translate(88.00,3165.75) rotate(-90) scale(1.0752,1)" font-size="70.87" fill="#000"><tspan font-style="italic">I</tspan></text>
<text transform="translate(81.91,3140.43) rotate(-90) scale(1.0559,1)" font-size="38.82" fill="#000"><tspan font-style="italic">d</tspan></text>
<text transform="translate(85.21,3102.40) rotate(-90) scale(1.0025,1)" font-size="55.26" fill="#000"><tspan>(A)</tspan></text>
<text transform="translate(920.77,3619.00) scale(0.9426,1)" font-size="79.00" fill="#000"><tspan>(</tspan><tspan font-weight="bold">c</tspan><tspan>)</tspan></text>
<text transform="translate(1021.57,3619.00) scale(1.0452,1)" font-size="79.00" fill="#000">d-axis</text>
<text transform="translate(1240.47,3619.00) scale(1.0812,1)" font-size="79.00" fill="#000">current</text>
<clipPath id="cd"><rect x="151.6" y="3669.6" width="2150.8" height="553.8"/></clipPath>
<g clip-path="url(#cd)">
<path d="M150.6 3951 l1.5 1 1.5 -2 1.5 -2.1 1.5 1.5 1.5 -1.9 1.5 3.7 1.5 4.5 1.5 -6.4 1.5 -0.5 1.5 3.9 1.5 -0.5 1.5 -0.8 1.5 -3.7 1.5 3.2 1.5 2.5 1.5 -7.1 1.5 3.1 1.5 -5.1 1.5 2.2 1.5 -1.9 1.5 5.6 1.5 -3.6 1.5 5.3 1.5 -0.4 1.5 -1.2 1.5 -8.1 1.5 6.9 1.5 1.7 1.5 0.6 1.5 -5.8 1.5 3.7 1.5 -1.7 1.5 0.6 1.5 6.5 1.5 -6.5 1.5 2.7 1.5 3.2 1.5 -5.1 1.5 1.6 1.5 0.8 1.5 -0.2 1.5 -4.5 1.5 4.6 1.5 4.5 1.5 -10.2 1.5 8.4 1.5 -2.6 1.5 -2.6 1.5 9.2 1.5 -4.3 1.5 -6.9 1.5 4.5 1.5 1.7 1.5 -2.7 1.5 3.1 1.5 -2.6 1.5 2.5 1.5 2.7 1.5 -7.4 1.5 3.1 1.5 -2.3 1.5 2 1.5 -4.6 1.5 2.2 1.5 1.3 1.5 3.8 1.5 0.9 1.5 -8.6 1.5 1.8 1.5 5.1 1.5 -9.3 1.5 5.4 1.5 1.3 1.5 4.7 1.5 -2 1.5 -3.5 1.5 -0.2 1.5 0.4 1.5 6.2 1.5 -6.8 1.5 0.4 1.5 2.3 1.5 -1.6 1.5 -0.3 1.5 -3.2 1.5 3.9 1.5 -1.6 1.5 5.7 1.5 -1.8 1.5 -2.4 1.5 2.4 1.5 -3.5 1.5 4.9 1.5 -3.7 1.5 2 1.5 -6.5 1.5 5.7 1.5 -7.1 1.5 -1.2 1.5 6 1.5 -2 1.5 3.7 1.5 7.3 1.5 -10.8 1.5 0.7 1.5 2.9 1.5 1 1.5 -2.3 1.5 -0.1 1.5 3.2 1.5 -0.7 1.5 -5.4 1.5 3.3 1.5 0.4 1.5 -3.8 1.5 4.6 1.5 -3.9 1.5 6.4 1.5 -2.7 1.5 -0.4 1.5 -2.4 1.5 1.7 1.5 -6.6 1.5 3 1.5 5.3 1.5 -8.7 1.5 10.4 1.5 -9.1 1.5 8.7 1.5 -5.6 1.5 5.7 1.5 -2.2 1.5 -5.9 1.5 9.8 1.5 0.6 1.5 -5.2 1.5 -0.8 1.5 0.4 1.5 -2.8 1.5 7.2 1.5 -5.7 1.5 1.7 1.5 -2.6 1.5 0.6 1.5 -2.3 1.5 8.9 1.5 -4.9 1.5 3.9 1.5 -3.4 1.5 -2.4 1.5 1.3 1.5 -0.9 1.5 2 1.5 -1.3 1.5 0.3 1.5 -3.8 1.5 2 1.5 8.6 1.5 -8.1 1.5 -1.4 1.5 4.9 1.5 3.7 1.5 -10 1.5 4.4 1.5 -1.5 1.5 -4 1.5 8.8 1.5 -2.7 1.5 0.4 1.5 -2.9 1.5 4.2 1.5 -3.5 1.5 1.4 1.5 -3.4 1.5 -0.4 1.5 9 1.5 -6.5 1.5 2.8 1.5 -1.1 1.5 -1.4 1.5 -0.3 1.5 4 1.5 -3.3 1.5 0.6 1.5 0.6 1.5 4 1.5 -1.7 1.5 -1.1 1.5 -3.3 1.5 -2.8 1.5 8.1 1.5 0.1 1.5 -3.9 1.5 2.4 1.5 0.8 1.5 0.2 1.5 0.3 1.5 -4.8 1.5 6.9 1.5 -9.7 1.5 7.4 1.5 -1.3 1.5 1.4 1.5 3.5 1.5 -1.4 1.5 -9.2 1.5 -1.9 1.5 8.8 1.5 -6.5 1.5 3.6 1.5 2.9 1.5 -8.7 1.5 -1.6 1.5 8.3 1.5 -0.7 1.5 -1.1 1.5 1 1.5 -3.1 1.5 -2.3 1.5 4.7 1.5 -2.8 1.5 -2.4 1.5 7.6 1.5 -2 1.5 1.6 1.5 -4.9 1.5 1.2 1.5 -1.2 1.5 0.4 1.5 3.8 1.5 -3.4 1.5 3.9 1.5 0 1.5 5.9 1.5 -12 1.5 8 1.5 -3.4 1.5 0.3 1.5 -5.1 1.5 3.5 1.5 4.2 1.5 -2.9 1.5 0.6 1.5 -1.3 1.5 5 1.5 -4.1 1.5 -7.6 1.5 5.3 1.5 -4.5 1.5 -4.5 1.5 9.5 1.5 6.6 1.5 -4.5 1.5 -4.3 1.5 0.8 1.5 7.3 1.5 -3.4 1.5 -0.4 1.5 -0.4 1.5 0.3 1.5 2.7 1.5 -0.9 1.5 -1.1 1.5 -4.5 1.5 5.5 1.5 -4.2 1.5 6.2 1.5 -8.2 1.5 3.9 1.5 0.5 1.5 -4.6 1.5 10.6 1.5 -0.9 1.5 -6.7 1.5 4.3 1.5 -1.4 1.5 -10.4 1.5 10 1.5 -1.1 1.5 0.5 1.5 -4.1 1.5 2.9 1.5 0.3 1.5 4.8 1.5 -3 1.5 -1.2 1.5 5.4 1.5 -7.3 1.5 0.5 1.5 -5 1.5 11.9 1.5 -2.1 1.5 -0.2 1.5 -0.9 1.5 -1.9 1.5 0.4 1.5 -1.7 1.5 0.2 1.5 0.9 1.5 5.1 1.5 -3.4 1.5 -2.1 1.5 -1.8 1.5 -0.2 1.5 7.8 1.5 -3.8 1.5 -1.6 1.5 -1.4 1.5 -2.7 1.5 3.7 1.5 3.3 1.5 -4.5 1.5 0.6 1.5 0 1.5 1.2 1.5 -6 1.5 4.8 1.5 -2.2 1.5 6.1 1.5 -5.8 1.5 4.7 1.5 3.3 1.5 -6.4 1.5 -1 1.5 2.8 1.5 -0.7 1.5 -3.5 1.5 5.1 1.5 5.5 1.5 -8 1.5 0.2 1.5 -3 1.5 4.8 1.5 -5.5 1.5 0.5 1.5 8.4 1.5 -7.7 1.5 7 1.5 1.5 1.5 -4.4 1.5 1 1.5 4.9 1.5 -7.5 1.5 -1.4 1.5 -2.6 1.5 4.8 1.5 5.1 1.5 -1.8 1.5 -6.7 1.5 0.3 1.5 1.2 1.5 2.8 1.5 -1.7 1.5 1.5 1.5 0.2 1.5 -2 1.5 0.9 1.5 0.8 1.5 11.3" fill="none" stroke="#ff3300" stroke-width="3.00" stroke-linejoin="round" stroke-linecap="round"/>
<path d="M689.1 3963 l1.5 -7.8 1.5 -34.5 1.5 -0.3 1.5 -0.1 1.5 -0.3 1.5 0.4 1.5 -0.5 1.5 0.1 1.5 0.5 1.5 -0.1 1.5 -0.1 1.5 -0.3 1.5 0.2 1.5 0 1.5 0.2 1.5 0.4 1.5 -0.5 1.5 -0.2 1.5 27.6 1.5 20 1.5 13.3 1.5 -52.6 1.5 3.3 1.5 12.9 1.5 13.6 1.5 -19.5 1.5 -17.4 1.5 11.8 1.5 9 1.5 -11.7 1.5 -10.2 1.5 0 1.5 -0.2 1.5 0 1.5 0.5 1.5 -0.2 1.5 0 1.5 0.2 1.5 -0.5 1.5 0.1 1.5 0.2 1.5 0.1 1.5 -0.2 1.5 0.3 1.5 -0.2 1.5 -0.2 1.5 0 1.5 0.4 1.5 -0.1 1.5 -0.5 1.5 0.7 1.5 9.5 1.5 12.2 1.5 3.4 1.5 2.6 1.5 2.4 1.5 3.3 1.5 2 1.5 2.9 1.5 1.8 1.5 -2 1.5 -2.5 1.5 -1.9 1.5 -1.9 1.5 -2.7 1.5 -1.7 1.5 -2.6 1.5 -3.3 1.5 -2.9 1.5 -2.9 1.5 -2.9 1.5 -3.1 1.5 -2.1 1.5 -1.2 1.5 -1.4 1.5 -1.2 1.5 -1 1.5 -1.1 1.5 -0.9 1.5 0.1 1.5 -0.3 1.5 -0.2 1.5 0.2 1.5 -0.4 1.5 0.3 1.5 -0.7 1.5 0.1 1.5 0.6 1.5 13 1.5 12.1 1.5 -6.2 1.5 -6 1.5 -3.6 1.5 6.7 1.5 7.2 1.5 3.7 1.5 -5.1 1.5 -5.6 1.5 -5.1 1.5 -4.4 1.5 -1.8 1.5 -2.6 1.5 -2.4 1.5 -0.7 1.5 0.1 1.5 -0.6 1.5 0.1 1.5 0 1.5 -0.2 1.5 0.3 1.5 -0.3 1.5 -0.1 1.5 0.2 1.5 -0.3 1.5 0.2 1.5 -0.4 1.5 -0.1 1.5 -0.1 1.5 0.6 1.5 -0.5 1.5 0.1 1.5 -0.1 1.5 -0.1 1.5 0 1.5 0.3 1.5 -0.7 1.5 4.8 1.5 12.5 1.5 4 1.5 -8 1.5 -8.4 1.5 -4.9 1.5 -0.1 1.5 0.2 1.5 0.3 1.5 -0.9 1.5 0.6 1.5 -0.3 1.5 0.4 1.5 -0.5 1.5 0.2 1.5 -0.3 1.5 0.1 1.5 0.4 1.5 -0.1 1.5 -0.3 1.5 -0.1 1.5 -0.3 1.5 0.3 1.5 0 1.5 0 1.5 0 1.5 -0.3 1.5 0.2 1.5 0 1.5 0.2 1.5 0.1 1.5 -0.4 1.5 -0.2 1.5 0.1 1.5 -0.1 1.5 15 1.5 15.2 1.5 -10.6 1.5 -10 1.5 0.4 1.5 8.1 1.5 7.8 1.5 -2.1 1.5 -7 1.5 -6.9 1.5 2.2 1.5 5.7 1.5 5.6 1.5 -2.5 1.5 -3.2 1.5 -3.7 1.5 -3.3 1.5 -3.8 1.5 -4.2 1.5 -3.2 1.5 0 1.5 0 1.5 -0.1 1.5 0 1.5 -0.1 1.5 0.1 1.5 0 1.5 0.1 1.5 -0.2 1.5 0.2 1.5 0 1.5 0 1.5 8" fill="none" stroke="#ff3300" stroke-width="3.00" stroke-linejoin="round" stroke-linecap="round"/>
<path d="M980.1 3925.4 l1.5 18.1 1.5 7.8 1.5 7.5 1.5 3.2 1.5 3.8 1.5 3.9 1.5 -4.9 1.5 -3.5 1.5 -2.2 1.5 -4.9 1.5 -5 1.5 -8.8 1.5 5.8 1.5 3.1 1.5 1.1 1.5 -0.4 1.5 -3 1.5 7.4 1.5 -6.5 1.5 -9.7 1.5 3.5 1.5 -8.4 1.5 -3.3 1.5 -2.1 1.5 1 1.5 -7.8 1.5 -2.2 1.5 3.3 1.5 4.1 1.5 0.3 1.5 4.2 1.5 2 1.5 5.1 1.5 5.9 1.5 3.1 1.5 2.4 1.5 5.3 1.5 -1.3 1.5 4.9 1.5 5.1 1.5 2.7 1.5 4.4 1.5 1.4 1.5 -5 1.5 -2 1.5 -7.1 1.5 -4.9 1.5 2.9 1.5 -4.3 1.5 -1.8 1.5 -7.7 1.5 0.6 1.5 -3.3 1.5 -2.6 1.5 -5.2 1.5 3.1 1.5 1.3 1.5 -3 1.5 -4.1 1.5 -0.3 1.5 0.2 1.5 -7.6 1.5 8.3 1.5 3.3 1.5 2 1.5 4.2 1.5 0.3 1.5 -0.4 1.5 1.6 1.5 4.7 1.5 0.9 1.5 5.5 1.5 6.5 1.5 6.9 1.5 -1.1 1.5 4.5 1.5 4.8 1.5 4.7 1.5 -5.1 1.5 2.1 1.5 -7.8 1.5 0.3 1.5 -1.7 1.5 0.8 1.5 -1 1.5 -8.1 1.5 -0.6 1.5 0.2 1.5 -5.4 1.5 -5 1.5 3.5 1.5 -4.3 1.5 -2.9 1.5 -5.3 1.5 0.9 1.5 -5.8 1.5 5.5 1.5 -2.9 1.5 2.3 1.5 4.8 1.5 -0.2 1.5 5.6 1.5 1.1 1.5 -0.7 1.5 6.4 1.5 2.8 1.5 7.1 1.5 0 1.5 4.4 1.5 8.1 1.5 6.5 1.5 0.1 1.5 -6.8 1.5 -1.6 1.5 1.3 1.5 -6.1 1.5 -4.2 1.5 0.8 1.5 -1.2 1.5 -5.2 1.5 -4 1.5 -1.6 1.5 3.1 1.5 -5.8 1.5 -0.6 1.5 -1.3 1.5 -1.2 1.5 -4.5 1.5 -0.1 1.5 -5.7 1.5 -0.9 1.5 -2.9 1.5 7.6 1.5 -0.7 1.5 0.4 1.5 3.2 1.5 2.6 1.5 4.5 1.5 -3.6 1.5 3.7 1.5 4.4 1.5 10 1.5 -1.1 1.5 0 1.5 4.9 1.5 6.1 1.5 -3 1.5 2.4 1.5 2.7 1.5 -4.5 1.5 -2.4 1.5 -5.7 1.5 3.3 1.5 -3.3 1.5 -5.6 1.5 -2.4 1.5 -9.2 1.5 4.8 1.5 -4 1.5 -0.3 1.5 -1.2 1.5 -4.5 1.5 -5.2 1.5 3.4 1.5 -5.6 1.5 -0.8" fill="none" stroke="#ff3300" stroke-width="6.50" stroke-linejoin="round" stroke-linecap="round"/>
<path d="M1229.1 3935.8 l1.5 -3.5 1.5 -1 1.5 -11.9 1.5 15.7 1.5 -4.8 1.5 4.2 1.5 4.3 1.5 -9.7 1.5 -9 1.5 4.5 1.5 -1.5 1.5 3.4 1.5 2.9 1.5 -10.1 1.5 11.4 1.5 -9 1.5 8.7 1.5 -1.9 1.5 -1 1.5 1.1 1.5 -2.2 1.5 -0.3 1.5 -5.1 1.5 7.9 1.5 8.9 1.5 0.6 1.5 -3.2 1.5 -2.9 1.5 -6.5 1.5 10 1.5 -7.1 1.5 0 1.5 -1.1 1.5 1.8 1.5 -2.4 1.5 2.6 1.5 -2.4 1.5 5.4 1.5 14.4 1.5 -8.6 1.5 0.7 1.5 4 1.5 1.2 1.5 -7.8 1.5 4.6 1.5 5.5 1.5 -2.5 1.5 -0.2 1.5 6.8 1.5 -9.4 1.5 3.8 1.5 -2.2 1.5 9.1 1.5 -14.2 1.5 5.9 1.5 1 1.5 5.3 1.5 0.1 1.5 3.6 1.5 -11.7 1.5 9.7 1.5 -3.8 1.5 -1.1 1.5 5.1 1.5 -5.3 1.5 -3.9 1.5 6.8 1.5 -4 1.5 3.4 1.5 3.9 1.5 -0.1 1.5 4.7 1.5 -6.2 1.5 -4.6 1.5 2.8 1.5 -0.6 1.5 -1.1" fill="none" stroke="#ff3300" stroke-width="4.00" stroke-linejoin="round" stroke-linecap="round"/>
<path d="M1343.1 3948.8 l1.5 -1.1 1.5 5.8 1.5 -3.8 1.5 -4.6 1.5 9.3 1.5 -2.8 1.5 1.6 1.5 -0.8 1.5 1.8 1.5 -2.1 1.5 4.2 1.5 -2.8 1.5 -0.2 1.5 0.1 1.5 -6.5 1.5 4.5 1.5 -0.3 1.5 1.6 1.5 -5.5 1.5 10.5 1.5 -5.4 1.5 -4.6 1.5 -1.7 1.5 5 1.5 0.6 1.5 -2.2 1.5 2.9 1.5 -2.6 1.5 4.2 1.5 -4.5 1.5 2.4 1.5 3.6 1.5 5.5 1.5 -12.5 1.5 1.9 1.5 -1.3 1.5 5.7 1.5 -6.8 1.5 2.3 1.5 1.6 1.5 -3.3 1.5 0.1 1.5 1.7 1.5 -5.7 1.5 2.3 1.5 3.6 1.5 1.9 1.5 -1.1 1.5 -5.6 1.5 4.6 1.5 4.4 1.5 -0.8 1.5 -2.3 1.5 -2.8 1.5 5.3 1.5 -4.2 1.5 -2.1 1.5 1.3 1.5 7.9 1.5 -4.3 1.5 3.3 1.5 -5.8 1.5 5 1.5 -5.4 1.5 1.5 1.5 9.3 1.5 -6 1.5 -4.5 1.5 1.5 1.5 1.4 1.5 3.1 1.5 -5.9 1.5 -4.4 1.5 5.1 1.5 1 1.5 0.4 1.5 4.2 1.5 -3.5 1.5 1.7 1.5 -6.7 1.5 6.9 1.5 4.3 1.5 -4.6 1.5 -1.8 1.5 -0.4 1.5 5.7 1.5 -9.5 1.5 2.9 1.5 2 1.5 1 1.5 -4.2 1.5 2.6 1.5 -2 1.5 1.4 1.5 -0.9 1.5 -3.5 1.5 3.9 1.5 3.1 1.5 -6.4 1.5 2.5 1.5 3.2 1.5 -6.1 1.5 4.4 1.5 -4.4 1.5 7.7 1.5 4.1 1.5 -1 1.5 -7.8 1.5 3.3 1.5 -2.2 1.5 0 1.5 5 1.5 -10 1.5 8.3 1.5 -3.9 1.5 5.1 1.5 -4.2 1.5 -3 1.5 3.3 1.5 1.6 1.5 -2.5 1.5 1.6 1.5 -3.5 1.5 -5.7 1.5 10.7 1.5 -0.8 1.5 -1.9 1.5 -0.3 1.5 3.4 1.5 -5.2 1.5 -0.9 1.5 1.8 1.5 4.9 1.5 -9.1 1.5 9.1 1.5 -6.5 1.5 -1.6 1.5 8.3 1.5 -4.8 1.5 -4.2 1.5 3.3 1.5 4.5 1.5 0.9 1.5 -5.6 1.5 2.9 1.5 1.1 1.5 -4.8 1.5 3.5 1.5 -1.3 1.5 -1.8 1.5 0.1 1.5 2 1.5 -0.1 1.5 -2.1 1.5 0.5 1.5 5.4 1.5 -3.2 1.5 2.3 1.5 1.2 1.5 -2.2 1.5 5.9 1.5 -10.8 1.5 5.7 1.5 -4 1.5 7.6 1.5 -0.5 1.5 -12.8 1.5 3.4 1.5 5.8 1.5 0.4 1.5 -0.2 1.5 -2.8 1.5 1.8 1.5 0.7 1.5 -2.5 1.5 3.8 1.5 -11.5 1.5 10.1 1.5 -5.8 1.5 7 1.5 -4.2 1.5 -2.3 1.5 4.4 1.5 -4.5 1.5 0 1.5 -2.3 1.5 5.4 1.5 1.8 1.5 1.9 1.5 -4.1 1.5 4.2 1.5 -3.6 1.5 -0.4 1.5 2.3 1.5 1.7 1.5 -4.9 1.5 0.3 1.5 0.3 1.5 0.9 1.5 -3.5 1.5 6.8 1.5 -5 1.5 3 1.5 -4.5 1.5 4.1 1.5 0.1 1.5 -2.8 1.5 8.5 1.5 -5.7 1.5 4.9 1.5 -2.9 1.5 -5.7 1.5 1 1.5 2.9 1.5 -1.3 1.5 -0.1 1.5 -1.1 1.5 -5.4 1.5 5.6 1.5 -7 1.5 9.1 1.5 -3.9 1.5 0 1.5 1.8 1.5 1.7 1.5 -6 1.5 -1.1 1.5 2.4 1.5 -3.4 1.5 3.8 1.5 8.9 1.5 -9.3 1.5 6 1.5 -7.1 1.5 5.9 1.5 -2.2 1.5 0.9 1.5 2.2 1.5 4.2 1.5 -5.5 1.5 -0.2 1.5 -3.9 1.5 5.5 1.5 -2.9 1.5 3.7 1.5 -3 1.5 6.2 1.5 -13 1.5 5.9 1.5 4.1 1.5 -4.3 1.5 -1.6 1.5 1.9 1.5 -3.9 1.5 5.2 1.5 8.1 1.5 -4.5 1.5 -7.9 1.5 0.8 1.5 1.7 1.5 4.9 1.5 -6.4 1.5 0.5 1.5 5.5 1.5 -0.1 1.5 -4.3 1.5 -2.6 1.5 -1.5 1.5 2.9 1.5 -5.3 1.5 10.4 1.5 -4.8 1.5 3.9 1.5 4.8 1.5 -2.4 1.5 -8.2 1.5 7.1 1.5 1 1.5 -6.6 1.5 -0.8 1.5 3 1.5 -5.2 1.5 10.7 1.5 -13.6 1.5 4.6 1.5 2.9 1.5 0.2 1.5 1.3 1.5 0.4 1.5 -1.7 1.5 4.7 1.5 -11.4 1.5 7.4 1.5 -2.5 1.5 3 1.5 0.3 1.5 -4 1.5 1 1.5 5 1.5 -1.5 1.5 -3.7 1.5 9.6 1.5 0.9 1.5 -13.2 1.5 6.2 1.5 7.7 1.5 -6 1.5 -2 1.5 -1.5 1.5 -1.2 1.5 1.2 1.5 -1.2 1.5 4.5 1.5 -4 1.5 -0.1 1.5 -2.7 1.5 4 1.5 -2.9 1.5 2.5 1.5 4.2 1.5 -2.3 1.5 0.5 1.5 -0.6 1.5 -1 1.5 -0.7 1.5 -0.6 1.5 3.7 1.5 -6.4 1.5 8.5 1.5 -4.6 1.5 -2.7 1.5 0.9 1.5 -0.7 1.5 2.9 1.5 -3 1.5 6.5 1.5 -6.8 1.5 -5.2 1.5 5.4 1.5 -4.5 1.5 6.9 1.5 3.9 1.5 -1.5 1.5 -6.9 1.5 2 1.5 8.9 1.5 -5.1 1.5 -1.1 1.5 3.6 1.5 4.9 1.5 -4 1.5 -4.1 1.5 0.8 1.5 0.9 1.5 -4.3 1.5 -1.6 1.5 3.9 1.5 -3.5 1.5 3.1 1.5 0.6 1.5 7.8 1.5 -11.1 1.5 2.5 1.5 -0.1 1.5 2.1 1.5 2.1 1.5 -5.4 1.5 -1.2 1.5 -2.8 1.5 2.5 1.5 5.1 1.5 -1.7 1.5 -3.7 1.5 2.2 1.5 1.4 1.5 1.7 1.5 -3.9 1.5 1.2 1.5 -5.5 1.5 2.4 1.5 9.7 1.5 -13.4 1.5 6.5 1.5 2 1.5 -2.1 1.5 -1.5 1.5 2.6 1.5 0.2 1.5 -0.3 1.5 -6.3 1.5 6.1 1.5 -2.5 1.5 1.1 1.5 2.7 1.5 1.4 1.5 0.9 1.5 -4.9 1.5 5 1.5 0.9 1.5 -0.1 1.5 0.8 1.5 -5.3 1.5 -0.1 1.5 3.5 1.5 -7.7 1.5 5.5 1.5 -2.6 1.5 0.6 1.5 -4.8 1.5 2.9 1.5 3.1 1.5 3.2 1.5 0.3 1.5 -3.7 1.5 -0.4 1.5 -2.3 1.5 4.4 1.5 -2.3 1.5 3 1.5 4 1.5 -6.3 1.5 -5.1 1.5 2.2 1.5 -2.1 1.5 0.9 1.5 8.8 1.5 -3.8 1.5 -6.1 1.5 7.6 1.5 2.1 1.5 -5.6 1.5 -1.1 1.5 1.1 1.5 2.2 1.5 1.3 1.5 1.9 1.5 0.1 1.5 -0.1 1.5 0.6 1.5 -2.5 1.5 -7.6 1.5 4.9 1.5 1.5 1.5 -2.4 1.5 4.5 1.5 -4.5 1.5 -1.9 1.5 8.3 1.5 -2.8 1.5 -1.5 1.5 2.4 1.5 0.5 1.5 -2.5 1.5 -9.8 1.5 6.2 1.5 0.8 1.5 -1.9 1.5 4.2 1.5 3.5 1.5 -5.9 1.5 -2.3 1.5 11.1 1.5 -8.7 1.5 -2.7 1.5 5.1 1.5 0.7 1.5 -4 1.5 5.2 1.5 -4.4 1.5 -1.6 1.5 3.9 1.5 2.1 1.5 -5 1.5 3.4 1.5 -1.5 1.5 10.2 1.5 -12.3 1.5 7.3 1.5 -5 1.5 -0.3 1.5 3 1.5 0.6 1.5 1.3 1.5 -3.3 1.5 -3.3 1.5 0.3 1.5 3.6 1.5 0.3 1.5 2.8 1.5 -3.4 1.5 2.2 1.5 1.6 1.5 -4.7 1.5 -5.8 1.5 1.1 1.5 -0.9 1.5 10.6 1.5 -8.5 1.5 7.2 1.5 -2.2 1.5 3.9 1.5 -2.5 1.5 -3.8 1.5 -0.4 1.5 1 1.5 0.3 1.5 -2.4 1.5 1.7 1.5 5.7 1.5 -11.6 1.5 6.9 1.5 -4.1 1.5 3.9 1.5 2.2 1.5 -3.1 1.5 2.9 1.5 -8.3 1.5 9.5 1.5 -6 1.5 4.3 1.5 -1.6 1.5 -9.7 1.5 6.4 1.5 3.5 1.5 4.6 1.5 -4.4 1.5 -0.1 1.5 -5.9 1.5 10 1.5 1.3 1.5 -6.2 1.5 -0.9 1.5 -4.9 1.5 8.8 1.5 6.3 1.5 -6.9 1.5 1.9 1.5 -2.5 1.5 -5.4 1.5 8.1 1.5 -9 1.5 3.6 1.5 1.7 1.5 2.1 1.5 -1.6 1.5 -0.1 1.5 -4 1.5 -1.9 1.5 4.8 1.5 -2.7 1.5 -2.1 1.5 0.1 1.5 2.7 1.5 -4.7 1.5 1.7 1.5 -1 1.5 6.4 1.5 0.8 1.5 5.6 1.5 -12.3 1.5 2.8 1.5 5.6 1.5 -3.9 1.5 -0.4 1.5 7.1 1.5 -7.2 1.5 -2.8 1.5 -0.6 1.5 5.8 1.5 -0.1 1.5 -5.9 1.5 1.4 1.5 5.3 1.5 0.1 1.5 -4.2 1.5 4.4 1.5 -0.2 1.5 -8.2 1.5 5.1 1.5 2.5 1.5 -3.4 1.5 -5.5 1.5 6.5 1.5 3.6 1.5 2.9 1.5 -13.2 1.5 16.8 1.5 -13.1 1.5 7.3 1.5 1 1.5 -0.9 1.5 -2.9 1.5 -4.6 1.5 6.3 1.5 -4.7 1.5 -6.4 1.5 18.8 1.5 -7.5 1.5 3.9 1.5 -9.5 1.5 8.3 1.5 0.4 1.5 -0.1 1.5 -5.5 1.5 -4.2 1.5 3.6 1.5 -7.1 1.5 1.8 1.5 6.3 1.5 -3.8 1.5 2.9 1.5 0.2 1.5 7.1 1.5 -2.2 1.5 -4.7 1.5 4.4 1.5 -7 1.5 1.6 1.5 4.3 1.5 -7.5 1.5 3.4 1.5 -3.7 1.5 5 1.5 5.3 1.5 -8.3 1.5 3.4 1.5 -3.9 1.5 -0.9 1.5 -0.3 1.5 9.4 1.5 3.2 1.5 -6.6 1.5 -4.2 1.5 5 1.5 -3.7 1.5 4 1.5 -1.8 1.5 0 1.5 1.1 1.5 -4.1" fill="none" stroke="#ff3300" stroke-width="3.00" stroke-linejoin="round" stroke-linecap="round"/>
<path d="M150.6 3942.2 l1.5 -1.3 1.5 -2.6 1.5 -0.6 1.5 0.4 1.5 7 1.5 2.4 1.5 2.2 1.5 -2.3 1.5 -1.7 1.5 -1.4 1.5 1.2 1.5 4 1.5 3.7 1.5 -0.9 1.5 2.7 1.5 -1.1 1.5 2.4 1.5 -3.6 1.5 0.8 1.5 1.1 1.5 -0.2 1.5 -3 1.5 3.2 1.5 -0.8 1.5 -0.2 1.5 0.2 1.5 0.6 1.5 -3.3 1.5 5.4 1.5 -3.9 1.5 -2.2 1.5 3.5 1.5 2.4 1.5 -3.1 1.5 3.3 1.5 0 1.5 -3.9 1.5 -2.5 1.5 1.9 1.5 3.9 1.5 -3.2 1.5 -1.1 1.5 0.3 1.5 2.1 1.5 0 1.5 1.4 1.5 0.2 1.5 -3.1 1.5 1.2 1.5 -1.5 1.5 1.9 1.5 -1.9 1.5 -0.1 1.5 5.3 1.5 -3.3 1.5 0.9 1.5 3.1 1.5 -2.8 1.5 -1.5 1.5 0.3 1.5 -1.3 1.5 3 1.5 -2.3 1.5 3.3 1.5 -3.4 1.5 0 1.5 -0.1 1.5 1.7 1.5 -0.7 1.5 1.9 1.5 -3.1 1.5 1.4 1.5 2.6 1.5 -3.5 1.5 1.3 1.5 1.6 1.5 -1.6 1.5 -1.9 1.5 -2.3 1.5 7.1 1.5 -3.1 1.5 1.3 1.5 -2.8 1.5 3.7 1.5 -2.1 1.5 -0.7 1.5 -1.5 1.5 2 1.5 -1.4 1.5 0.4 1.5 -2.2 1.5 1.8 1.5 1.1 1.5 -2.3 1.5 2.1 1.5 1 1.5 -1.6 1.5 -0.5 1.5 0 1.5 2.5 1.5 -4 1.5 2 1.5 -0.2 1.5 0.9 1.5 -0.3 1.5 -1.7 1.5 5.1 1.5 -3 1.5 -2.4 1.5 0.7 1.5 1.6 1.5 0.8 1.5 -3.1 1.5 3.2 1.5 -3.3 1.5 0.9 1.5 2.7 1.5 1.3 1.5 -2.8 1.5 -0.4 1.5 2.5 1.5 -3.7 1.5 2.1 1.5 0 1.5 1.2 1.5 -1.1 1.5 -0.9 1.5 1.4 1.5 -2.8 1.5 3.1 1.5 -2.4 1.5 -0.4 1.5 0.9 1.5 0.7 1.5 1 1.5 -1.4 1.5 1.5 1.5 0.4 1.5 -1.8 1.5 -1.4 1.5 3.1 1.5 -1.1 1.5 -3.8 1.5 1.8 1.5 1.8 1.5 -2.4 1.5 1.1 1.5 -1.6 1.5 3.3 1.5 -0.2 1.5 -0.1 1.5 2 1.5 -2.9 1.5 0.1 1.5 3.7 1.5 -5.3 1.5 3.3 1.5 -3.3 1.5 2.5 1.5 3 1.5 -3 1.5 -1.6 1.5 5 1.5 -4.7 1.5 0.6 1.5 0.8 1.5 -2.6 1.5 3.9 1.5 0.8 1.5 -1.4 1.5 -0.7 1.5 -0.7 1.5 1.6 1.5 -6.4 1.5 4.8 1.5 0.6 1.5 -3.6 1.5 3.9 1.5 -0.9 1.5 0.1 1.5 0.3 1.5 0.7 1.5 -0.2 1.5 -2.4 1.5 1.5 1.5 -0.1 1.5 0.4 1.5 -1 1.5 2.5 1.5 0.5 1.5 0.3 1.5 0.6 1.5 -0.6 1.5 -3.1 1.5 -0.3 1.5 0.4 1.5 1.5 1.5 -1.1 1.5 1.8 1.5 1 1.5 -3.3 1.5 2.3 1.5 -2.2 1.5 -1.4 1.5 0 1.5 1.5 1.5 -2.5 1.5 3.8 1.5 1.6 1.5 -4.3 1.5 1.4 1.5 3 1.5 -1.9 1.5 -0.3 1.5 -0.7 1.5 2 1.5 -1.1 1.5 -2.2 1.5 -2.2 1.5 -0.4 1.5 5.4 1.5 -1.5 1.5 2.7 1.5 -1.5 1.5 -2.8 1.5 2.5 1.5 1.4 1.5 -3.3 1.5 0.6 1.5 3.6 1.5 -5.6 1.5 1.1 1.5 3.4 1.5 -1.4 1.5 -2.1 1.5 -0.5 1.5 3 1.5 1.2 1.5 -0.6 1.5 -0.6 1.5 1.7 1.5 -1.9 1.5 -1.8 1.5 4.6 1.5 -5.3 1.5 1.8 1.5 0.1 1.5 2.4 1.5 -3.5 1.5 0.8 1.5 -2.4 1.5 3.3 1.5 0.2 1.5 0.3 1.5 -2.5 1.5 1.9 1.5 -1.8 1.5 0.6 1.5 0.7 1.5 2.2 1.5 -2.8 1.5 1 1.5 -1.7 1.5 0.5 1.5 -0.2 1.5 0.8 1.5 1.5 1.5 -3 1.5 2.9 1.5 -2.6 1.5 2 1.5 -1.4 1.5 0.4 1.5 -0.1 1.5 2.3 1.5 -1.3 1.5 1.3 1.5 -2.3 1.5 0.2 1.5 2.9 1.5 -5.2 1.5 1.3 1.5 1.1 1.5 3.2 1.5 -3.9 1.5 2.2 1.5 1.3 1.5 -2.9 1.5 0.1 1.5 2.9 1.5 -3.5 1.5 -0.8 1.5 3 1.5 -2.2 1.5 2.9 1.5 -1.2 1.5 -3.6 1.5 3.2 1.5 -0.4 1.5 -1.1 1.5 2.8 1.5 -4.6 1.5 0.9 1.5 1.2 1.5 2 1.5 -3.7 1.5 1.4 1.5 -0.1 1.5 -1.3 1.5 1.8 1.5 -1.2 1.5 1.1 1.5 1.2 1.5 -1.9 1.5 0 1.5 -0.2 1.5 0.3 1.5 -1.2 1.5 0.6 1.5 2.1 1.5 -1.6 1.5 6.7 1.5 -6.6 1.5 2.1 1.5 -3.2 1.5 2 1.5 -0.4 1.5 0.7 1.5 2.3 1.5 -2.4 1.5 -1.7 1.5 2.1 1.5 -1.7 1.5 1.4 1.5 2.7 1.5 -1 1.5 0.2 1.5 -0.9 1.5 -0.9 1.5 -2.4 1.5 1.7 1.5 -0.1 1.5 2 1.5 0.5 1.5 -0.8 1.5 -2.1 1.5 4.3 1.5 -0.7 1.5 -2.6 1.5 0.6 1.5 0.7 1.5 -0.8 1.5 -0.4 1.5 1 1.5 -0.8 1.5 0.3 1.5 -2.9 1.5 0 1.5 10.9" fill="none" stroke="#00b050" stroke-width="6.00" stroke-linejoin="round" stroke-linecap="round"/>
<path d="M689.1 3962.3 l1.5 4.1 1.5 -15 1.5 -9.3 1.5 -0.1 1.5 -0.2 1.5 0.3 1.5 -0.2 1.5 -0.1 1.5 -0.3 1.5 0.2 1.5 -0.1 1.5 -0.1 1.5 0.3 1.5 0 1.5 0 1.5 -0.2 1.5 -0.1 1.5 0.3 1.5 -0.1 1.5 0.2 1.5 -0.3 1.5 -0.4 1.5 0.4 1.5 0.2 1.5 -0.4 1.5 -0.1 1.5 -0.2 1.5 0.5 1.5 -0.4 1.5 -0.1 1.5 0.1 1.5 -0.4 1.5 0.2 1.5 -0.2 1.5 0.2 1.5 0.1 1.5 0 1.5 -0.3 1.5 0.3 1.5 -0.3 1.5 -0.3 1.5 0.4 1.5 -0.2 1.5 0.1 1.5 -0.6 1.5 0.5 1.5 0 1.5 0 1.5 0.1 1.5 -0.3 1.5 0.4 1.5 -0.3 1.5 -0.1 1.5 -0.6 1.5 0.1 1.5 0.6 1.5 -0.2 1.5 0 1.5 -0.3 1.5 0 1.5 0.1 1.5 -0.3 1.5 0.4 1.5 -0.5 1.5 0.2 1.5 -0.1 1.5 0.1 1.5 0.1 1.5 -0.5 1.5 0.3 1.5 -0.1 1.5 0.1 1.5 -0.2 1.5 -0.1 1.5 0.1 1.5 0.1 1.5 -0.1 1.5 -0.2 1.5 0 1.5 -0.4 1.5 0.2 1.5 0 1.5 -0.1 1.5 -0.1 1.5 0.1 1.5 0.1 1.5 0.3 1.5 -0.6 1.5 -0.1 1.5 0.4 1.5 -0.3 1.5 -0.2 1.5 0.4 1.5 -0.3 1.5 -0.1 1.5 -0.1 1.5 -0.1 1.5 0.2 1.5 -0.3 1.5 0.7 1.5 -0.5 1.5 -0.1 1.5 -0.2 1.5 0.2 1.5 0.1 1.5 -0.2 1.5 -0.3 1.5 0.1 1.5 -0.3 1.5 0.6 1.5 -0.2 1.5 -0.1 1.5 -0.1 1.5 -0.2 1.5 0.1 1.5 0.2 1.5 -0.3 1.5 0.1 1.5 -0.1 1.5 0 1.5 -0.1 1.5 0.2 1.5 -0.3 1.5 0.1 1.5 -0.3 1.5 0 1.5 -0.1 1.5 0.3 1.5 -0.2 1.5 0.2 1.5 -0.4 1.5 0.2 1.5 -0.3 1.5 0.4 1.5 -0.4 1.5 0.2 1.5 -0.3 1.5 0 1.5 0.2 1.5 -0.5 1.5 0.1 1.5 0.5 1.5 -0.5 1.5 0.3 1.5 -0.3 1.5 -0.2 1.5 0.2 1.5 0.2 1.5 -0.2 1.5 -0.1 1.5 0.2 1.5 -0.3 1.5 0.2 1.5 -0.1 1.5 -0.3 1.5 0.4 1.5 0 1.5 -0.3 1.5 0 1.5 -0.1 1.5 -0.2 1.5 0.4 1.5 -0.4 1.5 0.2 1.5 -0.2 1.5 -0.1 1.5 0.3 1.5 -0.1 1.5 0.3 1.5 -0.5 1.5 0.1 1.5 -0.1 1.5 0 1.5 0.3 1.5 0 1.5 -0.1 1.5 -0.4 1.5 0.3 1.5 -0.1 1.5 -0.1 1.5 -0.2 1.5 0.5 1.5 0.1 1.5 -0.2 1.5 0 1.5 0.3 1.5 0 1.5 -0.3 1.5 -0.6 1.5 0.7 1.5 -0.1 1.5 0.1 1.5 1.5 1.5 4.5" fill="none" stroke="#00b050" stroke-width="4.00" stroke-linejoin="round" stroke-linecap="round"/>
<path d="M980.1 3942.5 l1.5 5.2 1.5 3.9 1.5 2.5 1.5 0.7 1.5 -0.4 1.5 -2.7 1.5 3.8 1.5 -1.8 1.5 0.6 1.5 1.2 1.5 -3.2 1.5 2.2 1.5 -2.7 1.5 1.7 1.5 0.9 1.5 -1.7 1.5 -1.1 1.5 0.8 1.5 -2.6 1.5 -3 1.5 4 1.5 -2.3 1.5 0.2 1.5 -2.9 1.5 -0.9 1.5 -1.4 1.5 -2.9 1.5 2.7 1.5 1.2 1.5 5.3 1.5 -4.9 1.5 4.9 1.5 1 1.5 1.6 1.5 1.3 1.5 2 1.5 2.6 1.5 -3.1 1.5 5.9 1.5 -0.7 1.5 0.2 1.5 -0.2 1.5 1.5 1.5 2.3 1.5 -2.9 1.5 -1 1.5 0.1 1.5 0 1.5 -1.9 1.5 -2.2 1.5 0 1.5 -0.2 1.5 -2.6 1.5 2.5 1.5 -0.3 1.5 -0.9 1.5 -3.9 1.5 -1 1.5 -2.1 1.5 3.2 1.5 -4.3 1.5 3.7 1.5 -8.5 1.5 5.1 1.5 1.7 1.5 0.3 1.5 2.2 1.5 3.7 1.5 -2.5 1.5 2.8 1.5 -1.1 1.5 -0.3 1.5 1.5 1.5 4.6 1.5 0.3 1.5 -2 1.5 4.3 1.5 1.7 1.5 1 1.5 1.2 1.5 -5.8 1.5 -0.3 1.5 -1.4 1.5 1 1.5 1 1.5 -4.4 1.5 0.3 1.5 -0.3 1.5 -3.5 1.5 1.1 1.5 -2.9 1.5 2.2 1.5 -1.8 1.5 -4.5 1.5 -1.3 1.5 3.2 1.5 -3.7 1.5 4.8 1.5 -1.6 1.5 -0.2 1.5 6.4 1.5 -1.2 1.5 -1.5 1.5 2.6 1.5 0.3 1.5 0.8 1.5 2.7 1.5 3.3 1.5 -3.3 1.5 4.6 1.5 -2.4 1.5 3.7 1.5 -1.3 1.5 0 1.5 0.2 1.5 2 1.5 -1.3 1.5 -2.8 1.5 -1.3 1.5 -0.2 1.5 3.8 1.5 -5.4 1.5 -1.9 1.5 -1.6 1.5 -0.7 1.5 0.7 1.5 -1.1 1.5 -6.4 1.5 7.1 1.5 -4 1.5 -1.9 1.5 3.9 1.5 -8.6 1.5 0.2 1.5 5.5 1.5 -0.8 1.5 2.9 1.5 1.8 1.5 2.4 1.5 -0.9 1.5 -1.1 1.5 -0.6 1.5 4.5 1.5 -2.2 1.5 4.6 1.5 -0.3 1.5 3.3 1.5 1.9 1.5 -0.1 1.5 -3 1.5 1.5 1.5 -2.8 1.5 0.6 1.5 -2.6 1.5 3.8 1.5 -6.4 1.5 -3.7 1.5 0.6 1.5 0.5 1.5 3.6 1.5 -3.7 1.5 -4.8 1.5 -0.2 1.5 -3.4 1.5 -1.7 1.5 3.1 1.5 -1.6 1.5 -1.8 1.5 0.4 1.5 2.3 1.5 0.7 1.5 -2.3 1.5 -1.4 1.5 5 1.5 -2.6 1.5 -1.7 1.5 3.2 1.5 1 1.5 1.6 1.5 -2.2 1.5 1.5 1.5 -2.4 1.5 3.3 1.5 -3.1 1.5 4 1.5 -0.5 1.5 -2.6 1.5 1.8 1.5 4.2 1.5 -4.3 1.5 -0.7 1.5 2.6 1.5 1.1 1.5 1.4 1.5 -1.4 1.5 -0.2 1.5 0.7 1.5 1.9 1.5 -1.3 1.5 1.6 1.5 -3.6 1.5 2.6 1.5 0.7 1.5 2 1.5 -0.7 1.5 -0.2 1.5 1.7 1.5 -1.3 1.5 5.1 1.5 -6.4 1.5 1.9 1.5 3 1.5 -1.5 1.5 -0.5 1.5 1.3 1.5 -2.1 1.5 1.1 1.5 0.4 1.5 3 1.5 -2.4 1.5 3.1 1.5 -3.5 1.5 0.5 1.5 -3.2 1.5 3.7 1.5 -4.2 1.5 4.2 1.5 0.5 1.5 -1 1.5 -2.4 1.5 1.2 1.5 -3.8 1.5 3 1.5 1.5 1.5 -0.4 1.5 -0.6 1.5 2.7 1.5 -1.6 1.5 -0.6 1.5 0.2 1.5 -2 1.5 1.4 1.5 -2.9 1.5 -1.4 1.5 3.9 1.5 2 1.5 -3.3 1.5 2.4 1.5 -3.5 1.5 2.7 1.5 0.1 1.5 -0.1 1.5 -2.4 1.5 3.2 1.5 0.2 1.5 -0.3 1.5 2.8 1.5 -4.3 1.5 0.9 1.5 1.6 1.5 -4.1 1.5 0.6 1.5 3.2 1.5 -2.3 1.5 -0.8 1.5 2 1.5 -3 1.5 2.4 1.5 -1.9 1.5 0.6 1.5 -3.3 1.5 4.6 1.5 0 1.5 -0.7 1.5 -0.8 1.5 1.4 1.5 2 1.5 -1 1.5 -2.6 1.5 1.5 1.5 -0.8 1.5 1.3 1.5 -2.2 1.5 3.7 1.5 -3.7 1.5 -0.3 1.5 2.2 1.5 2.1 1.5 -5.4 1.5 2.8 1.5 0.9 1.5 3.4 1.5 -6.8 1.5 4.2 1.5 -3 1.5 0.7 1.5 2.1 1.5 -1.5 1.5 -2.3 1.5 1.9 1.5 -0.3 1.5 0.9 1.5 -1.8 1.5 0.4 1.5 0.5 1.5 0.6 1.5 -0.3 1.5 1 1.5 0.3 1.5 -0.5 1.5 -1.6 1.5 -1.4 1.5 1 1.5 0.4 1.5 0.6 1.5 1.9 1.5 -1.6 1.5 -1.4 1.5 -0.6 1.5 1.9 1.5 -0.2 1.5 -1.3 1.5 -1 1.5 2.1 1.5 1.2 1.5 -0.3 1.5 -2.7 1.5 1.6 1.5 0.4 1.5 -1.2 1.5 1.4 1.5 -0.9 1.5 2.5 1.5 -2.5 1.5 3.6 1.5 -0.9 1.5 -1 1.5 -0.2 1.5 1.8 1.5 -2.8 1.5 1.3 1.5 -1.1 1.5 2.9 1.5 -3 1.5 0.1 1.5 -3.8 1.5 4.6 1.5 -1 1.5 1.5 1.5 -3.2 1.5 0.9 1.5 3.5 1.5 -3.3 1.5 1.5 1.5 1.2 1.5 -1.4 1.5 0 1.5 1.9 1.5 -2.8 1.5 1.7 1.5 -1.3 1.5 -1.4 1.5 1.9 1.5 2 1.5 -2.4 1.5 -0.8 1.5 0.8 1.5 -0.5 1.5 1.6 1.5 -2.4 1.5 3.1 1.5 -0.8 1.5 1.3 1.5 -2.7 1.5 2.2 1.5 -3.1 1.5 2.6 1.5 -1.3 1.5 -1.5 1.5 3.1 1.5 1 1.5 0.6 1.5 -2.2 1.5 -1.1 1.5 2.8 1.5 -3.9 1.5 1.7 1.5 -2.6 1.5 2.6 1.5 0.2 1.5 -1 1.5 2.3 1.5 -1.9 1.5 1 1.5 0.1 1.5 -1.1 1.5 -3.9 1.5 3.4 1.5 1 1.5 -1.9 1.5 1.7 1.5 -2.5 1.5 3.4 1.5 0 1.5 -0.4 1.5 -1.4 1.5 1.2 1.5 -2.4 1.5 0.7 1.5 2 1.5 -1.8 1.5 0.7 1.5 0.3 1.5 1.8 1.5 -2.8 1.5 0.2 1.5 -0.3 1.5 -1.5 1.5 2.9 1.5 -3.6 1.5 2 1.5 3.4 1.5 -2.1 1.5 -3.6 1.5 2 1.5 4.3 1.5 -3.1 1.5 3.4 1.5 -3.9 1.5 -3 1.5 4.3 1.5 -0.8 1.5 0.8 1.5 -2.1 1.5 0 1.5 0.7 1.5 -0.7 1.5 3.1 1.5 0.4 1.5 -2.2 1.5 1.9 1.5 -2.6 1.5 0.6 1.5 -2.2 1.5 4.7 1.5 -2.9 1.5 2.9 1.5 0 1.5 -1.2 1.5 -0.4 1.5 -2 1.5 3 1.5 -0.4 1.5 0.8 1.5 -1.2 1.5 -2.5 1.5 0.1 1.5 3.3 1.5 1.2 1.5 -3.1 1.5 0.3 1.5 0.7 1.5 -0.2 1.5 0.1 1.5 -0.9 1.5 0.7 1.5 -1.2 1.5 0.7 1.5 1.3 1.5 -1 1.5 -1.1 1.5 1.5 1.5 -2.3 1.5 0.8 1.5 -0.7 1.5 2.1 1.5 0.6 1.5 -1.6 1.5 -0.8 1.5 2.1 1.5 -0.3 1.5 -2.9 1.5 4 1.5 0 1.5 -1.9 1.5 0.3 1.5 -0.1 1.5 -0.6 1.5 1.4 1.5 -1.8 1.5 0.7 1.5 0.7 1.5 -3 1.5 1.9 1.5 -1.2 1.5 1.3 1.5 -0.1 1.5 0.5 1.5 0.5 1.5 -1.9 1.5 2.1 1.5 -3.2 1.5 4.2 1.5 -1.6 1.5 1.4 1.5 -4.4 1.5 5.3 1.5 -2.7 1.5 1 1.5 -0.3 1.5 -0.3 1.5 -0.7 1.5 -2.4 1.5 5.2 1.5 1 1.5 -4 1.5 3.2 1.5 -0.7 1.5 -0.9 1.5 -0.8 1.5 1.2 1.5 -2 1.5 0.5 1.5 -0.3 1.5 -0.3 1.5 0.3 1.5 1.8 1.5 0.1 1.5 -2.3 1.5 1.2 1.5 -0.2 1.5 -2.5 1.5 4.6 1.5 -3.6 1.5 3.6 1.5 -5.5 1.5 2.4 1.5 2.5 1.5 -0.5 1.5 0.1 1.5 -0.9 1.5 3.4 1.5 -3.2 1.5 0.5 1.5 -1.7 1.5 -0.2 1.5 3.5 1.5 0 1.5 -5.1 1.5 2 1.5 2.9 1.5 -1.8 1.5 1.4 1.5 -4.4 1.5 3.2 1.5 -0.3 1.5 0.1 1.5 -1.2 1.5 1 1.5 2.9 1.5 -4.6 1.5 1.7 1.5 -0.4 1.5 0 1.5 3.4 1.5 -0.4 1.5 -3.1 1.5 1.4 1.5 -2.2 1.5 1.9 1.5 -1.1 1.5 3 1.5 -1.7 1.5 -2.4 1.5 -1.2 1.5 1.1 1.5 5.2 1.5 -5 1.5 -0.7 1.5 1.2 1.5 0.3 1.5 1.8 1.5 -2.3 1.5 4 1.5 -2.7 1.5 0.5 1.5 1.8 1.5 -2 1.5 0.2 1.5 0.5 1.5 -2.2 1.5 0.3 1.5 2 1.5 -2.4 1.5 0.3 1.5 2.5 1.5 -0.6 1.5 -0.4 1.5 -2.4 1.5 5 1.5 -3.4 1.5 -0.3 1.5 0.3 1.5 -1.1 1.5 0.9 1.5 3.7 1.5 -5.7 1.5 6 1.5 -5.1 1.5 0 1.5 3.7 1.5 0.9 1.5 -3.7 1.5 2 1.5 -2.7 1.5 0.7 1.5 -0.6 1.5 1.4 1.5 -1.3 1.5 1.3 1.5 -0.8 1.5 0.5 1.5 0.1 1.5 -1.2 1.5 0.5 1.5 -1.3 1.5 2.7 1.5 0.4 1.5 -1.8 1.5 0.1 1.5 -0.4 1.5 0.1 1.5 1 1.5 -3 1.5 0.4 1.5 2.4 1.5 1.4 1.5 -2.6 1.5 2.4 1.5 0.2 1.5 -1.3 1.5 3.4 1.5 -3.8 1.5 0.4 1.5 -2 1.5 0.2 1.5 1.8 1.5 0.7 1.5 -1.2 1.5 0.2 1.5 0.3 1.5 1 1.5 -3.9 1.5 3.9 1.5 -2.6 1.5 2.1 1.5 0.5 1.5 -3.5 1.5 4 1.5 -1.7 1.5 -0.9 1.5 3.7 1.5 -4.9 1.5 -0.4 1.5 2.7 1.5 0.4 1.5 -1.1 1.5 1.3 1.5 -4.7 1.5 5.4 1.5 -1.3 1.5 -2 1.5 -0.2 1.5 2.6 1.5 -0.1 1.5 -1.6 1.5 1.2 1.5 -0.1 1.5 1.7 1.5 -3.2 1.5 3.1 1.5 -1.5 1.5 0 1.5 0.7 1.5 -1.6 1.5 -1.5 1.5 -0.3 1.5 4.2 1.5 -4.4 1.5 4.5 1.5 -2.8 1.5 2.9 1.5 -3.3 1.5 2 1.5 -0.2 1.5 1 1.5 -1.9 1.5 1.3 1.5 1.8 1.5 -4.7 1.5 3.9 1.5 -3.4 1.5 3.3 1.5 -2.2 1.5 3 1.5 -2.8 1.5 -0.4 1.5 2.5 1.5 -2 1.5 0 1.5 1.9 1.5 0.8 1.5 -0.9 1.5 -4.5 1.5 3.6 1.5 0 1.5 0.9 1.5 0.3 1.5 0 1.5 -0.9 1.5 2.5 1.5 -3.5 1.5 -0.8 1.5 -0.9 1.5 1.4 1.5 1.9 1.5 -1.2 1.5 2.2 1.5 -2.3 1.5 -0.8 1.5 3.3 1.5 -2.8 1.5 2.2 1.5 -5.4 1.5 1.5 1.5 1.2 1.5 -0.8 1.5 2.1 1.5 -0.3 1.5 0.2 1.5 -1.8 1.5 0.1 1.5 0.3 1.5 3.4 1.5 -2.8 1.5 1.9 1.5 -2.8 1.5 -1 1.5 2.5 1.5 1.3 1.5 -4.2 1.5 1.8 1.5 1.8 1.5 -1.4 1.5 -0.1 1.5 1.7 1.5 -1 1.5 0.1 1.5 -1.1 1.5 1.2 1.5 -1.2 1.5 3 1.5 -7.2 1.5 5.1 1.5 1 1.5 -2.7 1.5 2.5 1.5 -2.1 1.5 2.3 1.5 1.5 1.5 -3 1.5 3.9 1.5 -3.6 1.5 -3.8 1.5 3.2 1.5 0.9 1.5 0.1 1.5 -0.4 1.5 0.6 1.5 -0.9 1.5 2.5 1.5 -1.7 1.5 -0.7 1.5 3.2 1.5 -5 1.5 -1 1.5 1.9 1.5 -3 1.5 4.9 1.5 -1.3 1.5 3.9 1.5 -4.9 1.5 -0.4 1.5 3 1.5 -0.1 1.5 0.1 1.5 -2 1.5 0 1.5 1.8 1.5 -1.2 1.5 1.2 1.5 0.9 1.5 -2.3 1.5 1.4 1.5 -4 1.5 5.7 1.5 -0.1 1.5 -2.2 1.5 -0.6 1.5 0.6 1.5 0.2 1.5 -0.5 1.5 -0.9 1.5 1.5 1.5 1.4 1.5 -5 1.5 2.3 1.5 -0.5 1.5 -0.5 1.5 1.8 1.5 -3.5 1.5 2.8 1.5 2 1.5 0.1 1.5 -0.4 1.5 -0.5 1.5 0.8 1.5 -1.1 1.5 0.6 1.5 0.4 1.5 1.2 1.5 -0.7 1.5 -0.3 1.5 -3.8 1.5 2.9 1.5 -0.2 1.5 -1.1 1.5 -0.8 1.5 2.6 1.5 -0.9 1.5 -0.6 1.5 -1.3 1.5 0.6 1.5 0.3 1.5 1.4 1.5 2.1 1.5 -2.3 1.5 -3.5 1.5 3.8 1.5 0.1 1.5 -2.4 1.5 -0.5 1.5 2.1 1.5 1.2 1.5 -0.6 1.5 1.9 1.5 -2.7 1.5 0.2 1.5 -1.4 1.5 2.9 1.5 -1.2 1.5 0.5 1.5 -4.5 1.5 0.8 1.5 3.4 1.5 0.4 1.5 -1.7 1.5 0.2 1.5 1.6 1.5 -2.4 1.5 1.3 1.5 -1.6 1.5 0.6 1.5 2.3 1.5 -4.1 1.5 1.6 1.5 -2.8 1.5 4.5 1.5 -0.2 1.5 4.3 1.5 -5.3 1.5 1" fill="none" stroke="#00b050" stroke-width="6.00" stroke-linejoin="round" stroke-linecap="round"/>
<path d="M150.6 3948.1 l2 0.5 2 -0.9 2 1.1 2 0.3 2 -0.8 2 0.4 2 -0.1 2 -0.3 2 -0.2 2 -0.6 2 1.7 2 -0.7 2 1.3 2 -0.9 2 -0.3 2 -0.4 2 1 2 -1 2 1.1 2 -1 2 0.3 2 -0.9 2 2 2 -1.2 2 -0.2 2 0.6 2 -0.8 2 0.8 2 -1 2 0.9 2 -0.8 2 -0.4 2 0.6 2 -0.4 2 1 2 -0.3 2 0.3 2 -0.3 2 -0.2 2 0.2 2 0.5 2 -0.6 2 -0.3 2 -0.1 2 0.4 2 -0.3 2 1.3 2 -1.5 2 0.1 2 0.3 2 0.5 2 -0.4 2 -0.4 2 0.1 2 0.2 2 0.7 2 -1 2 0.5 2 -0.3 2 0.5 2 0 2 -0.9 2 1.9 2 -1.1 2 -0.4 2 -0.1 2 0.3 2 0.1 2 0.3 2 -0.3 2 0.2 2 -1 2 0.4 2 -0.1 2 0.6 2 0.1 2 -0.9 2 0.6 2 0.5 2 0.1 2 -1.1 2 0.9 2 -0.1 2 -0.4 2 1.2 2 -1.6 2 0.5 2 0.3 2 -0.1 2 -0.2 2 0.8 2 0 2 -0.2 2 0 2 -0.5 2 -0.6 2 1.7 2 -1.6 2 1.6 2 -1.2 2 0.2 2 -0.2 2 0.6 2 -0.8 2 1.2 2 -0.6 2 -0.2 2 -0.4 2 0.4 2 -0.1 2 0.9 2 -0.4 2 -1.3 2 1.6 2 -2 2 2 2 -1.7 2 0.9 2 0.4 2 -0.4 2 -0.5 2 1.1 2 -1.5 2 0.2 2 1.4 2 -1.1 2 0.5 2 0.3 2 -0.5 2 0.2 2 0 2 0 2 0.5 2 -0.1 2 -0.3 2 0.3 2 -0.8 2 -0.1 2 -0.1 2 0.9 2 0.4 2 -0.8 2 -1 2 0.7 2 0.5 2 -0.1 2 -0.1 2 0.5 2 0 2 -1.2 2 0.9 2 -0.6 2 0.5 2 0.5 2 0.3 2 -0.6 2 -0.6 2 0.1 2 0.5 2 -0.8 2 0.5 2 0.3 2 0.2 2 -0.6 2 0.3 2 0.5 2 -0.5 2 -1.1 2 1 2 0 2 -0.3 2 0.2 2 -0.7 2 1.3 2 -0.4 2 -0.5 2 0.4 2 0 2 -0.5 2 -0.9 2 -0.1 2 2.4 2 -1.6 2 0.5 2 0.4 2 -0.5 2 0.8 2 -1.1 2 0.8 2 -1.3 2 1.4 2 -0.1 2 -0.1 2 0 2 -0.1 2 0.3 2 0.1 2 -1 2 1 2 -1 2 0.6 2 -0.2 2 0.3 2 -0.4 2 0.4 2 -0.4 2 -0.3 2 1 2 -0.2 2 0 2 0.2 2 -1 2 1 2 -1 2 0.7 2 -0.3 2 0.2 2 0.2 2 -0.3 2 -0.5 2 1 2 0.1 2 -0.3 2 0.2 2 -1.4 2 0.9 2 -0.1 2 -0.9 2 1.1 2 -0.1 2 -0.8 2 0.4 2 0.4 2 0.3 2 0.1 2 -1 2 0.1 2 0.2 2 0.3 2 -0.3 2 0.2 2 0.5 2 -0.1 2 -0.2 2 -0.7 2 0.4 2 0.5 2 0.1 2 0.1 2 -1 2 0.3 2 -0.4 2 -0.9 2 1 2 -0.4 2 1.6 2 -0.5 2 -0.5 2 0.3 2 0.2 2 0.7 2 -0.5 2 0.4 2 -0.6 2 0.5 2 0 2 -0.2 2 -0.5 2 0.6 2 6.9 2 2.9 2 -0.6 2 0 2 1.6 2 -0.9 2 0.5 2 -0.4 2 0.4 2 0.4 2 0 2 1.3 2 -0.7 2 -0.1 2 1.4 2 0.1 2 -1.3 2 1.1 2 1 2 -0.7 2 0.5 2 0.2 2 -0.8 2 0.9 2 1.1 2 0.5 2 -0.5 2 0.2 2 0.5 2 0.1 2 0.4 2 -0.5 2 0.7 2 0.4 2 0.3 2 -0.9 2 1.4 2 -0.1 2 0.2 2 -0.7 2 0.8 2 -1 2 -0.7 2 1.1 2 -0.2 2 -0.2 2 -0.1 2 -0.3 2 0.4 2 -0.3 2 0.2 2 0.3 2 -1.1 2 -0.2 2 0.4 2 -1.6 2 0.1 2 0.1 2 -1.1 2 1.1 2 0.1 2 -1.6 2 0.1 2 0.7 2 0.1 2 -1.6 2 1 2 -0.5 2 -0.9 2 0.6 2 -0.2 2 0.3 2 -0.2 2 -0.2 2 -0.1 2 -0.1 2 0.2 2 0.2 2 -0.1 2 -1.1 2 0 2 -0.1 2 1 2 -0.6 2 -0.7 2 -0.3 2 -0.1 2 0.5 2 -0.7 2 0.4 2 0.6 2 -0.9 2 0.5 2 -1.3 2 0.8 2 -0.1 2 -0.7 2 1 2 -0.8 2 -0.4 2 0.1 2 0.5 2 -1.3 2 0.7 2 -0.6 2 0.5 2 -0.5 2 0.1 2 0.3 2 -0.4 2 0.1 2 0 2 -0.3 2 -0.1 2 -0.2 2 0.2 2 0.1 2 0.3 2 -0.2 2 -1.5 2 0.6 2 0 2 0.4 2 -0.1 2 -1.2 2 0.8 2 -1 2 0.6 2 -0.2 2 0.1 2 1.1 2 -1 2 0 2 0.3 2 0.4 2 -1.4 2 1.7 2 -1.2 2 -0.1 2 0.6 2 0.2 2 1.1 2 -1 2 -0.7 2 0.2 2 -0.4 2 0.8 2 0.1 2 -0.6 2 0.8 2 -1.4 2 0.6 2 -0.3 2 0.2 2 -0.5 2 1.3 2 -1 2 0.4 2 0.7 2 0.2 2 -0.2 2 -1.7 2 0.9 2 0 2 -0.1 2 -0.1 2 0.1 2 0.6 2 -0.5 2 -0.5 2 -0.1 2 0.9 2 -1 2 1.2 2 -0.6 2 0 2 0.4 2 -0.3 2 0.6 2 -1 2 -0.3 2 1.9 2 -0.9 2 -1.4 2 2.1 2 -1.5 2 1.7 2 -0.1 2 -0.5 2 -0.4 2 -0.4 2 0.9 2 -0.7 2 0.7 2 -0.6 2 -0.7 2 0.4 2 0.4 2 -0.2 2 0.3 2 -0.6 2 1.3 2 -1.1 2 0.6 2 -1.1 2 1.2 2 0.4 2 -0.5 2 -0.4 2 -0.4 2 0.8 2 0 2 -0.9 2 0.6 2 0.3 2 -0.7 2 0.7 2 -0.4 2 0.8 2 -1.3 2 0.9 2 -0.2 2 -1 2 0.4 2 0.1 2 0.9 2 -0.7 2 0.2 2 0.1 2 1.2 2 -1.4 2 1.1 2 -1.1 2 -0.7 2 0.4 2 -0.2 2 0.4 2 -0.5 2 0.2 2 1.5 2 -0.9 2 0.1 2 0.7 2 -1.7 2 1.1 2 -0.5 2 0.2 2 -0.3 2 0.4 2 0.5 2 0 2 -0.5 2 0.3 2 -1 2 -0.9 2 2 2 0.5 2 -0.8 2 -0.5 2 0.3 2 0.6 2 -1.2 2 0.6 2 0.3 2 -0.8 2 1.6 2 -0.7 2 0.4 2 -1.3 2 0.9 2 0.9 2 -0.3 2 0.6 2 -1.4 2 1.1 2 -0.7 2 1 2 0.6 2 0 2 -0.3 2 1 2 0.4 2 -0.5 2 0.3 2 0 2 -0.1 2 -1 2 0.2 2 -0.7 2 0.1 2 0.2 2 -1.5 2 -1.1 2 -0.9 2 -0.3 2 -0.4 2 -1.2 2 -1.4 2 -0.4 2 -0.8 2 -0.6 2 -2 2 -0.2 2 -1.4 2 -1 2 0.1 2 -1.3 2 0.1 2 0.9 2 -0.2 2 -0.2 2 1.2 2 -0.5 2 0.3 2 0.6 2 0.5 2 0.8 2 -0.3 2 -0.4 2 1 2 0.8 2 0.1 2 0.3 2 -0.2 2 0.8 2 0.8 2 -0.2 2 -0.9 2 -0.2 2 -0.3 2 0.8 2 -1.1 2 0 2 -0.4 2 -0.3 2 0.2 2 0.3 2 -0.9 2 0.7 2 -0.9 2 0.2 2 0.7 2 -0.3 2 -1 2 0 2 0 2 0.5 2 -1.2 2 0.7 2 0.4 2 -0.3 2 0 2 1.3 2 -1.3 2 0.6 2 0 2 0.1 2 -0.2 2 1 2 -0.3 2 1 2 -1.4 2 0.8 2 -0.6 2 0.8 2 0.6 2 -1.1 2 1.2 2 -0.8 2 -0.1 2 0.9 2 0.3 2 -0.3 2 0.2 2 -0.1 2 -0.1 2 -0.7 2 1 2 -0.1 2 0.7 2 -0.6 2 1.4 2 -0.7 2 -0.5 2 0.5 2 -0.4 2 0.7 2 -0.8 2 0.9 2 -1.2 2 0.6 2 -0.1 2 -0.4 2 0.2 2 0.2 2 -0.6 2 0.2 2 0.6 2 -0.6 2 1.2 2 0 2 -1 2 0.4 2 0.1 2 0.1 2 -0.7 2 0.7 2 -0.7 2 0.3 2 0.6 2 -0.6 2 -0.5 2 0.2 2 0.5 2 -0.6 2 -0.1 2 0.6 2 -0.6 2 1.6 2 -1.4 2 0.6 2 -1 2 0.5 2 0.6 2 -0.1 2 0 2 -0.6 2 0.4 2 -0.2 2 -0.6 2 1.3 2 -0.9 2 0.2 2 0.5 2 -0.1 2 1 2 -1.3 2 0.7 2 -0.8 2 0.1 2 0.5 2 -0.2 2 -0.5 2 0.2 2 0.1 2 0.7 2 -1.2 2 0.5 2 0.2 2 -0.2 2 -0.3 2 0.6 2 -0.9 2 1.5 2 -2.3 2 0.3 2 1.1 2 0.2 2 -0.1 2 -0.5 2 0.2 2 0.1 2 -0.4 2 0.2 2 -0.3 2 1.1 2 -0.4 2 -0.4 2 0 2 0 2 0 2 0.3 2 -0.3 2 0 2 0.4 2 -0.3 2 0.1 2 0 2 -0.1 2 -0.5 2 0.5 2 0.7 2 -1 2 0 2 0.2 2 0 2 0.9 2 -0.8 2 0.7 2 -0.2 2 0 2 -0.1 2 -0.1 2 0.1 2 0.3 2 -1.6 2 1.2 2 0.4 2 -0.9 2 0.3 2 0.4 2 -1.3 2 1.1 2 -0.7 2 0.6 2 0.1 2 -0.1 2 -0.6 2 0.5 2 -0.3 2 0.5 2 -0.4 2 -0.2 2 0.9 2 -1.1 2 0.3 2 0.8 2 -0.3 2 0.2 2 -0.9 2 0.6 2 -0.5 2 -0.5 2 1.2 2 -0.8 2 0.6 2 -0.6 2 0.8 2 0 2 -0.8 2 0 2 -0.8 2 1.1 2 0.1 2 -0.3 2 0.7 2 -0.3 2 0 2 -0.3 2 -0.5 2 0.8 2 0.4 2 0.2 2 -0.5 2 -0.7 2 0.4 2 0.3 2 -0.7 2 0.4 2 -0.1 2 -0.1 2 -0.1 2 0.6 2 0.2 2 0.3 2 -0.7 2 0.1 2 -0.9 2 1 2 0.6 2 -1.1 2 0.6 2 -0.5 2 0.6 2 0.1 2 -1.1 2 0.2 2 0.1 2 0.3 2 0.8 2 -0.7 2 0.1 2 0 2 -0.4 2 0.8 2 -0.2 2 0.1 2 -0.3 2 -0.8 2 1 2 -0.6 2 -0.2 2 1.8 2 -0.8 2 -0.7 2 0.6 2 0.2 2 -0.5 2 -0.3 2 0.7 2 -0.1 2 -0.1 2 -1.1 2 1 2 0.8 2 -1.5 2 0.3 2 -0.2 2 0.1 2 0.2 2 1.1 2 -1.2 2 1 2 -1.3 2 0.8 2 -0.3 2 -0.2 2 0.3 2 0.6 2 -0.5 2 0.1 2 -0.3 2 0.2 2 0 2 0.2 2 -0.5 2 -0.2 2 0.1 2 0 2 0.5 2 -0.7 2 0.8 2 -0.3 2 0.5 2 -0.5 2 0.5 2 -0.4 2 -0.1 2 -0.2 2 0.4 2 -0.2 2 -0.4 2 0.1 2 -0.8 2 1.6 2 0 2 -0.8 2 -0.4 2 0.9 2 0.3 2 -0.6 2 -0.3 2 0.9 2 -0.1 2 0 2 0.5 2 -1 2 0.1 2 0.9 2 -0.6 2 0.9 2 -2.6 2 0.5 2 1.1 2 -0.1 2 -0.8 2 0.1 2 0 2 0.8 2 -1 2 0.6 2 -0.3 2 -1.1 2 1.6 2 0.8 2 -1 2 0.4 2 -0.3 2 -0.1 2 -0.8 2 0.8 2 -1 2 0.7 2 0.4 2 0 2 -0.5 2 0.4 2 -0.5 2 0.9 2 -0.9 2 1.9 2 -0.9 2 -0.5 2 1 2 -1.4 2 1.1 2 -0.9 2 0.3 2 -0.3 2 -0.1 2 0.1 2 0.4 2 -0.3 2 1.1 2 -0.9 2 -1.4 2 1 2 0.2 2 0.3 2 0.2 2 -1 2 0.8 2 -0.6 2 0.5 2 -0.2 2 0.8 2 -0.1 2 0.2 2 -1.1 2 0.1 2 0.3 2 -0.3 2 -0.1 2 0.6 2 0.8 2 -0.9 2 0.6 2 -1.5 2 1.8 2 0 2 -1 2 -0.3 2 0.6 2 -1.2 2 1 2 -1 2 1.6 2 -0.8 2 -0.3 2 -0.7 2 1.8 2 -0.7 2 -0.3 2 0.9 2 -1.3 2 1.2 2 0.1 2 -0.8 2 0.8 2 0.2 2 -1.2 2 0 2 0.8 2 0 2 -0.8 2 -1.2 2 0.8 2 1.4 2 -0.9 2 -0.2 2 0.7 2 -1.1 2 2 2 -2.1 2 0.9 2 0.3 2 0.1 2 -0.9 2 0.4 2 0.7 2 -0.4 2 0.2 2 -0.2 2 0 2 -0.5 2 -0.2 2 0.5 2 -0.5 2 1.3 2 -0.3 2 0.2 2 -1.4 2 0.1 2 1 2 -0.2 2 0 2 0.4 2 -1 2 -0.1 2 0.2 2 1.4 2 -1 2 -0.4 2 1.1 2 -0.3 2 0 2 -0.1 2 -0.4 2 1 2 -0.5 2 -1 2 0 2 0.3 2 0.7 2 -0.7 2 0.2 2 -0.1 2 0.2 2 0.6 2 -0.8 2 0.2 2 0.8 2 -1.6 2 1 2 -0.1 2 -0.1 2 0.5 2 0.6" fill="none" stroke="#0000ff" stroke-width="5.00" stroke-linejoin="round" stroke-linecap="round"/>
</g>
<line x1="418.5" y1="3668.6" x2="418.5" y2="4224.4" stroke="#000" stroke-width="3" stroke-dasharray="5.8 2.9"/>
<line x1="688.4" y1="3668.6" x2="688.4" y2="4224.4" stroke="#000" stroke-width="3" stroke-dasharray="5.8 2.9"/>
<line x1="957.6" y1="3668.6" x2="957.6" y2="4224.4" stroke="#000" stroke-width="3" stroke-dasharray="5.8 2.9"/>
<line x1="1226.5" y1="3668.6" x2="1226.5" y2="4224.4" stroke="#000" stroke-width="3" stroke-dasharray="5.8 2.9"/>
<line x1="1496.8" y1="3668.6" x2="1496.8" y2="4224.4" stroke="#000" stroke-width="3" stroke-dasharray="5.8 2.9"/>
<line x1="1765.8" y1="3668.6" x2="1765.8" y2="4224.4" stroke="#000" stroke-width="3" stroke-dasharray="5.8 2.9"/>
<line x1="2034.8" y1="3668.6" x2="2034.8" y2="4224.4" stroke="#000" stroke-width="3" stroke-dasharray="5.8 2.9"/>
<line x1="150.6" y1="3807.6" x2="174" y2="3807.6" stroke="#222" stroke-width="3.5"/>
<line x1="150.6" y1="4085.6" x2="174" y2="4085.6" stroke="#222" stroke-width="3.5"/>
<rect x="150.6" y="3668.6" width="2152.8" height="555.8" fill="none" stroke="#222" stroke-width="2.9"/>
<rect x="1750.5" y="4007.4" width="535.3" height="197.9" fill="#fff" stroke="#000" stroke-width="2.9"/>
<line x1="1774.3" y1="4040.4" x2="1930.5" y2="4040.4" stroke="#ff0000" stroke-width="12.5" stroke-linecap="round"/>
<line x1="1774.3" y1="4095.4" x2="1930.5" y2="4095.4" stroke="#00b050" stroke-width="12.5" stroke-linecap="round"/>
<line x1="1774.3" y1="4161.0" x2="1930.5" y2="4161.0" stroke="#0a8cff" stroke-width="12.5" stroke-linecap="round"/>
<text transform="translate(1961.23,4058.05) scale(0.9757,1)" font-size="55.02" fill="#000">Uncontrolled</text>
<text transform="translate(1963.69,4112.36) scale(1.0002,1)" font-size="53.60" fill="#000">PIR  control</text>
<text transform="translate(1965.20,4175.36) scale(0.9818,1)" font-size="54.45" fill="#000">PI-DR control</text>
<text transform="translate(103.63,3683.51) scale(0.9789,1)" font-size="38.57" fill="#222">10</text>
<text transform="translate(118.80,3822.61) scale(0.8948,1)" font-size="39.35" fill="#222">5</text>
<text transform="translate(118.28,3965.42) scale(1.0065,1)" font-size="38.42" fill="#222">0</text>
<text transform="translate(108.65,4102.41) scale(0.9443,1)" font-size="39.05" fill="#222">-5</text>
<text transform="translate(86.34,4247.54) scale(0.9843,1)" font-size="45.96" fill="#222">-10</text>
<text transform="translate(135.23,4288.29) scale(0.9971,1)" font-size="45.74" fill="#222">0.2</text>
<text transform="translate(390.34,4288.29) scale(0.9891,1)" font-size="45.74" fill="#222">0.25</text>
<text transform="translate(674.36,4288.29) scale(0.9765,1)" font-size="45.74" fill="#222">0.3</text>
<text transform="translate(930.15,4288.29) scale(0.9865,1)" font-size="45.74" fill="#222">0.35</text>
<text transform="translate(1210.73,4288.29) scale(0.9976,1)" font-size="45.74" fill="#222">0.4</text>
<text transform="translate(1466.94,4288.29) scale(0.9918,1)" font-size="45.74" fill="#222">0.45</text>
<text transform="translate(1750.93,4288.29) scale(0.9951,1)" font-size="45.74" fill="#222">0.5</text>
<text transform="translate(2007.33,4288.29) scale(0.9931,1)" font-size="45.74" fill="#222">0.55</text>
<text transform="translate(2287.12,4288.29) scale(1.0015,1)" font-size="45.74" fill="#222">0.6</text>
<text transform="translate(1029.09,4316.06) scale(0.9884,1)" font-size="55.04" fill="#111">Time(s)</text>
<text transform="translate(94.20,4013.80) rotate(-90) scale(1.0699,1)" font-size="56.33" fill="#000"><tspan font-style="italic">I</tspan></text>
<text transform="translate(91.07,3994.28) rotate(-90) scale(1.1803,1)" font-size="32.49" fill="#000"><tspan font-style="italic">q</tspan></text>
<text transform="translate(94.24,3959.19) rotate(-90) scale(0.9990,1)" font-size="55.15" fill="#000"><tspan>(A)</tspan></text>
<text transform="translate(910.31,4443.50) scale(1.0791,1)" font-size="79.00" fill="#000"><tspan>(</tspan><tspan font-weight="bold">d</tspan><tspan>)</tspan></text>
<text transform="translate(1034.69,4443.50) scale(1.0394,1)" font-size="79.00" fill="#000">q-axis</text>
<text transform="translate(1252.37,4443.50) scale(1.0807,1)" font-size="79.00" fill="#000">current</text>
</svg>
</body></html>
